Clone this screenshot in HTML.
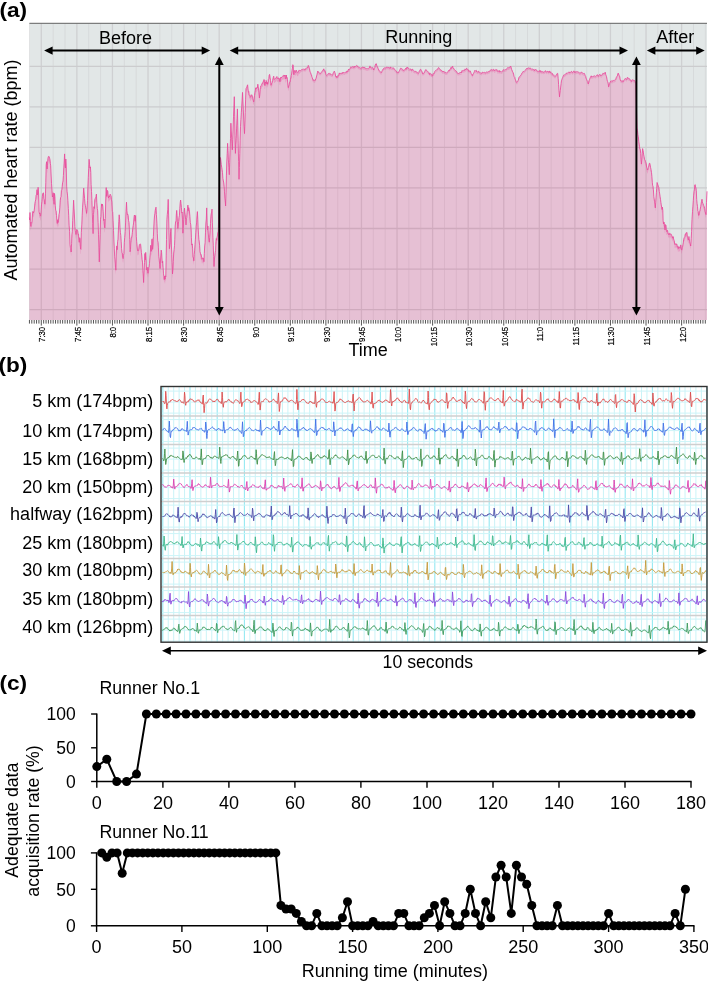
<!DOCTYPE html>
<html><head><meta charset="utf-8"><style>
html,body{margin:0;padding:0;background:#fff;width:708px;height:982px;overflow:hidden}
svg{display:block}
</style></head><body>
<svg width="708" height="982" viewBox="0 0 708 982">
<g transform="translate(-0.6,17.3) scale(1.08,1)"><text font-family='"Liberation Sans", sans-serif' font-weight="bold" font-size="21">(a)</text></g>
<rect x="29.4" y="23.5" width="677.6" height="296.5" fill="#e2e7e7"/>
<path d="M29.4,218.5L29.7,220.9L30,213.4L30.4,222.4L30.8,227.3L31.2,223.5L31.7,224.1L32.1,221.8L32.5,214.9L32.9,212.3L33.3,214L33.7,213.1L34.1,211.8L34.5,208.9L34.9,204.2L35.3,202.2L35.7,200.8L36.1,196.2L36.6,195.1L37,190.5L37.4,196L37.7,195.7L38.1,188.2L38.6,195L39.1,212.7L39.5,214.7L39.9,213.9L40.3,216.5L40.7,217.1L41.1,211.8L41.5,205.8L41.9,202.3L42.3,197.6L42.7,194.6L43.1,193.8L43.5,193.8L43.9,199.7L44.3,200.8L44.7,204.9L45.1,205.3L45.5,194.1L45.8,183.6L46.2,165.8L46.6,162.6L47.1,169.9L47.5,166.2L47.9,159.5L48.4,157.4L48.8,157.1L49.2,157.8L49.6,159.1L50,160.7L50.4,164.5L50.7,166.7L51.1,175.9L51.5,184.3L52,191.3L52.4,197.9L52.8,196.1L53.3,193.7L53.7,202.6L54.1,205.2L54.5,194.3L54.9,197.7L55.3,206.7L55.7,211.4L56.1,211.6L56.5,216.2L56.9,221.8L57.3,224.4L57.7,220.6L58.1,223.4L58.5,221.6L59,215.2L59.4,214L59.8,208.7L60.2,201.6L60.6,198.4L61,197.7L61.4,191.5L61.8,190.4L62.2,187.5L62.6,183.5L63,182L63.4,176.4L63.8,168.7L64.2,162.9L64.6,154.8L65,163.9L65.4,168.9L65.8,159.9L66.2,166L66.7,187.7L67.1,192.4L67.5,196L67.9,201.5L68.3,209.3L68.7,216.1L69.1,226.1L69.6,232.4L70,245.1L70.4,248.4L70.8,249.6L71.2,252.9L71.6,244.2L71.9,235.7L72.3,232.6L72.7,221.5L73.2,210.9L73.6,201.1L74,209L74.5,217.9L74.9,227.5L75.3,231.5L75.6,233.7L76,235.4L76.4,232.8L76.8,230.3L77.3,231.8L77.7,231.5L78.1,234.6L78.5,234.8L78.9,241.3L79.3,243.2L79.7,238.6L80.1,239.8L80.5,249.9L80.9,250.3L81.3,233.4L81.8,225.8L82.2,216.1L82.6,208.1L83,201.9L83.3,196L83.7,189L84.1,193.9L84.6,199.5L85,204.7L85.4,206.5L85.8,208.8L86.2,210.2L86.6,214.3L87,210.5L87.5,201.4L87.9,187.8L88.3,178.4L88.7,169.3L89.1,160.2L89.5,165.2L90,169L90.4,167.8L90.8,173.5L91.1,185.5L91.5,192.3L91.9,201.2L92.3,213.7L92.7,224.4L93.1,234.5L93.5,215.6L93.9,207.6L94.4,209.4L94.8,200.6L95.2,199.5L95.6,198.7L96,197.5L96.4,195L96.8,203.4L97.3,209.4L97.7,211.7L98.1,223.2L98.5,235.1L98.9,248L99.3,262.8L99.7,248.8L100.1,235.2L100.5,220.4L100.9,217.4L101.2,209.6L101.6,204.8L102,207.1L102.4,205L102.8,206.9L103.2,212.7L103.6,221.4L104.1,220.1L104.5,228.1L104.9,228.9L105.3,219.3L105.8,199L106.2,188.5L106.6,197.3L107,195L107.4,191.3L107.8,192.1L108.2,197.5L108.6,199L109,196.7L109.4,197.7L109.8,196.3L110.2,195.1L110.7,196.3L111.1,196.7L111.5,200.7L111.9,202.9L112.3,212.2L112.7,212.7L113.1,221.6L113.5,231.2L113.9,240.8L114.3,249.7L114.7,257.7L115.1,260.8L115.5,268.2L115.9,271.1L116.3,252.9L116.8,246.8L117.2,250.6L117.6,242.3L118,240.2L118.4,231L118.8,222.4L119.2,215.7L119.6,220.4L120,228.5L120.4,233.3L120.8,236.3L121.2,242.7L121.6,249.5L122,253.4L122.3,253.9L122.7,258.2L123.1,259.5L123.5,256.2L123.9,254.5L124.3,243.4L124.7,238.5L125.2,232.3L125.6,223L126,212.5L126.5,203.1L126.9,211.5L127.4,215.8L127.8,215.2L128.2,216.8L128.6,221.7L129,223.3L129.4,230.7L129.7,240.2L130.1,252.7L130.5,250.3L130.9,241.3L131.3,238.3L131.7,238.4L132.1,235.7L132.4,233.2L132.8,228.7L133.2,226.6L133.6,223.9L134,218.6L134.4,215.9L134.8,217.2L135.2,222.1L135.6,216.4L135.9,224.3L136.3,237.2L136.7,242.6L137.1,246.9L137.5,251.3L137.9,252L138.3,250.9L138.7,251.2L139,248L139.4,245.4L139.8,245L140.2,244.8L140.6,245.1L141,249.1L141.4,253.5L141.8,256.9L142.1,260.2L142.5,263L142.9,271.2L143.2,274.7L143.6,283.4L144,273.1L144.5,263.4L144.9,254.4L145.3,260.8L145.7,253.3L146.1,259L146.5,270.8L146.9,271.1L147.2,268.2L147.6,272.3L148,274.2L148.4,271L148.8,268L149.1,267.8L149.5,264.2L149.9,258L150.3,253.5L150.7,246.2L151.1,251.2L151.5,252.2L151.8,240.6L152.2,239.7L152.6,250.3L153,246.1L153.4,237.2L153.7,230.9L154.1,222L154.5,216.8L154.9,214.2L155.2,211.5L155.6,209.5L156,208.1L156.4,215.4L156.9,224.1L157.3,234.2L157.7,241.7L158.1,243.1L158.4,248.8L158.8,257.4L159.2,259.8L159.7,265.7L160.1,269.5L160.5,261.9L160.8,256.8L161.2,251L161.6,253.3L161.9,258.9L162.3,263.9L162.7,262.2L163.1,268.2L163.5,274.7L163.9,277.2L164.3,280.5L164.7,277L165.1,280.1L165.4,276.7L165.8,277.7L166.2,256.8L166.5,240.5L166.9,220.3L167.3,215.2L167.8,210.1L168.2,200.3L168.6,216L169,233.1L169.4,249.6L169.8,245.8L170.2,243.7L170.6,232.6L171,229.2L171.4,245.9L171.8,255.5L172.1,263.6L172.5,274.8L172.9,270.3L173.3,262.2L173.7,253.9L174.1,250.4L174.5,246.6L174.8,240.3L175.2,226.8L175.6,222.6L176,222.7L176.3,215.9L176.7,211.3L177.1,216.6L177.4,222.8L177.8,229.4L178.2,227.2L178.6,222.5L179,218.3L179.4,216.7L179.8,209.2L180.2,203.8L180.6,200.9L181,204.2L181.4,208.3L181.8,214L182.2,213.1L182.5,220.8L182.9,234.1L183.3,227.9L183.7,220.1L184.1,212.2L184.5,209L184.9,213.7L185.2,215.4L185.6,220.2L186,225.8L186.4,219.7L186.7,218.5L187.1,213.1L187.5,209.6L187.9,206L188.3,211.6L188.7,208.5L189.1,210.1L189.5,212.9L189.9,217.4L190.3,223.6L190.7,225.1L191.1,229.7L191.4,238.7L191.8,246L192.2,244.8L192.6,249.1L193,258.4L193.4,258.4L193.8,261.7L194.2,255.5L194.6,251.8L195,245.4L195.4,240.1L195.8,233.6L196.2,227.1L196.6,223.8L197,216.6L197.4,212.5L197.8,220.6L198.1,228.4L198.5,235L198.9,240.4L199.2,242L199.6,246.1L200,252.4L200.4,254.1L200.8,255.8L201.2,255.5L201.6,258.1L202,260.3L202.4,259.1L202.8,258.7L203.1,259.5L203.5,259.2L203.9,262.6L204.3,254.6L204.7,246.8L205.1,243.6L205.5,233.1L205.9,223.9L206.3,220L206.7,208.8L207.1,223.8L207.5,230.6L207.9,227L208.3,234.9L208.8,239.9L209.3,243.1L209.7,238.2L210.1,231.2L210.5,224.5L210.9,217.1L211.3,214.1L211.6,214L212,210L212.4,223.1L212.9,238.1L213.3,246.6L213.6,257.6L214,267.4L214.4,260.9L214.8,256.1L215.2,253.5L215.6,251.2L215.9,242.4L216.3,239.4L216.7,241.1L217,238L217.4,237L217.8,233.3L218.2,233.3L218.6,220.2L218.9,203.9L219.3,188L219.7,176.7L220.1,158.3L220.5,158.7L220.9,161.9L221.3,165.5L221.7,168.1L222.1,170.4L222.5,173.6L222.9,179.4L223.4,181.8L223.8,183.9L224.2,187.7L224.5,192.7L224.9,199.4L225.2,201L225.6,206.9L226,193.4L226.4,176.8L226.8,162.8L227.2,154.6L227.6,144.2L228,151.2L228.4,160.8L228.9,168.6L229.3,175.6L229.7,163.6L230.1,151.1L230.5,139.3L230.9,124.1L231.2,131L231.6,138L232,144.2L232.3,150.7L232.7,140.2L233.1,128.9L233.5,117.7L233.9,108.1L234.3,97.6L234.7,117.1L235,136.3L235.4,154.3L235.8,145.1L236.2,139.2L236.6,129L237,119.2L237.4,109.8L237.8,126.7L238.2,144.8L238.6,162.6L239,180.2L239.4,168.4L239.8,154.3L240.1,141.1L240.5,127.6L240.9,120.4L241.3,113.7L241.7,107.8L242.1,101L242.5,93.3L242.9,102L243.3,110.8L243.7,118.9L244.1,127.5L244.5,134.5L244.9,123.9L245.2,113.4L245.6,100.1L246,89.1L246.4,88.9L246.8,88.2L247.2,86.8L247.6,85.7L248,89.8L248.4,93.2L248.8,92.5L249.2,95.7L249.6,96.2L250,95.8L250.4,98.3L250.9,97.8L251.3,96.7L251.7,95.6L252.1,96.3L252.5,97.2L252.9,99.6L253.3,101.2L253.7,102.7L254.1,100.6L254.5,96.6L254.9,93.3L255.3,91.4L255.7,88.7L256.1,89.8L256.5,89.7L257,88.2L257.4,88.7L257.8,85.1L258.2,87.5L258.6,91.1L259,93.7L259.4,98.8L259.8,95.8L260.1,90.6L260.4,88.6L260.8,86.8L261.2,86.5L261.6,85.8L262,84.3L262.4,84.2L262.7,84.4L263.1,82.4L263.5,82.4L263.9,80.4L264.3,80.7L264.6,86.2L265,86.6L265.4,83.1L265.8,84.2L266.1,81.3L266.5,82.4L266.9,85L267.3,83.2L267.7,85.3L268.1,83.7L268.4,80.2L268.8,79.5L269.2,76L269.6,75.3L270.1,78.4L270.5,81.4L271,86.2L271.4,84.8L271.8,83.9L272.2,83.3L272.6,81.4L272.9,79.9L273.3,78.4L273.7,77.1L274.1,80.3L274.5,80.2L274.9,80.1L275.3,79.3L275.7,79.2L276.1,79.2L276.5,77.9L276.9,77.4L277.3,79.5L277.7,79.4L278.1,78.6L278.5,78.9L278.9,80L279.3,79.4L279.7,82.3L280.1,82.7L280.6,78.3L281,78.9L281.4,78.9L281.8,77.8L282.2,77.5L282.6,77.2L283,76.6L283.4,76.3L283.8,77.4L284.3,76.3L284.7,77L285.1,75.9L285.5,79.8L285.9,79.9L286.3,75.9L286.7,79L287.1,78.5L287.5,80.4L287.9,86.1L288.3,88.6L288.7,87L289.1,85.6L289.6,83.1L290,82.9L290.4,80.4L290.8,78.9L291.2,76.3L291.6,74.9L292,71.4L292.4,69.1L292.8,65.6L293.2,66.2L293.6,75.4L294,75.8L294.4,71.5L294.9,71.6L295.3,72.8L295.7,73.5L296.1,70.9L296.5,71.8L296.9,72.6L297.3,73.3L297.7,73.6L298.1,73.4L298.5,71.8L298.9,71.2L299.3,71.3L299.7,71.2L300.1,71.7L300.5,71.7L300.9,71.1L301.3,70.7L301.7,70.7L302.1,70.1L302.6,70.3L303,70.3L303.4,70.2L303.8,69.9L304.2,70.1L304.6,70L305,71.1L305.4,70.4L305.8,69.2L306.2,69.3L306.7,68.9L307.1,68.4L307.5,68.8L307.9,67.9L308.3,66.3L308.7,67.3L309.1,68.2L309.5,69.7L309.9,71.9L310.3,73.3L310.7,73.6L311.1,75.5L311.5,75.7L311.9,77.7L312.3,78.6L312.7,80.1L313.1,81.4L313.4,81.3L313.8,80.5L314.2,81.3L314.6,81.8L314.9,81.8L315.3,81L315.7,79.8L316.1,79.1L316.6,76.8L317,75.4L317.4,73.7L317.8,71.9L318.2,72.6L318.6,73.5L319.1,73.9L319.5,73.7L319.9,74.5L320.3,74.5L320.7,73.9L321.1,73.6L321.5,72.8L321.9,72.5L322.2,72.4L322.6,71.6L323,70.6L323.4,70.8L323.8,69.7L324.2,71.1L324.6,72.2L325,71.6L325.4,72.4L325.9,75.3L326.3,76.2L326.7,76.2L327.1,76.3L327.5,75.8L327.9,75.1L328.4,74.3L328.8,74.5L329.2,74.2L329.6,75.1L329.9,74.6L330.3,74.6L330.7,75.5L331.1,75.4L331.4,75.6L331.8,75.8L332.2,76.1L332.6,76.2L333.1,74.1L333.5,73.3L333.9,72.8L334.3,72L334.7,73.1L335.2,74.3L335.6,77L336,78L336.5,77.2L336.9,78.7L337.3,77.7L337.7,76.6L338.1,77.1L338.6,77L339,74.7L339.4,73.8L339.8,74.9L340.2,74.6L340.5,74.5L340.9,73.9L341.3,74L341.7,74L342.1,74.7L342.4,74.2L342.8,73L343.2,73.4L343.6,73.6L344,73.4L344.3,73.9L344.7,73.8L345.1,73.2L345.5,72.9L345.9,73.3L346.2,73.4L346.6,72.3L347,71.8L347.4,73L347.8,72.3L348.2,70.9L348.6,70.1L348.9,70.9L349.3,70.4L349.7,70.1L350.1,69.5L350.5,68.6L350.9,67.7L351.3,68.2L351.7,68.2L352.1,67.6L352.6,67.6L353,68.2L353.4,68.4L353.8,67.6L354.2,66.9L354.6,68.3L355.1,67.8L355.5,67.2L355.9,67.1L356.3,66.8L356.7,66.3L357.1,66.6L357.5,66.9L357.9,67.9L358.3,68.1L358.6,68.1L359,68.1L359.4,68.5L359.8,68.6L360.2,68.6L360.6,69.3L361,68.8L361.4,68.8L361.8,68.7L362.1,68.5L362.5,68L362.9,67.7L363.3,69L363.7,68.4L364,68.8L364.4,68.2L364.8,69.2L365.2,69.1L365.7,69.1L366.1,69.1L366.5,69.7L367,69.9L367.4,69.7L367.8,69.3L368.2,69.6L368.6,69L369.1,69.3L369.5,68.9L369.9,66.8L370.3,67.5L370.7,68.6L371,69L371.4,68.7L371.8,69.1L372.2,68.4L372.6,68.7L372.9,68.6L373.3,69.5L373.7,70.9L374.1,69.8L374.4,69.3L374.8,68.4L375.2,66.1L375.6,65L375.9,65.2L376.3,64.6L376.7,66.2L377.1,67.1L377.6,67.8L378,69.4L378.4,69.7L378.8,71.2L379.2,71.3L379.7,72L380.1,72.5L380.5,73.1L381,73.3L381.4,73.7L381.8,72.3L382.2,71.6L382.6,70.8L383.1,69.9L383.5,70L383.9,69L384.3,69L384.7,68.6L385,69L385.4,69L385.8,68.7L386.2,68.6L386.6,67.9L386.9,68L387.3,68.3L387.7,67.8L388.1,68.4L388.5,68L388.8,68.6L389.2,68.5L389.6,69.2L390,69.6L390.4,67.8L390.7,68.5L391.1,68.3L391.5,68.7L391.9,69.1L392.3,68.7L392.6,69.2L393,69.1L393.4,68.8L393.8,68.9L394.2,70.1L394.5,70.4L394.9,70.5L395.3,70.8L395.7,71.4L396.2,71.8L396.6,72.7L397,73.5L397.5,73L397.9,72.9L398.3,73.6L398.7,72.7L399.1,72.2L399.6,71.2L400,70.4L400.4,69.4L400.8,68.9L401.2,69.1L401.5,69.8L401.9,70.1L402.3,70.1L402.7,70.3L403.1,71.4L403.4,71.4L403.8,70.8L404.2,71.2L404.6,70.6L404.9,70.2L405.3,70L405.7,69.2L406.1,70.4L406.4,70.1L406.8,68.3L407.2,68.8L407.6,68L407.9,68.5L408.3,69.7L408.7,69.7L409.1,70.1L409.5,69.8L409.8,70.1L410.2,69.9L410.6,70L411,69.9L411.4,71.3L411.9,71.3L412.3,70L412.7,70.1L413.1,71.2L413.6,71.6L414,72L414.4,72.1L414.8,72.3L415.2,72L415.5,72.5L415.9,72.2L416.3,72.8L416.7,72.9L417.1,72.9L417.4,73.8L417.8,74.3L418.2,74.6L418.6,74L418.9,73.2L419.3,72L419.7,71.4L420.1,70.5L420.4,70.3L420.8,70.2L421.2,71.6L421.6,71.7L422.1,72.8L422.5,73.8L422.9,75L423.3,74.3L423.7,73.9L424.2,73.8L424.6,72.6L425,71.9L425.5,70.8L425.9,70.4L426.3,71.4L426.7,71.5L427.1,71.9L427.6,72.3L428,72.4L428.4,73L428.8,73.6L429.2,75L429.5,75.5L429.9,73.8L430.3,74.7L430.7,75.3L431.1,75.3L431.4,75.2L431.8,75.3L432.2,77.2L432.6,76.4L432.9,75.2L433.3,74.4L433.7,75L434.1,74.7L434.4,73.2L434.8,72.3L435.2,71.9L435.6,71.4L435.9,71.5L436.3,71.1L436.7,70.5L437.1,70.4L437.5,70.3L437.8,69.4L438.2,69.2L438.6,68.4L439,69.3L439.4,69.4L439.9,70.4L440.3,70.7L440.7,70.5L441.1,71.5L441.6,71.5L442,71.6L442.4,72.6L442.8,72.7L443.2,71.9L443.5,72.6L443.9,72.7L444.3,72.8L444.7,72.9L445.1,72.8L445.4,73.8L445.8,73.8L446.2,73.9L446.6,73.7L447,73.4L447.3,73.3L447.7,73.2L448.1,72.3L448.5,71.6L448.9,70.9L449.2,71.4L449.6,71.6L450,69.9L450.4,69.7L450.7,69L451.1,68.2L451.5,69.4L451.9,68.8L452.2,67.6L452.6,66.9L453,68.5L453.4,69.4L453.9,69.4L454.3,70.4L454.7,70.7L455.1,71.3L455.5,71.5L455.9,71.7L456.4,72.5L456.8,72.5L457.2,73.5L457.6,74.3L458.1,74.2L458.5,74.4L458.9,74.4L459.3,73.9L459.7,74.1L460,73.3L460.4,73.9L460.8,73.4L461.2,73.9L461.6,72.9L461.9,71.5L462.3,71.6L462.7,71.6L463.1,71.5L463.5,71.6L463.8,71.1L464.2,71.4L464.6,71.4L465,69.8L465.4,70.4L465.7,70.9L466.1,70.3L466.5,69.1L466.9,69.4L467.3,70.2L467.7,70.2L468.1,70.9L468.4,70.8L468.8,72.2L469.2,72.6L469.6,71.7L470,72.1L470.4,72L470.8,73.4L471.2,74.4L471.7,75L472.1,76.3L472.5,76.6L472.9,75L473.2,74.8L473.6,74.2L474,73.3L474.4,72.4L474.7,71.4L475.1,72.1L475.5,71.8L475.9,71.4L476.3,71.2L476.7,72.9L477.1,73.1L477.5,73L477.8,73L478.2,72.1L478.6,72.1L479,73.3L479.4,72.9L479.8,73.3L480.2,74L480.6,73.8L481,74L481.4,74.4L481.8,74.4L482.2,72.9L482.6,73.2L482.9,73.3L483.3,73.5L483.7,73.4L484.1,73.4L484.5,73.2L484.9,73.5L485.3,74.2L485.7,73.5L486.1,73.5L486.6,72.7L487,73.1L487.4,73.3L487.8,73L488.2,72.3L488.6,72.6L489.1,72.3L489.5,72.5L489.9,71.8L490.3,71L490.7,70.8L491.1,70.5L491.5,70.4L491.9,71.5L492.3,71.2L492.7,70.9L493,70.7L493.4,70.2L493.8,70.1L494.2,72L494.6,71.4L495,71.6L495.4,71.2L495.8,70.3L496.2,70.4L496.6,70.8L497,70.5L497.4,72.3L497.8,72.4L498.1,72.6L498.5,72.4L498.9,71.4L499.3,71.4L499.7,73.1L500.1,72.8L500.5,72.2L500.9,72.2L501.3,72.7L501.7,73L502.1,72.6L502.5,72.1L502.9,71.2L503.2,70.6L503.6,70.9L504,70.6L504.4,71L504.8,70.7L505.2,70.5L505.6,70.5L506,70.6L506.4,70.4L506.8,69.5L507.2,69.1L507.6,68.9L508,68.3L508.3,68.8L508.7,68.8L509.1,68.8L509.5,68.5L509.9,67.6L510.3,67.8L510.7,67L511.1,68.1L511.5,70.1L512,71L512.4,72.1L512.8,73.1L513.2,73.6L513.6,75L514,77.2L514.4,77.8L514.8,78.4L515.1,79.7L515.5,80.7L515.9,81.9L516.3,83.3L516.7,83L517.1,83.1L517.5,82.5L518,81.5L518.4,80.9L518.8,78.7L519.2,77.9L519.6,77.5L520,77.2L520.4,76.7L520.9,75.8L521.3,75.5L521.7,74.3L522.1,74L522.6,73.2L523,72.7L523.4,71.9L523.8,72.4L524.2,72.2L524.6,71.8L525,71.3L525.4,71L525.8,70.4L526.1,70.3L526.5,69.5L526.9,69.4L527.3,68.9L527.7,69.5L528.1,68.9L528.5,68.6L528.9,69.1L529.3,69L529.7,69.4L530.1,68.7L530.5,69.2L530.9,70L531.2,70.2L531.6,69.8L532,69.8L532.4,70L532.8,69.8L533.2,70.5L533.6,70.4L534,71.1L534.4,71.7L534.9,70.2L535.3,70.4L535.7,70.6L536.1,70.4L536.5,71.3L536.9,71.2L537.4,72.4L537.8,72.7L538.2,72.3L538.6,72.3L539,71.7L539.4,71.4L539.8,72.7L540.2,72.8L540.6,71.5L541,71.8L541.3,73.2L541.7,72.7L542.1,72.3L542.5,72.7L542.9,72.7L543.3,73.4L543.7,72.7L544.1,72.7L544.5,72.8L544.9,72.6L545.3,71.6L545.7,71.7L546.1,72.9L546.4,73.2L546.8,72.5L547.2,72.2L547.6,72.4L548,72.1L548.4,73.2L548.8,73.3L549.2,71.9L549.5,72L549.9,73.5L550.3,73.6L550.7,72.6L551,73.3L551.4,74.1L551.8,74.6L552.2,74.4L552.5,74.4L552.9,76.1L553.3,76.1L553.7,75.7L554.1,76.6L554.4,76.8L554.8,77.2L555.2,77.5L555.6,76.9L556,76.2L556.5,75.3L556.9,75.2L557.3,74.3L557.7,74.3L558.2,79.6L558.6,85.6L559,91.3L559.5,97.8L559.9,94L560.3,91.2L560.7,87.9L561.1,84.3L561.5,81.2L561.9,80.3L562.2,79.5L562.6,78.5L563,77.5L563.4,76.6L563.7,75.9L564.1,76.1L564.5,75.6L564.9,75.6L565.3,75.3L565.7,74.8L566.1,74.8L566.5,73.9L566.8,74L567.2,74.2L567.6,73.7L568,73.4L568.4,73.3L568.8,73L569.2,72.8L569.6,73.9L570,73.9L570.5,73.2L570.9,73L571.3,72.3L571.7,72.2L572.1,73.4L572.5,73.6L573,72.9L573.4,72.6L573.8,71.8L574.2,72L574.6,73.4L575,73.8L575.4,73L575.8,72.4L576.2,73.2L576.6,72.8L576.9,72.3L577.3,72.5L577.7,73L578.1,72.7L578.5,72.9L578.9,73.3L579.3,74.1L579.7,73.8L580.1,74.3L580.5,74L580.9,73.2L581.3,73.3L581.7,73.1L582,73.2L582.4,74.1L582.8,74L583.2,74.3L583.6,74.4L584,74.4L584.4,74.3L584.8,75.4L585.2,76.4L585.7,77.3L586.1,79L586.5,80.1L586.9,81.1L587.4,81.8L587.8,82.4L588.2,84.9L588.6,84.1L589.1,81.4L589.5,80.4L589.9,79.3L590.4,78.3L590.8,77.4L591.2,76.7L591.6,78L592,78L592.4,77.5L592.8,77.5L593.2,77.2L593.5,77.4L593.9,76.7L594.3,76.7L594.7,77L595.1,77.3L595.5,77.3L595.9,77L596.3,76.8L596.7,76.2L597.1,75.6L597.6,75.8L598,76.8L598.4,77.3L598.8,76.2L599.2,75.7L599.6,75.4L600.1,75.3L600.5,76.5L600.9,76.2L601.3,76.8L601.7,76.3L602.1,75.3L602.5,75.2L602.9,74.2L603.3,74.5L603.7,74.5L604.1,73.8L604.5,74.1L604.9,74.2L605.3,73.2L605.7,75.3L606.1,76.3L606.5,77.4L607,80.2L607.4,82.2L607.8,82.7L608.2,84.2L608.6,87.7L609,86.6L609.4,84.3L609.9,83.5L610.3,82.9L610.7,82L611.1,82.1L611.5,81.8L611.9,82.1L612.4,82.4L612.8,81.3L613.2,81.3L613.6,81.4L614.1,81.4L614.5,81.1L614.9,81.2L615.3,80.9L615.7,80.4L616.1,78.8L616.5,78L617,77.2L617.4,76.8L617.8,74.9L618.2,74L618.6,74.8L619,76.1L619.4,76.6L619.8,77.8L620.1,79.9L620.5,81.7L620.9,81.4L621.3,82L621.7,82.2L622.1,81.5L622.4,82.2L622.8,81.8L623.2,82.6L623.6,81.6L624,80.9L624.3,80.6L624.7,79.9L625.1,79.4L625.5,79.7L625.9,79.4L626.4,80.3L626.8,80.6L627.2,78.6L627.6,78.1L628,78.9L628.4,79.6L628.8,79.4L629.2,79.5L629.5,79.6L629.9,79.9L630.3,81.3L630.7,81.5L631.1,82.3L631.5,82.5L631.9,80.9L632.3,81L632.8,80.5L633.2,80.9L633.6,81.4L634,81.3L634.5,81.4L634.9,81.9L635.3,83.1L635.8,83.8L636.2,99.5L636.6,114.5L637,129L637.5,131.5L637.9,135.7L638.3,137.6L638.8,142.5L639.2,145L639.5,147.4L639.9,150.1L640.3,150.1L640.7,154.4L641,160.1L641.4,165L641.8,161L642.2,154.6L642.6,149.5L643,151.2L643.4,153.1L643.7,155.8L644.1,157.5L644.5,160.2L645,161L645.5,162.3L645.9,163.4L646.3,164.8L646.6,168.6L647,169.4L647.3,170.8L647.7,170.9L648.1,168.7L648.5,167.2L648.9,166.2L649.3,164.2L649.7,164L650.2,166L650.6,168.6L651,170.2L651.5,173.5L651.9,177.4L652.3,183.2L652.6,186.2L653,187.1L653.4,190.7L653.8,197.4L654.2,199.8L654.5,202.1L654.9,205L655.3,208.8L655.7,203.6L656,198.8L656.4,193.7L656.7,189.3L657.1,183.4L657.5,184.9L658,186L658.5,187.8L658.9,188.4L659.3,192.6L659.7,194.8L660.1,197.4L660.5,200.2L660.9,203.3L661.2,205.1L661.6,208L662,210.4L662.4,208L662.8,211.3L663.1,221.5L663.5,224.9L663.9,222.9L664.3,224L664.7,229.8L665.1,230.9L665.5,225.5L666,226.3L666.4,231.8L666.8,232.6L667.2,231.1L667.6,231.2L668.1,234.6L668.5,235.5L668.9,234.2L669.3,234.1L669.8,235.8L670.2,235.1L670.6,234.6L671,234.9L671.5,236L671.9,236.8L672.4,237.9L672.8,239.2L673.2,237.5L673.6,239.8L674,241.1L674.3,241.7L674.7,245.2L675.1,245.7L675.5,245.2L675.9,244.4L676.3,245.5L676.8,244.9L677.2,247.3L677.6,246.8L678,249.3L678.4,249.5L678.8,247.5L679.2,249.1L679.7,248.5L680.1,249.2L680.5,246L680.9,245.8L681.4,250.8L681.8,250.8L682.2,248.7L682.5,247.8L682.9,245.7L683.3,243.7L683.6,240.6L684,239.1L684.4,238.3L684.8,237.8L685.1,235.6L685.5,236.1L685.9,234L686.3,234.3L686.7,233.2L687,233.8L687.4,238.3L687.8,238.9L688.1,240.3L688.5,241L688.9,237.4L689.2,239.4L689.6,242.7L690,244.3L690.3,245L690.7,246.9L691.2,239.5L691.6,232.2L692,220.4L692.5,212.6L692.9,207.1L693.3,201.5L693.6,196.8L694,192.4L694.4,190.8L694.8,185.8L695.2,185.5L695.5,188.2L695.9,188.2L696.3,191.5L696.7,200.4L697.1,204.6L697.5,207.5L697.8,211.8L698.2,212.4L698.6,216.3L699,216.2L699.4,212.5L699.8,212.2L700.2,210.2L700.7,207.5L701.1,204.9L701.5,202.3L702,200.1L702.4,202.7L702.7,204L703.1,204.6L703.5,206.1L703.8,206.6L704.2,207.4L704.7,209.6L705.1,212.3L705.5,213.9L706,215.5L706.5,203.2L707,192.2L707,320L29.4,320Z" fill="#e6c0d4"/>
<g style="mix-blend-mode:multiply"><line x1="29.44" y1="23.5" x2="29.44" y2="320" stroke="#f3f1f2" stroke-width="1"/><line x1="41.30" y1="23.5" x2="41.30" y2="320" stroke="#eae6e8" stroke-width="1.3"/><line x1="53.16" y1="23.5" x2="53.16" y2="320" stroke="#f3f1f2" stroke-width="1"/><line x1="65.02" y1="23.5" x2="65.02" y2="320" stroke="#f3f1f2" stroke-width="1"/><line x1="76.87" y1="23.5" x2="76.87" y2="320" stroke="#eae6e8" stroke-width="1.3"/><line x1="88.73" y1="23.5" x2="88.73" y2="320" stroke="#f3f1f2" stroke-width="1"/><line x1="100.59" y1="23.5" x2="100.59" y2="320" stroke="#f3f1f2" stroke-width="1"/><line x1="112.45" y1="23.5" x2="112.45" y2="320" stroke="#eae6e8" stroke-width="1.3"/><line x1="124.30" y1="23.5" x2="124.30" y2="320" stroke="#f3f1f2" stroke-width="1"/><line x1="136.16" y1="23.5" x2="136.16" y2="320" stroke="#f3f1f2" stroke-width="1"/><line x1="148.02" y1="23.5" x2="148.02" y2="320" stroke="#eae6e8" stroke-width="1.3"/><line x1="159.88" y1="23.5" x2="159.88" y2="320" stroke="#f3f1f2" stroke-width="1"/><line x1="171.73" y1="23.5" x2="171.73" y2="320" stroke="#f3f1f2" stroke-width="1"/><line x1="183.59" y1="23.5" x2="183.59" y2="320" stroke="#eae6e8" stroke-width="1.3"/><line x1="195.45" y1="23.5" x2="195.45" y2="320" stroke="#f3f1f2" stroke-width="1"/><line x1="207.31" y1="23.5" x2="207.31" y2="320" stroke="#f3f1f2" stroke-width="1"/><line x1="219.16" y1="23.5" x2="219.16" y2="320" stroke="#eae6e8" stroke-width="1.3"/><line x1="231.02" y1="23.5" x2="231.02" y2="320" stroke="#f3f1f2" stroke-width="1"/><line x1="242.88" y1="23.5" x2="242.88" y2="320" stroke="#f3f1f2" stroke-width="1"/><line x1="254.74" y1="23.5" x2="254.74" y2="320" stroke="#eae6e8" stroke-width="1.3"/><line x1="266.59" y1="23.5" x2="266.59" y2="320" stroke="#f3f1f2" stroke-width="1"/><line x1="278.45" y1="23.5" x2="278.45" y2="320" stroke="#f3f1f2" stroke-width="1"/><line x1="290.31" y1="23.5" x2="290.31" y2="320" stroke="#eae6e8" stroke-width="1.3"/><line x1="302.17" y1="23.5" x2="302.17" y2="320" stroke="#f3f1f2" stroke-width="1"/><line x1="314.02" y1="23.5" x2="314.02" y2="320" stroke="#f3f1f2" stroke-width="1"/><line x1="325.88" y1="23.5" x2="325.88" y2="320" stroke="#eae6e8" stroke-width="1.3"/><line x1="337.74" y1="23.5" x2="337.74" y2="320" stroke="#f3f1f2" stroke-width="1"/><line x1="349.60" y1="23.5" x2="349.60" y2="320" stroke="#f3f1f2" stroke-width="1"/><line x1="361.45" y1="23.5" x2="361.45" y2="320" stroke="#eae6e8" stroke-width="1.3"/><line x1="373.31" y1="23.5" x2="373.31" y2="320" stroke="#f3f1f2" stroke-width="1"/><line x1="385.17" y1="23.5" x2="385.17" y2="320" stroke="#f3f1f2" stroke-width="1"/><line x1="397.03" y1="23.5" x2="397.03" y2="320" stroke="#eae6e8" stroke-width="1.3"/><line x1="408.88" y1="23.5" x2="408.88" y2="320" stroke="#f3f1f2" stroke-width="1"/><line x1="420.74" y1="23.5" x2="420.74" y2="320" stroke="#f3f1f2" stroke-width="1"/><line x1="432.60" y1="23.5" x2="432.60" y2="320" stroke="#eae6e8" stroke-width="1.3"/><line x1="444.46" y1="23.5" x2="444.46" y2="320" stroke="#f3f1f2" stroke-width="1"/><line x1="456.31" y1="23.5" x2="456.31" y2="320" stroke="#f3f1f2" stroke-width="1"/><line x1="468.17" y1="23.5" x2="468.17" y2="320" stroke="#eae6e8" stroke-width="1.3"/><line x1="480.03" y1="23.5" x2="480.03" y2="320" stroke="#f3f1f2" stroke-width="1"/><line x1="491.89" y1="23.5" x2="491.89" y2="320" stroke="#f3f1f2" stroke-width="1"/><line x1="503.74" y1="23.5" x2="503.74" y2="320" stroke="#eae6e8" stroke-width="1.3"/><line x1="515.60" y1="23.5" x2="515.60" y2="320" stroke="#f3f1f2" stroke-width="1"/><line x1="527.46" y1="23.5" x2="527.46" y2="320" stroke="#f3f1f2" stroke-width="1"/><line x1="539.32" y1="23.5" x2="539.32" y2="320" stroke="#eae6e8" stroke-width="1.3"/><line x1="551.17" y1="23.5" x2="551.17" y2="320" stroke="#f3f1f2" stroke-width="1"/><line x1="563.03" y1="23.5" x2="563.03" y2="320" stroke="#f3f1f2" stroke-width="1"/><line x1="574.89" y1="23.5" x2="574.89" y2="320" stroke="#eae6e8" stroke-width="1.3"/><line x1="586.75" y1="23.5" x2="586.75" y2="320" stroke="#f3f1f2" stroke-width="1"/><line x1="598.60" y1="23.5" x2="598.60" y2="320" stroke="#f3f1f2" stroke-width="1"/><line x1="610.46" y1="23.5" x2="610.46" y2="320" stroke="#eae6e8" stroke-width="1.3"/><line x1="622.32" y1="23.5" x2="622.32" y2="320" stroke="#f3f1f2" stroke-width="1"/><line x1="634.17" y1="23.5" x2="634.17" y2="320" stroke="#f3f1f2" stroke-width="1"/><line x1="646.03" y1="23.5" x2="646.03" y2="320" stroke="#eae6e8" stroke-width="1.3"/><line x1="657.89" y1="23.5" x2="657.89" y2="320" stroke="#f3f1f2" stroke-width="1"/><line x1="669.75" y1="23.5" x2="669.75" y2="320" stroke="#f3f1f2" stroke-width="1"/><line x1="681.61" y1="23.5" x2="681.61" y2="320" stroke="#eae6e8" stroke-width="1.3"/><line x1="693.46" y1="23.5" x2="693.46" y2="320" stroke="#f3f1f2" stroke-width="1"/><line x1="705.32" y1="23.5" x2="705.32" y2="320" stroke="#f3f1f2" stroke-width="1"/><line x1="29.4" y1="66.30" x2="707" y2="66.30" stroke="#e6e2e4" stroke-width="1.3"/><line x1="29.4" y1="106.85" x2="707" y2="106.85" stroke="#e6e2e4" stroke-width="1.3"/><line x1="29.4" y1="147.40" x2="707" y2="147.40" stroke="#e6e2e4" stroke-width="1.3"/><line x1="29.4" y1="187.95" x2="707" y2="187.95" stroke="#e6e2e4" stroke-width="1.3"/><line x1="29.4" y1="228.50" x2="707" y2="228.50" stroke="#e6e2e4" stroke-width="1.3"/><line x1="29.4" y1="269.05" x2="707" y2="269.05" stroke="#e6e2e4" stroke-width="1.3"/><line x1="29.4" y1="309.60" x2="707" y2="309.60" stroke="#e6e2e4" stroke-width="1.3"/></g>
<path d="M29.4,217.6L29.7,220L30,212.5L30.4,221.5L30.8,226.4L31.2,222.6L31.7,223.2L32.1,220.9L32.5,214L32.9,211.4L33.3,213.1L33.7,212.2L34.1,210.9L34.5,208L34.9,203.3L35.3,201.3L35.7,199.9L36.1,195.3L36.6,194.2L37,189.6L37.4,195.1L37.7,194.8L38.1,187.3L38.6,194.1L39.1,211.8L39.5,213.8L39.9,213L40.3,215.6L40.7,216.2L41.1,210.9L41.5,204.9L41.9,201.4L42.3,196.7L42.7,193.7L43.1,192.9L43.5,192.9L43.9,198.8L44.3,199.9L44.7,204L45.1,204.4L45.5,193.2L45.8,182.7L46.2,164.9L46.6,161.7L47.1,169L47.5,165.3L47.9,158.6L48.4,156.5L48.8,156.2L49.2,156.9L49.6,158.2L50,159.8L50.4,163.6L50.7,165.8L51.1,175L51.5,183.4L52,190.4L52.4,197L52.8,195.2L53.3,192.8L53.7,201.7L54.1,204.3L54.5,193.4L54.9,196.8L55.3,205.8L55.7,210.5L56.1,210.7L56.5,215.3L56.9,220.9L57.3,223.5L57.7,219.7L58.1,222.5L58.5,220.7L59,214.3L59.4,213.1L59.8,207.8L60.2,200.7L60.6,197.5L61,196.8L61.4,190.6L61.8,189.5L62.2,186.6L62.6,182.6L63,181.1L63.4,175.5L63.8,167.8L64.2,162L64.6,153.9L65,163L65.4,168L65.8,159L66.2,165.1L66.7,186.8L67.1,191.5L67.5,195.1L67.9,200.6L68.3,208.4L68.7,215.2L69.1,225.2L69.6,231.5L70,244.2L70.4,247.5L70.8,248.7L71.2,252L71.6,243.3L71.9,234.8L72.3,231.7L72.7,220.6L73.2,210L73.6,200.2L74,208.1L74.5,217L74.9,226.6L75.3,230.6L75.6,232.8L76,234.5L76.4,231.9L76.8,229.4L77.3,230.9L77.7,230.6L78.1,233.7L78.5,233.9L78.9,240.4L79.3,242.3L79.7,237.7L80.1,238.9L80.5,249L80.9,249.4L81.3,232.5L81.8,224.9L82.2,215.2L82.6,207.2L83,201L83.3,195.1L83.7,188.1L84.1,193L84.6,198.6L85,203.8L85.4,205.6L85.8,207.9L86.2,209.3L86.6,213.4L87,209.6L87.5,200.5L87.9,186.9L88.3,177.5L88.7,168.4L89.1,159.3L89.5,164.3L90,168.1L90.4,166.9L90.8,172.6L91.1,184.6L91.5,191.4L91.9,200.3L92.3,212.8L92.7,223.5L93.1,233.6L93.5,214.7L93.9,206.7L94.4,208.5L94.8,199.7L95.2,198.6L95.6,197.8L96,196.6L96.4,194.1L96.8,202.5L97.3,208.5L97.7,210.8L98.1,222.3L98.5,234.2L98.9,247.1L99.3,261.9L99.7,247.9L100.1,234.3L100.5,219.5L100.9,216.5L101.2,208.7L101.6,203.9L102,206.2L102.4,204.1L102.8,206L103.2,211.8L103.6,220.5L104.1,219.2L104.5,227.2L104.9,228L105.3,218.4L105.8,198.1L106.2,187.6L106.6,196.4L107,194.1L107.4,190.4L107.8,191.2L108.2,196.6L108.6,198.1L109,195.8L109.4,196.8L109.8,195.4L110.2,194.2L110.7,195.4L111.1,195.8L111.5,199.8L111.9,202L112.3,211.3L112.7,211.8L113.1,220.7L113.5,230.3L113.9,239.9L114.3,248.8L114.7,256.8L115.1,259.9L115.5,267.3L115.9,270.2L116.3,252L116.8,245.9L117.2,249.7L117.6,241.4L118,239.3L118.4,230.1L118.8,221.5L119.2,214.8L119.6,219.5L120,227.6L120.4,232.4L120.8,235.4L121.2,241.8L121.6,248.6L122,252.5L122.3,253L122.7,257.3L123.1,258.6L123.5,255.3L123.9,253.6L124.3,242.5L124.7,237.6L125.2,231.4L125.6,222.1L126,211.6L126.5,202.2L126.9,210.6L127.4,214.9L127.8,214.3L128.2,215.9L128.6,220.8L129,222.4L129.4,229.8L129.7,239.3L130.1,251.8L130.5,249.4L130.9,240.4L131.3,237.4L131.7,237.5L132.1,234.8L132.4,232.3L132.8,227.8L133.2,225.7L133.6,223L134,217.7L134.4,215L134.8,216.3L135.2,221.2L135.6,215.5L135.9,223.4L136.3,236.3L136.7,241.7L137.1,246L137.5,250.4L137.9,251.1L138.3,250L138.7,250.3L139,247.1L139.4,244.5L139.8,244.1L140.2,243.9L140.6,244.2L141,248.2L141.4,252.6L141.8,256L142.1,259.3L142.5,262.1L142.9,270.3L143.2,273.8L143.6,282.5L144,272.2L144.5,262.5L144.9,253.5L145.3,259.9L145.7,252.4L146.1,258.1L146.5,269.9L146.9,270.2L147.2,267.3L147.6,271.4L148,273.3L148.4,270.1L148.8,267.1L149.1,266.9L149.5,263.3L149.9,257.1L150.3,252.6L150.7,245.3L151.1,250.3L151.5,251.3L151.8,239.7L152.2,238.8L152.6,249.4L153,245.2L153.4,236.3L153.7,230L154.1,221.1L154.5,215.9L154.9,213.3L155.2,210.6L155.6,208.6L156,207.2L156.4,214.5L156.9,223.2L157.3,233.3L157.7,240.8L158.1,242.2L158.4,247.9L158.8,256.5L159.2,258.9L159.7,264.8L160.1,268.6L160.5,261L160.8,255.9L161.2,250.1L161.6,252.4L161.9,258L162.3,263L162.7,261.3L163.1,267.3L163.5,273.8L163.9,276.3L164.3,279.6L164.7,276.1L165.1,279.2L165.4,275.8L165.8,276.8L166.2,255.9L166.5,239.6L166.9,219.4L167.3,214.3L167.8,209.2L168.2,199.4L168.6,215.1L169,232.2L169.4,248.7L169.8,244.9L170.2,242.8L170.6,231.7L171,228.3L171.4,245L171.8,254.6L172.1,262.7L172.5,273.9L172.9,269.4L173.3,261.3L173.7,253L174.1,249.5L174.5,245.7L174.8,239.4L175.2,225.9L175.6,221.7L176,221.8L176.3,215L176.7,210.4L177.1,215.7L177.4,221.9L177.8,228.5L178.2,226.3L178.6,221.6L179,217.4L179.4,215.8L179.8,208.3L180.2,202.9L180.6,200L181,203.3L181.4,207.4L181.8,213.1L182.2,212.2L182.5,219.9L182.9,233.2L183.3,227L183.7,219.2L184.1,211.3L184.5,208.1L184.9,212.8L185.2,214.5L185.6,219.3L186,224.9L186.4,218.8L186.7,217.6L187.1,212.2L187.5,208.7L187.9,205.1L188.3,210.7L188.7,207.6L189.1,209.2L189.5,212L189.9,216.5L190.3,222.7L190.7,224.2L191.1,228.8L191.4,237.8L191.8,245.1L192.2,243.9L192.6,248.2L193,257.5L193.4,257.5L193.8,260.8L194.2,254.6L194.6,250.9L195,244.5L195.4,239.2L195.8,232.7L196.2,226.2L196.6,222.9L197,215.7L197.4,211.6L197.8,219.7L198.1,227.5L198.5,234.1L198.9,239.5L199.2,241.1L199.6,245.2L200,251.5L200.4,253.2L200.8,254.9L201.2,254.6L201.6,257.2L202,259.4L202.4,258.2L202.8,257.8L203.1,258.6L203.5,258.3L203.9,261.7L204.3,253.7L204.7,245.9L205.1,242.7L205.5,232.2L205.9,223L206.3,219.1L206.7,207.9L207.1,222.9L207.5,229.7L207.9,226.1L208.3,234L208.8,239L209.3,242.2L209.7,237.3L210.1,230.3L210.5,223.6L210.9,216.2L211.3,213.2L211.6,213.1L212,209.1L212.4,222.2L212.9,237.2L213.3,245.7L213.6,256.7L214,266.5L214.4,260L214.8,255.2L215.2,252.6L215.6,250.3L215.9,241.5L216.3,238.5L216.7,240.2L217,237.1L217.4,236.1L217.8,232.4L218.2,232.4L218.6,219.3L218.9,203L219.3,187.1L219.7,175.8L220.1,157.4L220.5,157.8L220.9,161L221.3,164.6L221.7,167.2L222.1,169.5L222.5,172.7L222.9,178.5L223.4,180.9L223.8,183L224.2,186.8L224.5,191.8L224.9,198.5L225.2,200.1L225.6,206L226,192.5L226.4,175.9L226.8,161.9L227.2,153.7L227.6,143.3L228,150.3L228.4,159.9L228.9,167.7L229.3,174.7L229.7,162.7L230.1,150.2L230.5,138.4L230.9,123.2L231.2,130.1L231.6,137.1L232,143.3L232.3,149.8L232.7,139.3L233.1,128L233.5,116.8L233.9,107.2L234.3,96.7L234.7,116.2L235,135.4L235.4,153.4L235.8,144.2L236.2,138.3L236.6,128.1L237,118.3L237.4,108.9L237.8,125.8L238.2,143.9L238.6,161.7L239,179.3L239.4,167.5L239.8,153.4L240.1,140.2L240.5,126.7L240.9,119.5L241.3,112.8L241.7,106.9L242.1,100.1L242.5,92.4L242.9,101.1L243.3,109.9L243.7,118L244.1,126.6L244.5,133.6L244.9,123L245.2,112.5L245.6,99.2L246,88.2L246.4,88L246.8,87.3L247.2,85.9L247.6,84.8L248,88.9L248.4,92.3L248.8,91.6L249.2,94.8L249.6,95.3L250,94.9L250.4,97.4L250.9,96.9L251.3,95.8L251.7,94.7L252.1,95.4L252.5,96.3L252.9,98.7L253.3,100.3L253.7,101.8L254.1,99.7L254.5,95.7L254.9,92.4L255.3,90.5L255.7,87.8L256.1,88.9L256.5,88.8L257,87.3L257.4,87.8L257.8,84.2L258.2,86.6L258.6,90.2L259,92.8L259.4,97.9L259.8,94.9L260.1,89.7L260.4,87.7L260.8,85.9L261.2,85.6L261.6,84.9L262,83.4L262.4,83.3L262.7,83.5L263.1,81.5L263.5,81.5L263.9,79.5L264.3,79.8L264.6,85.3L265,85.7L265.4,82.2L265.8,83.3L266.1,80.4L266.5,81.5L266.9,84.1L267.3,82.3L267.7,84.4L268.1,82.8L268.4,79.3L268.8,78.6L269.2,75.1L269.6,74.4L270.1,77.5L270.5,80.5L271,85.3L271.4,83.9L271.8,83L272.2,82.4L272.6,80.5L272.9,79L273.3,77.5L273.7,76.2L274.1,79.4L274.5,79.3L274.9,79.2L275.3,78.4L275.7,78.3L276.1,78.3L276.5,77L276.9,76.5L277.3,78.6L277.7,78.5L278.1,77.7L278.5,78L278.9,79.1L279.3,78.5L279.7,81.4L280.1,81.8L280.6,77.4L281,78L281.4,78L281.8,76.9L282.2,76.6L282.6,76.3L283,75.7L283.4,75.4L283.8,76.5L284.3,75.4L284.7,76.1L285.1,75L285.5,78.9L285.9,79L286.3,75L286.7,78.1L287.1,77.6L287.5,79.5L287.9,85.2L288.3,87.7L288.7,86.1L289.1,84.7L289.6,82.2L290,82L290.4,79.5L290.8,78L291.2,75.4L291.6,74L292,70.5L292.4,68.2L292.8,64.7L293.2,65.3L293.6,74.5L294,74.9L294.4,70.6L294.9,70.7L295.3,71.9L295.7,72.6L296.1,70L296.5,70.9L296.9,71.7L297.3,72.4L297.7,72.7L298.1,72.5L298.5,70.9L298.9,70.3L299.3,70.4L299.7,70.3L300.1,70.8L300.5,70.8L300.9,70.2L301.3,69.8L301.7,69.8L302.1,69.2L302.6,69.4L303,69.4L303.4,69.3L303.8,69L304.2,69.2L304.6,69.1L305,70.2L305.4,69.5L305.8,68.3L306.2,68.4L306.7,68L307.1,67.5L307.5,67.9L307.9,67L308.3,65.4L308.7,66.4L309.1,67.3L309.5,68.8L309.9,71L310.3,72.4L310.7,72.7L311.1,74.6L311.5,74.8L311.9,76.8L312.3,77.7L312.7,79.2L313.1,80.5L313.4,80.4L313.8,79.6L314.2,80.4L314.6,80.9L314.9,80.9L315.3,80.1L315.7,78.9L316.1,78.2L316.6,75.9L317,74.5L317.4,72.8L317.8,71L318.2,71.7L318.6,72.6L319.1,73L319.5,72.8L319.9,73.6L320.3,73.6L320.7,73L321.1,72.7L321.5,71.9L321.9,71.6L322.2,71.5L322.6,70.7L323,69.7L323.4,69.9L323.8,68.8L324.2,70.2L324.6,71.3L325,70.7L325.4,71.5L325.9,74.4L326.3,75.3L326.7,75.3L327.1,75.4L327.5,74.9L327.9,74.2L328.4,73.4L328.8,73.6L329.2,73.3L329.6,74.2L329.9,73.7L330.3,73.7L330.7,74.6L331.1,74.5L331.4,74.7L331.8,74.9L332.2,75.2L332.6,75.3L333.1,73.2L333.5,72.4L333.9,71.9L334.3,71.1L334.7,72.2L335.2,73.4L335.6,76.1L336,77.1L336.5,76.3L336.9,77.8L337.3,76.8L337.7,75.7L338.1,76.2L338.6,76.1L339,73.8L339.4,72.9L339.8,74L340.2,73.7L340.5,73.6L340.9,73L341.3,73.1L341.7,73.1L342.1,73.8L342.4,73.3L342.8,72.1L343.2,72.5L343.6,72.7L344,72.5L344.3,73L344.7,72.9L345.1,72.3L345.5,72L345.9,72.4L346.2,72.5L346.6,71.4L347,70.9L347.4,72.1L347.8,71.4L348.2,70L348.6,69.2L348.9,70L349.3,69.5L349.7,69.2L350.1,68.6L350.5,67.7L350.9,66.8L351.3,67.3L351.7,67.3L352.1,66.7L352.6,66.7L353,67.3L353.4,67.5L353.8,66.7L354.2,66L354.6,67.4L355.1,66.9L355.5,66.3L355.9,66.2L356.3,65.9L356.7,65.4L357.1,65.7L357.5,66L357.9,67L358.3,67.2L358.6,67.2L359,67.2L359.4,67.6L359.8,67.7L360.2,67.7L360.6,68.4L361,67.9L361.4,67.9L361.8,67.8L362.1,67.6L362.5,67.1L362.9,66.8L363.3,68.1L363.7,67.5L364,67.9L364.4,67.3L364.8,68.3L365.2,68.2L365.7,68.2L366.1,68.2L366.5,68.8L367,69L367.4,68.8L367.8,68.4L368.2,68.7L368.6,68.1L369.1,68.4L369.5,68L369.9,65.9L370.3,66.6L370.7,67.7L371,68.1L371.4,67.8L371.8,68.2L372.2,67.5L372.6,67.8L372.9,67.7L373.3,68.6L373.7,70L374.1,68.9L374.4,68.4L374.8,67.5L375.2,65.2L375.6,64.1L375.9,64.3L376.3,63.7L376.7,65.3L377.1,66.2L377.6,66.9L378,68.5L378.4,68.8L378.8,70.3L379.2,70.4L379.7,71.1L380.1,71.6L380.5,72.2L381,72.4L381.4,72.8L381.8,71.4L382.2,70.7L382.6,69.9L383.1,69L383.5,69.1L383.9,68.1L384.3,68.1L384.7,67.7L385,68.1L385.4,68.1L385.8,67.8L386.2,67.7L386.6,67L386.9,67.1L387.3,67.4L387.7,66.9L388.1,67.5L388.5,67.1L388.8,67.7L389.2,67.6L389.6,68.3L390,68.7L390.4,66.9L390.7,67.6L391.1,67.4L391.5,67.8L391.9,68.2L392.3,67.8L392.6,68.3L393,68.2L393.4,67.9L393.8,68L394.2,69.2L394.5,69.5L394.9,69.6L395.3,69.9L395.7,70.5L396.2,70.9L396.6,71.8L397,72.6L397.5,72.1L397.9,72L398.3,72.7L398.7,71.8L399.1,71.3L399.6,70.3L400,69.5L400.4,68.5L400.8,68L401.2,68.2L401.5,68.9L401.9,69.2L402.3,69.2L402.7,69.4L403.1,70.5L403.4,70.5L403.8,69.9L404.2,70.3L404.6,69.7L404.9,69.3L405.3,69.1L405.7,68.3L406.1,69.5L406.4,69.2L406.8,67.4L407.2,67.9L407.6,67.1L407.9,67.6L408.3,68.8L408.7,68.8L409.1,69.2L409.5,68.9L409.8,69.2L410.2,69L410.6,69.1L411,69L411.4,70.4L411.9,70.4L412.3,69.1L412.7,69.2L413.1,70.3L413.6,70.7L414,71.1L414.4,71.2L414.8,71.4L415.2,71.1L415.5,71.6L415.9,71.3L416.3,71.9L416.7,72L417.1,72L417.4,72.9L417.8,73.4L418.2,73.7L418.6,73.1L418.9,72.3L419.3,71.1L419.7,70.5L420.1,69.6L420.4,69.4L420.8,69.3L421.2,70.7L421.6,70.8L422.1,71.9L422.5,72.9L422.9,74.1L423.3,73.4L423.7,73L424.2,72.9L424.6,71.7L425,71L425.5,69.9L425.9,69.5L426.3,70.5L426.7,70.6L427.1,71L427.6,71.4L428,71.5L428.4,72.1L428.8,72.7L429.2,74.1L429.5,74.6L429.9,72.9L430.3,73.8L430.7,74.4L431.1,74.4L431.4,74.3L431.8,74.4L432.2,76.3L432.6,75.5L432.9,74.3L433.3,73.5L433.7,74.1L434.1,73.8L434.4,72.3L434.8,71.4L435.2,71L435.6,70.5L435.9,70.6L436.3,70.2L436.7,69.6L437.1,69.5L437.5,69.4L437.8,68.5L438.2,68.3L438.6,67.5L439,68.4L439.4,68.5L439.9,69.5L440.3,69.8L440.7,69.6L441.1,70.6L441.6,70.6L442,70.7L442.4,71.7L442.8,71.8L443.2,71L443.5,71.7L443.9,71.8L444.3,71.9L444.7,72L445.1,71.9L445.4,72.9L445.8,72.9L446.2,73L446.6,72.8L447,72.5L447.3,72.4L447.7,72.3L448.1,71.4L448.5,70.7L448.9,70L449.2,70.5L449.6,70.7L450,69L450.4,68.8L450.7,68.1L451.1,67.3L451.5,68.5L451.9,67.9L452.2,66.7L452.6,66L453,67.6L453.4,68.5L453.9,68.5L454.3,69.5L454.7,69.8L455.1,70.4L455.5,70.6L455.9,70.8L456.4,71.6L456.8,71.6L457.2,72.6L457.6,73.4L458.1,73.3L458.5,73.5L458.9,73.5L459.3,73L459.7,73.2L460,72.4L460.4,73L460.8,72.5L461.2,73L461.6,72L461.9,70.6L462.3,70.7L462.7,70.7L463.1,70.6L463.5,70.7L463.8,70.2L464.2,70.5L464.6,70.5L465,68.9L465.4,69.5L465.7,70L466.1,69.4L466.5,68.2L466.9,68.5L467.3,69.3L467.7,69.3L468.1,70L468.4,69.9L468.8,71.3L469.2,71.7L469.6,70.8L470,71.2L470.4,71.1L470.8,72.5L471.2,73.5L471.7,74.1L472.1,75.4L472.5,75.7L472.9,74.1L473.2,73.9L473.6,73.3L474,72.4L474.4,71.5L474.7,70.5L475.1,71.2L475.5,70.9L475.9,70.5L476.3,70.3L476.7,72L477.1,72.2L477.5,72.1L477.8,72.1L478.2,71.2L478.6,71.2L479,72.4L479.4,72L479.8,72.4L480.2,73.1L480.6,72.9L481,73.1L481.4,73.5L481.8,73.5L482.2,72L482.6,72.3L482.9,72.4L483.3,72.6L483.7,72.5L484.1,72.5L484.5,72.3L484.9,72.6L485.3,73.3L485.7,72.6L486.1,72.6L486.6,71.8L487,72.2L487.4,72.4L487.8,72.1L488.2,71.4L488.6,71.7L489.1,71.4L489.5,71.6L489.9,70.9L490.3,70.1L490.7,69.9L491.1,69.6L491.5,69.5L491.9,70.6L492.3,70.3L492.7,70L493,69.8L493.4,69.3L493.8,69.2L494.2,71.1L494.6,70.5L495,70.7L495.4,70.3L495.8,69.4L496.2,69.5L496.6,69.9L497,69.6L497.4,71.4L497.8,71.5L498.1,71.7L498.5,71.5L498.9,70.5L499.3,70.5L499.7,72.2L500.1,71.9L500.5,71.3L500.9,71.3L501.3,71.8L501.7,72.1L502.1,71.7L502.5,71.2L502.9,70.3L503.2,69.7L503.6,70L504,69.7L504.4,70.1L504.8,69.8L505.2,69.6L505.6,69.6L506,69.7L506.4,69.5L506.8,68.6L507.2,68.2L507.6,68L508,67.4L508.3,67.9L508.7,67.9L509.1,67.9L509.5,67.6L509.9,66.7L510.3,66.9L510.7,66.1L511.1,67.2L511.5,69.2L512,70.1L512.4,71.2L512.8,72.2L513.2,72.7L513.6,74.1L514,76.3L514.4,76.9L514.8,77.5L515.1,78.8L515.5,79.8L515.9,81L516.3,82.4L516.7,82.1L517.1,82.2L517.5,81.6L518,80.6L518.4,80L518.8,77.8L519.2,77L519.6,76.6L520,76.3L520.4,75.8L520.9,74.9L521.3,74.6L521.7,73.4L522.1,73.1L522.6,72.3L523,71.8L523.4,71L523.8,71.5L524.2,71.3L524.6,70.9L525,70.4L525.4,70.1L525.8,69.5L526.1,69.4L526.5,68.6L526.9,68.5L527.3,68L527.7,68.6L528.1,68L528.5,67.7L528.9,68.2L529.3,68.1L529.7,68.5L530.1,67.8L530.5,68.3L530.9,69.1L531.2,69.3L531.6,68.9L532,68.9L532.4,69.1L532.8,68.9L533.2,69.6L533.6,69.5L534,70.2L534.4,70.8L534.9,69.3L535.3,69.5L535.7,69.7L536.1,69.5L536.5,70.4L536.9,70.3L537.4,71.5L537.8,71.8L538.2,71.4L538.6,71.4L539,70.8L539.4,70.5L539.8,71.8L540.2,71.9L540.6,70.6L541,70.9L541.3,72.3L541.7,71.8L542.1,71.4L542.5,71.8L542.9,71.8L543.3,72.5L543.7,71.8L544.1,71.8L544.5,71.9L544.9,71.7L545.3,70.7L545.7,70.8L546.1,72L546.4,72.3L546.8,71.6L547.2,71.3L547.6,71.5L548,71.2L548.4,72.3L548.8,72.4L549.2,71L549.5,71.1L549.9,72.6L550.3,72.7L550.7,71.7L551,72.4L551.4,73.2L551.8,73.7L552.2,73.5L552.5,73.5L552.9,75.2L553.3,75.2L553.7,74.8L554.1,75.7L554.4,75.9L554.8,76.3L555.2,76.6L555.6,76L556,75.3L556.5,74.4L556.9,74.3L557.3,73.4L557.7,73.4L558.2,78.7L558.6,84.7L559,90.4L559.5,96.9L559.9,93.1L560.3,90.3L560.7,87L561.1,83.4L561.5,80.3L561.9,79.4L562.2,78.6L562.6,77.6L563,76.6L563.4,75.7L563.7,75L564.1,75.2L564.5,74.7L564.9,74.7L565.3,74.4L565.7,73.9L566.1,73.9L566.5,73L566.8,73.1L567.2,73.3L567.6,72.8L568,72.5L568.4,72.4L568.8,72.1L569.2,71.9L569.6,73L570,73L570.5,72.3L570.9,72.1L571.3,71.4L571.7,71.3L572.1,72.5L572.5,72.7L573,72L573.4,71.7L573.8,70.9L574.2,71.1L574.6,72.5L575,72.9L575.4,72.1L575.8,71.5L576.2,72.3L576.6,71.9L576.9,71.4L577.3,71.6L577.7,72.1L578.1,71.8L578.5,72L578.9,72.4L579.3,73.2L579.7,72.9L580.1,73.4L580.5,73.1L580.9,72.3L581.3,72.4L581.7,72.2L582,72.3L582.4,73.2L582.8,73.1L583.2,73.4L583.6,73.5L584,73.5L584.4,73.4L584.8,74.5L585.2,75.5L585.7,76.4L586.1,78.1L586.5,79.2L586.9,80.2L587.4,80.9L587.8,81.5L588.2,84L588.6,83.2L589.1,80.5L589.5,79.5L589.9,78.4L590.4,77.4L590.8,76.5L591.2,75.8L591.6,77.1L592,77.1L592.4,76.6L592.8,76.6L593.2,76.3L593.5,76.5L593.9,75.8L594.3,75.8L594.7,76.1L595.1,76.4L595.5,76.4L595.9,76.1L596.3,75.9L596.7,75.3L597.1,74.7L597.6,74.9L598,75.9L598.4,76.4L598.8,75.3L599.2,74.8L599.6,74.5L600.1,74.4L600.5,75.6L600.9,75.3L601.3,75.9L601.7,75.4L602.1,74.4L602.5,74.3L602.9,73.3L603.3,73.6L603.7,73.6L604.1,72.9L604.5,73.2L604.9,73.3L605.3,72.3L605.7,74.4L606.1,75.4L606.5,76.5L607,79.3L607.4,81.3L607.8,81.8L608.2,83.3L608.6,86.8L609,85.7L609.4,83.4L609.9,82.6L610.3,82L610.7,81.1L611.1,81.2L611.5,80.9L611.9,81.2L612.4,81.5L612.8,80.4L613.2,80.4L613.6,80.5L614.1,80.5L614.5,80.2L614.9,80.3L615.3,80L615.7,79.5L616.1,77.9L616.5,77.1L617,76.3L617.4,75.9L617.8,74L618.2,73.1L618.6,73.9L619,75.2L619.4,75.7L619.8,76.9L620.1,79L620.5,80.8L620.9,80.5L621.3,81.1L621.7,81.3L622.1,80.6L622.4,81.3L622.8,80.9L623.2,81.7L623.6,80.7L624,80L624.3,79.7L624.7,79L625.1,78.5L625.5,78.8L625.9,78.5L626.4,79.4L626.8,79.7L627.2,77.7L627.6,77.2L628,78L628.4,78.7L628.8,78.5L629.2,78.6L629.5,78.7L629.9,79L630.3,80.4L630.7,80.6L631.1,81.4L631.5,81.6L631.9,80L632.3,80.1L632.8,79.6L633.2,80L633.6,80.5L634,80.4L634.5,80.5L634.9,81L635.3,82.2L635.8,82.9L636.2,98.6L636.6,113.6L637,128.1L637.5,130.6L637.9,134.8L638.3,136.7L638.8,141.6L639.2,144.1L639.5,146.5L639.9,149.2L640.3,149.2L640.7,153.5L641,159.2L641.4,164.1L641.8,160.1L642.2,153.7L642.6,148.6L643,150.3L643.4,152.2L643.7,154.9L644.1,156.6L644.5,159.3L645,160.1L645.5,161.4L645.9,162.5L646.3,163.9L646.6,167.7L647,168.5L647.3,169.9L647.7,170L648.1,167.8L648.5,166.3L648.9,165.3L649.3,163.3L649.7,163.1L650.2,165.1L650.6,167.7L651,169.3L651.5,172.6L651.9,176.5L652.3,182.3L652.6,185.3L653,186.2L653.4,189.8L653.8,196.5L654.2,198.9L654.5,201.2L654.9,204.1L655.3,207.9L655.7,202.7L656,197.9L656.4,192.8L656.7,188.4L657.1,182.5L657.5,184L658,185.1L658.5,186.9L658.9,187.5L659.3,191.7L659.7,193.9L660.1,196.5L660.5,199.3L660.9,202.4L661.2,204.2L661.6,207.1L662,209.5L662.4,207.1L662.8,210.4L663.1,220.6L663.5,224L663.9,222L664.3,223.1L664.7,228.9L665.1,230L665.5,224.6L666,225.4L666.4,230.9L666.8,231.7L667.2,230.2L667.6,230.3L668.1,233.7L668.5,234.6L668.9,233.3L669.3,233.2L669.8,234.9L670.2,234.2L670.6,233.7L671,234L671.5,235.1L671.9,235.9L672.4,237L672.8,238.3L673.2,236.6L673.6,238.9L674,240.2L674.3,240.8L674.7,244.3L675.1,244.8L675.5,244.3L675.9,243.5L676.3,244.6L676.8,244L677.2,246.4L677.6,245.9L678,248.4L678.4,248.6L678.8,246.6L679.2,248.2L679.7,247.6L680.1,248.3L680.5,245.1L680.9,244.9L681.4,249.9L681.8,249.9L682.2,247.8L682.5,246.9L682.9,244.8L683.3,242.8L683.6,239.7L684,238.2L684.4,237.4L684.8,236.9L685.1,234.7L685.5,235.2L685.9,233.1L686.3,233.4L686.7,232.3L687,232.9L687.4,237.4L687.8,238L688.1,239.4L688.5,240.1L688.9,236.5L689.2,238.5L689.6,241.8L690,243.4L690.3,244.1L690.7,246L691.2,238.6L691.6,231.3L692,219.5L692.5,211.7L692.9,206.2L693.3,200.6L693.6,195.9L694,191.5L694.4,189.9L694.8,184.9L695.2,184.6L695.5,187.3L695.9,187.3L696.3,190.6L696.7,199.5L697.1,203.7L697.5,206.6L697.8,210.9L698.2,211.5L698.6,215.4L699,215.3L699.4,211.6L699.8,211.3L700.2,209.3L700.7,206.6L701.1,204L701.5,201.4L702,199.2L702.4,201.8L702.7,203.1L703.1,203.7L703.5,205.2L703.8,205.7L704.2,206.5L704.7,208.7L705.1,211.4L705.5,213L706,214.6L706.5,202.3L707,191.3L707,194.8L706.5,205.8L706,218.1L705.5,216.5L705.1,214.9L704.7,212.2L704.2,210L703.8,209.2L703.5,208.7L703.1,207.2L702.7,206.6L702.4,205.3L702,202.7L701.5,204.9L701.1,207.5L700.7,210.1L700.2,212.8L699.8,214.8L699.4,215.1L699,218.8L698.6,218.9L698.2,215L697.8,214.4L697.5,210.1L697.1,207.2L696.7,203L696.3,194.1L695.9,190.8L695.5,190.8L695.2,188.1L694.8,188.4L694.4,193.4L694,195L693.6,199.4L693.3,204.1L692.9,209.7L692.5,215.2L692,223L691.6,234.8L691.2,242.1L690.7,249.5L690.3,247.6L690,246.9L689.6,245.3L689.2,242L688.9,240L688.5,243.6L688.1,242.9L687.8,241.5L687.4,240.9L687,236.4L686.7,235.8L686.3,236.9L685.9,236.6L685.5,238.7L685.1,238.2L684.8,240.4L684.4,240.9L684,241.7L683.6,243.2L683.3,246.3L682.9,248.3L682.5,250.4L682.2,251.3L681.8,253.4L681.4,253.4L680.9,248.4L680.5,248.6L680.1,251.8L679.7,251.1L679.2,251.7L678.8,250.1L678.4,252.1L678,251.9L677.6,249.4L677.2,249.9L676.8,247.5L676.3,248.1L675.9,247L675.5,247.8L675.1,248.3L674.7,247.8L674.3,244.3L674,243.7L673.6,242.4L673.2,240.1L672.8,241.8L672.4,240.5L671.9,239.4L671.5,238.6L671,237.5L670.6,237.2L670.2,237.7L669.8,238.4L669.3,236.7L668.9,236.8L668.5,238.1L668.1,237.2L667.6,233.8L667.2,233.7L666.8,235.2L666.4,234.4L666,228.9L665.5,228.1L665.1,233.5L664.7,232.4L664.3,226.6L663.9,225.5L663.5,227.5L663.1,224.1L662.8,213.9L662.4,210.6L662,213L661.6,210.6L661.2,207.7L660.9,205.9L660.5,202.8L660.1,200L659.7,197.4L659.3,195.2L658.9,191L658.5,190.4L658,188.6L657.5,187.5L657.1,186L656.7,191.9L656.4,196.3L656,201.4L655.7,206.2L655.3,211.4L654.9,207.6L654.5,204.7L654.2,202.4L653.8,200L653.4,193.3L653,189.7L652.6,188.8L652.3,185.8L651.9,180L651.5,176.1L651,172.8L650.6,171.2L650.2,168.6L649.7,166.6L649.3,166.8L648.9,168.8L648.5,169.8L648.1,171.3L647.7,173.5L647.3,173.4L647,172L646.6,171.2L646.3,167.4L645.9,166L645.5,164.9L645,163.6L644.5,162.8L644.1,160.1L643.7,158.4L643.4,155.7L643,153.8L642.6,152.1L642.2,157.2L641.8,163.6L641.4,167.6L641,162.7L640.7,157L640.3,152.7L639.9,152.7L639.5,150L639.2,147.6L638.8,145.1L638.3,140.2L637.9,138.3L637.5,134.1L637,131.6L636.6,117.1L636.2,100.6L635.8,84.9L635.3,84.2L634.9,83L634.5,82.5L634,82.4L633.6,82.5L633.2,82L632.8,81.6L632.3,82.1L631.9,82L631.5,83.6L631.1,83.4L630.7,82.6L630.3,82.4L629.9,81L629.5,80.7L629.2,80.6L628.8,80.5L628.4,80.7L628,80L627.6,79.2L627.2,79.7L626.8,81.7L626.4,81.4L625.9,80.5L625.5,80.8L625.1,80.5L624.7,81L624.3,81.7L624,82L623.6,82.7L623.2,83.7L622.8,82.9L622.4,83.3L622.1,82.6L621.7,83.3L621.3,83.1L620.9,82.5L620.5,82.8L620.1,81L619.8,78.9L619.4,77.7L619,77.2L618.6,75.9L618.2,75.1L617.8,76L617.4,77.9L617,78.3L616.5,79.1L616.1,79.9L615.7,81.5L615.3,82L614.9,82.3L614.5,82.2L614.1,82.5L613.6,82.5L613.2,82.4L612.8,82.4L612.4,83.5L611.9,83.2L611.5,82.9L611.1,83.2L610.7,83.1L610.3,84L609.9,84.6L609.4,85.4L609,87.7L608.6,88.8L608.2,85.3L607.8,83.8L607.4,83.3L607,81.3L606.5,78.5L606.1,77.4L605.7,76.4L605.3,74.3L604.9,75.3L604.5,75.2L604.1,74.9L603.7,75.6L603.3,75.6L602.9,75.3L602.5,76.3L602.1,76.4L601.7,77.4L601.3,77.9L600.9,77.3L600.5,77.6L600.1,76.4L599.6,76.5L599.2,76.8L598.8,77.3L598.4,78.4L598,77.9L597.6,76.9L597.1,76.7L596.7,77.3L596.3,77.9L595.9,78.1L595.5,78.4L595.1,78.4L594.7,78.1L594.3,77.8L593.9,77.8L593.5,78.5L593.2,78.3L592.8,78.6L592.4,78.6L592,79.1L591.6,79.1L591.2,77.8L590.8,78.5L590.4,79.4L589.9,80.4L589.5,81.5L589.1,82.5L588.6,85.2L588.2,86L587.8,83.5L587.4,82.9L586.9,82.2L586.5,81.2L586.1,80.1L585.7,78.4L585.2,77.5L584.8,76.5L584.4,75.4L584,75.5L583.6,75.5L583.2,75.4L582.8,75.1L582.4,75.2L582,74.3L581.7,74.2L581.3,74.4L580.9,74.3L580.5,75.1L580.1,75.4L579.7,74.9L579.3,75.2L578.9,74.4L578.5,74L578.1,73.8L577.7,74.1L577.3,73.6L576.9,73.4L576.6,73.9L576.2,74.3L575.8,73.5L575.4,74.1L575,74.9L574.6,74.5L574.2,73.1L573.8,72.9L573.4,73.7L573,74L572.5,74.7L572.1,74.5L571.7,73.3L571.3,73.4L570.9,74.1L570.5,74.3L570,75L569.6,75L569.2,73.9L568.8,74.1L568.4,74.4L568,74.5L567.6,74.8L567.2,75.3L566.8,75.1L566.5,75L566.1,75.9L565.7,75.9L565.3,76.4L564.9,76.7L564.5,76.7L564.1,77.2L563.7,77L563.4,77.7L563,78.6L562.6,79.6L562.2,80.6L561.9,81.4L561.5,82.3L561.1,85.4L560.7,89L560.3,92.3L559.9,95.1L559.5,98.9L559,92.4L558.6,86.7L558.2,80.7L557.7,75.4L557.3,75.4L556.9,76.3L556.5,76.4L556,77.3L555.6,78L555.2,78.6L554.8,78.3L554.4,77.9L554.1,77.7L553.7,76.8L553.3,77.2L552.9,77.2L552.5,75.5L552.2,75.5L551.8,75.7L551.4,75.2L551,74.4L550.7,73.7L550.3,74.7L549.9,74.6L549.5,73.1L549.2,73L548.8,74.4L548.4,74.3L548,73.2L547.6,73.5L547.2,73.3L546.8,73.6L546.4,74.3L546.1,74L545.7,72.8L545.3,72.7L544.9,73.7L544.5,73.9L544.1,73.8L543.7,73.8L543.3,74.5L542.9,73.8L542.5,73.8L542.1,73.4L541.7,73.8L541.3,74.3L541,72.9L540.6,72.6L540.2,73.9L539.8,73.8L539.4,72.5L539,72.8L538.6,73.4L538.2,73.4L537.8,73.8L537.4,73.5L536.9,72.3L536.5,72.4L536.1,71.5L535.7,71.7L535.3,71.5L534.9,71.3L534.4,72.8L534,72.2L533.6,71.5L533.2,71.6L532.8,70.9L532.4,71.1L532,70.9L531.6,70.9L531.2,71.3L530.9,71.1L530.5,70.3L530.1,69.8L529.7,70.5L529.3,70.1L528.9,70.2L528.5,69.7L528.1,70L527.7,70.6L527.3,70L526.9,70.5L526.5,70.6L526.1,71.4L525.8,71.5L525.4,72.1L525,72.4L524.6,72.9L524.2,73.3L523.8,73.5L523.4,73L523,73.8L522.6,74.3L522.1,75.1L521.7,75.4L521.3,76.6L520.9,76.9L520.4,77.8L520,78.3L519.6,78.6L519.2,79L518.8,79.8L518.4,82L518,82.6L517.5,83.6L517.1,84.2L516.7,84.1L516.3,84.4L515.9,83L515.5,81.8L515.1,80.8L514.8,79.5L514.4,78.9L514,78.3L513.6,76.1L513.2,74.7L512.8,74.2L512.4,73.2L512,72.1L511.5,71.2L511.1,69.2L510.7,68.1L510.3,68.9L509.9,68.7L509.5,69.6L509.1,69.9L508.7,69.9L508.3,69.9L508,69.4L507.6,70L507.2,70.2L506.8,70.6L506.4,71.5L506,71.7L505.6,71.6L505.2,71.6L504.8,71.8L504.4,72.1L504,71.7L503.6,72L503.2,71.7L502.9,72.3L502.5,73.2L502.1,73.7L501.7,74.1L501.3,73.8L500.9,73.3L500.5,73.3L500.1,73.9L499.7,74.2L499.3,72.5L498.9,72.5L498.5,73.5L498.1,73.7L497.8,73.5L497.4,73.4L497,71.6L496.6,71.9L496.2,71.5L495.8,71.4L495.4,72.3L495,72.7L494.6,72.5L494.2,73.1L493.8,71.2L493.4,71.3L493,71.8L492.7,72L492.3,72.3L491.9,72.6L491.5,71.5L491.1,71.6L490.7,71.9L490.3,72.1L489.9,72.9L489.5,73.6L489.1,73.4L488.6,73.7L488.2,73.4L487.8,74.1L487.4,74.4L487,74.2L486.6,73.8L486.1,74.6L485.7,74.6L485.3,75.3L484.9,74.6L484.5,74.3L484.1,74.5L483.7,74.5L483.3,74.6L482.9,74.4L482.6,74.3L482.2,74L481.8,75.5L481.4,75.5L481,75.1L480.6,74.9L480.2,75.1L479.8,74.4L479.4,74L479,74.4L478.6,73.2L478.2,73.2L477.8,74.1L477.5,74.1L477.1,74.2L476.7,74L476.3,72.3L475.9,72.5L475.5,72.9L475.1,73.2L474.7,72.5L474.4,73.5L474,74.4L473.6,75.3L473.2,75.9L472.9,76.1L472.5,77.7L472.1,77.4L471.7,76.1L471.2,75.5L470.8,74.5L470.4,73.1L470,73.2L469.6,72.8L469.2,73.7L468.8,73.3L468.4,71.9L468.1,72L467.7,71.3L467.3,71.3L466.9,70.5L466.5,70.2L466.1,71.4L465.7,72L465.4,71.5L465,70.9L464.6,72.5L464.2,72.5L463.8,72.2L463.5,72.7L463.1,72.6L462.7,72.7L462.3,72.7L461.9,72.6L461.6,74L461.2,75L460.8,74.5L460.4,75L460,74.4L459.7,75.2L459.3,75L458.9,75.5L458.5,75.5L458.1,75.3L457.6,75.4L457.2,74.6L456.8,73.6L456.4,73.6L455.9,72.8L455.5,72.6L455.1,72.4L454.7,71.8L454.3,71.5L453.9,70.5L453.4,70.5L453,69.6L452.6,68L452.2,68.7L451.9,69.9L451.5,70.5L451.1,69.3L450.7,70.1L450.4,70.8L450,71L449.6,72.7L449.2,72.5L448.9,72L448.5,72.7L448.1,73.4L447.7,74.3L447.3,74.4L447,74.5L446.6,74.8L446.2,75L445.8,74.9L445.4,74.9L445.1,73.9L444.7,74L444.3,73.9L443.9,73.8L443.5,73.7L443.2,73L442.8,73.8L442.4,73.7L442,72.7L441.6,72.6L441.1,72.6L440.7,71.6L440.3,71.8L439.9,71.5L439.4,70.5L439,70.4L438.6,69.5L438.2,70.3L437.8,70.5L437.5,71.4L437.1,71.5L436.7,71.6L436.3,72.2L435.9,72.6L435.6,72.5L435.2,73L434.8,73.4L434.4,74.3L434.1,75.8L433.7,76.1L433.3,75.5L432.9,76.3L432.6,77.5L432.2,78.3L431.8,76.4L431.4,76.3L431.1,76.4L430.7,76.4L430.3,75.8L429.9,74.9L429.5,76.6L429.2,76.1L428.8,74.7L428.4,74.1L428,73.5L427.6,73.4L427.1,73L426.7,72.6L426.3,72.5L425.9,71.5L425.5,71.9L425,73L424.6,73.7L424.2,74.9L423.7,75L423.3,75.4L422.9,76.1L422.5,74.9L422.1,73.9L421.6,72.8L421.2,72.7L420.8,71.3L420.4,71.4L420.1,71.6L419.7,72.5L419.3,73.1L418.9,74.3L418.6,75.1L418.2,75.7L417.8,75.4L417.4,74.9L417.1,74L416.7,74L416.3,73.9L415.9,73.3L415.5,73.6L415.2,73.1L414.8,73.4L414.4,73.2L414,73.1L413.6,72.7L413.1,72.3L412.7,71.2L412.3,71.1L411.9,72.4L411.4,72.4L411,71L410.6,71.1L410.2,71L409.8,71.2L409.5,70.9L409.1,71.2L408.7,70.8L408.3,70.8L407.9,69.6L407.6,69.1L407.2,69.9L406.8,69.4L406.4,71.2L406.1,71.5L405.7,70.3L405.3,71.1L404.9,71.3L404.6,71.7L404.2,72.3L403.8,71.9L403.4,72.5L403.1,72.5L402.7,71.4L402.3,71.2L401.9,71.2L401.5,70.9L401.2,70.2L400.8,70L400.4,70.5L400,71.5L399.6,72.3L399.1,73.3L398.7,73.8L398.3,74.7L397.9,74L397.5,74.1L397,74.6L396.6,73.8L396.2,72.9L395.7,72.5L395.3,71.9L394.9,71.6L394.5,71.5L394.2,71.2L393.8,70L393.4,69.9L393,70.2L392.6,70.3L392.3,69.8L391.9,70.2L391.5,69.8L391.1,69.4L390.7,69.6L390.4,68.9L390,70.7L389.6,70.3L389.2,69.6L388.8,69.7L388.5,69.1L388.1,69.5L387.7,68.9L387.3,69.4L386.9,69.1L386.6,69L386.2,69.7L385.8,69.8L385.4,70.1L385,70.1L384.7,69.7L384.3,70.1L383.9,70.1L383.5,71.1L383.1,71L382.6,71.9L382.2,72.7L381.8,73.4L381.4,74.8L381,74.4L380.5,74.2L380.1,73.6L379.7,73.1L379.2,72.4L378.8,72.3L378.4,70.8L378,70.5L377.6,68.9L377.1,68.2L376.7,67.3L376.3,65.7L375.9,66.3L375.6,66.1L375.2,67.2L374.8,69.5L374.4,70.4L374.1,70.9L373.7,72L373.3,70.6L372.9,69.7L372.6,69.8L372.2,69.5L371.8,70.2L371.4,69.8L371,70.1L370.7,69.7L370.3,68.6L369.9,67.9L369.5,70L369.1,70.4L368.6,70.1L368.2,70.7L367.8,70.4L367.4,70.8L367,71L366.5,70.8L366.1,70.2L365.7,70.2L365.2,70.2L364.8,70.3L364.4,69.3L364,69.9L363.7,69.5L363.3,70.1L362.9,68.8L362.5,69.1L362.1,69.6L361.8,69.8L361.4,69.9L361,69.9L360.6,70.4L360.2,69.7L359.8,69.7L359.4,69.6L359,69.2L358.6,69.2L358.3,69.2L357.9,69L357.5,68L357.1,67.7L356.7,67.4L356.3,67.9L355.9,68.2L355.5,68.3L355.1,68.9L354.6,69.4L354.2,68L353.8,68.7L353.4,69.5L353,69.3L352.6,68.7L352.1,68.7L351.7,69.3L351.3,69.3L350.9,68.8L350.5,69.7L350.1,70.6L349.7,71.2L349.3,71.5L348.9,72L348.6,71.2L348.2,72L347.8,73.4L347.4,74.1L347,72.9L346.6,73.4L346.2,74.5L345.9,74.4L345.5,74L345.1,74.3L344.7,74.9L344.3,75L344,74.5L343.6,74.7L343.2,74.5L342.8,74.1L342.4,75.3L342.1,75.8L341.7,75.1L341.3,75.1L340.9,75L340.5,75.6L340.2,75.7L339.8,76L339.4,74.9L339,75.8L338.6,78.1L338.1,78.2L337.7,77.7L337.3,78.8L336.9,79.8L336.5,78.3L336,79.1L335.6,78.1L335.2,75.4L334.7,74.2L334.3,73.1L333.9,73.9L333.5,74.4L333.1,75.2L332.6,77.3L332.2,77.2L331.8,76.9L331.4,76.7L331.1,76.5L330.7,76.6L330.3,75.7L329.9,75.7L329.6,76.2L329.2,75.3L328.8,75.6L328.4,75.4L327.9,76.2L327.5,76.9L327.1,77.4L326.7,77.3L326.3,77.3L325.9,76.4L325.4,73.5L325,72.7L324.6,73.3L324.2,72.2L323.8,70.8L323.4,71.9L323,71.7L322.6,72.7L322.2,73.5L321.9,73.6L321.5,73.9L321.1,74.7L320.7,75L320.3,75.6L319.9,75.6L319.5,74.8L319.1,75L318.6,74.6L318.2,73.7L317.8,73L317.4,74.8L317,76.5L316.6,77.9L316.1,80.2L315.7,80.9L315.3,82.1L314.9,82.9L314.6,82.9L314.2,82.4L313.8,81.6L313.4,82.4L313.1,82.5L312.7,81.2L312.3,79.7L311.9,78.8L311.5,76.8L311.1,76.6L310.7,74.7L310.3,74.4L309.9,73L309.5,70.8L309.1,69.3L308.7,68.4L308.3,67.4L307.9,69L307.5,69.9L307.1,69.5L306.7,70L306.2,70.4L305.8,70.3L305.4,71.5L305,72.2L304.6,71.1L304.2,71.2L303.8,71L303.4,71.3L303,71.4L302.6,71.4L302.1,71.2L301.7,71.8L301.3,71.8L300.9,72.2L300.5,72.8L300.1,72.8L299.7,73.8L299.3,73.9L298.9,73.8L298.5,74.4L298.1,76L297.7,76.2L297.3,75.9L296.9,75.2L296.5,74.4L296.1,73.5L295.7,76.1L295.3,75.4L294.9,74.2L294.4,74.1L294,78.4L293.6,78L293.2,68.8L292.8,68.2L292.4,71.7L292,74L291.6,77.5L291.2,78.9L290.8,81.5L290.4,83L290,85.5L289.6,85.7L289.1,88.2L288.7,89.6L288.3,91.2L287.9,88.7L287.5,83L287.1,81.1L286.7,81.6L286.3,78.5L285.9,82.5L285.5,82.4L285.1,78.5L284.7,79.6L284.3,78.9L283.8,80L283.4,78.9L283,79.2L282.6,79.8L282.2,80.1L281.8,80.4L281.4,81.5L281,81.5L280.6,80.9L280.1,85.3L279.7,84.9L279.3,82L278.9,82.6L278.5,81.5L278.1,81.2L277.7,82L277.3,82.1L276.9,80L276.5,80.5L276.1,81.8L275.7,81.8L275.3,81.9L274.9,82.7L274.5,82.8L274.1,82.9L273.7,79.7L273.3,81L272.9,82.5L272.6,84L272.2,85.9L271.8,86.5L271.4,87.4L271,88.8L270.5,84L270.1,81L269.6,77.9L269.2,78.6L268.8,82.1L268.4,82.8L268.1,86.3L267.7,87.9L267.3,85.8L266.9,87.6L266.5,85L266.1,83.9L265.8,86.8L265.4,85.7L265,89.2L264.6,88.8L264.3,83.3L263.9,83L263.5,85L263.1,85L262.7,87L262.4,86.8L262,86.9L261.6,88.4L261.2,89.1L260.8,89.4L260.4,91.2L260.1,93.2L259.8,98.4L259.4,101.4L259,96.3L258.6,93.7L258.2,90.1L257.8,87.7L257.4,91.3L257,90.8L256.5,92.3L256.1,92.4L255.7,91.3L255.3,94L254.9,95.9L254.5,99.2L254.1,103.2L253.7,105.3L253.3,103.8L252.9,102.2L252.5,99.8L252.1,98.9L251.7,98.2L251.3,99.3L250.9,100.4L250.4,100.9L250,98.4L249.6,98.8L249.2,98.3L248.8,95.1L248.4,95.8L248,92.4L247.6,88.3L247.2,89.4L246.8,90.8L246.4,91.5L246,91.7L245.6,102.7L245.2,116L244.9,126.5L244.5,137.1L244.1,130.1L243.7,121.5L243.3,113.4L242.9,104.6L242.5,95.9L242.1,103.6L241.7,110.4L241.3,116.3L240.9,123L240.5,130.2L240.1,143.7L239.8,156.9L239.4,171L239,182.8L238.6,165.2L238.2,147.4L237.8,129.3L237.4,112.4L237,121.8L236.6,131.6L236.2,141.8L235.8,147.7L235.4,156.9L235,138.9L234.7,119.7L234.3,100.2L233.9,110.7L233.5,120.3L233.1,131.5L232.7,142.8L232.3,153.3L232,146.8L231.6,140.6L231.2,133.6L230.9,126.7L230.5,141.9L230.1,153.7L229.7,166.2L229.3,178.2L228.9,171.2L228.4,163.4L228,153.8L227.6,146.8L227.2,157.2L226.8,165.4L226.4,179.4L226,196L225.6,209.5L225.2,203.6L224.9,202L224.5,195.3L224.2,190.3L223.8,186.5L223.4,184.4L222.9,182L222.5,176.2L222.1,173L221.7,170.7L221.3,168.1L220.9,164.5L220.5,161.3L220.1,160.9L219.7,179.3L219.3,191.6L218.9,207.5L218.6,223.8L218.2,236.9L217.8,236.9L217.4,240.6L217,241.6L216.7,244.7L216.3,243L215.9,246L215.6,254.8L215.2,257.1L214.8,259.7L214.4,264.5L214,271L213.6,261.2L213.3,250.2L212.9,241.7L212.4,226.7L212,213.6L211.6,217.6L211.3,217.7L210.9,220.7L210.5,228.1L210.1,234.8L209.7,241.8L209.3,246.7L208.8,243.5L208.3,238.5L207.9,230.6L207.5,234.2L207.1,227.4L206.7,212.4L206.3,223.6L205.9,227.5L205.5,236.7L205.1,247.2L204.7,250.4L204.3,258.2L203.9,266.2L203.5,262.8L203.1,263.1L202.8,262.3L202.4,262.7L202,263.9L201.6,261.7L201.2,259.1L200.8,259.4L200.4,257.7L200,256L199.6,249.7L199.2,245.6L198.9,244L198.5,238.6L198.1,232L197.8,224.2L197.4,216.1L197,220.2L196.6,227.4L196.2,230.7L195.8,237.2L195.4,243.7L195,249L194.6,255.4L194.2,259.1L193.8,265.3L193.4,262L193,262L192.6,252.7L192.2,248.4L191.8,249.6L191.4,242.3L191.1,233.3L190.7,228.7L190.3,227.2L189.9,221L189.5,216.5L189.1,213.7L188.7,212.1L188.3,215.2L187.9,209.6L187.5,213.2L187.1,216.7L186.7,222.1L186.4,223.3L186,229.4L185.6,223.8L185.2,219L184.9,217.3L184.5,212.6L184.1,215.8L183.7,223.7L183.3,231.5L182.9,237.7L182.5,224.4L182.2,216.7L181.8,217.6L181.4,211.9L181,207.8L180.6,204.5L180.2,207.4L179.8,212.8L179.4,220.3L179,221.9L178.6,226.1L178.2,230.8L177.8,233L177.4,226.4L177.1,220.2L176.7,214.9L176.3,219.5L176,226.3L175.6,226.2L175.2,230.4L174.8,243.9L174.5,250.2L174.1,254L173.7,257.5L173.3,265.8L172.9,273.9L172.5,278.4L172.1,267.2L171.8,259.1L171.4,249.5L171,232.8L170.6,236.2L170.2,247.3L169.8,249.4L169.4,253.2L169,236.7L168.6,219.6L168.2,203.9L167.8,213.7L167.3,218.8L166.9,223.9L166.5,244.1L166.2,260.4L165.8,281.3L165.4,280.3L165.1,283.7L164.7,280.6L164.3,284.1L163.9,280.8L163.5,278.3L163.1,271.8L162.7,265.8L162.3,267.5L161.9,262.5L161.6,256.9L161.2,254.6L160.8,260.4L160.5,265.5L160.1,273.1L159.7,269.3L159.2,263.4L158.8,261L158.4,252.4L158.1,246.7L157.7,245.3L157.3,237.8L156.9,227.7L156.4,219L156,211.7L155.6,213.1L155.2,215.1L154.9,217.8L154.5,220.4L154.1,225.6L153.7,234.5L153.4,240.8L153,249.7L152.6,253.9L152.2,243.3L151.8,244.2L151.5,255.8L151.1,254.8L150.7,249.8L150.3,257.1L149.9,261.6L149.5,267.8L149.1,271.4L148.8,271.6L148.4,274.6L148,277.8L147.6,275.9L147.2,271.8L146.9,274.7L146.5,274.4L146.1,262.6L145.7,256.9L145.3,264.4L144.9,258L144.5,267L144,276.7L143.6,287L143.2,278.3L142.9,274.8L142.5,266.6L142.1,263.8L141.8,260.5L141.4,257.1L141,252.7L140.6,248.7L140.2,248.4L139.8,248.6L139.4,249L139,251.6L138.7,254.8L138.3,254.5L137.9,255.6L137.5,254.9L137.1,250.5L136.7,246.2L136.3,240.8L135.9,227.9L135.6,220L135.2,225.7L134.8,220.8L134.4,219.5L134,222.2L133.6,227.5L133.2,230.2L132.8,232.3L132.4,236.8L132.1,239.3L131.7,242L131.3,241.9L130.9,244.9L130.5,253.9L130.1,256.3L129.7,243.8L129.4,234.3L129,226.9L128.6,225.3L128.2,220.4L127.8,218.8L127.4,219.4L126.9,215.1L126.5,206.7L126,216.1L125.6,226.6L125.2,235.9L124.7,242.1L124.3,247L123.9,258.1L123.5,259.8L123.1,263.1L122.7,261.8L122.3,257.5L122,257L121.6,253.1L121.2,246.3L120.8,239.9L120.4,236.9L120,232.1L119.6,224L119.2,219.3L118.8,226L118.4,234.6L118,243.8L117.6,245.9L117.2,254.2L116.8,250.4L116.3,256.5L115.9,274.7L115.5,271.8L115.1,264.4L114.7,261.3L114.3,253.3L113.9,244.4L113.5,234.8L113.1,225.2L112.7,216.3L112.3,215.8L111.9,206.5L111.5,204.3L111.1,200.3L110.7,199.9L110.2,198.7L109.8,199.9L109.4,201.3L109,200.3L108.6,202.6L108.2,201.1L107.8,195.7L107.4,194.9L107,198.6L106.6,200.9L106.2,192.1L105.8,202.6L105.3,222.9L104.9,232.5L104.5,231.7L104.1,223.7L103.6,225L103.2,216.3L102.8,210.5L102.4,208.6L102,210.7L101.6,208.4L101.2,213.2L100.9,221L100.5,224L100.1,238.8L99.7,252.4L99.3,266.4L98.9,251.6L98.5,238.7L98.1,226.8L97.7,215.3L97.3,213L96.8,207L96.4,198.6L96,201.1L95.6,202.3L95.2,203.1L94.8,204.2L94.4,213L93.9,211.2L93.5,219.2L93.1,238.1L92.7,228L92.3,217.3L91.9,204.8L91.5,195.9L91.1,189.1L90.8,177.1L90.4,171.4L90,172.6L89.5,168.8L89.1,163.8L88.7,172.9L88.3,182L87.9,191.4L87.5,205L87,214.1L86.6,217.9L86.2,213.8L85.8,212.4L85.4,210.1L85,208.3L84.6,203.1L84.1,197.5L83.7,192.6L83.3,199.6L83,205.5L82.6,211.7L82.2,219.7L81.8,229.4L81.3,237L80.9,253.9L80.5,253.5L80.1,243.4L79.7,242.2L79.3,246.8L78.9,244.9L78.5,238.4L78.1,238.2L77.7,235.1L77.3,235.4L76.8,233.9L76.4,236.4L76,239L75.6,237.3L75.3,235.1L74.9,231.1L74.5,221.5L74,212.6L73.6,204.7L73.2,214.5L72.7,225.1L72.3,236.2L71.9,239.3L71.6,247.8L71.2,256.5L70.8,253.2L70.4,252L70,248.7L69.6,236L69.1,229.7L68.7,219.7L68.3,212.9L67.9,205.1L67.5,199.6L67.1,196L66.7,191.3L66.2,169.6L65.8,163.5L65.4,172.5L65,167.5L64.6,158.4L64.2,166.5L63.8,172.3L63.4,180L63,185.6L62.6,187.1L62.2,191.1L61.8,194L61.4,195.1L61,201.3L60.6,202L60.2,205.2L59.8,212.3L59.4,217.6L59,218.8L58.5,225.2L58.1,227L57.7,224.2L57.3,228L56.9,225.4L56.5,219.8L56.1,215.2L55.7,215L55.3,210.3L54.9,201.3L54.5,197.9L54.1,208.8L53.7,206.2L53.3,197.3L52.8,199.7L52.4,201.5L52,194.9L51.5,187.9L51.1,179.5L50.7,170.3L50.4,168.1L50,164.3L49.6,162.7L49.2,161.4L48.8,160.7L48.4,161L47.9,163.1L47.5,169.8L47.1,173.5L46.6,166.2L46.2,169.4L45.8,187.2L45.5,197.7L45.1,208.9L44.7,208.5L44.3,204.4L43.9,203.3L43.5,197.4L43.1,197.4L42.7,198.2L42.3,201.2L41.9,205.9L41.5,209.4L41.1,215.4L40.7,220.7L40.3,220.1L39.9,217.5L39.5,218.3L39.1,216.3L38.6,198.6L38.1,191.8L37.7,199.3L37.4,199.6L37,194.1L36.6,198.7L36.1,199.8L35.7,204.4L35.3,205.8L34.9,207.8L34.5,212.5L34.1,215.4L33.7,216.7L33.3,217.6L32.9,215.9L32.5,218.5L32.1,225.4L31.7,227.7L31.2,227.1L30.8,230.9L30.4,226L30,217L29.7,224.5L29.4,222.1Z" fill="#ec5ca6" fill-opacity="0.35"/>
<path d="M29.4,217.6L29.7,220L30,212.5L30.4,221.5L30.8,226.4L31.2,222.6L31.7,223.2L32.1,220.9L32.5,214L32.9,211.4L33.3,213.1L33.7,212.2L34.1,210.9L34.5,208L34.9,203.3L35.3,201.3L35.7,199.9L36.1,195.3L36.6,194.2L37,189.6L37.4,195.1L37.7,194.8L38.1,187.3L38.6,194.1L39.1,211.8L39.5,213.8L39.9,213L40.3,215.6L40.7,216.2L41.1,210.9L41.5,204.9L41.9,201.4L42.3,196.7L42.7,193.7L43.1,192.9L43.5,192.9L43.9,198.8L44.3,199.9L44.7,204L45.1,204.4L45.5,193.2L45.8,182.7L46.2,164.9L46.6,161.7L47.1,169L47.5,165.3L47.9,158.6L48.4,156.5L48.8,156.2L49.2,156.9L49.6,158.2L50,159.8L50.4,163.6L50.7,165.8L51.1,175L51.5,183.4L52,190.4L52.4,197L52.8,195.2L53.3,192.8L53.7,201.7L54.1,204.3L54.5,193.4L54.9,196.8L55.3,205.8L55.7,210.5L56.1,210.7L56.5,215.3L56.9,220.9L57.3,223.5L57.7,219.7L58.1,222.5L58.5,220.7L59,214.3L59.4,213.1L59.8,207.8L60.2,200.7L60.6,197.5L61,196.8L61.4,190.6L61.8,189.5L62.2,186.6L62.6,182.6L63,181.1L63.4,175.5L63.8,167.8L64.2,162L64.6,153.9L65,163L65.4,168L65.8,159L66.2,165.1L66.7,186.8L67.1,191.5L67.5,195.1L67.9,200.6L68.3,208.4L68.7,215.2L69.1,225.2L69.6,231.5L70,244.2L70.4,247.5L70.8,248.7L71.2,252L71.6,243.3L71.9,234.8L72.3,231.7L72.7,220.6L73.2,210L73.6,200.2L74,208.1L74.5,217L74.9,226.6L75.3,230.6L75.6,232.8L76,234.5L76.4,231.9L76.8,229.4L77.3,230.9L77.7,230.6L78.1,233.7L78.5,233.9L78.9,240.4L79.3,242.3L79.7,237.7L80.1,238.9L80.5,249L80.9,249.4L81.3,232.5L81.8,224.9L82.2,215.2L82.6,207.2L83,201L83.3,195.1L83.7,188.1L84.1,193L84.6,198.6L85,203.8L85.4,205.6L85.8,207.9L86.2,209.3L86.6,213.4L87,209.6L87.5,200.5L87.9,186.9L88.3,177.5L88.7,168.4L89.1,159.3L89.5,164.3L90,168.1L90.4,166.9L90.8,172.6L91.1,184.6L91.5,191.4L91.9,200.3L92.3,212.8L92.7,223.5L93.1,233.6L93.5,214.7L93.9,206.7L94.4,208.5L94.8,199.7L95.2,198.6L95.6,197.8L96,196.6L96.4,194.1L96.8,202.5L97.3,208.5L97.7,210.8L98.1,222.3L98.5,234.2L98.9,247.1L99.3,261.9L99.7,247.9L100.1,234.3L100.5,219.5L100.9,216.5L101.2,208.7L101.6,203.9L102,206.2L102.4,204.1L102.8,206L103.2,211.8L103.6,220.5L104.1,219.2L104.5,227.2L104.9,228L105.3,218.4L105.8,198.1L106.2,187.6L106.6,196.4L107,194.1L107.4,190.4L107.8,191.2L108.2,196.6L108.6,198.1L109,195.8L109.4,196.8L109.8,195.4L110.2,194.2L110.7,195.4L111.1,195.8L111.5,199.8L111.9,202L112.3,211.3L112.7,211.8L113.1,220.7L113.5,230.3L113.9,239.9L114.3,248.8L114.7,256.8L115.1,259.9L115.5,267.3L115.9,270.2L116.3,252L116.8,245.9L117.2,249.7L117.6,241.4L118,239.3L118.4,230.1L118.8,221.5L119.2,214.8L119.6,219.5L120,227.6L120.4,232.4L120.8,235.4L121.2,241.8L121.6,248.6L122,252.5L122.3,253L122.7,257.3L123.1,258.6L123.5,255.3L123.9,253.6L124.3,242.5L124.7,237.6L125.2,231.4L125.6,222.1L126,211.6L126.5,202.2L126.9,210.6L127.4,214.9L127.8,214.3L128.2,215.9L128.6,220.8L129,222.4L129.4,229.8L129.7,239.3L130.1,251.8L130.5,249.4L130.9,240.4L131.3,237.4L131.7,237.5L132.1,234.8L132.4,232.3L132.8,227.8L133.2,225.7L133.6,223L134,217.7L134.4,215L134.8,216.3L135.2,221.2L135.6,215.5L135.9,223.4L136.3,236.3L136.7,241.7L137.1,246L137.5,250.4L137.9,251.1L138.3,250L138.7,250.3L139,247.1L139.4,244.5L139.8,244.1L140.2,243.9L140.6,244.2L141,248.2L141.4,252.6L141.8,256L142.1,259.3L142.5,262.1L142.9,270.3L143.2,273.8L143.6,282.5L144,272.2L144.5,262.5L144.9,253.5L145.3,259.9L145.7,252.4L146.1,258.1L146.5,269.9L146.9,270.2L147.2,267.3L147.6,271.4L148,273.3L148.4,270.1L148.8,267.1L149.1,266.9L149.5,263.3L149.9,257.1L150.3,252.6L150.7,245.3L151.1,250.3L151.5,251.3L151.8,239.7L152.2,238.8L152.6,249.4L153,245.2L153.4,236.3L153.7,230L154.1,221.1L154.5,215.9L154.9,213.3L155.2,210.6L155.6,208.6L156,207.2L156.4,214.5L156.9,223.2L157.3,233.3L157.7,240.8L158.1,242.2L158.4,247.9L158.8,256.5L159.2,258.9L159.7,264.8L160.1,268.6L160.5,261L160.8,255.9L161.2,250.1L161.6,252.4L161.9,258L162.3,263L162.7,261.3L163.1,267.3L163.5,273.8L163.9,276.3L164.3,279.6L164.7,276.1L165.1,279.2L165.4,275.8L165.8,276.8L166.2,255.9L166.5,239.6L166.9,219.4L167.3,214.3L167.8,209.2L168.2,199.4L168.6,215.1L169,232.2L169.4,248.7L169.8,244.9L170.2,242.8L170.6,231.7L171,228.3L171.4,245L171.8,254.6L172.1,262.7L172.5,273.9L172.9,269.4L173.3,261.3L173.7,253L174.1,249.5L174.5,245.7L174.8,239.4L175.2,225.9L175.6,221.7L176,221.8L176.3,215L176.7,210.4L177.1,215.7L177.4,221.9L177.8,228.5L178.2,226.3L178.6,221.6L179,217.4L179.4,215.8L179.8,208.3L180.2,202.9L180.6,200L181,203.3L181.4,207.4L181.8,213.1L182.2,212.2L182.5,219.9L182.9,233.2L183.3,227L183.7,219.2L184.1,211.3L184.5,208.1L184.9,212.8L185.2,214.5L185.6,219.3L186,224.9L186.4,218.8L186.7,217.6L187.1,212.2L187.5,208.7L187.9,205.1L188.3,210.7L188.7,207.6L189.1,209.2L189.5,212L189.9,216.5L190.3,222.7L190.7,224.2L191.1,228.8L191.4,237.8L191.8,245.1L192.2,243.9L192.6,248.2L193,257.5L193.4,257.5L193.8,260.8L194.2,254.6L194.6,250.9L195,244.5L195.4,239.2L195.8,232.7L196.2,226.2L196.6,222.9L197,215.7L197.4,211.6L197.8,219.7L198.1,227.5L198.5,234.1L198.9,239.5L199.2,241.1L199.6,245.2L200,251.5L200.4,253.2L200.8,254.9L201.2,254.6L201.6,257.2L202,259.4L202.4,258.2L202.8,257.8L203.1,258.6L203.5,258.3L203.9,261.7L204.3,253.7L204.7,245.9L205.1,242.7L205.5,232.2L205.9,223L206.3,219.1L206.7,207.9L207.1,222.9L207.5,229.7L207.9,226.1L208.3,234L208.8,239L209.3,242.2L209.7,237.3L210.1,230.3L210.5,223.6L210.9,216.2L211.3,213.2L211.6,213.1L212,209.1L212.4,222.2L212.9,237.2L213.3,245.7L213.6,256.7L214,266.5L214.4,260L214.8,255.2L215.2,252.6L215.6,250.3L215.9,241.5L216.3,238.5L216.7,240.2L217,237.1L217.4,236.1L217.8,232.4L218.2,232.4L218.6,219.3L218.9,203L219.3,187.1L219.7,175.8L220.1,157.4L220.5,157.8L220.9,161L221.3,164.6L221.7,167.2L222.1,169.5L222.5,172.7L222.9,178.5L223.4,180.9L223.8,183L224.2,186.8L224.5,191.8L224.9,198.5L225.2,200.1L225.6,206L226,192.5L226.4,175.9L226.8,161.9L227.2,153.7L227.6,143.3L228,150.3L228.4,159.9L228.9,167.7L229.3,174.7L229.7,162.7L230.1,150.2L230.5,138.4L230.9,123.2L231.2,130.1L231.6,137.1L232,143.3L232.3,149.8L232.7,139.3L233.1,128L233.5,116.8L233.9,107.2L234.3,96.7L234.7,116.2L235,135.4L235.4,153.4L235.8,144.2L236.2,138.3L236.6,128.1L237,118.3L237.4,108.9L237.8,125.8L238.2,143.9L238.6,161.7L239,179.3L239.4,167.5L239.8,153.4L240.1,140.2L240.5,126.7L240.9,119.5L241.3,112.8L241.7,106.9L242.1,100.1L242.5,92.4L242.9,101.1L243.3,109.9L243.7,118L244.1,126.6L244.5,133.6L244.9,123L245.2,112.5L245.6,99.2L246,88.2L246.4,88L246.8,87.3L247.2,85.9L247.6,84.8L248,88.9L248.4,92.3L248.8,91.6L249.2,94.8L249.6,95.3L250,94.9L250.4,97.4L250.9,96.9L251.3,95.8L251.7,94.7L252.1,95.4L252.5,96.3L252.9,98.7L253.3,100.3L253.7,101.8L254.1,99.7L254.5,95.7L254.9,92.4L255.3,90.5L255.7,87.8L256.1,88.9L256.5,88.8L257,87.3L257.4,87.8L257.8,84.2L258.2,86.6L258.6,90.2L259,92.8L259.4,97.9L259.8,94.9L260.1,89.7L260.4,87.7L260.8,85.9L261.2,85.6L261.6,84.9L262,83.4L262.4,83.3L262.7,83.5L263.1,81.5L263.5,81.5L263.9,79.5L264.3,79.8L264.6,85.3L265,85.7L265.4,82.2L265.8,83.3L266.1,80.4L266.5,81.5L266.9,84.1L267.3,82.3L267.7,84.4L268.1,82.8L268.4,79.3L268.8,78.6L269.2,75.1L269.6,74.4L270.1,77.5L270.5,80.5L271,85.3L271.4,83.9L271.8,83L272.2,82.4L272.6,80.5L272.9,79L273.3,77.5L273.7,76.2L274.1,79.4L274.5,79.3L274.9,79.2L275.3,78.4L275.7,78.3L276.1,78.3L276.5,77L276.9,76.5L277.3,78.6L277.7,78.5L278.1,77.7L278.5,78L278.9,79.1L279.3,78.5L279.7,81.4L280.1,81.8L280.6,77.4L281,78L281.4,78L281.8,76.9L282.2,76.6L282.6,76.3L283,75.7L283.4,75.4L283.8,76.5L284.3,75.4L284.7,76.1L285.1,75L285.5,78.9L285.9,79L286.3,75L286.7,78.1L287.1,77.6L287.5,79.5L287.9,85.2L288.3,87.7L288.7,86.1L289.1,84.7L289.6,82.2L290,82L290.4,79.5L290.8,78L291.2,75.4L291.6,74L292,70.5L292.4,68.2L292.8,64.7L293.2,65.3L293.6,74.5L294,74.9L294.4,70.6L294.9,70.7L295.3,71.9L295.7,72.6L296.1,70L296.5,70.9L296.9,71.7L297.3,72.4L297.7,72.7L298.1,72.5L298.5,70.9L298.9,70.3L299.3,70.4L299.7,70.3L300.1,70.8L300.5,70.8L300.9,70.2L301.3,69.8L301.7,69.8L302.1,69.2L302.6,69.4L303,69.4L303.4,69.3L303.8,69L304.2,69.2L304.6,69.1L305,70.2L305.4,69.5L305.8,68.3L306.2,68.4L306.7,68L307.1,67.5L307.5,67.9L307.9,67L308.3,65.4L308.7,66.4L309.1,67.3L309.5,68.8L309.9,71L310.3,72.4L310.7,72.7L311.1,74.6L311.5,74.8L311.9,76.8L312.3,77.7L312.7,79.2L313.1,80.5L313.4,80.4L313.8,79.6L314.2,80.4L314.6,80.9L314.9,80.9L315.3,80.1L315.7,78.9L316.1,78.2L316.6,75.9L317,74.5L317.4,72.8L317.8,71L318.2,71.7L318.6,72.6L319.1,73L319.5,72.8L319.9,73.6L320.3,73.6L320.7,73L321.1,72.7L321.5,71.9L321.9,71.6L322.2,71.5L322.6,70.7L323,69.7L323.4,69.9L323.8,68.8L324.2,70.2L324.6,71.3L325,70.7L325.4,71.5L325.9,74.4L326.3,75.3L326.7,75.3L327.1,75.4L327.5,74.9L327.9,74.2L328.4,73.4L328.8,73.6L329.2,73.3L329.6,74.2L329.9,73.7L330.3,73.7L330.7,74.6L331.1,74.5L331.4,74.7L331.8,74.9L332.2,75.2L332.6,75.3L333.1,73.2L333.5,72.4L333.9,71.9L334.3,71.1L334.7,72.2L335.2,73.4L335.6,76.1L336,77.1L336.5,76.3L336.9,77.8L337.3,76.8L337.7,75.7L338.1,76.2L338.6,76.1L339,73.8L339.4,72.9L339.8,74L340.2,73.7L340.5,73.6L340.9,73L341.3,73.1L341.7,73.1L342.1,73.8L342.4,73.3L342.8,72.1L343.2,72.5L343.6,72.7L344,72.5L344.3,73L344.7,72.9L345.1,72.3L345.5,72L345.9,72.4L346.2,72.5L346.6,71.4L347,70.9L347.4,72.1L347.8,71.4L348.2,70L348.6,69.2L348.9,70L349.3,69.5L349.7,69.2L350.1,68.6L350.5,67.7L350.9,66.8L351.3,67.3L351.7,67.3L352.1,66.7L352.6,66.7L353,67.3L353.4,67.5L353.8,66.7L354.2,66L354.6,67.4L355.1,66.9L355.5,66.3L355.9,66.2L356.3,65.9L356.7,65.4L357.1,65.7L357.5,66L357.9,67L358.3,67.2L358.6,67.2L359,67.2L359.4,67.6L359.8,67.7L360.2,67.7L360.6,68.4L361,67.9L361.4,67.9L361.8,67.8L362.1,67.6L362.5,67.1L362.9,66.8L363.3,68.1L363.7,67.5L364,67.9L364.4,67.3L364.8,68.3L365.2,68.2L365.7,68.2L366.1,68.2L366.5,68.8L367,69L367.4,68.8L367.8,68.4L368.2,68.7L368.6,68.1L369.1,68.4L369.5,68L369.9,65.9L370.3,66.6L370.7,67.7L371,68.1L371.4,67.8L371.8,68.2L372.2,67.5L372.6,67.8L372.9,67.7L373.3,68.6L373.7,70L374.1,68.9L374.4,68.4L374.8,67.5L375.2,65.2L375.6,64.1L375.9,64.3L376.3,63.7L376.7,65.3L377.1,66.2L377.6,66.9L378,68.5L378.4,68.8L378.8,70.3L379.2,70.4L379.7,71.1L380.1,71.6L380.5,72.2L381,72.4L381.4,72.8L381.8,71.4L382.2,70.7L382.6,69.9L383.1,69L383.5,69.1L383.9,68.1L384.3,68.1L384.7,67.7L385,68.1L385.4,68.1L385.8,67.8L386.2,67.7L386.6,67L386.9,67.1L387.3,67.4L387.7,66.9L388.1,67.5L388.5,67.1L388.8,67.7L389.2,67.6L389.6,68.3L390,68.7L390.4,66.9L390.7,67.6L391.1,67.4L391.5,67.8L391.9,68.2L392.3,67.8L392.6,68.3L393,68.2L393.4,67.9L393.8,68L394.2,69.2L394.5,69.5L394.9,69.6L395.3,69.9L395.7,70.5L396.2,70.9L396.6,71.8L397,72.6L397.5,72.1L397.9,72L398.3,72.7L398.7,71.8L399.1,71.3L399.6,70.3L400,69.5L400.4,68.5L400.8,68L401.2,68.2L401.5,68.9L401.9,69.2L402.3,69.2L402.7,69.4L403.1,70.5L403.4,70.5L403.8,69.9L404.2,70.3L404.6,69.7L404.9,69.3L405.3,69.1L405.7,68.3L406.1,69.5L406.4,69.2L406.8,67.4L407.2,67.9L407.6,67.1L407.9,67.6L408.3,68.8L408.7,68.8L409.1,69.2L409.5,68.9L409.8,69.2L410.2,69L410.6,69.1L411,69L411.4,70.4L411.9,70.4L412.3,69.1L412.7,69.2L413.1,70.3L413.6,70.7L414,71.1L414.4,71.2L414.8,71.4L415.2,71.1L415.5,71.6L415.9,71.3L416.3,71.9L416.7,72L417.1,72L417.4,72.9L417.8,73.4L418.2,73.7L418.6,73.1L418.9,72.3L419.3,71.1L419.7,70.5L420.1,69.6L420.4,69.4L420.8,69.3L421.2,70.7L421.6,70.8L422.1,71.9L422.5,72.9L422.9,74.1L423.3,73.4L423.7,73L424.2,72.9L424.6,71.7L425,71L425.5,69.9L425.9,69.5L426.3,70.5L426.7,70.6L427.1,71L427.6,71.4L428,71.5L428.4,72.1L428.8,72.7L429.2,74.1L429.5,74.6L429.9,72.9L430.3,73.8L430.7,74.4L431.1,74.4L431.4,74.3L431.8,74.4L432.2,76.3L432.6,75.5L432.9,74.3L433.3,73.5L433.7,74.1L434.1,73.8L434.4,72.3L434.8,71.4L435.2,71L435.6,70.5L435.9,70.6L436.3,70.2L436.7,69.6L437.1,69.5L437.5,69.4L437.8,68.5L438.2,68.3L438.6,67.5L439,68.4L439.4,68.5L439.9,69.5L440.3,69.8L440.7,69.6L441.1,70.6L441.6,70.6L442,70.7L442.4,71.7L442.8,71.8L443.2,71L443.5,71.7L443.9,71.8L444.3,71.9L444.7,72L445.1,71.9L445.4,72.9L445.8,72.9L446.2,73L446.6,72.8L447,72.5L447.3,72.4L447.7,72.3L448.1,71.4L448.5,70.7L448.9,70L449.2,70.5L449.6,70.7L450,69L450.4,68.8L450.7,68.1L451.1,67.3L451.5,68.5L451.9,67.9L452.2,66.7L452.6,66L453,67.6L453.4,68.5L453.9,68.5L454.3,69.5L454.7,69.8L455.1,70.4L455.5,70.6L455.9,70.8L456.4,71.6L456.8,71.6L457.2,72.6L457.6,73.4L458.1,73.3L458.5,73.5L458.9,73.5L459.3,73L459.7,73.2L460,72.4L460.4,73L460.8,72.5L461.2,73L461.6,72L461.9,70.6L462.3,70.7L462.7,70.7L463.1,70.6L463.5,70.7L463.8,70.2L464.2,70.5L464.6,70.5L465,68.9L465.4,69.5L465.7,70L466.1,69.4L466.5,68.2L466.9,68.5L467.3,69.3L467.7,69.3L468.1,70L468.4,69.9L468.8,71.3L469.2,71.7L469.6,70.8L470,71.2L470.4,71.1L470.8,72.5L471.2,73.5L471.7,74.1L472.1,75.4L472.5,75.7L472.9,74.1L473.2,73.9L473.6,73.3L474,72.4L474.4,71.5L474.7,70.5L475.1,71.2L475.5,70.9L475.9,70.5L476.3,70.3L476.7,72L477.1,72.2L477.5,72.1L477.8,72.1L478.2,71.2L478.6,71.2L479,72.4L479.4,72L479.8,72.4L480.2,73.1L480.6,72.9L481,73.1L481.4,73.5L481.8,73.5L482.2,72L482.6,72.3L482.9,72.4L483.3,72.6L483.7,72.5L484.1,72.5L484.5,72.3L484.9,72.6L485.3,73.3L485.7,72.6L486.1,72.6L486.6,71.8L487,72.2L487.4,72.4L487.8,72.1L488.2,71.4L488.6,71.7L489.1,71.4L489.5,71.6L489.9,70.9L490.3,70.1L490.7,69.9L491.1,69.6L491.5,69.5L491.9,70.6L492.3,70.3L492.7,70L493,69.8L493.4,69.3L493.8,69.2L494.2,71.1L494.6,70.5L495,70.7L495.4,70.3L495.8,69.4L496.2,69.5L496.6,69.9L497,69.6L497.4,71.4L497.8,71.5L498.1,71.7L498.5,71.5L498.9,70.5L499.3,70.5L499.7,72.2L500.1,71.9L500.5,71.3L500.9,71.3L501.3,71.8L501.7,72.1L502.1,71.7L502.5,71.2L502.9,70.3L503.2,69.7L503.6,70L504,69.7L504.4,70.1L504.8,69.8L505.2,69.6L505.6,69.6L506,69.7L506.4,69.5L506.8,68.6L507.2,68.2L507.6,68L508,67.4L508.3,67.9L508.7,67.9L509.1,67.9L509.5,67.6L509.9,66.7L510.3,66.9L510.7,66.1L511.1,67.2L511.5,69.2L512,70.1L512.4,71.2L512.8,72.2L513.2,72.7L513.6,74.1L514,76.3L514.4,76.9L514.8,77.5L515.1,78.8L515.5,79.8L515.9,81L516.3,82.4L516.7,82.1L517.1,82.2L517.5,81.6L518,80.6L518.4,80L518.8,77.8L519.2,77L519.6,76.6L520,76.3L520.4,75.8L520.9,74.9L521.3,74.6L521.7,73.4L522.1,73.1L522.6,72.3L523,71.8L523.4,71L523.8,71.5L524.2,71.3L524.6,70.9L525,70.4L525.4,70.1L525.8,69.5L526.1,69.4L526.5,68.6L526.9,68.5L527.3,68L527.7,68.6L528.1,68L528.5,67.7L528.9,68.2L529.3,68.1L529.7,68.5L530.1,67.8L530.5,68.3L530.9,69.1L531.2,69.3L531.6,68.9L532,68.9L532.4,69.1L532.8,68.9L533.2,69.6L533.6,69.5L534,70.2L534.4,70.8L534.9,69.3L535.3,69.5L535.7,69.7L536.1,69.5L536.5,70.4L536.9,70.3L537.4,71.5L537.8,71.8L538.2,71.4L538.6,71.4L539,70.8L539.4,70.5L539.8,71.8L540.2,71.9L540.6,70.6L541,70.9L541.3,72.3L541.7,71.8L542.1,71.4L542.5,71.8L542.9,71.8L543.3,72.5L543.7,71.8L544.1,71.8L544.5,71.9L544.9,71.7L545.3,70.7L545.7,70.8L546.1,72L546.4,72.3L546.8,71.6L547.2,71.3L547.6,71.5L548,71.2L548.4,72.3L548.8,72.4L549.2,71L549.5,71.1L549.9,72.6L550.3,72.7L550.7,71.7L551,72.4L551.4,73.2L551.8,73.7L552.2,73.5L552.5,73.5L552.9,75.2L553.3,75.2L553.7,74.8L554.1,75.7L554.4,75.9L554.8,76.3L555.2,76.6L555.6,76L556,75.3L556.5,74.4L556.9,74.3L557.3,73.4L557.7,73.4L558.2,78.7L558.6,84.7L559,90.4L559.5,96.9L559.9,93.1L560.3,90.3L560.7,87L561.1,83.4L561.5,80.3L561.9,79.4L562.2,78.6L562.6,77.6L563,76.6L563.4,75.7L563.7,75L564.1,75.2L564.5,74.7L564.9,74.7L565.3,74.4L565.7,73.9L566.1,73.9L566.5,73L566.8,73.1L567.2,73.3L567.6,72.8L568,72.5L568.4,72.4L568.8,72.1L569.2,71.9L569.6,73L570,73L570.5,72.3L570.9,72.1L571.3,71.4L571.7,71.3L572.1,72.5L572.5,72.7L573,72L573.4,71.7L573.8,70.9L574.2,71.1L574.6,72.5L575,72.9L575.4,72.1L575.8,71.5L576.2,72.3L576.6,71.9L576.9,71.4L577.3,71.6L577.7,72.1L578.1,71.8L578.5,72L578.9,72.4L579.3,73.2L579.7,72.9L580.1,73.4L580.5,73.1L580.9,72.3L581.3,72.4L581.7,72.2L582,72.3L582.4,73.2L582.8,73.1L583.2,73.4L583.6,73.5L584,73.5L584.4,73.4L584.8,74.5L585.2,75.5L585.7,76.4L586.1,78.1L586.5,79.2L586.9,80.2L587.4,80.9L587.8,81.5L588.2,84L588.6,83.2L589.1,80.5L589.5,79.5L589.9,78.4L590.4,77.4L590.8,76.5L591.2,75.8L591.6,77.1L592,77.1L592.4,76.6L592.8,76.6L593.2,76.3L593.5,76.5L593.9,75.8L594.3,75.8L594.7,76.1L595.1,76.4L595.5,76.4L595.9,76.1L596.3,75.9L596.7,75.3L597.1,74.7L597.6,74.9L598,75.9L598.4,76.4L598.8,75.3L599.2,74.8L599.6,74.5L600.1,74.4L600.5,75.6L600.9,75.3L601.3,75.9L601.7,75.4L602.1,74.4L602.5,74.3L602.9,73.3L603.3,73.6L603.7,73.6L604.1,72.9L604.5,73.2L604.9,73.3L605.3,72.3L605.7,74.4L606.1,75.4L606.5,76.5L607,79.3L607.4,81.3L607.8,81.8L608.2,83.3L608.6,86.8L609,85.7L609.4,83.4L609.9,82.6L610.3,82L610.7,81.1L611.1,81.2L611.5,80.9L611.9,81.2L612.4,81.5L612.8,80.4L613.2,80.4L613.6,80.5L614.1,80.5L614.5,80.2L614.9,80.3L615.3,80L615.7,79.5L616.1,77.9L616.5,77.1L617,76.3L617.4,75.9L617.8,74L618.2,73.1L618.6,73.9L619,75.2L619.4,75.7L619.8,76.9L620.1,79L620.5,80.8L620.9,80.5L621.3,81.1L621.7,81.3L622.1,80.6L622.4,81.3L622.8,80.9L623.2,81.7L623.6,80.7L624,80L624.3,79.7L624.7,79L625.1,78.5L625.5,78.8L625.9,78.5L626.4,79.4L626.8,79.7L627.2,77.7L627.6,77.2L628,78L628.4,78.7L628.8,78.5L629.2,78.6L629.5,78.7L629.9,79L630.3,80.4L630.7,80.6L631.1,81.4L631.5,81.6L631.9,80L632.3,80.1L632.8,79.6L633.2,80L633.6,80.5L634,80.4L634.5,80.5L634.9,81L635.3,82.2L635.8,82.9L636.2,98.6L636.6,113.6L637,128.1L637.5,130.6L637.9,134.8L638.3,136.7L638.8,141.6L639.2,144.1L639.5,146.5L639.9,149.2L640.3,149.2L640.7,153.5L641,159.2L641.4,164.1L641.8,160.1L642.2,153.7L642.6,148.6L643,150.3L643.4,152.2L643.7,154.9L644.1,156.6L644.5,159.3L645,160.1L645.5,161.4L645.9,162.5L646.3,163.9L646.6,167.7L647,168.5L647.3,169.9L647.7,170L648.1,167.8L648.5,166.3L648.9,165.3L649.3,163.3L649.7,163.1L650.2,165.1L650.6,167.7L651,169.3L651.5,172.6L651.9,176.5L652.3,182.3L652.6,185.3L653,186.2L653.4,189.8L653.8,196.5L654.2,198.9L654.5,201.2L654.9,204.1L655.3,207.9L655.7,202.7L656,197.9L656.4,192.8L656.7,188.4L657.1,182.5L657.5,184L658,185.1L658.5,186.9L658.9,187.5L659.3,191.7L659.7,193.9L660.1,196.5L660.5,199.3L660.9,202.4L661.2,204.2L661.6,207.1L662,209.5L662.4,207.1L662.8,210.4L663.1,220.6L663.5,224L663.9,222L664.3,223.1L664.7,228.9L665.1,230L665.5,224.6L666,225.4L666.4,230.9L666.8,231.7L667.2,230.2L667.6,230.3L668.1,233.7L668.5,234.6L668.9,233.3L669.3,233.2L669.8,234.9L670.2,234.2L670.6,233.7L671,234L671.5,235.1L671.9,235.9L672.4,237L672.8,238.3L673.2,236.6L673.6,238.9L674,240.2L674.3,240.8L674.7,244.3L675.1,244.8L675.5,244.3L675.9,243.5L676.3,244.6L676.8,244L677.2,246.4L677.6,245.9L678,248.4L678.4,248.6L678.8,246.6L679.2,248.2L679.7,247.6L680.1,248.3L680.5,245.1L680.9,244.9L681.4,249.9L681.8,249.9L682.2,247.8L682.5,246.9L682.9,244.8L683.3,242.8L683.6,239.7L684,238.2L684.4,237.4L684.8,236.9L685.1,234.7L685.5,235.2L685.9,233.1L686.3,233.4L686.7,232.3L687,232.9L687.4,237.4L687.8,238L688.1,239.4L688.5,240.1L688.9,236.5L689.2,238.5L689.6,241.8L690,243.4L690.3,244.1L690.7,246L691.2,238.6L691.6,231.3L692,219.5L692.5,211.7L692.9,206.2L693.3,200.6L693.6,195.9L694,191.5L694.4,189.9L694.8,184.9L695.2,184.6L695.5,187.3L695.9,187.3L696.3,190.6L696.7,199.5L697.1,203.7L697.5,206.6L697.8,210.9L698.2,211.5L698.6,215.4L699,215.3L699.4,211.6L699.8,211.3L700.2,209.3L700.7,206.6L701.1,204L701.5,201.4L702,199.2L702.4,201.8L702.7,203.1L703.1,203.7L703.5,205.2L703.8,205.7L704.2,206.5L704.7,208.7L705.1,211.4L705.5,213L706,214.6L706.5,202.3L707,191.3" fill="none" stroke="#e94b9b" stroke-width="0.85" stroke-linejoin="round"/>
<line x1="29.4" y1="23.3" x2="707" y2="23.3" stroke="#606060" stroke-width="1"/>
<path d="M29.44,320v3.6M31.81,320v3.6M34.19,320v3.6M36.56,320v3.6M38.93,320v3.6M41.30,320v5.6M43.67,320v3.6M46.04,320v3.6M48.41,320v3.6M50.79,320v3.6M53.16,320v3.6M55.53,320v3.6M57.90,320v3.6M60.27,320v3.6M62.64,320v3.6M65.02,320v3.6M67.39,320v3.6M69.76,320v3.6M72.13,320v3.6M74.50,320v3.6M76.87,320v5.6M79.24,320v3.6M81.62,320v3.6M83.99,320v3.6M86.36,320v3.6M88.73,320v3.6M91.10,320v3.6M93.47,320v3.6M95.84,320v3.6M98.22,320v3.6M100.59,320v3.6M102.96,320v3.6M105.33,320v3.6M107.70,320v3.6M110.07,320v3.6M112.45,320v5.6M114.82,320v3.6M117.19,320v3.6M119.56,320v3.6M121.93,320v3.6M124.30,320v3.6M126.67,320v3.6M129.05,320v3.6M131.42,320v3.6M133.79,320v3.6M136.16,320v3.6M138.53,320v3.6M140.90,320v3.6M143.27,320v3.6M145.65,320v3.6M148.02,320v5.6M150.39,320v3.6M152.76,320v3.6M155.13,320v3.6M157.50,320v3.6M159.88,320v3.6M162.25,320v3.6M164.62,320v3.6M166.99,320v3.6M169.36,320v3.6M171.73,320v3.6M174.10,320v3.6M176.48,320v3.6M178.85,320v3.6M181.22,320v3.6M183.59,320v5.6M185.96,320v3.6M188.33,320v3.6M190.70,320v3.6M193.08,320v3.6M195.45,320v3.6M197.82,320v3.6M200.19,320v3.6M202.56,320v3.6M204.93,320v3.6M207.31,320v3.6M209.68,320v3.6M212.05,320v3.6M214.42,320v3.6M216.79,320v3.6M219.16,320v5.6M221.53,320v3.6M223.91,320v3.6M226.28,320v3.6M228.65,320v3.6M231.02,320v3.6M233.39,320v3.6M235.76,320v3.6M238.13,320v3.6M240.51,320v3.6M242.88,320v3.6M245.25,320v3.6M247.62,320v3.6M249.99,320v3.6M252.36,320v3.6M254.74,320v5.6M257.11,320v3.6M259.48,320v3.6M261.85,320v3.6M264.22,320v3.6M266.59,320v3.6M268.96,320v3.6M271.34,320v3.6M273.71,320v3.6M276.08,320v3.6M278.45,320v3.6M280.82,320v3.6M283.19,320v3.6M285.56,320v3.6M287.94,320v3.6M290.31,320v5.6M292.68,320v3.6M295.05,320v3.6M297.42,320v3.6M299.79,320v3.6M302.17,320v3.6M304.54,320v3.6M306.91,320v3.6M309.28,320v3.6M311.65,320v3.6M314.02,320v3.6M316.39,320v3.6M318.77,320v3.6M321.14,320v3.6M323.51,320v3.6M325.88,320v5.6M328.25,320v3.6M330.62,320v3.6M332.99,320v3.6M335.37,320v3.6M337.74,320v3.6M340.11,320v3.6M342.48,320v3.6M344.85,320v3.6M347.22,320v3.6M349.60,320v3.6M351.97,320v3.6M354.34,320v3.6M356.71,320v3.6M359.08,320v3.6M361.45,320v5.6M363.82,320v3.6M366.20,320v3.6M368.57,320v3.6M370.94,320v3.6M373.31,320v3.6M375.68,320v3.6M378.05,320v3.6M380.42,320v3.6M382.80,320v3.6M385.17,320v3.6M387.54,320v3.6M389.91,320v3.6M392.28,320v3.6M394.65,320v3.6M397.03,320v5.6M399.40,320v3.6M401.77,320v3.6M404.14,320v3.6M406.51,320v3.6M408.88,320v3.6M411.25,320v3.6M413.63,320v3.6M416.00,320v3.6M418.37,320v3.6M420.74,320v3.6M423.11,320v3.6M425.48,320v3.6M427.85,320v3.6M430.23,320v3.6M432.60,320v5.6M434.97,320v3.6M437.34,320v3.6M439.71,320v3.6M442.08,320v3.6M444.46,320v3.6M446.83,320v3.6M449.20,320v3.6M451.57,320v3.6M453.94,320v3.6M456.31,320v3.6M458.68,320v3.6M461.06,320v3.6M463.43,320v3.6M465.80,320v3.6M468.17,320v5.6M470.54,320v3.6M472.91,320v3.6M475.28,320v3.6M477.66,320v3.6M480.03,320v3.6M482.40,320v3.6M484.77,320v3.6M487.14,320v3.6M489.51,320v3.6M491.89,320v3.6M494.26,320v3.6M496.63,320v3.6M499.00,320v3.6M501.37,320v3.6M503.74,320v5.6M506.11,320v3.6M508.49,320v3.6M510.86,320v3.6M513.23,320v3.6M515.60,320v3.6M517.97,320v3.6M520.34,320v3.6M522.71,320v3.6M525.09,320v3.6M527.46,320v3.6M529.83,320v3.6M532.20,320v3.6M534.57,320v3.6M536.94,320v3.6M539.32,320v5.6M541.69,320v3.6M544.06,320v3.6M546.43,320v3.6M548.80,320v3.6M551.17,320v3.6M553.54,320v3.6M555.92,320v3.6M558.29,320v3.6M560.66,320v3.6M563.03,320v3.6M565.40,320v3.6M567.77,320v3.6M570.14,320v3.6M572.52,320v3.6M574.89,320v5.6M577.26,320v3.6M579.63,320v3.6M582.00,320v3.6M584.37,320v3.6M586.75,320v3.6M589.12,320v3.6M591.49,320v3.6M593.86,320v3.6M596.23,320v3.6M598.60,320v3.6M600.97,320v3.6M603.35,320v3.6M605.72,320v3.6M608.09,320v3.6M610.46,320v5.6M612.83,320v3.6M615.20,320v3.6M617.57,320v3.6M619.95,320v3.6M622.32,320v3.6M624.69,320v3.6M627.06,320v3.6M629.43,320v3.6M631.80,320v3.6M634.17,320v3.6M636.55,320v3.6M638.92,320v3.6M641.29,320v3.6M643.66,320v3.6M646.03,320v5.6M648.40,320v3.6M650.78,320v3.6M653.15,320v3.6M655.52,320v3.6M657.89,320v3.6M660.26,320v3.6M662.63,320v3.6M665.00,320v3.6M667.38,320v3.6M669.75,320v3.6M672.12,320v3.6M674.49,320v3.6M676.86,320v3.6M679.23,320v3.6M681.61,320v5.6M683.98,320v3.6M686.35,320v3.6M688.72,320v3.6M691.09,320v3.6M693.46,320v3.6M695.83,320v3.6M698.21,320v3.6M700.58,320v3.6M702.95,320v3.6M705.32,320v3.6" stroke="#2a2a2a" stroke-width="0.8" fill="none"/>
<g font-family='"Liberation Sans", sans-serif' font-size="8.3" fill="#000" stroke="#000" stroke-width="0.2"><text transform="translate(41.90,326.9) rotate(-90) scale(0.93,1)" y="3.3" text-anchor="end">7:30</text><text transform="translate(77.47,326.9) rotate(-90) scale(0.93,1)" y="3.3" text-anchor="end">7:45</text><text transform="translate(113.05,326.9) rotate(-90) scale(0.93,1)" y="3.3" text-anchor="end">8:0</text><text transform="translate(148.62,326.9) rotate(-90) scale(0.93,1)" y="3.3" text-anchor="end">8:15</text><text transform="translate(184.19,326.9) rotate(-90) scale(0.93,1)" y="3.3" text-anchor="end">8:30</text><text transform="translate(219.76,326.9) rotate(-90) scale(0.93,1)" y="3.3" text-anchor="end">8:45</text><text transform="translate(255.34,326.9) rotate(-90) scale(0.93,1)" y="3.3" text-anchor="end">9:0</text><text transform="translate(290.91,326.9) rotate(-90) scale(0.93,1)" y="3.3" text-anchor="end">9:15</text><text transform="translate(326.48,326.9) rotate(-90) scale(0.93,1)" y="3.3" text-anchor="end">9:30</text><text transform="translate(362.05,326.9) rotate(-90) scale(0.93,1)" y="3.3" text-anchor="end">9:45</text><text transform="translate(397.63,326.9) rotate(-90) scale(0.93,1)" y="3.3" text-anchor="end">10:0</text><text transform="translate(433.20,326.9) rotate(-90) scale(0.93,1)" y="3.3" text-anchor="end">10:15</text><text transform="translate(468.77,326.9) rotate(-90) scale(0.93,1)" y="3.3" text-anchor="end">10:30</text><text transform="translate(504.34,326.9) rotate(-90) scale(0.93,1)" y="3.3" text-anchor="end">10:45</text><text transform="translate(539.92,326.9) rotate(-90) scale(0.93,1)" y="3.3" text-anchor="end">11:0</text><text transform="translate(575.49,326.9) rotate(-90) scale(0.93,1)" y="3.3" text-anchor="end">11:15</text><text transform="translate(611.06,326.9) rotate(-90) scale(0.93,1)" y="3.3" text-anchor="end">11:30</text><text transform="translate(646.63,326.9) rotate(-90) scale(0.93,1)" y="3.3" text-anchor="end">11:45</text><text transform="translate(682.21,326.9) rotate(-90) scale(0.93,1)" y="3.3" text-anchor="end">12:0</text></g>
<text x="348.5" y="355.8" font-family='"Liberation Sans", sans-serif' font-size="18">Time</text>
<text transform="translate(16.6,170) rotate(-90)" text-anchor="middle" font-family='"Liberation Sans", sans-serif' font-size="18">Automated heart rate (bpm)</text>
<line x1="51.6" y1="50.6" x2="202.7" y2="50.6" stroke="#000" stroke-width="2"/><path d="M44.1,50.6L52.6,46.4L52.6,54.8Z"/><path d="M210.2,50.6L201.7,46.4L201.7,54.8Z"/>
<line x1="237.2" y1="50.6" x2="620.5" y2="50.6" stroke="#000" stroke-width="2"/><path d="M229.7,50.6L238.2,46.4L238.2,54.8Z"/><path d="M628,50.6L619.5,46.4L619.5,54.8Z"/>
<line x1="654.4" y1="50.6" x2="697.2" y2="50.6" stroke="#000" stroke-width="2"/><path d="M646.9,50.6L655.4,46.4L655.4,54.8Z"/><path d="M704.7,50.6L696.2,46.4L696.2,54.8Z"/>
<line x1="219.3" y1="64" x2="219.3" y2="307.9" stroke="#000" stroke-width="2"/><path d="M219.3,56.4L214.9,65L223.7,65Z"/><path d="M219.3,315.5L214.9,306.9L223.7,306.9Z"/>
<line x1="636.4" y1="64.1" x2="636.4" y2="307.9" stroke="#000" stroke-width="2"/><path d="M636.4,56.5L632,65.1L640.8,65.1Z"/><path d="M636.4,315.5L632,306.9L640.8,306.9Z"/>
<g font-family='"Liberation Sans", sans-serif' font-size="18"><text x="99" y="43.6">Before</text><text x="385.2" y="43.2">Running</text><text x="656.2" y="43.2">After</text></g>
<g transform="translate(-1.6,371.6) scale(1.075,1)"><text font-family='"Liberation Sans", sans-serif' font-weight="bold" font-size="21">(b)</text></g>
<rect x="161" y="386.5" width="546" height="255.7" fill="#fff"/>
<line x1="162.80" y1="386.5" x2="162.80" y2="642.2" stroke="#94e9f2" stroke-width="1.1"/><line x1="168.24" y1="386.5" x2="168.24" y2="642.2" stroke="#c4f2f6" stroke-width="0.9"/><line x1="173.68" y1="386.5" x2="173.68" y2="642.2" stroke="#c4f2f6" stroke-width="0.9"/><line x1="179.12" y1="386.5" x2="179.12" y2="642.2" stroke="#c4f2f6" stroke-width="0.9"/><line x1="184.56" y1="386.5" x2="184.56" y2="642.2" stroke="#c4f2f6" stroke-width="0.9"/><line x1="190.00" y1="386.5" x2="190.00" y2="642.2" stroke="#94e9f2" stroke-width="1.1"/><line x1="195.44" y1="386.5" x2="195.44" y2="642.2" stroke="#c4f2f6" stroke-width="0.9"/><line x1="200.88" y1="386.5" x2="200.88" y2="642.2" stroke="#c4f2f6" stroke-width="0.9"/><line x1="206.32" y1="386.5" x2="206.32" y2="642.2" stroke="#c4f2f6" stroke-width="0.9"/><line x1="211.76" y1="386.5" x2="211.76" y2="642.2" stroke="#c4f2f6" stroke-width="0.9"/><line x1="217.20" y1="386.5" x2="217.20" y2="642.2" stroke="#94e9f2" stroke-width="1.1"/><line x1="222.64" y1="386.5" x2="222.64" y2="642.2" stroke="#c4f2f6" stroke-width="0.9"/><line x1="228.08" y1="386.5" x2="228.08" y2="642.2" stroke="#c4f2f6" stroke-width="0.9"/><line x1="233.52" y1="386.5" x2="233.52" y2="642.2" stroke="#c4f2f6" stroke-width="0.9"/><line x1="238.96" y1="386.5" x2="238.96" y2="642.2" stroke="#c4f2f6" stroke-width="0.9"/><line x1="244.40" y1="386.5" x2="244.40" y2="642.2" stroke="#94e9f2" stroke-width="1.1"/><line x1="249.84" y1="386.5" x2="249.84" y2="642.2" stroke="#c4f2f6" stroke-width="0.9"/><line x1="255.28" y1="386.5" x2="255.28" y2="642.2" stroke="#c4f2f6" stroke-width="0.9"/><line x1="260.72" y1="386.5" x2="260.72" y2="642.2" stroke="#c4f2f6" stroke-width="0.9"/><line x1="266.16" y1="386.5" x2="266.16" y2="642.2" stroke="#c4f2f6" stroke-width="0.9"/><line x1="271.60" y1="386.5" x2="271.60" y2="642.2" stroke="#94e9f2" stroke-width="1.1"/><line x1="277.04" y1="386.5" x2="277.04" y2="642.2" stroke="#c4f2f6" stroke-width="0.9"/><line x1="282.48" y1="386.5" x2="282.48" y2="642.2" stroke="#c4f2f6" stroke-width="0.9"/><line x1="287.92" y1="386.5" x2="287.92" y2="642.2" stroke="#c4f2f6" stroke-width="0.9"/><line x1="293.36" y1="386.5" x2="293.36" y2="642.2" stroke="#c4f2f6" stroke-width="0.9"/><line x1="298.80" y1="386.5" x2="298.80" y2="642.2" stroke="#94e9f2" stroke-width="1.1"/><line x1="304.24" y1="386.5" x2="304.24" y2="642.2" stroke="#c4f2f6" stroke-width="0.9"/><line x1="309.68" y1="386.5" x2="309.68" y2="642.2" stroke="#c4f2f6" stroke-width="0.9"/><line x1="315.12" y1="386.5" x2="315.12" y2="642.2" stroke="#c4f2f6" stroke-width="0.9"/><line x1="320.56" y1="386.5" x2="320.56" y2="642.2" stroke="#c4f2f6" stroke-width="0.9"/><line x1="326.00" y1="386.5" x2="326.00" y2="642.2" stroke="#94e9f2" stroke-width="1.1"/><line x1="331.44" y1="386.5" x2="331.44" y2="642.2" stroke="#c4f2f6" stroke-width="0.9"/><line x1="336.88" y1="386.5" x2="336.88" y2="642.2" stroke="#c4f2f6" stroke-width="0.9"/><line x1="342.32" y1="386.5" x2="342.32" y2="642.2" stroke="#c4f2f6" stroke-width="0.9"/><line x1="347.76" y1="386.5" x2="347.76" y2="642.2" stroke="#c4f2f6" stroke-width="0.9"/><line x1="353.20" y1="386.5" x2="353.20" y2="642.2" stroke="#94e9f2" stroke-width="1.1"/><line x1="358.64" y1="386.5" x2="358.64" y2="642.2" stroke="#c4f2f6" stroke-width="0.9"/><line x1="364.08" y1="386.5" x2="364.08" y2="642.2" stroke="#c4f2f6" stroke-width="0.9"/><line x1="369.52" y1="386.5" x2="369.52" y2="642.2" stroke="#c4f2f6" stroke-width="0.9"/><line x1="374.96" y1="386.5" x2="374.96" y2="642.2" stroke="#c4f2f6" stroke-width="0.9"/><line x1="380.40" y1="386.5" x2="380.40" y2="642.2" stroke="#94e9f2" stroke-width="1.1"/><line x1="385.84" y1="386.5" x2="385.84" y2="642.2" stroke="#c4f2f6" stroke-width="0.9"/><line x1="391.28" y1="386.5" x2="391.28" y2="642.2" stroke="#c4f2f6" stroke-width="0.9"/><line x1="396.72" y1="386.5" x2="396.72" y2="642.2" stroke="#c4f2f6" stroke-width="0.9"/><line x1="402.16" y1="386.5" x2="402.16" y2="642.2" stroke="#c4f2f6" stroke-width="0.9"/><line x1="407.60" y1="386.5" x2="407.60" y2="642.2" stroke="#94e9f2" stroke-width="1.1"/><line x1="413.04" y1="386.5" x2="413.04" y2="642.2" stroke="#c4f2f6" stroke-width="0.9"/><line x1="418.48" y1="386.5" x2="418.48" y2="642.2" stroke="#c4f2f6" stroke-width="0.9"/><line x1="423.92" y1="386.5" x2="423.92" y2="642.2" stroke="#c4f2f6" stroke-width="0.9"/><line x1="429.36" y1="386.5" x2="429.36" y2="642.2" stroke="#c4f2f6" stroke-width="0.9"/><line x1="434.80" y1="386.5" x2="434.80" y2="642.2" stroke="#94e9f2" stroke-width="1.1"/><line x1="440.24" y1="386.5" x2="440.24" y2="642.2" stroke="#c4f2f6" stroke-width="0.9"/><line x1="445.68" y1="386.5" x2="445.68" y2="642.2" stroke="#c4f2f6" stroke-width="0.9"/><line x1="451.12" y1="386.5" x2="451.12" y2="642.2" stroke="#c4f2f6" stroke-width="0.9"/><line x1="456.56" y1="386.5" x2="456.56" y2="642.2" stroke="#c4f2f6" stroke-width="0.9"/><line x1="462.00" y1="386.5" x2="462.00" y2="642.2" stroke="#94e9f2" stroke-width="1.1"/><line x1="467.44" y1="386.5" x2="467.44" y2="642.2" stroke="#c4f2f6" stroke-width="0.9"/><line x1="472.88" y1="386.5" x2="472.88" y2="642.2" stroke="#c4f2f6" stroke-width="0.9"/><line x1="478.32" y1="386.5" x2="478.32" y2="642.2" stroke="#c4f2f6" stroke-width="0.9"/><line x1="483.76" y1="386.5" x2="483.76" y2="642.2" stroke="#c4f2f6" stroke-width="0.9"/><line x1="489.20" y1="386.5" x2="489.20" y2="642.2" stroke="#94e9f2" stroke-width="1.1"/><line x1="494.64" y1="386.5" x2="494.64" y2="642.2" stroke="#c4f2f6" stroke-width="0.9"/><line x1="500.08" y1="386.5" x2="500.08" y2="642.2" stroke="#c4f2f6" stroke-width="0.9"/><line x1="505.52" y1="386.5" x2="505.52" y2="642.2" stroke="#c4f2f6" stroke-width="0.9"/><line x1="510.96" y1="386.5" x2="510.96" y2="642.2" stroke="#c4f2f6" stroke-width="0.9"/><line x1="516.40" y1="386.5" x2="516.40" y2="642.2" stroke="#94e9f2" stroke-width="1.1"/><line x1="521.84" y1="386.5" x2="521.84" y2="642.2" stroke="#c4f2f6" stroke-width="0.9"/><line x1="527.28" y1="386.5" x2="527.28" y2="642.2" stroke="#c4f2f6" stroke-width="0.9"/><line x1="532.72" y1="386.5" x2="532.72" y2="642.2" stroke="#c4f2f6" stroke-width="0.9"/><line x1="538.16" y1="386.5" x2="538.16" y2="642.2" stroke="#c4f2f6" stroke-width="0.9"/><line x1="543.60" y1="386.5" x2="543.60" y2="642.2" stroke="#94e9f2" stroke-width="1.1"/><line x1="549.04" y1="386.5" x2="549.04" y2="642.2" stroke="#c4f2f6" stroke-width="0.9"/><line x1="554.48" y1="386.5" x2="554.48" y2="642.2" stroke="#c4f2f6" stroke-width="0.9"/><line x1="559.92" y1="386.5" x2="559.92" y2="642.2" stroke="#c4f2f6" stroke-width="0.9"/><line x1="565.36" y1="386.5" x2="565.36" y2="642.2" stroke="#c4f2f6" stroke-width="0.9"/><line x1="570.80" y1="386.5" x2="570.80" y2="642.2" stroke="#94e9f2" stroke-width="1.1"/><line x1="576.24" y1="386.5" x2="576.24" y2="642.2" stroke="#c4f2f6" stroke-width="0.9"/><line x1="581.68" y1="386.5" x2="581.68" y2="642.2" stroke="#c4f2f6" stroke-width="0.9"/><line x1="587.12" y1="386.5" x2="587.12" y2="642.2" stroke="#c4f2f6" stroke-width="0.9"/><line x1="592.56" y1="386.5" x2="592.56" y2="642.2" stroke="#c4f2f6" stroke-width="0.9"/><line x1="598.00" y1="386.5" x2="598.00" y2="642.2" stroke="#94e9f2" stroke-width="1.1"/><line x1="603.44" y1="386.5" x2="603.44" y2="642.2" stroke="#c4f2f6" stroke-width="0.9"/><line x1="608.88" y1="386.5" x2="608.88" y2="642.2" stroke="#c4f2f6" stroke-width="0.9"/><line x1="614.32" y1="386.5" x2="614.32" y2="642.2" stroke="#c4f2f6" stroke-width="0.9"/><line x1="619.76" y1="386.5" x2="619.76" y2="642.2" stroke="#c4f2f6" stroke-width="0.9"/><line x1="625.20" y1="386.5" x2="625.20" y2="642.2" stroke="#94e9f2" stroke-width="1.1"/><line x1="630.64" y1="386.5" x2="630.64" y2="642.2" stroke="#c4f2f6" stroke-width="0.9"/><line x1="636.08" y1="386.5" x2="636.08" y2="642.2" stroke="#c4f2f6" stroke-width="0.9"/><line x1="641.52" y1="386.5" x2="641.52" y2="642.2" stroke="#c4f2f6" stroke-width="0.9"/><line x1="646.96" y1="386.5" x2="646.96" y2="642.2" stroke="#c4f2f6" stroke-width="0.9"/><line x1="652.40" y1="386.5" x2="652.40" y2="642.2" stroke="#94e9f2" stroke-width="1.1"/><line x1="657.84" y1="386.5" x2="657.84" y2="642.2" stroke="#c4f2f6" stroke-width="0.9"/><line x1="663.28" y1="386.5" x2="663.28" y2="642.2" stroke="#c4f2f6" stroke-width="0.9"/><line x1="668.72" y1="386.5" x2="668.72" y2="642.2" stroke="#c4f2f6" stroke-width="0.9"/><line x1="674.16" y1="386.5" x2="674.16" y2="642.2" stroke="#c4f2f6" stroke-width="0.9"/><line x1="679.60" y1="386.5" x2="679.60" y2="642.2" stroke="#94e9f2" stroke-width="1.1"/><line x1="685.04" y1="386.5" x2="685.04" y2="642.2" stroke="#c4f2f6" stroke-width="0.9"/><line x1="690.48" y1="386.5" x2="690.48" y2="642.2" stroke="#c4f2f6" stroke-width="0.9"/><line x1="695.92" y1="386.5" x2="695.92" y2="642.2" stroke="#c4f2f6" stroke-width="0.9"/><line x1="701.36" y1="386.5" x2="701.36" y2="642.2" stroke="#c4f2f6" stroke-width="0.9"/><line x1="706.80" y1="386.5" x2="706.80" y2="642.2" stroke="#94e9f2" stroke-width="1.1"/><line x1="161" y1="391.10" x2="707" y2="391.10" stroke="#cdf4f8" stroke-width="1"/><line x1="161" y1="402.10" x2="707" y2="402.10" stroke="#cdf4f8" stroke-width="1"/><line x1="161" y1="413.10" x2="707" y2="413.10" stroke="#cdf4f8" stroke-width="1"/><line x1="161" y1="419.60" x2="707" y2="419.60" stroke="#cdf4f8" stroke-width="1"/><line x1="161" y1="430.60" x2="707" y2="430.60" stroke="#cdf4f8" stroke-width="1"/><line x1="161" y1="441.60" x2="707" y2="441.60" stroke="#cdf4f8" stroke-width="1"/><line x1="161" y1="448.10" x2="707" y2="448.10" stroke="#cdf4f8" stroke-width="1"/><line x1="161" y1="459.10" x2="707" y2="459.10" stroke="#cdf4f8" stroke-width="1"/><line x1="161" y1="470.10" x2="707" y2="470.10" stroke="#cdf4f8" stroke-width="1"/><line x1="161" y1="476.60" x2="707" y2="476.60" stroke="#cdf4f8" stroke-width="1"/><line x1="161" y1="487.60" x2="707" y2="487.60" stroke="#cdf4f8" stroke-width="1"/><line x1="161" y1="498.60" x2="707" y2="498.60" stroke="#cdf4f8" stroke-width="1"/><line x1="161" y1="505.10" x2="707" y2="505.10" stroke="#cdf4f8" stroke-width="1"/><line x1="161" y1="516.10" x2="707" y2="516.10" stroke="#cdf4f8" stroke-width="1"/><line x1="161" y1="527.10" x2="707" y2="527.10" stroke="#cdf4f8" stroke-width="1"/><line x1="161" y1="533.60" x2="707" y2="533.60" stroke="#cdf4f8" stroke-width="1"/><line x1="161" y1="544.60" x2="707" y2="544.60" stroke="#cdf4f8" stroke-width="1"/><line x1="161" y1="555.60" x2="707" y2="555.60" stroke="#cdf4f8" stroke-width="1"/><line x1="161" y1="562.10" x2="707" y2="562.10" stroke="#cdf4f8" stroke-width="1"/><line x1="161" y1="573.10" x2="707" y2="573.10" stroke="#cdf4f8" stroke-width="1"/><line x1="161" y1="584.10" x2="707" y2="584.10" stroke="#cdf4f8" stroke-width="1"/><line x1="161" y1="590.60" x2="707" y2="590.60" stroke="#cdf4f8" stroke-width="1"/><line x1="161" y1="601.60" x2="707" y2="601.60" stroke="#cdf4f8" stroke-width="1"/><line x1="161" y1="612.60" x2="707" y2="612.60" stroke="#cdf4f8" stroke-width="1"/><line x1="161" y1="619.10" x2="707" y2="619.10" stroke="#cdf4f8" stroke-width="1"/><line x1="161" y1="630.10" x2="707" y2="630.10" stroke="#cdf4f8" stroke-width="1"/><line x1="161" y1="641.10" x2="707" y2="641.10" stroke="#cdf4f8" stroke-width="1"/>
<line x1="161" y1="415.90" x2="707" y2="415.90" stroke="#cfcfcf" stroke-width="1.5"/>
<line x1="161" y1="444.40" x2="707" y2="444.40" stroke="#cfcfcf" stroke-width="1.5"/>
<line x1="161" y1="472.90" x2="707" y2="472.90" stroke="#cfcfcf" stroke-width="1.5"/>
<line x1="161" y1="501.40" x2="707" y2="501.40" stroke="#cfcfcf" stroke-width="1.5"/>
<line x1="161" y1="529.90" x2="707" y2="529.90" stroke="#cfcfcf" stroke-width="1.5"/>
<line x1="161" y1="558.40" x2="707" y2="558.40" stroke="#cfcfcf" stroke-width="1.5"/>
<line x1="161" y1="586.90" x2="707" y2="586.90" stroke="#cfcfcf" stroke-width="1.5"/>
<line x1="161" y1="615.40" x2="707" y2="615.40" stroke="#cfcfcf" stroke-width="1.5"/>
<path d="M162.5,401.3L162.9,401.7L163.3,402.1L163.7,401.3L164.1,402.5L164.5,403.6L164.9,403.7L165.3,401.8L165.7,391.3L166.1,395.5L166.5,405.9L166.9,408.9L167.3,405.2L167.7,403.2L168.1,402.5L168.5,402.2L168.9,402L169.3,401.7L169.7,402.2L170.1,401.9L170.5,400.4L170.9,400.6L171.3,400.6L171.7,399.8L172.1,399.3L172.5,399.5L172.9,399.5L173.3,400L173.7,400.3L174.1,400.3L174.5,400.8L174.9,401.1L175.3,400.6L175.7,401.3L176.1,401.3L176.5,401.8L176.9,401.2L177.3,401.2L177.7,401.5L178.1,400.7L178.5,400.8L178.9,399.8L179.3,399.9L179.7,399.6L180.1,400.1L180.5,400.5L180.9,401.6L181.3,402.3L181.7,402.5L182.1,401.7L182.5,402.2L182.9,403L183.3,402.9L183.7,403.3L184.1,401L184.5,392.2L184.9,395.3L185.3,403.9L185.7,405.3L186.1,403.4L186.5,402L186.9,402.3L187.3,402.2L187.7,401.6L188.1,402.1L188.5,400.7L188.9,401.1L189.3,399.7L189.7,399.3L190.1,399.3L190.5,398.7L190.9,399.6L191.3,399.4L191.7,399.5L192.1,399.2L192.5,399.9L192.9,400.5L193.3,400.6L193.7,400.6L194.1,401.6L194.5,402L194.9,401.8L195.3,402.1L195.7,401.7L196.1,400.7L196.5,401.1L196.9,400.9L197.3,400.1L197.7,400L198.1,400L198.5,400.3L198.9,399.7L199.3,401.2L199.7,401L200.1,401.7L200.5,402.5L200.9,402.6L201.3,402.6L201.7,403.5L202.1,404.2L202.5,403.8L202.9,397L203.3,395L203.7,405.6L204.1,412.7L204.5,408.8L204.9,403.5L205.3,403.2L205.7,402.7L206.1,402.8L206.5,403.2L206.9,403.3L207.3,402.1L207.7,402L208.1,401L208.5,400.1L208.9,399.6L209.3,399.1L209.7,398.8L210.1,399.3L210.5,399.2L210.9,399.4L211.3,400L211.7,400.2L212.1,400.8L212.5,400.9L212.9,401.8L213.3,401.5L213.7,401.9L214.1,400.9L214.5,402L214.9,401.3L215.3,401.2L215.7,400.8L216.1,400.2L216.5,399.4L216.9,399.7L217.3,399.2L217.7,399.4L218.1,399.6L218.5,400.9L218.9,401.1L219.3,402L219.7,401.8L220.1,401.6L220.5,402.5L220.9,403.1L221.3,403.7L221.7,400.9L222.1,392L222.5,397.4L222.9,404.9L223.3,407.3L223.7,403.8L224.1,402.2L224.5,401.9L224.9,402.3L225.3,401.4L225.7,401.6L226.1,401.9L226.5,402L226.9,401.1L227.3,400.9L227.7,400.6L228.1,399.7L228.5,399.4L228.9,400.2L229.3,399.7L229.7,400.8L230.1,400.9L230.5,401.1L230.9,401.7L231.3,401.5L231.7,402L232.1,403L232.5,402.7L232.9,403.1L233.3,403.4L233.7,402.7L234.1,401.8L234.5,401.3L234.9,400.5L235.3,399.9L235.7,399.7L236.1,399.6L236.5,399.8L236.9,400.4L237.3,400.8L237.7,400.4L238.1,401.6L238.5,401.6L238.9,401.9L239.3,402.6L239.7,403.6L240.1,403.1L240.5,397.1L240.9,392.1L241.3,401L241.7,406.7L242.1,405.4L242.5,402.5L242.9,402.2L243.3,402.4L243.7,401.9L244.1,401.3L244.5,400.9L244.9,401.4L245.3,400.5L245.7,399.5L246.1,400L246.5,399.6L246.9,399L247.3,399.1L247.7,399.3L248.1,399.6L248.5,399.8L248.9,400.1L249.3,401.1L249.7,400.5L250.1,401.3L250.5,401.5L250.9,402.7L251.3,402.2L251.7,402.2L252.1,402.2L252.5,401.9L252.9,401.7L253.3,401.4L253.7,400.7L254.1,400.2L254.5,400.7L254.9,400.8L255.3,400.9L255.7,401.5L256.1,401.6L256.5,402.2L256.9,402.4L257.3,402.9L257.7,402.9L258.1,404.5L258.5,404L258.9,397.7L259.3,392.2L259.7,402.9L260.1,410.1L260.5,407.1L260.9,402.7L261.3,402L261.7,401.4L262.1,401.6L262.5,401.4L262.9,401.8L263.3,401.6L263.7,400.5L264.1,399.6L264.5,399.4L264.9,399L265.3,398.7L265.7,398.9L266.1,399.1L266.5,399.2L266.9,399.6L267.3,399.8L267.7,400.2L268.1,400.6L268.5,400.9L268.9,402.1L269.3,402L269.7,401.9L270.1,402.1L270.5,401.7L270.9,401.1L271.3,401.7L271.7,401.2L272.1,400.5L272.5,399.8L272.9,399.4L273.3,399L273.7,399.7L274.1,399.6L274.5,400L274.9,400.9L275.3,401.6L275.7,401.8L276.1,401.8L276.5,401.4L276.9,402.6L277.3,403.6L277.7,402.7L278.1,396.9L278.5,392.9L278.9,402.7L279.3,411.5L279.7,408.5L280.1,403.3L280.5,401.8L280.9,402L281.3,401.3L281.7,400.8L282.1,401.3L282.5,400.8L282.9,399.4L283.3,399.2L283.7,398.8L284.1,397.6L284.5,398.2L284.9,398.1L285.3,397.7L285.7,398.6L286.1,399L286.5,398.8L286.9,400.2L287.3,400.2L287.7,400.1L288.1,401.4L288.5,401.8L288.9,402.1L289.3,401.2L289.7,401.3L290.1,400.5L290.5,400.6L290.9,400.7L291.3,400.1L291.7,400.2L292.1,400.5L292.5,400.6L292.9,400.8L293.3,401.2L293.7,402.2L294.1,402.4L294.5,402.7L294.9,403L295.3,402.9L295.7,403.7L296.1,403.4L296.5,399.7L296.9,389.4L297.3,399.3L297.7,409.4L298.1,409.9L298.5,403.5L298.9,401.6L299.3,402L299.7,401.6L300.1,401.6L300.5,401.5L300.9,401.3L301.3,400.8L301.7,399.9L302.1,400.1L302.5,399.6L302.9,399.9L303.3,399.1L303.7,399.8L304.1,399.6L304.5,400.2L304.9,400.6L305.3,401.2L305.7,401.7L306.1,401.9L306.5,402.9L306.9,402.8L307.3,402.8L307.7,403.4L308.1,403.2L308.5,403.5L308.9,403L309.3,401.9L309.7,402L310.1,401.2L310.5,401.9L310.9,401.4L311.3,402.3L311.7,403L312.1,402.5L312.5,402.8L312.9,403.5L313.3,402.7L313.7,403.4L314.1,403.4L314.5,403.8L314.9,401.1L315.3,391.4L315.7,395.9L316.1,405.2L316.5,407.3L316.9,403.7L317.3,402.4L317.7,402.6L318.1,401.8L318.5,402L318.9,401.2L319.3,401.6L319.7,400.8L320.1,401.1L320.5,400.4L320.9,399.5L321.3,398.9L321.7,399.1L322.1,398.8L322.5,399.1L322.9,399.2L323.3,399.3L323.7,399.8L324.1,400.7L324.5,400.6L324.9,401.4L325.3,402.3L325.7,402L326.1,402.7L326.5,402.4L326.9,402.5L327.3,402.5L327.7,402.5L328.1,402L328.5,401.6L328.9,401.5L329.3,400.9L329.7,401.2L330.1,401.8L330.5,402.2L330.9,402.2L331.3,402.5L331.7,401.9L332.1,402.4L332.5,402.1L332.9,403.4L333.3,402.8L333.7,398L334.1,391.6L334.5,402.1L334.9,411.1L335.3,409.9L335.7,403.9L336.1,402.8L336.5,402.6L336.9,402.9L337.3,402L337.7,402.3L338.1,401.7L338.5,401.7L338.9,401L339.3,399.9L339.7,399.7L340.1,398.8L340.5,399.6L340.9,399.4L341.3,399.6L341.7,399.8L342.1,400.1L342.5,401.2L342.9,401.3L343.3,401.4L343.7,402.1L344.1,402.4L344.5,402.4L344.9,402.2L345.3,402.6L345.7,402.6L346.1,402.2L346.5,401.7L346.9,401.8L347.3,401.1L347.7,401.4L348.1,401.3L348.5,400.6L348.9,401.1L349.3,401.9L349.7,401.8L350.1,401.8L350.5,401.8L350.9,401.7L351.3,401.8L351.7,402.5L352.1,402.9L352.5,401.7L352.9,394.9L353.3,394L353.7,404L354.1,411L354.5,405.7L354.9,401.8L355.3,401.5L355.7,400.8L356.1,400.6L356.5,400.5L356.9,399.7L357.3,399.9L357.7,398.9L358.1,398.4L358.5,398.1L358.9,397.8L359.3,397.5L359.7,397.8L360.1,398.3L360.5,398.5L360.9,399.9L361.3,400.2L361.7,399.9L362.1,401L362.5,401.2L362.9,401.2L363.3,402.1L363.7,401.8L364.1,402.3L364.5,401.7L364.9,401.5L365.3,401.8L365.7,401.5L366.1,401.4L366.5,400.8L366.9,400.8L367.3,400.3L367.7,400.4L368.1,400.7L368.5,401.4L368.9,401.5L369.3,402.3L369.7,402.3L370.1,402.4L370.5,402.4L370.9,404.1L371.3,403.5L371.7,399L372.1,392L372.5,400.6L372.9,407.8L373.3,408.2L373.7,403.7L374.1,403.1L374.5,403.8L374.9,403.3L375.3,403.1L375.7,403.2L376.1,402.6L376.5,402.6L376.9,401.7L377.3,401.4L377.7,401.2L378.1,400.5L378.5,400.6L378.9,400L379.3,400L379.7,400.3L380.1,401.6L380.5,401.5L380.9,401.7L381.3,401.7L381.7,401.9L382.1,402.5L382.5,402.6L382.9,402.2L383.3,401.5L383.7,402L384.1,401.3L384.5,401L384.9,400.3L385.3,399.9L385.7,400.1L386.1,399.8L386.5,400.6L386.9,400.2L387.3,400.9L387.7,401.5L388.1,401.8L388.5,401.8L388.9,401.9L389.3,402.6L389.7,403L390.1,400.3L390.5,389.5L390.9,392.7L391.3,403.3L391.7,405.9L392.1,403.4L392.5,401.6L392.9,401.2L393.3,401.3L393.7,401.9L394.1,401.1L394.5,400.6L394.9,400.9L395.3,400.1L395.7,400.1L396.1,399L396.5,398.7L396.9,398.1L397.3,398.3L397.7,397.8L398.1,398.7L398.5,399.1L398.9,400.3L399.3,400L399.7,401L400.1,401.2L400.5,401.5L400.9,401.2L401.3,402.3L401.7,402.5L402.1,402.6L402.5,402L402.9,402.1L403.3,401.3L403.7,400.8L404.1,400L404.5,400.2L404.9,400.7L405.3,401L405.7,402.4L406.1,401.9L406.5,402.3L406.9,402.9L407.3,402.5L407.7,403.2L408.1,403.5L408.5,403.4L408.9,399.6L409.3,389L409.7,398.1L410.1,408.1L410.5,409.8L410.9,404.7L411.3,403L411.7,402.7L412.1,402.8L412.5,401.7L412.9,401.6L413.3,401.2L413.7,400.7L414.1,400.7L414.5,400.1L414.9,399.5L415.3,398.6L415.7,398.3L416.1,398.8L416.5,398.8L416.9,399.6L417.3,399.7L417.7,401.4L418.1,401.7L418.5,402.4L418.9,402L419.3,401.8L419.7,402L420.1,402.3L420.5,402.8L420.9,403.2L421.3,402.8L421.7,402.6L422.1,401.7L422.5,401L422.9,401L423.3,400L423.7,400.9L424.1,401.1L424.5,401.4L424.9,402.6L425.3,403.2L425.7,403L426.1,403.1L426.5,403.4L426.9,403.6L427.3,404.2L427.7,401.3L428.1,391L428.5,397.5L428.9,407.5L429.3,409.8L429.7,404.8L430.1,402.9L430.5,403.2L430.9,402.8L431.3,402.5L431.7,401.9L432.1,401.1L432.5,400.9L432.9,401L433.3,400.6L433.7,399.7L434.1,398.9L434.5,399.5L434.9,399.3L435.3,399.4L435.7,399L436.1,400L436.5,400.6L436.9,401.2L437.3,401.9L437.7,401.3L438.1,402.5L438.5,402.1L438.9,402.1L439.3,401.6L439.7,401.6L440.1,401L440.5,400.8L440.9,400.2L441.3,399.9L441.7,400L442.1,400.1L442.5,399.8L442.9,400.4L443.3,400.7L443.7,401.3L444.1,401.5L444.5,401.7L444.9,402.6L445.3,402.2L445.7,403L446.1,401.7L446.5,392.8L446.9,393.9L447.3,404.3L447.7,408.4L448.1,404.7L448.5,402L448.9,401.6L449.3,401L449.7,400.8L450.1,400.7L450.5,400.4L450.9,400L451.3,400.2L451.7,399.5L452.1,398.2L452.5,397.7L452.9,398.3L453.3,397.1L453.7,397.9L454.1,398.3L454.5,399L454.9,399.5L455.3,400.1L455.7,400.1L456.1,401.2L456.5,401.8L456.9,401.3L457.3,401.5L457.7,400.9L458.1,400.9L458.5,400.6L458.9,399.9L459.3,400.4L459.7,400.4L460.1,399.4L460.5,399.6L460.9,400.2L461.3,400.4L461.7,400.5L462.1,401.8L462.5,401.5L462.9,402.7L463.3,402.1L463.7,402.9L464.1,403.2L464.5,403.9L464.9,401.1L465.3,391.1L465.7,394.5L466.1,405.2L466.5,408.6L466.9,404.4L467.3,402.2L467.7,402L468.1,402L468.5,401.6L468.9,400.9L469.3,401.5L469.7,401.2L470.1,400.5L470.5,400L470.9,399.1L471.3,398.7L471.7,398.4L472.1,398.6L472.5,399.2L472.9,398.9L473.3,400L473.7,400.3L474.1,401L474.5,401.2L474.9,402L475.3,401.8L475.7,402L476.1,402.2L476.5,402.1L476.9,401.6L477.3,401.3L477.7,400.7L478.1,400.1L478.5,399.5L478.9,399.9L479.3,399.4L479.7,399.5L480.1,399.9L480.5,400.2L480.9,400.7L481.3,400.5L481.7,401.5L482.1,401.9L482.5,402L482.9,402.2L483.3,403.3L483.7,400.7L484.1,391.6L484.5,392.7L484.9,405.1L485.3,410.3L485.7,404.7L486.1,401.5L486.5,401.4L486.9,401L487.3,401L487.7,401.8L488.1,400.6L488.5,400L488.9,399.5L489.3,398.5L489.7,398.2L490.1,398.4L490.5,397.8L490.9,398L491.3,397.8L491.7,398.3L492.1,398.6L492.5,399.1L492.9,399.3L493.3,399.8L493.7,399.9L494.1,400.2L494.5,400.9L494.9,400.2L495.3,400.7L495.7,400.8L496.1,399.8L496.5,399.3L496.9,399.6L497.3,398.9L497.7,398.3L498.1,398.8L498.5,398.5L498.9,399.5L499.3,400.3L499.7,400.7L500.1,400.3L500.5,401.9L500.9,401.6L501.3,402L501.7,401.9L502.1,403L502.5,402.9L502.9,397.6L503.3,390.4L503.7,400.3L504.1,406.2L504.5,405.5L504.9,403.1L505.3,401.9L505.7,401L506.1,401.6L506.5,400.7L506.9,400.8L507.3,400L507.7,399.9L508.1,398.9L508.5,398.1L508.9,397.2L509.3,396.9L509.7,396.8L510.1,396.7L510.5,397.9L510.9,398.2L511.3,399.2L511.7,399.5L512.1,399.6L512.5,400.5L512.9,400.5L513.3,401L513.7,401.4L514.1,401.7L514.5,401.7L514.9,401.3L515.3,401.6L515.7,400.9L516.1,399.5L516.5,399.4L516.9,399.9L517.3,399.8L517.7,400.2L518.1,401L518.5,401L518.9,400.7L519.3,400.9L519.7,401.7L520.1,401.3L520.5,402L520.9,402.5L521.3,402L521.7,393.1L522.1,389.2L522.5,401.7L522.9,409.1L523.3,406.2L523.7,402.4L524.1,401.5L524.5,401.5L524.9,401.1L525.3,401L525.7,400.5L526.1,400.5L526.5,399.4L526.9,399.1L527.3,398.6L527.7,398.6L528.1,397.7L528.5,398.3L528.9,398.5L529.3,399L529.7,398.6L530.1,400L530.5,400.3L530.9,401.1L531.3,401.5L531.7,401.1L532.1,401.7L532.5,401.9L532.9,402.1L533.3,402.5L533.7,402.2L534.1,401.7L534.5,401L534.9,400.6L535.3,400.1L535.7,399.7L536.1,400L536.5,399.8L536.9,400.5L537.3,400.8L537.7,400.8L538.1,401L538.5,400.7L538.9,400.7L539.3,402.1L539.7,402.9L540.1,400.9L540.5,392.1L540.9,393.7L541.3,403.9L541.7,408.2L542.1,404.3L542.5,401.6L542.9,401.7L543.3,402L543.7,401.8L544.1,402.2L544.5,401.8L544.9,401.8L545.3,401.4L545.7,400.4L546.1,400.2L546.5,400.1L546.9,399.1L547.3,399.3L547.7,399.4L548.1,398.7L548.5,399.5L548.9,400.3L549.3,401L549.7,401.2L550.1,401.3L550.5,401.6L550.9,402L551.3,401.7L551.7,401.7L552.1,401.5L552.5,400.8L552.9,400.8L553.3,399.9L553.7,399.5L554.1,398.8L554.5,399.6L554.9,399.1L555.3,400.2L555.7,400.6L556.1,401.2L556.5,401.4L556.9,400.7L557.3,401.8L557.7,401.7L558.1,403.1L558.5,402.3L558.9,398.5L559.3,391.5L559.7,399.5L560.1,407.9L560.5,408L560.9,401.9L561.3,400.9L561.7,401.4L562.1,400.9L562.5,401.3L562.9,400.4L563.3,400.3L563.7,399.5L564.1,399.6L564.5,399.3L564.9,398.9L565.3,399L565.7,398.2L566.1,398.2L566.5,398.2L566.9,398.6L567.3,399.6L567.7,399.9L568.1,399.6L568.5,399.9L568.9,400.1L569.3,400.3L569.7,401.1L570.1,400.3L570.5,400.8L570.9,401.1L571.3,400.6L571.7,400.6L572.1,400.4L572.5,399.8L572.9,400L573.3,399.8L573.7,399.7L574.1,399.6L574.5,401.2L574.9,401.6L575.3,401.4L575.7,400.8L576.1,401.7L576.5,402.3L576.9,403L577.3,403.1L577.7,400L578.1,392.5L578.5,397L578.9,406.9L579.3,409.6L579.7,403.8L580.1,401.3L580.5,400.3L580.9,400.8L581.3,400.5L581.7,399.9L582.1,399.8L582.5,399L582.9,398.6L583.3,398.3L583.7,397.6L584.1,397.6L584.5,398L584.9,397.4L585.3,398.6L585.7,398.1L586.1,399.1L586.5,399.8L586.9,400.5L587.3,401.4L587.7,401.4L588.1,402.1L588.5,401.3L588.9,401.6L589.3,402.3L589.7,402.2L590.1,401.8L590.5,400.8L590.9,401.3L591.3,400.7L591.7,400.2L592.1,400.9L592.5,401.5L592.9,401.3L593.3,402.2L593.7,402.6L594.1,402.3L594.5,402.2L594.9,402.2L595.3,403.2L595.7,403.3L596.1,403.1L596.5,398.7L596.9,393.4L597.3,400.5L597.7,405.9L598.1,405.2L598.5,402.6L598.9,402L599.3,403L599.7,402.8L600.1,403.2L600.5,402L600.9,402.1L601.3,401.6L601.7,400.8L602.1,400.4L602.5,399.6L602.9,399L603.3,398.9L603.7,399.7L604.1,399.3L604.5,399.9L604.9,400.8L605.3,401.6L605.7,401.7L606.1,401.4L606.5,402L606.9,401.6L607.3,402.2L607.7,402.6L608.1,402L608.5,401.4L608.9,401.5L609.3,400.9L609.7,399.9L610.1,399.6L610.5,399.5L610.9,399.4L611.3,400L611.7,400.6L612.1,401.3L612.5,401.5L612.9,401.4L613.3,401.4L613.7,402L614.1,402.9L614.5,403.5L614.9,402.9L615.3,395.4L615.7,394.5L616.1,403.9L616.5,407.7L616.9,404.6L617.3,402.3L617.7,401.9L618.1,402.3L618.5,402.2L618.9,401.4L619.3,401.4L619.7,401.3L620.1,401.4L620.5,400.7L620.9,399.7L621.3,399.6L621.7,399.7L622.1,399.4L622.5,399.8L622.9,400.1L623.3,400.1L623.7,400.6L624.1,401.5L624.5,401.3L624.9,401.1L625.3,401.6L625.7,401.7L626.1,401.9L626.5,401.9L626.9,402.6L627.3,402.1L627.7,402L628.1,400.9L628.5,400.2L628.9,399.9L629.3,400.7L629.7,400.1L630.1,400.9L630.5,401.3L630.9,401.5L631.3,402.3L631.7,402.3L632.1,402.4L632.5,403.4L632.9,403.9L633.3,404.5L633.7,402.9L634.1,393.7L634.5,395.8L634.9,407.1L635.3,412L635.7,406.7L636.1,403.7L636.5,403.3L636.9,403.8L637.3,403.8L637.7,403.1L638.1,402.9L638.5,401.8L638.9,400.9L639.3,400.9L639.7,400.1L640.1,399.8L640.5,399.7L640.9,399.8L641.3,400.2L641.7,400L642.1,401L642.5,400.9L642.9,401.3L643.3,402L643.7,402L644.1,402.9L644.5,402.6L644.9,402.8L645.3,402.8L645.7,402.1L646.1,401.6L646.5,401.9L646.9,401.1L647.3,400.6L647.7,400.4L648.1,400.4L648.5,400.3L648.9,400.9L649.3,400.6L649.7,401.9L650.1,402L650.5,402.6L650.9,403L651.3,402.9L651.7,403.9L652.1,404.5L652.5,401.6L652.9,393L653.3,397.9L653.7,405.1L654.1,406.2L654.5,403.4L654.9,402.8L655.3,402.6L655.7,401.8L656.1,402.1L656.5,401L656.9,400.5L657.3,400.7L657.7,400L658.1,399.1L658.5,399.3L658.9,398.5L659.3,398.1L659.7,398.5L660.1,398.8L660.5,398.4L660.9,399.5L661.3,400.1L661.7,400.1L662.1,400.5L662.5,401.2L662.9,401.1L663.3,400.4L663.7,400.7L664.1,401.1L664.5,401.2L664.9,400.3L665.3,399.9L665.7,399.3L666.1,398.7L666.5,399.2L666.9,399.4L667.3,400.3L667.7,400.8L668.1,400.6L668.5,401L668.9,400.5L669.3,400.9L669.7,401.3L670.1,402.5L670.5,402.1L670.9,400.9L671.3,392.5L671.7,395.7L672.1,404.9L672.5,408.3L672.9,404.3L673.3,401.3L673.7,401.1L674.1,401.7L674.5,401.7L674.9,401.2L675.3,400.5L675.7,400.4L676.1,399.5L676.5,399.4L676.9,399.2L677.3,398.6L677.7,398.1L678.1,398.1L678.5,398.4L678.9,398.5L679.3,399.2L679.7,399.1L680.1,399.4L680.5,400.2L680.9,400.2L681.3,400.3L681.7,400.7L682.1,401.2L682.5,400.6L682.9,400.8L683.3,400.4L683.7,400.4L684.1,399.9L684.5,399.9L684.9,398.7L685.3,399.4L685.7,398.8L686.1,399.5L686.5,400.2L686.9,400.7L687.3,400.8L687.7,400.5L688.1,401.6L688.5,401.3L688.9,401.6L689.3,402.5L689.7,402.5L690.1,399L690.5,392.1L690.9,397.9L691.3,406L691.7,406.7L692.1,402.9L692.5,401.3L692.9,401.1L693.3,401.2L693.7,400.9L694.1,400.7L694.5,400.4L694.9,400.3L695.3,399.7L695.7,399.1L696.1,398.2L696.5,398.9L696.9,398.5L697.3,398.4L697.7,399L698.1,398.7L698.5,399L698.9,400.5L699.3,399.9L699.7,401.2L700.1,401.1L700.5,401.2L700.9,402.2L701.3,401.8L701.7,402.1L702.1,401L702.5,401.1L702.9,400.6L703.3,399.9L703.7,399.4L704.1,399.4L704.5,399.5L704.9,399.9L705.3,399.7L705.7,400.5" fill="none" stroke="#dc4b4b" stroke-width="0.9" stroke-linejoin="round"/>
<path d="M162.5,430.3L162.9,430.3L163.3,428.9L163.7,428.8L164.1,428.7L164.5,428.4L164.9,428.7L165.3,428.8L165.7,429.7L166.1,430L166.5,430.8L166.9,431.3L167.3,431.4L167.7,431.7L168.1,432.2L168.5,432.5L168.9,428.9L169.3,421.1L169.7,427.5L170.1,436.3L170.5,437.6L170.9,433.3L171.3,431.1L171.7,431.3L172.1,431.3L172.5,430.3L172.9,430.4L173.3,429.3L173.7,429.7L174.1,429.4L174.5,428.9L174.9,427.6L175.3,427.7L175.7,427.7L176.1,427.3L176.5,427.9L176.9,428.3L177.3,428.4L177.7,429.2L178.1,429.3L178.5,430.5L178.9,431.1L179.3,430.6L179.7,430.3L180.1,431.1L180.5,430.6L180.9,429.6L181.3,429.9L181.7,428.7L182.1,428.6L182.5,428.7L182.9,429.4L183.3,430.2L183.7,429.9L184.1,430L184.5,430.1L184.9,430.8L185.3,430.6L185.7,431L186.1,431.6L186.5,431.4L186.9,426.5L187.3,421.3L187.7,429.4L188.1,435.1L188.5,433.8L188.9,431.4L189.3,430.7L189.7,429.9L190.1,429.8L190.5,429.8L190.9,430L191.3,429.7L191.7,429.8L192.1,429.1L192.5,428.8L192.9,427.5L193.3,427.1L193.7,427.7L194.1,427.6L194.5,427.5L194.9,428L195.3,428.2L195.7,429.1L196.1,428.8L196.5,429L196.9,429.7L197.3,429.6L197.7,429.7L198.1,429.8L198.5,430.2L198.9,429.7L199.3,429L199.7,428.7L200.1,428.9L200.5,429L200.9,428.5L201.3,428.3L201.7,428.6L202.1,430L202.5,430.5L202.9,430.4L203.3,431L203.7,430.9L204.1,430.5L204.5,432.3L204.9,431.8L205.3,429.6L205.7,422L206.1,425L206.5,435.2L206.9,438.6L207.3,433.6L207.7,430.3L208.1,430.2L208.5,429.5L208.9,429.4L209.3,429.6L209.7,429.1L210.1,428.9L210.5,428.4L210.9,428.4L211.3,427.9L211.7,427.5L212.1,427.2L212.5,426.8L212.9,427.7L213.3,428.4L213.7,428.6L214.1,428.2L214.5,428.9L214.9,429.5L215.3,430.2L215.7,429.8L216.1,430.1L216.5,430.5L216.9,429.4L217.3,429.3L217.7,429.7L218.1,429.1L218.5,428.1L218.9,428.6L219.3,428.8L219.7,429.3L220.1,429.2L220.5,430.2L220.9,430.5L221.3,430.3L221.7,429.9L222.1,430.1L222.5,431L222.9,431L223.3,428.7L223.7,421.6L224.1,426.4L224.5,431.8L224.9,433.1L225.3,430.5L225.7,430.2L226.1,429.8L226.5,429.7L226.9,430.1L227.3,429.7L227.7,429.8L228.1,429.2L228.5,429.1L228.9,428.8L229.3,427.7L229.7,427.7L230.1,427.1L230.5,427.2L230.9,428.1L231.3,428L231.7,428.6L232.1,429.1L232.5,429.4L232.9,430L233.3,429.8L233.7,430.3L234.1,430.5L234.5,430.4L234.9,429.7L235.3,430.3L235.7,429.7L236.1,429.9L236.5,429.4L236.9,429.2L237.3,428.5L237.7,428.6L238.1,429.4L238.5,429.6L238.9,430.2L239.3,431L239.7,431.3L240.1,430.9L240.5,431.8L240.9,432.2L241.3,433.3L241.7,433.4L242.1,429.2L242.5,421.8L242.9,429.4L243.3,436.7L243.7,435.8L244.1,432.3L244.5,431.3L244.9,431.4L245.3,430.6L245.7,430.4L246.1,430.9L246.5,430.8L246.9,429.7L247.3,428.8L247.7,429.2L248.1,428.8L248.5,428.5L248.9,427.9L249.3,427.4L249.7,427.8L250.1,428.3L250.5,428.6L250.9,428.9L251.3,429.6L251.7,430.4L252.1,430.6L252.5,430.2L252.9,430.4L253.3,430.5L253.7,430.9L254.1,430.5L254.5,430.1L254.9,429.6L255.3,429.4L255.7,429.3L256.1,429.3L256.5,430.1L256.9,430.8L257.3,430.2L257.7,430.4L258.1,430.1L258.5,431.2L258.9,430.3L259.3,431.4L259.7,431.4L260.1,428.7L260.5,420L260.9,426.2L261.3,434.5L261.7,435.3L262.1,431.9L262.5,430.9L262.9,430.6L263.3,430.5L263.7,430.3L264.1,430L264.5,429.8L264.9,429.5L265.3,428.9L265.7,428L266.1,428L266.5,427.5L266.9,427.3L267.3,427.6L267.7,427L268.1,427.9L268.5,428.3L268.9,428.5L269.3,429.1L269.7,428.6L270.1,429.5L270.5,429.7L270.9,428.8L271.3,428.9L271.7,428.8L272.1,428.4L272.5,428.3L272.9,427.5L273.3,426.8L273.7,426.3L274.1,427.5L274.5,428L274.9,427.9L275.3,428.8L275.7,429.8L276.1,429.9L276.5,429.2L276.9,430.2L277.3,430.6L277.7,431.4L278.1,431.1L278.5,425L278.9,421.1L279.3,430L279.7,435L280.1,433.9L280.5,430.2L280.9,429.9L281.3,430.6L281.7,429.9L282.1,429.8L282.5,429.7L282.9,429.8L283.3,428.6L283.7,428.8L284.1,427.7L284.5,426.7L284.9,426.9L285.3,426.1L285.7,426.8L286.1,427.8L286.5,428.3L286.9,428.2L287.3,428.4L287.7,429.1L288.1,430.1L288.5,429.6L288.9,430.8L289.3,430.4L289.7,430.6L290.1,430.6L290.5,430.1L290.9,429.6L291.3,428.9L291.7,428.6L292.1,428.5L292.5,429L292.9,429.2L293.3,430.2L293.7,430.3L294.1,429.6L294.5,430.4L294.9,430.3L295.3,430.7L295.7,430.7L296.1,431.1L296.5,428.4L296.9,419.2L297.3,422.6L297.7,433.7L298.1,437.3L298.5,432.1L298.9,429.7L299.3,429.5L299.7,430.1L300.1,430.3L300.5,429.7L300.9,429.8L301.3,429.1L301.7,428.8L302.1,428.1L302.5,428.5L302.9,428.1L303.3,427.1L303.7,427.8L304.1,427.9L304.5,428.9L304.9,428.6L305.3,429.5L305.7,429L306.1,430.4L306.5,430.5L306.9,430.5L307.3,430.6L307.7,430.3L308.1,430.2L308.5,429.5L308.9,429.7L309.3,428.8L309.7,429L310.1,428.6L310.5,428.7L310.9,429L311.3,429L311.7,429.6L312.1,429.7L312.5,429.9L312.9,430.8L313.3,431.5L313.7,431.6L314.1,431.3L314.5,432.7L314.9,432.1L315.3,426.8L315.7,419.1L316.1,428.2L316.5,435.5L316.9,435.3L317.3,432.2L317.7,430.8L318.1,431.2L318.5,431L318.9,429.8L319.3,429.3L319.7,428.8L320.1,428.8L320.5,428L320.9,427.7L321.3,427.4L321.7,427.5L322.1,427.1L322.5,427.8L322.9,427.3L323.3,428.5L323.7,428.1L324.1,428.3L324.5,428.8L324.9,429.9L325.3,429.1L325.7,429.9L326.1,429.9L326.5,430.2L326.9,429.9L327.3,429.3L327.7,429.6L328.1,428.8L328.5,428.7L328.9,428.3L329.3,428.4L329.7,428.9L330.1,429.6L330.5,430.2L330.9,430.9L331.3,430.8L331.7,430.7L332.1,430.9L332.5,431.6L332.9,431.9L333.3,429.6L333.7,421.8L334.1,425.7L334.5,433.5L334.9,435.9L335.3,432.8L335.7,430.5L336.1,430L336.5,429.9L336.9,430.4L337.3,430.1L337.7,430L338.1,429.7L338.5,429.1L338.9,429.1L339.3,428.4L339.7,428.5L340.1,427.8L340.5,428.4L340.9,427.7L341.3,428.4L341.7,428.4L342.1,428.7L342.5,429.4L342.9,429.4L343.3,430.4L343.7,430.7L344.1,430.6L344.5,430.8L344.9,431L345.3,430.6L345.7,430.3L346.1,429.1L346.5,429.5L346.9,428.9L347.3,429.2L347.7,428.6L348.1,429L348.5,429.5L348.9,429.9L349.3,430.8L349.7,430.2L350.1,430.2L350.5,430.3L350.9,430.7L351.3,432.2L351.7,429.7L352.1,424.1L352.5,423.9L352.9,432.8L353.3,436.6L353.7,433.3L354.1,430.9L354.5,430.9L354.9,430.9L355.3,430.9L355.7,430.1L356.1,429.4L356.5,430.2L356.9,429.3L357.3,428.8L357.7,427.8L358.1,427.3L358.5,426.7L358.9,427L359.3,427.6L359.7,427.1L360.1,427.9L360.5,428.7L360.9,428.5L361.3,429.9L361.7,429.9L362.1,430.3L362.5,430L362.9,430.6L363.3,430.5L363.7,430.6L364.1,429.9L364.5,429.3L364.9,429.4L365.3,429.7L365.7,428.8L366.1,429.4L366.5,428.9L366.9,429.7L367.3,429.6L367.7,430.4L368.1,430L368.5,430.5L368.9,431.1L369.3,431.3L369.7,431.7L370.1,428.5L370.5,420.8L370.9,427L371.3,432.4L371.7,433.2L372.1,431.1L372.5,430.7L372.9,430.5L373.3,430.7L373.7,430.1L374.1,429.6L374.5,429.5L374.9,429.7L375.3,428.9L375.7,428.1L376.1,427.8L376.5,427.4L376.9,426.6L377.3,427.1L377.7,426.9L378.1,427.9L378.5,428L378.9,429.1L379.3,428.6L379.7,429.8L380.1,429.7L380.5,429.9L380.9,430.2L381.3,430.1L381.7,429.9L382.1,429.8L382.5,428.7L382.9,428L383.3,428.2L383.7,428.2L384.1,428.5L384.5,428.9L384.9,429.1L385.3,429.4L385.7,430.4L386.1,430.2L386.5,429.9L386.9,430.7L387.3,430.9L387.7,431.5L388.1,432L388.5,429L388.9,423.1L389.3,428.5L389.7,435.5L390.1,437.2L390.5,431.9L390.9,430.8L391.3,430.7L391.7,430L392.1,429.8L392.5,429.8L392.9,429.6L393.3,429.2L393.7,429.2L394.1,429.1L394.5,428.6L394.9,427.6L395.3,427.2L395.7,427.5L396.1,427.3L396.5,427.7L396.9,428.3L397.3,429.3L397.7,429.5L398.1,429.6L398.5,429.6L398.9,430.3L399.3,430.5L399.7,430.5L400.1,430.8L400.5,430.2L400.9,429.5L401.3,429.3L401.7,429L402.1,428.7L402.5,429.2L402.9,429.3L403.3,430.4L403.7,430.6L404.1,430.9L404.5,431.3L404.9,431L405.3,431.4L405.7,431.5L406.1,431.5L406.5,428.5L406.9,422L407.3,428.9L407.7,434.5L408.1,434.5L408.5,431.3L408.9,430.8L409.3,431.1L409.7,430.9L410.1,430.6L410.5,430.2L410.9,430.4L411.3,429.4L411.7,429.9L412.1,429.1L412.5,428.2L412.9,428.2L413.3,427.5L413.7,427.7L414.1,427.5L414.5,428.2L414.9,428.7L415.3,429.4L415.7,429.4L416.1,430.3L416.5,430.3L416.9,430.4L417.3,430.8L417.7,431.3L418.1,431.2L418.5,430.6L418.9,429.7L419.3,429.1L419.7,429L420.1,429.5L420.5,430.1L420.9,429.4L421.3,429.8L421.7,430.8L422.1,431.2L422.5,431.3L422.9,430.9L423.3,431.5L423.7,432.2L424.1,433.5L424.5,432.3L424.9,426.3L425.3,423.6L425.7,432.2L426.1,439.2L426.5,436.2L426.9,431.4L427.3,431L427.7,431.2L428.1,431.7L428.5,430.6L428.9,430.4L429.3,430.6L429.7,429.7L430.1,429.9L430.5,429L430.9,428.9L431.3,428.6L431.7,428.9L432.1,428L432.5,428.4L432.9,429.5L433.3,429L433.7,429.2L434.1,429.8L434.5,430.9L434.9,430.4L435.3,430.5L435.7,431.4L436.1,430.8L436.5,430.2L436.9,430.6L437.3,430.1L437.7,429.8L438.1,428.6L438.5,428.6L438.9,428.3L439.3,428.6L439.7,429L440.1,429.1L440.5,430.5L440.9,430.1L441.3,430.4L441.7,430.3L442.1,431.5L442.5,431.5L442.9,432.3L443.3,430.2L443.7,423.2L444.1,424L444.5,433.1L444.9,437.4L445.3,433.4L445.7,430.6L446.1,431L446.5,430.4L446.9,430.1L447.3,430.4L447.7,430.1L448.1,429.7L448.5,429.6L448.9,429.1L449.3,428.3L449.7,428.2L450.1,427.6L450.5,427.8L450.9,427.4L451.3,428.1L451.7,428.2L452.1,429.6L452.5,430.1L452.9,430.3L453.3,429.8L453.7,429.9L454.1,430L454.5,430.4L454.9,430.6L455.3,430.3L455.7,429.6L456.1,429.6L456.5,428.6L456.9,428.5L457.3,428.3L457.7,429.2L458.1,429.3L458.5,429.2L458.9,429.6L459.3,430.4L459.7,430.4L460.1,430.2L460.5,431.4L460.9,432.7L461.3,432.5L461.7,427.5L462.1,421.5L462.5,430L462.9,438.6L463.3,436L463.7,430.8L464.1,430.1L464.5,430.8L464.9,430.6L465.3,429.6L465.7,429.2L466.1,429.2L466.5,428.2L466.9,428.6L467.3,427.6L467.7,426.8L468.1,425.9L468.5,425.7L468.9,425.9L469.3,426.1L469.7,426.2L470.1,427.2L470.5,427.8L470.9,427.9L471.3,428.4L471.7,429L472.1,428.9L472.5,428.6L472.9,429.2L473.3,428.6L473.7,428.8L474.1,428.4L474.5,428.5L474.9,427.4L475.3,427.5L475.7,427.8L476.1,428.1L476.5,428.8L476.9,428.7L477.3,429.8L477.7,429.5L478.1,429.9L478.5,430L478.9,430.9L479.3,432.2L479.7,429.9L480.1,420L480.5,422.9L480.9,433.4L481.3,438L481.7,433.3L482.1,430.2L482.5,429.8L482.9,430.4L483.3,430.1L483.7,429.4L484.1,429.4L484.5,429.5L484.9,428.6L485.3,428.3L485.7,427.6L486.1,427.1L486.5,426.8L486.9,427.4L487.3,426.6L487.7,427.4L488.1,428L488.5,428.1L488.9,429.5L489.3,429.9L489.7,429.3L490.1,430L490.5,429.7L490.9,429.9L491.3,429.8L491.7,429.8L492.1,428.8L492.5,428.3L492.9,427.8L493.3,427.3L493.7,426.6L494.1,427.7L494.5,427.2L494.9,428.1L495.3,428.3L495.7,429L496.1,429.4L496.5,429.2L496.9,428.5L497.3,429.6L497.7,430.3L498.1,429.6L498.5,425.3L498.9,422.1L499.3,429.6L499.7,432.8L500.1,431.8L500.5,429L500.9,429.3L501.3,428.7L501.7,428.8L502.1,429.1L502.5,428.7L502.9,428.3L503.3,428.1L503.7,427.8L504.1,427.3L504.5,426.9L504.9,426.2L505.3,427L505.7,426.8L506.1,427.1L506.5,426.9L506.9,428.1L507.3,428.1L507.7,429.1L508.1,429.4L508.5,429.5L508.9,430.3L509.3,429.7L509.7,429.6L510.1,429.2L510.5,429.3L510.9,428.7L511.3,428.3L511.7,428.3L512.1,428.3L512.5,428.2L512.9,428.8L513.3,430L513.7,429.9L514.1,429.7L514.5,430.3L514.9,430L515.3,430.2L515.7,431.4L516.1,430L516.5,422.8L516.9,422.8L517.3,432.4L517.7,438.7L518.1,434.2L518.5,430.5L518.9,430.5L519.3,430.4L519.7,429.5L520.1,429.5L520.5,430L520.9,429.2L521.3,428.3L521.7,428.1L522.1,427.4L522.5,427L522.9,427L523.3,426.8L523.7,427.2L524.1,426.8L524.5,427.6L524.9,428.2L525.3,427.9L525.7,427.9L526.1,428.7L526.5,429.8L526.9,429L527.3,429.4L527.7,429.9L528.1,429.6L528.5,429.7L528.9,429.8L529.3,429L529.7,428.2L530.1,428.6L530.5,428.4L530.9,428.3L531.3,429.3L531.7,429.1L532.1,429.6L532.5,430.1L532.9,429.9L533.3,430.2L533.7,430.6L534.1,431.6L534.5,432.4L534.9,430.8L535.3,422.8L535.7,421.1L536.1,430.9L536.5,435.1L536.9,433.3L537.3,431.4L537.7,430.7L538.1,431.2L538.5,431.1L538.9,430.5L539.3,429.7L539.7,429.9L540.1,428.3L540.5,428.8L540.9,428.3L541.3,427.5L541.7,427.7L542.1,427.4L542.5,427.7L542.9,428.3L543.3,428.9L543.7,429.3L544.1,428.8L544.5,429.9L544.9,430.1L545.3,430.5L545.7,430.4L546.1,430.5L546.5,430.1L546.9,430L547.3,429.4L547.7,429.2L548.1,428.6L548.5,427.9L548.9,427.8L549.3,428.2L549.7,428.6L550.1,429.7L550.5,429.1L550.9,429.9L551.3,430.4L551.7,430.1L552.1,430.6L552.5,431.6L552.9,431.5L553.3,427.7L553.7,418.8L554.1,426.3L554.5,436.6L554.9,437.7L555.3,431.4L555.7,429.8L556.1,430.3L556.5,429.8L556.9,430L557.3,429.4L557.7,429.7L558.1,429.5L558.5,428.4L558.9,428.7L559.3,427.7L559.7,427.4L560.1,428.1L560.5,427.9L560.9,427.7L561.3,428.1L561.7,428.5L562.1,429.2L562.5,429.7L562.9,430.3L563.3,430.8L563.7,430.6L564.1,430.6L564.5,430.5L564.9,430.6L565.3,430.2L565.7,430L566.1,429.8L566.5,429.1L566.9,428.6L567.3,428.5L567.7,428.7L568.1,429.7L568.5,430.3L568.9,429.9L569.3,429.9L569.7,430.4L570.1,430.5L570.5,430.6L570.9,431.8L571.3,431.7L571.7,427.3L572.1,421.1L572.5,427.9L572.9,433.5L573.3,433.1L573.7,430.6L574.1,429.5L574.5,430.3L574.9,430.2L575.3,429.8L575.7,430L576.1,429.1L576.5,429.1L576.9,428.3L577.3,427.5L577.7,426.5L578.1,427.3L578.5,427L578.9,426.4L579.3,427.5L579.7,427.6L580.1,427.7L580.5,428.5L580.9,429.3L581.3,429L581.7,429.2L582.1,429.9L582.5,429.3L582.9,430.2L583.3,429.8L583.7,430.2L584.1,429.6L584.5,428.8L584.9,428.2L585.3,427.8L585.7,428L586.1,428L586.5,429.2L586.9,430L587.3,430.2L587.7,429.7L588.1,429.8L588.5,430.2L588.9,430.3L589.3,431.5L589.7,430L590.1,423.7L590.5,419.3L590.9,430.3L591.3,437.7L591.7,435.1L592.1,431L592.5,429.9L592.9,430.4L593.3,429.7L593.7,429.7L594.1,429.2L594.5,428.6L594.9,428.7L595.3,428.5L595.7,427.9L596.1,427.5L596.5,427L596.9,426.8L597.3,427.3L597.7,427.1L598.1,427.4L598.5,427.9L598.9,428.3L599.3,428.7L599.7,428.9L600.1,430L600.5,430.3L600.9,430.2L601.3,430.2L601.7,430.2L602.1,429.9L602.5,430.4L602.9,429.9L603.3,429.3L603.7,429.4L604.1,428.6L604.5,429.2L604.9,430.2L605.3,430.5L605.7,430.4L606.1,431L606.5,430.9L606.9,431.5L607.3,432.6L607.7,431.9L608.1,427.6L608.5,419.1L608.9,427.8L609.3,434.6L609.7,435.5L610.1,431.7L610.5,431.3L610.9,431.5L611.3,432.3L611.7,431.9L612.1,431.5L612.5,430.9L612.9,429.9L613.3,428.8L613.7,428.6L614.1,428.5L614.5,428.1L614.9,428.2L615.3,427.7L615.7,427.9L616.1,428.4L616.5,428.8L616.9,428.7L617.3,429.6L617.7,430.4L618.1,430.9L618.5,430.7L618.9,430.9L619.3,430.3L619.7,430.3L620.1,430.3L620.5,430.7L620.9,430.5L621.3,429.5L621.7,429L622.1,429.6L622.5,429.5L622.9,429.7L623.3,431.1L623.7,431.2L624.1,431.6L624.5,431.9L624.9,431.4L625.3,432.3L625.7,432.8L626.1,433.7L626.5,432L626.9,423.4L627.3,422.6L627.7,432.7L628.1,437.7L628.5,435.7L628.9,432.7L629.3,432.7L629.7,432.3L630.1,432.3L630.5,431.9L630.9,432L631.3,431.6L631.7,431L632.1,429.8L632.5,429.5L632.9,429.6L633.3,428.5L633.7,428.7L634.1,428.6L634.5,428.4L634.9,429.4L635.3,429.3L635.7,429.9L636.1,430.4L636.5,430.2L636.9,430.7L637.3,431.3L637.7,431L638.1,429.9L638.5,430L638.9,429.5L639.3,428.6L639.7,428.6L640.1,428.5L640.5,428.6L640.9,429.1L641.3,429.9L641.7,429.7L642.1,430.3L642.5,431.2L642.9,430.7L643.3,430.3L643.7,432.3L644.1,431.6L644.5,427L644.9,419.8L645.3,428.5L645.7,436.7L646.1,436.3L646.5,432.3L646.9,430.1L647.3,430.6L647.7,430.4L648.1,430.5L648.5,429.4L648.9,428.8L649.3,428.6L649.7,428.3L650.1,427.4L650.5,426.7L650.9,426.4L651.3,426.9L651.7,426.5L652.1,427.1L652.5,427.4L652.9,428.3L653.3,428.3L653.7,429.3L654.1,430.2L654.5,430.4L654.9,430.2L655.3,430.3L655.7,430.9L656.1,430.3L656.5,430.3L656.9,429.9L657.3,430L657.7,429L658.1,429.3L658.5,428.7L658.9,428.9L659.3,429L659.7,430L660.1,429.8L660.5,430.9L660.9,431.3L661.3,431.2L661.7,431.2L662.1,432.1L662.5,432.2L662.9,430.4L663.3,423.1L663.7,426.8L664.1,434.3L664.5,435.4L664.9,432.8L665.3,430.8L665.7,430.3L666.1,431L666.5,430.7L666.9,430.1L667.3,429.1L667.7,429.4L668.1,428.8L668.5,428.3L668.9,427.6L669.3,427.2L669.7,427L670.1,426.8L670.5,427.1L670.9,428L671.3,427.7L671.7,428.6L672.1,428.7L672.5,428.9L672.9,428.4L673.3,429.1L673.7,429.3L674.1,429.8L674.5,429.5L674.9,429.7L675.3,428.7L675.7,428.3L676.1,428L676.5,428.2L676.9,427.5L677.3,427.8L677.7,428L678.1,428.1L678.5,428.9L678.9,429.7L679.3,429.2L679.7,429.6L680.1,429.8L680.5,430.5L680.9,431.6L681.3,431.4L681.7,426.1L682.1,423.2L682.5,432.5L682.9,439.5L683.3,436.4L683.7,431.3L684.1,431.1L684.5,430.4L684.9,429.6L685.3,429.6L685.7,429.3L686.1,429.1L686.5,428.4L686.9,428.1L687.3,427.7L687.7,427.7L688.1,427.6L688.5,426.8L688.9,427.2L689.3,426.9L689.7,428L690.1,427.9L690.5,428.8L690.9,429.9L691.3,430.2L691.7,430.5L692.1,431.1L692.5,431.1L692.9,430.6L693.3,430.2L693.7,430L694.1,428.9L694.5,428.2L694.9,428.4L695.3,428.9L695.7,429.6L696.1,429.7L696.5,430.6L696.9,430.6L697.3,430.7L697.7,430.8L698.1,431.9L698.5,432.1L698.9,433L699.3,431L699.7,424.9L700.1,423.2L700.5,431.7L700.9,434.7L701.3,432.9L701.7,430.9L702.1,430.9L702.5,431L702.9,431L703.3,430.7L703.7,430.3L704.1,430.2L704.5,429.9L704.9,429.1L705.3,428.9L705.7,427.9" fill="none" stroke="#3f6fe6" stroke-width="0.9" stroke-linejoin="round"/>
<path d="M162.5,458.5L162.9,458.6L163.3,459.6L163.7,460.8L164.1,459.9L164.5,453.7L164.9,449L165.3,458.5L165.7,464.5L166.1,462.7L166.5,458.9L166.9,458.6L167.3,458.5L167.7,457.8L168.1,458.1L168.5,457.2L168.9,457.6L169.3,457.1L169.7,455.9L170.1,456.4L170.5,455.4L170.9,455.6L171.3,455.4L171.7,455.7L172.1,455.7L172.5,456.3L172.9,455.9L173.3,456.9L173.7,456.8L174.1,457.2L174.5,457.2L174.9,457.3L175.3,457.3L175.7,457.4L176.1,457.5L176.5,457.7L176.9,457.7L177.3,456.6L177.7,456.5L178.1,457.2L178.5,457.4L178.9,457.6L179.3,458.1L179.7,458.3L180.1,458.9L180.5,459.3L180.9,459.1L181.3,459.6L181.7,459.5L182.1,459.8L182.5,457.8L182.9,450.9L183.3,452.9L183.7,460.6L184.1,462.5L184.5,460.4L184.9,458.6L185.3,458.3L185.7,458L186.1,457.9L186.5,458.5L186.9,457.2L187.3,457.2L187.7,455.9L188.1,456.5L188.5,456.1L188.9,455L189.3,454.8L189.7,454.1L190.1,454.5L190.5,455.4L190.9,455.9L191.3,455.9L191.7,457L192.1,457.7L192.5,458.1L192.9,458.8L193.3,458.4L193.7,458.6L194.1,459.1L194.5,458.6L194.9,458.1L195.3,458.2L195.7,457.4L196.1,456.8L196.5,457.4L196.9,457.4L197.3,457.8L197.7,458.2L198.1,458.6L198.5,459.2L198.9,459L199.3,458.4L199.7,458.6L200.1,459.8L200.5,459.8L200.9,455.2L201.3,448.9L201.7,457.4L202.1,464.8L202.5,464.4L202.9,459.8L203.3,459L203.7,459.2L204.1,458.4L204.5,458.9L204.9,458.4L205.3,458.2L205.7,458.4L206.1,456.9L206.5,456.5L206.9,455.6L207.3,456.1L207.7,455.7L208.1,455L208.5,455.9L208.9,455.8L209.3,456.1L209.7,456.5L210.1,457.6L210.5,457.8L210.9,457.1L211.3,458.2L211.7,457.9L212.1,457.8L212.5,458.4L212.9,457.5L213.3,457.6L213.7,456.8L214.1,456.1L214.5,456.1L214.9,456.3L215.3,456.2L215.7,456.6L216.1,456.6L216.5,457.6L216.9,457.6L217.3,457.7L217.7,457.4L218.1,457.7L218.5,458.3L218.9,458.5L219.3,455.5L219.7,447.1L220.1,453.7L220.5,461.5L220.9,463.5L221.3,458.4L221.7,456.7L222.1,456.6L222.5,456.6L222.9,456.6L223.3,456.4L223.7,455.7L224.1,455.8L224.5,455.3L224.9,455.7L225.3,454.8L225.7,454.7L226.1,455.1L226.5,454.7L226.9,455.4L227.3,455.2L227.7,456.3L228.1,456.5L228.5,457.1L228.9,457.8L229.3,457.4L229.7,457.4L230.1,458.6L230.5,458.4L230.9,458L231.3,457.4L231.7,457L232.1,456.4L232.5,456.7L232.9,456.2L233.3,456.8L233.7,456.7L234.1,458L234.5,458L234.9,458.7L235.3,458.8L235.7,458.6L236.1,459.4L236.5,460.6L236.9,459.9L237.3,455.5L237.7,451L238.1,458.2L238.5,466.3L238.9,465.5L239.3,460.3L239.7,458.9L240.1,460L240.5,459.2L240.9,458.8L241.3,458.9L241.7,457.9L242.1,457.8L242.5,457.3L242.9,456.1L243.3,456.1L243.7,455.7L244.1,455.4L244.5,455.6L244.9,455.2L245.3,456.3L245.7,456.2L246.1,456.7L246.5,457.4L246.9,457.8L247.3,458.1L247.7,458.5L248.1,458.5L248.5,457.9L248.9,458.3L249.3,458.4L249.7,457.6L250.1,457.1L250.5,456.8L250.9,456.3L251.3,456.5L251.7,456.2L252.1,457.3L252.5,457.4L252.9,457.7L253.3,457.8L253.7,458L254.1,458.7L254.5,458.1L254.9,459.5L255.3,459.7L255.7,457.7L256.1,449.7L256.5,453.6L256.9,462.3L257.3,464.3L257.7,460L258.1,458.5L258.5,458.1L258.9,458.4L259.3,457.3L259.7,457.4L260.1,456.5L260.5,456L260.9,456.2L261.3,455.1L261.7,454.6L262.1,454.8L262.5,454.8L262.9,454.8L263.3,455.2L263.7,455.6L264.1,455.8L264.5,456L264.9,456L265.3,456.3L265.7,456.4L266.1,457.7L266.5,457.7L266.9,457.8L267.3,457.1L267.7,457.3L268.1,457.9L268.5,457.2L268.9,456.6L269.3,456.8L269.7,456.8L270.1,457.9L270.5,458.1L270.9,458.5L271.3,458.7L271.7,458.8L272.1,459.1L272.5,458.9L272.9,459.2L273.3,460L273.7,459.2L274.1,454.4L274.5,451.6L274.9,460.4L275.3,465.7L275.7,463.7L276.1,459.9L276.5,459L276.9,459.3L277.3,460L277.7,459.6L278.1,458.7L278.5,459L278.9,458.4L279.3,457.6L279.7,457.8L280.1,457.5L280.5,457.2L280.9,457.7L281.3,456.8L281.7,456.9L282.1,457.5L282.5,457.3L282.9,457.6L283.3,457.7L283.7,458L284.1,458.3L284.5,458.7L284.9,458.7L285.3,458.5L285.7,459L286.1,458.1L286.5,458.2L286.9,457.5L287.3,458L287.7,457.3L288.1,457.5L288.5,458.5L288.9,458.2L289.3,458.9L289.7,459.2L290.1,459.2L290.5,459L290.9,459L291.3,461L291.7,460L292.1,454.7L292.5,449.6L292.9,458.9L293.3,466.6L293.7,465.7L294.1,460.3L294.5,459.5L294.9,459L295.3,459L295.7,459L296.1,458.9L296.5,458.1L296.9,458L297.3,457.9L297.7,456.8L298.1,456.1L298.5,456.2L298.9,456.1L299.3,456.2L299.7,456.7L300.1,456.7L300.5,456.9L300.9,457.9L301.3,458.3L301.7,458.2L302.1,458.9L302.5,459.2L302.9,459.1L303.3,459.1L303.7,459.7L304.1,458.9L304.5,458.4L304.9,458.4L305.3,457.9L305.7,457.8L306.1,457.1L306.5,457.9L306.9,457.5L307.3,458.7L307.7,458.5L308.1,459.6L308.5,459.6L308.9,459.7L309.3,459.7L309.7,460.4L310.1,460.8L310.5,459.4L310.9,451.9L311.3,453.7L311.7,461.2L312.1,463.5L312.5,460.6L312.9,458.5L313.3,458.6L313.7,458.3L314.1,459L314.5,457.7L314.9,457.5L315.3,457.4L315.7,456.5L316.1,456.6L316.5,455.6L316.9,455.5L317.3,455.1L317.7,454.4L318.1,455.5L318.5,455.4L318.9,456.4L319.3,456.9L319.7,457L320.1,457L320.5,458L320.9,458.4L321.3,457.6L321.7,457.4L322.1,457.9L322.5,457.7L322.9,457.4L323.3,455.9L323.7,456.6L324.1,455.8L324.5,455.6L324.9,456.5L325.3,456.8L325.7,456.5L326.1,456.7L326.5,457.2L326.9,457.3L327.3,458.1L327.7,459L328.1,459.1L328.5,458.4L328.9,450.6L329.3,449.5L329.7,459.3L330.1,464.8L330.5,460.8L330.9,458.4L331.3,457.8L331.7,457.8L332.1,458.2L332.5,458.3L332.9,458L333.3,457.7L333.7,457.7L334.1,456.2L334.5,455.7L334.9,455.4L335.3,455.9L335.7,454.7L336.1,455.4L336.5,455.7L336.9,455.7L337.3,456.5L337.7,457.5L338.1,458.1L338.5,457.8L338.9,457.8L339.3,458.2L339.7,458L340.1,457.9L340.5,458L340.9,457.7L341.3,457.2L341.7,456.9L342.1,457L342.5,457L342.9,456.7L343.3,457.2L343.7,457.8L344.1,458.5L344.5,458.2L344.9,459L345.3,459.3L345.7,459.6L346.1,459.4L346.5,460.6L346.9,460.6L347.3,455.6L347.7,449.9L348.1,458.1L348.5,464.8L348.9,463.1L349.3,460.1L349.7,459L350.1,458.1L350.5,458.8L350.9,458.3L351.3,457.5L351.7,457.3L352.1,457.2L352.5,456.8L352.9,455.5L353.3,455.3L353.7,455.9L354.1,455.5L354.5,454.8L354.9,455.3L355.3,456.1L355.7,456.5L356.1,456.6L356.5,457L356.9,457.6L357.3,457.5L357.7,457.6L358.1,457.8L358.5,458L358.9,458L359.3,457.9L359.7,456.8L360.1,456.9L360.5,456.3L360.9,456.3L361.3,455.8L361.7,456.7L362.1,456.7L362.5,457.5L362.9,458.1L363.3,458.4L363.7,459.1L364.1,458.9L364.5,459L364.9,460.1L365.3,459.6L365.7,454.6L366.1,451.2L366.5,458.9L366.9,463.5L367.3,462.8L367.7,459.1L368.1,459L368.5,459.2L368.9,458.1L369.3,457.6L369.7,457.2L370.1,457.6L370.5,457.1L370.9,456.4L371.3,455.7L371.7,456.1L372.1,455.6L372.5,455.1L372.9,455.3L373.3,455.4L373.7,455.1L374.1,455.5L374.5,456.3L374.9,457.3L375.3,457.5L375.7,457.1L376.1,458L376.5,457.7L376.9,457.2L377.3,457.6L377.7,456.9L378.1,456.6L378.5,456.3L378.9,455.7L379.3,456.2L379.7,456.5L380.1,457.6L380.5,457.5L380.9,458.2L381.3,458.7L381.7,459.1L382.1,459.3L382.5,459.7L382.9,460L383.3,460.1L383.7,455.8L384.1,448.1L384.5,455.8L384.9,463.6L385.3,463.9L385.7,459.7L386.1,458.3L386.5,458.1L386.9,459L387.3,458.9L387.7,458.7L388.1,457.5L388.5,456.6L388.9,455.9L389.3,455.6L389.7,455.2L390.1,455.5L390.5,455.1L390.9,455.5L391.3,455.6L391.7,456.6L392.1,456.6L392.5,457L392.9,457.3L393.3,457.5L393.7,458.2L394.1,458L394.5,458.6L394.9,458.3L395.3,458.6L395.7,458.8L396.1,457.6L396.5,457L396.9,456.6L397.3,457.2L397.7,457.2L398.1,456.7L398.5,457.8L398.9,457.8L399.3,458.8L399.7,458.6L400.1,458.8L400.5,459.6L400.9,459.9L401.3,461L401.7,460.5L402.1,453.7L402.5,450.8L402.9,460.8L403.3,467.6L403.7,464.1L404.1,459.8L404.5,459.5L404.9,459.8L405.3,459.2L405.7,459.5L406.1,459.4L406.5,459L406.9,458.5L407.3,458L407.7,457.3L408.1,456.6L408.5,456L408.9,456.1L409.3,455.9L409.7,456.6L410.1,456.8L410.5,458.2L410.9,457.8L411.3,458.3L411.7,459.1L412.1,459.1L412.5,458.9L412.9,459.3L413.3,458.4L413.7,458.9L414.1,458.8L414.5,458.2L414.9,457.9L415.3,457.5L415.7,457.1L416.1,457.6L416.5,457.1L416.9,458.2L417.3,458.7L417.7,459.6L418.1,459.5L418.5,459.6L418.9,460L419.3,460.5L419.7,461.1L420.1,460.5L420.5,455.1L420.9,448.9L421.3,458.2L421.7,466.5L422.1,465.3L422.5,460.6L422.9,459.4L423.3,458.9L423.7,458.5L424.1,458.8L424.5,457.8L424.9,457.7L425.3,457.5L425.7,457.2L426.1,455.8L426.5,455.4L426.9,455.3L427.3,455.2L427.7,455.2L428.1,455.7L428.5,455.8L428.9,457.2L429.3,457.7L429.7,458L430.1,457.7L430.5,458.6L430.9,458.2L431.3,458.2L431.7,457.6L432.1,458.2L432.5,457.4L432.9,456.4L433.3,456.6L433.7,455.7L434.1,456.2L434.5,456L434.9,457L435.3,457.2L435.7,457.9L436.1,458.8L436.5,459.2L436.9,459L437.3,459L437.7,459.4L438.1,460.1L438.5,454.7L438.9,447.9L439.3,456.8L439.7,464.1L440.1,464.2L440.5,459.1L440.9,457.9L441.3,458.9L441.7,457.8L442.1,458.4L442.5,458.1L442.9,457.9L443.3,457.1L443.7,456.1L444.1,455.6L444.5,455.9L444.9,455.1L445.3,454.9L445.7,454.8L446.1,454.6L446.5,455.3L446.9,456.6L447.3,457.3L447.7,457.7L448.1,457.6L448.5,458.3L448.9,458.2L449.3,458.1L449.7,458.6L450.1,458.2L450.5,458L450.9,457.7L451.3,456.7L451.7,457L452.1,456.3L452.5,456.3L452.9,456.8L453.3,458L453.7,458.5L454.1,459L454.5,458.3L454.9,458.7L455.3,458.9L455.7,460.1L456.1,460.5L456.5,461.1L456.9,454.8L457.3,448.9L457.7,458.3L458.1,466.6L458.5,464.9L458.9,459.8L459.3,458.8L459.7,458.9L460.1,458.2L460.5,459L460.9,457.9L461.3,458.3L461.7,457.6L462.1,457.6L462.5,456.4L462.9,456.2L463.3,455.3L463.7,456.1L464.1,455.7L464.5,455.8L464.9,456.8L465.3,457L465.7,457.2L466.1,458.6L466.5,459.1L466.9,458.9L467.3,458.9L467.7,459.1L468.1,458.7L468.5,458.5L468.9,458.4L469.3,457.7L469.7,457.3L470.1,456.9L470.5,456.9L470.9,457.2L471.3,457.6L471.7,458.6L472.1,459.2L472.5,459.6L472.9,459.8L473.3,459.2L473.7,458.8L474.1,459.8L474.5,460.5L474.9,457.5L475.3,449.2L475.7,453.6L476.1,463.7L476.5,466L476.9,460.6L477.3,458.2L477.7,457.8L478.1,458L478.5,458.1L478.9,458.2L479.3,457.1L479.7,457.6L480.1,456.9L480.5,456.8L480.9,456.5L481.3,455.5L481.7,455.1L482.1,455.3L482.5,455.1L482.9,455.8L483.3,456.7L483.7,457.3L484.1,457.9L484.5,458.4L484.9,459L485.3,458.4L485.7,458.7L486.1,459L486.5,458.8L486.9,458.3L487.3,458.7L487.7,458.3L488.1,457.8L488.5,456.9L488.9,456.3L489.3,456.9L489.7,456.8L490.1,457.6L490.5,457.9L490.9,458L491.3,458.7L491.7,458.6L492.1,459.5L492.5,459.8L492.9,460.5L493.3,459.5L493.7,453.7L494.1,450.4L494.5,460.5L494.9,467.1L495.3,463.7L495.7,459.9L496.1,460L496.5,459.2L496.9,459L497.3,459.4L497.7,459.1L498.1,459L498.5,459.1L498.9,458.5L499.3,458.2L499.7,457L500.1,456.4L500.5,457.2L500.9,457.2L501.3,457.2L501.7,457.1L502.1,457.3L502.5,457.9L502.9,458.4L503.3,458L503.7,458.4L504.1,458.4L504.5,459.2L504.9,459.2L505.3,458.9L505.7,459.2L506.1,458.7L506.5,458L506.9,457.8L507.3,457.8L507.7,457.8L508.1,457.4L508.5,458.3L508.9,458.3L509.3,458.7L509.7,458.9L510.1,458.9L510.5,459.4L510.9,460.3L511.3,460L511.7,458.7L512.1,451.7L512.5,451.1L512.9,460.9L513.3,465.3L513.7,461.9L514.1,459L514.5,459.2L514.9,459L515.3,458.5L515.7,458.2L516.1,458.8L516.5,458.3L516.9,457.9L517.3,457.5L517.7,457.2L518.1,456.2L518.5,456.4L518.9,456.6L519.3,456.4L519.7,456.9L520.1,457.4L520.5,458.3L520.9,458.9L521.3,459.6L521.7,459.9L522.1,460.3L522.5,460.3L522.9,459.4L523.3,459.9L523.7,459.4L524.1,458.3L524.5,458.4L524.9,458.1L525.3,457.1L525.7,457.2L526.1,458L526.5,457.9L526.9,458.6L527.3,458.9L527.7,458.7L528.1,458.2L528.5,458.3L528.9,458.8L529.3,459.5L529.7,459.9L530.1,457.1L530.5,448.2L530.9,454.1L531.3,462.3L531.7,463.6L532.1,459.7L532.5,459.1L532.9,459L533.3,459.2L533.7,459.1L534.1,458.6L534.5,458.8L534.9,458.4L535.3,458L535.7,457.8L536.1,457.3L536.5,457.3L536.9,456.9L537.3,456.4L537.7,457L538.1,457L538.5,458L538.9,458.3L539.3,458.1L539.7,459L540.1,459.2L540.5,460L540.9,460.3L541.3,459.5L541.7,459.9L542.1,459.1L542.5,458.3L542.9,458.7L543.3,457.9L543.7,457.7L544.1,457.6L544.5,458.2L544.9,459.3L545.3,459.5L545.7,460L546.1,459.2L546.5,459.4L546.9,461.2L547.3,461.9L547.7,460.4L548.1,452.9L548.5,451.7L548.9,463.2L549.3,469.5L549.7,464.5L550.1,460.8L550.5,460.1L550.9,459.8L551.3,459.5L551.7,458.9L552.1,458.4L552.5,458L552.9,457.8L553.3,456.7L553.7,456.8L554.1,456.6L554.5,456.4L554.9,455.5L555.3,455.9L555.7,456L556.1,456.5L556.5,457.6L556.9,457.6L557.3,459L557.7,458.7L558.1,458.9L558.5,459L558.9,459.7L559.3,459.9L559.7,459.5L560.1,459.2L560.5,459.2L560.9,458.5L561.3,458.4L561.7,457.7L562.1,457L562.5,458L562.9,457.9L563.3,458.1L563.7,458.8L564.1,459.2L564.5,459.2L564.9,458.9L565.3,459L565.7,460.4L566.1,459.5L566.5,454.7L566.9,451.4L567.3,459.6L567.7,466.8L568.1,464L568.5,459L568.9,458.1L569.3,457.7L569.7,458.3L570.1,458.2L570.5,458L570.9,457.7L571.3,457.4L571.7,456.2L572.1,456.1L572.5,455.6L572.9,455.7L573.3,455.7L573.7,456L574.1,456.1L574.5,456.1L574.9,456.5L575.3,457.2L575.7,457.1L576.1,458L576.5,458L576.9,457.9L577.3,458.5L577.7,457.8L578.1,458.3L578.5,458.2L578.9,457.6L579.3,457L579.7,456.7L580.1,456.5L580.5,456.7L580.9,457.1L581.3,456.7L581.7,457.7L582.1,457.7L582.5,458L582.9,458.9L583.3,458.2L583.7,458.7L584.1,460.2L584.5,460.6L584.9,457.9L585.3,450.2L585.7,453.9L586.1,461.7L586.5,464.4L586.9,460.7L587.3,458.2L587.7,458.3L588.1,457.8L588.5,458.3L588.9,457.6L589.3,457.3L589.7,457.3L590.1,456.3L590.5,455.8L590.9,455.3L591.3,454.9L591.7,454.9L592.1,455.2L592.5,455L592.9,455.1L593.3,456L593.7,456.5L594.1,457.2L594.5,456.8L594.9,457.3L595.3,457.2L595.7,457.3L596.1,457.1L596.5,457.3L596.9,457.5L597.3,457.4L597.7,456.5L598.1,456.2L598.5,456.5L598.9,456.2L599.3,457L599.7,457.2L600.1,458.4L600.5,458L600.9,458.4L601.3,459L601.7,458.7L602.1,459.3L602.5,459.8L602.9,459.2L603.3,452.1L603.7,452.2L604.1,460.5L604.5,465.3L604.9,461.9L605.3,459L605.7,458.6L606.1,458.5L606.5,458.4L606.9,458.2L607.3,458.4L607.7,457.1L608.1,456.9L608.5,457.2L608.9,456L609.3,456.3L609.7,455.7L610.1,455.9L610.5,455.7L610.9,456L611.3,456.4L611.7,456.7L612.1,457.2L612.5,458.1L612.9,458.3L613.3,458.1L613.7,458.8L614.1,458.6L614.5,458.4L614.9,458.1L615.3,458.1L615.7,457.1L616.1,456.9L616.5,457.1L616.9,456.8L617.3,456.8L617.7,457.7L618.1,457.9L618.5,458.5L618.9,458.9L619.3,459.2L619.7,459.1L620.1,460.2L620.5,461.3L620.9,459.3L621.3,452.2L621.7,452.5L622.1,461.1L622.5,464.6L622.9,461.3L623.3,459.4L623.7,458.4L624.1,458L624.5,458.8L624.9,459.1L625.3,457.9L625.7,457.8L626.1,458.2L626.5,456.6L626.9,456.3L627.3,455.9L627.7,456.1L628.1,456.3L628.5,455.6L628.9,456.8L629.3,456.5L629.7,457.8L630.1,457.9L630.5,458.3L630.9,458.7L631.3,458.8L631.7,459.6L632.1,459L632.5,459L632.9,459L633.3,458.4L633.7,458.1L634.1,457.8L634.5,457.6L634.9,457.5L635.3,457.8L635.7,457.7L636.1,457.7L636.5,458.2L636.9,458.3L637.3,458.1L637.7,458L638.1,458.1L638.5,458.4L638.9,458.2L639.3,454.9L639.7,448.7L640.1,454.7L640.5,460.9L640.9,461.4L641.3,458.7L641.7,458L642.1,458L642.5,457.1L642.9,457.2L643.3,457.5L643.7,456.9L644.1,456.9L644.5,456.3L644.9,456.1L645.3,455.6L645.7,454.6L646.1,454.5L646.5,454.9L646.9,455.3L647.3,456L647.7,456.7L648.1,456.5L648.5,457.4L648.9,457.9L649.3,457.8L649.7,458.4L650.1,457.9L650.5,457.9L650.9,458.5L651.3,458.3L651.7,458L652.1,457.7L652.5,456.9L652.9,456.6L653.3,456.5L653.7,457.3L654.1,457.5L654.5,458.2L654.9,458.3L655.3,458.1L655.7,458.7L656.1,458L656.5,458.9L656.9,459.7L657.3,459.4L657.7,455.3L658.1,451L658.5,458.5L658.9,464.8L659.3,463.4L659.7,459.4L660.1,458.9L660.5,458.7L660.9,457.6L661.3,457.6L661.7,457.8L662.1,458.1L662.5,457.5L662.9,456.7L663.3,456.9L663.7,456L664.1,456L664.5,455.8L664.9,455.9L665.3,455.9L665.7,455.7L666.1,456.6L666.5,456.7L666.9,457L667.3,457.8L667.7,457.1L668.1,457.4L668.5,457.1L668.9,458.1L669.3,457.3L669.7,457.2L670.1,456.4L670.5,456.3L670.9,456L671.3,455.2L671.7,455.5L672.1,456.3L672.5,456.2L672.9,456.2L673.3,457.2L673.7,457.7L674.1,457.8L674.5,457.7L674.9,458.2L675.3,459L675.7,458.6L676.1,452.5L676.5,447.1L676.9,456.4L677.3,463.9L677.7,462.3L678.1,457.5L678.5,457.6L678.9,457.7L679.3,456.9L679.7,456.9L680.1,456.3L680.5,456L680.9,456L681.3,455.3L681.7,455.4L682.1,454.7L682.5,454.3L682.9,454L683.3,453.8L683.7,454.5L684.1,454.8L684.5,455.7L684.9,456.1L685.3,456.9L685.7,456.9L686.1,457.8L686.5,457.7L686.9,458.1L687.3,458.5L687.7,458.2L688.1,457.4L688.5,457.5L688.9,456.1L689.3,456.3L689.7,455.6L690.1,455.8L690.5,456.8L690.9,457.3L691.3,457.7L691.7,458.2L692.1,458L692.5,458.2L692.9,458.9L693.3,459L693.7,460.3L694.1,458.2L694.5,452.2L694.9,453.7L695.3,461.3L695.7,464.5L696.1,461.6L696.5,458.9L696.9,458.2L697.3,458.4L697.7,458.5L698.1,458.1L698.5,458.3L698.9,457.4L699.3,456.6L699.7,456L700.1,456L700.5,455.6L700.9,456.1L701.3,455.8L701.7,455.5L702.1,456.7L702.5,456.3L702.9,457.2L703.3,457.7L703.7,457.8L704.1,458.6L704.5,457.9L704.9,458.2L705.3,458.3L705.7,458.1" fill="none" stroke="#3f8f47" stroke-width="0.9" stroke-linejoin="round"/>
<path d="M162.5,484.1L162.9,484.8L163.3,485.5L163.7,485.5L164.1,486.6L164.5,486.9L164.9,487L165.3,486.6L165.7,487.4L166.1,487.3L166.5,487.2L166.9,486.7L167.3,486.3L167.7,485.7L168.1,485L168.5,485.3L168.9,485.3L169.3,485.5L169.7,485.5L170.1,486.2L170.5,486.1L170.9,486.7L171.3,487.6L171.7,486.9L172.1,486.7L172.5,487.5L172.9,488.3L173.3,485.1L173.7,479L174.1,483.9L174.5,488.5L174.9,489.1L175.3,486.7L175.7,486.8L176.1,486.4L176.5,486.5L176.9,486L177.3,486L177.7,485.9L178.1,484.9L178.5,484L178.9,484L179.3,483.8L179.7,483.3L180.1,483.5L180.5,483.6L180.9,483.8L181.3,484L181.7,485.1L182.1,485.6L182.5,485.9L182.9,486.6L183.3,486.7L183.7,486.9L184.1,487.8L184.5,487.4L184.9,486.7L185.3,486.2L185.7,485.6L186.1,485.1L186.5,485.2L186.9,484.4L187.3,485.2L187.7,485.5L188.1,486L188.5,486.9L188.9,486.5L189.3,487L189.7,487.1L190.1,486.6L190.5,487.9L190.9,488.5L191.3,488.1L191.7,483.8L192.1,479.7L192.5,486.8L192.9,490.6L193.3,489.3L193.7,486.9L194.1,486.5L194.5,486.3L194.9,486.5L195.3,486.4L195.7,485.8L196.1,485.7L196.5,486.1L196.9,485.6L197.3,485.5L197.7,485L198.1,483.9L198.5,483.6L198.9,484.5L199.3,484L199.7,484.7L200.1,485.5L200.5,485.7L200.9,486.4L201.3,486.9L201.7,486.6L202.1,487.3L202.5,487.1L202.9,487L203.3,486.9L203.7,486.8L204.1,485.9L204.5,485.8L204.9,484.9L205.3,485.4L205.7,484.6L206.1,485.1L206.5,485.5L206.9,486.2L207.3,486.6L207.7,486.2L208.1,486.6L208.5,486L208.9,486.3L209.3,488L209.7,487.5L210.1,484.9L210.5,477.1L210.9,482.1L211.3,487.4L211.7,488L212.1,486.1L212.5,485.8L212.9,485.9L213.3,485.4L213.7,485.7L214.1,485.5L214.5,485.4L214.9,485.1L215.3,485.6L215.7,484.5L216.1,484L216.5,483.8L216.9,483.6L217.3,483.2L217.7,483.9L218.1,484.5L218.5,485.6L218.9,485.9L219.3,485.8L219.7,486.7L220.1,486.6L220.5,486.5L220.9,486.7L221.3,486.5L221.7,486.4L222.1,486.8L222.5,486.4L222.9,486L223.3,485.8L223.7,485.3L224.1,485.3L224.5,485.8L224.9,486.4L225.3,486.4L225.7,486.6L226.1,487.1L226.5,486.9L226.9,487.2L227.3,487.9L227.7,487.5L228.1,483.7L228.5,479.3L228.9,486.6L229.3,492.1L229.7,491L230.1,488L230.5,486.6L230.9,486.4L231.3,486.5L231.7,486.5L232.1,486.6L232.5,486.4L232.9,486.3L233.3,486.1L233.7,485.3L234.1,484.7L234.5,484.1L234.9,484.4L235.3,484.7L235.7,484.6L236.1,485.3L236.5,485.5L236.9,485.9L237.3,486.1L237.7,487.1L238.1,486.2L238.5,486.8L238.9,487.4L239.3,487.4L239.7,486.9L240.1,486.5L240.5,486.2L240.9,485.8L241.3,485.3L241.7,486L242.1,485.5L242.5,486.4L242.9,487.2L243.3,487.5L243.7,488.2L244.1,488.3L244.5,487.7L244.9,487.7L245.3,489.2L245.7,489.9L246.1,488.3L246.5,483.2L246.9,481.5L247.3,488.3L247.7,491L248.1,489.6L248.5,488.2L248.9,488.2L249.3,487.5L249.7,487.4L250.1,487L250.5,486.7L250.9,487.4L251.3,486.9L251.7,485.9L252.1,485.5L252.5,484.7L252.9,484.5L253.3,484.9L253.7,485L254.1,485.6L254.5,485.4L254.9,486.4L255.3,487L255.7,487L256.1,487.2L256.5,487L256.9,487.1L257.3,487.2L257.7,487.2L258.1,487.1L258.5,487.6L258.9,486.4L259.3,486.3L259.7,486.5L260.1,485.7L260.5,485.6L260.9,486.4L261.3,486.7L261.7,487.5L262.1,487.6L262.5,488.5L262.9,487.8L263.3,487.9L263.7,488.2L264.1,489.2L264.5,488L264.9,483.4L265.3,479.8L265.7,486.7L266.1,490.2L266.5,490.1L266.9,488.7L267.3,488.7L267.7,488.6L268.1,488.4L268.5,488.2L268.9,488.4L269.3,487.9L269.7,487.8L270.1,486.9L270.5,485.8L270.9,486L271.3,485.2L271.7,485.5L272.1,485.3L272.5,486.1L272.9,486L273.3,486.8L273.7,486.6L274.1,487.1L274.5,487.9L274.9,487.9L275.3,487.8L275.7,487.5L276.1,487.8L276.5,488.3L276.9,487.4L277.3,487.5L277.7,486.6L278.1,485.6L278.5,485.5L278.9,486.5L279.3,485.8L279.7,486.6L280.1,486.2L280.5,486.8L280.9,487.1L281.3,486.5L281.7,486.3L282.1,487.4L282.5,488.1L282.9,489.1L283.3,484.7L283.7,478L284.1,485L284.5,490.6L284.9,491.3L285.3,487.3L285.7,486.8L286.1,486.3L286.5,486.9L286.9,486.6L287.3,485.9L287.7,485.8L288.1,486.1L288.5,485.6L288.9,485.3L289.3,484.8L289.7,484.4L290.1,484.5L290.5,483.7L290.9,483.6L291.3,483.8L291.7,484.3L292.1,485.3L292.5,485.7L292.9,486.9L293.3,486.3L293.7,486.7L294.1,486.1L294.5,487L294.9,487.4L295.3,486.8L295.7,486.2L296.1,485.6L296.5,485.6L296.9,484.6L297.3,484.4L297.7,484.4L298.1,485.3L298.5,485.7L298.9,486.5L299.3,486.8L299.7,487L300.1,487.2L300.5,487.1L300.9,488.7L301.3,487.8L301.7,484L302.1,477.8L302.5,485L302.9,491.1L303.3,491.1L303.7,487.7L304.1,487.1L304.5,487.3L304.9,487.4L305.3,486.6L305.7,486.3L306.1,486L306.5,486.1L306.9,485.1L307.3,485.1L307.7,484.8L308.1,484.4L308.5,484L308.9,484L309.3,483.9L309.7,484.7L310.1,485.6L310.5,485.7L310.9,486.3L311.3,487.5L311.7,487.2L312.1,487.2L312.5,487.6L312.9,487L313.3,487.2L313.7,486.6L314.1,487L314.5,486.1L314.9,485.5L315.3,485.2L315.7,485.6L316.1,485.6L316.5,486L316.9,485.9L317.3,486.8L317.7,486.7L318.1,487L318.5,487.1L318.9,487.8L319.3,488.5L319.7,489.2L320.1,487.6L320.5,480.8L320.9,482.5L321.3,489L321.7,490.9L322.1,489.4L322.5,487.8L322.9,487.2L323.3,488.2L323.7,487.9L324.1,487.6L324.5,487.7L324.9,487.2L325.3,486.5L325.7,486.2L326.1,485.3L326.5,485L326.9,485.1L327.3,484.2L327.7,484.7L328.1,484.6L328.5,486.1L328.9,486.4L329.3,487L329.7,486.7L330.1,488.1L330.5,487.9L330.9,488.6L331.3,488.7L331.7,488.7L332.1,487.8L332.5,487.6L332.9,487.8L333.3,486.7L333.7,486.5L334.1,486.1L334.5,486.4L334.9,487.4L335.3,487.5L335.7,488.2L336.1,488.6L336.5,488.8L336.9,488.9L337.3,488.5L337.7,488.9L338.1,488.9L338.5,484.1L338.9,477.4L339.3,484.6L339.7,491.5L340.1,491.3L340.5,488L340.9,486.7L341.3,486.3L341.7,486.9L342.1,486.2L342.5,486L342.9,485.9L343.3,484.4L343.7,484.4L344.1,483.9L344.5,484L344.9,483.7L345.3,482.7L345.7,482.7L346.1,483.1L346.5,483.2L346.9,483.8L347.3,484.5L347.7,485.5L348.1,485.4L348.5,486.3L348.9,486.4L349.3,486.4L349.7,486.1L350.1,486.4L350.5,485.7L350.9,485.8L351.3,485.4L351.7,485.2L352.1,485L352.5,485.2L352.9,486L353.3,485.5L353.7,486.7L354.1,486.8L354.5,486.8L354.9,487.6L355.3,487.6L355.7,487.8L356.1,489.2L356.5,488L356.9,483L357.3,480.9L357.7,487.1L358.1,490.9L358.5,489.7L358.9,488.3L359.3,487.7L359.7,488.3L360.1,487.5L360.5,487.3L360.9,486.9L361.3,486.9L361.7,486.3L362.1,486L362.5,485.4L362.9,485.2L363.3,485L363.7,484.8L364.1,484.3L364.5,484.5L364.9,485.5L365.3,485.6L365.7,485.7L366.1,486L366.5,486.2L366.9,487L367.3,487.2L367.7,488L368.1,487.3L368.5,487.2L368.9,487.2L369.3,486.4L369.7,486.3L370.1,485.2L370.5,484.7L370.9,485.3L371.3,485.2L371.7,486.3L372.1,487.2L372.5,487.7L372.9,486.8L373.3,486.7L373.7,487.5L374.1,487.6L374.5,488.3L374.9,486.2L375.3,477.9L375.7,482.7L376.1,491.1L376.5,493.2L376.9,489.1L377.3,487.2L377.7,486.8L378.1,487.1L378.5,486.7L378.9,486.5L379.3,486L379.7,486.3L380.1,485.7L380.5,485.2L380.9,484.4L381.3,484.3L381.7,484.3L382.1,484.4L382.5,484.6L382.9,484.8L383.3,486L383.7,486.4L384.1,486.7L384.5,487.3L384.9,487.5L385.3,488.2L385.7,487.7L386.1,488.2L386.5,487.7L386.9,487.4L387.3,488.2L387.7,487.4L388.1,487.4L388.5,486.8L388.9,486.9L389.3,486.8L389.7,487.6L390.1,488.1L390.5,488.7L390.9,488.8L391.3,488.7L391.7,489L392.1,489L392.5,489.9L392.9,490.5L393.3,490.1L393.7,487.1L394.1,480.4L394.5,485.5L394.9,491.6L395.3,492.8L395.7,489.8L396.1,487.9L396.5,488.2L396.9,488.1L397.3,487.8L397.7,487.3L398.1,486.2L398.5,486.6L398.9,486L399.3,485.4L399.7,484.9L400.1,484.5L400.5,485L400.9,484.7L401.3,485.4L401.7,486.1L402.1,486.8L402.5,487.3L402.9,487.5L403.3,487.6L403.7,488.8L404.1,488.4L404.5,489L404.9,488.7L405.3,488L405.7,487.5L406.1,487.2L406.5,486.4L406.9,486.3L407.3,485.9L407.7,486.5L408.1,486.6L408.5,487.4L408.9,487.3L409.3,488L409.7,488.3L410.1,488L410.5,488.8L410.9,489.4L411.3,489.4L411.7,487.4L412.1,480.1L412.5,484.3L412.9,489.3L413.3,489.9L413.7,488.6L414.1,488L414.5,487.3L414.9,487.7L415.3,488.1L415.7,487.9L416.1,486.8L416.5,486.6L416.9,486.1L417.3,485.5L417.7,484.5L418.1,484L418.5,483.5L418.9,483.5L419.3,483.8L419.7,484.5L420.1,485.3L420.5,485.7L420.9,486.5L421.3,485.8L421.7,486.5L422.1,486.3L422.5,486.7L422.9,486.8L423.3,486.4L423.7,486.6L424.1,485.4L424.5,485L424.9,485.4L425.3,484.8L425.7,485L426.1,485L426.5,485.2L426.9,485.2L427.3,485.8L427.7,486L428.1,486.3L428.5,487.4L428.9,487.6L429.3,488.6L429.7,488.4L430.1,486.1L430.5,479.2L430.9,483L431.3,488.1L431.7,489.4L432.1,486.9L432.5,486.2L432.9,487.3L433.3,487.4L433.7,486.6L434.1,486L434.5,486.5L434.9,486.2L435.3,486.3L435.7,485.9L436.1,485.3L436.5,484.5L436.9,484.7L437.3,484L437.7,484.7L438.1,485.2L438.5,485.7L438.9,485.6L439.3,486.6L439.7,487.1L440.1,487.2L440.5,487.8L440.9,488.2L441.3,488.7L441.7,488L442.1,488.2L442.5,488L442.9,487.7L443.3,487.2L443.7,486.7L444.1,486.6L444.5,486.2L444.9,487.2L445.3,487.9L445.7,487.7L446.1,488L446.5,488.4L446.9,488.8L447.3,489.1L447.7,489L448.1,490.3L448.5,489.7L448.9,485.3L449.3,480.9L449.7,487.8L450.1,492.1L450.5,491.3L450.9,488.2L451.3,487.5L451.7,487.1L452.1,487.7L452.5,487.1L452.9,487.3L453.3,486.9L453.7,485.8L454.1,485.5L454.5,485.4L454.9,484.4L455.3,484.9L455.7,484.2L456.1,484.5L456.5,485L456.9,485.6L457.3,486.5L457.7,486.5L458.1,487.1L458.5,487.5L458.9,487.7L459.3,487.8L459.7,487.1L460.1,487.6L460.5,487.6L460.9,486.8L461.3,486.9L461.7,485.8L462.1,486L462.5,486.3L462.9,486.1L463.3,486.6L463.7,486.4L464.1,487.6L464.5,487.8L464.9,488L465.3,488L465.7,487.6L466.1,488.4L466.5,489.1L466.9,487.8L467.3,482.5L467.7,482.7L468.1,489.6L468.5,492L468.9,490.1L469.3,488.2L469.7,487.5L470.1,488.1L470.5,486.8L470.9,486.7L471.3,486.8L471.7,486.1L472.1,486.3L472.5,485.1L472.9,484.9L473.3,484.6L473.7,484.2L474.1,483.8L474.5,483.8L474.9,484.7L475.3,484.9L475.7,484.6L476.1,485L476.5,486.1L476.9,485.7L477.3,486.8L477.7,486.8L478.1,486.6L478.5,486L478.9,486.4L479.3,486.4L479.7,485.2L480.1,484.6L480.5,484.7L480.9,484.8L481.3,485L481.7,485.5L482.1,485.8L482.5,486.2L482.9,486.4L483.3,486.8L483.7,486.9L484.1,487.2L484.5,488.1L484.9,489L485.3,488.2L485.7,482.3L486.1,477.9L486.5,486.1L486.9,491.6L487.3,490.8L487.7,487.7L488.1,487.4L488.5,487.1L488.9,487L489.3,486.9L489.7,486.4L490.1,486.3L490.5,486L490.9,485.2L491.3,484.3L491.7,483.8L492.1,483.5L492.5,483.4L492.9,483.1L493.3,483.9L493.7,484.4L494.1,485.2L494.5,485.5L494.9,486L495.3,485.8L495.7,486.3L496.1,486.4L496.5,486.6L496.9,486.1L497.3,486.2L497.7,484.9L498.1,485.4L498.5,485L498.9,483.9L499.3,484.4L499.7,484.4L500.1,484.1L500.5,485.2L500.9,485.3L501.3,484.6L501.7,485.8L502.1,485.5L502.5,485.9L502.9,486.7L503.3,486.6L503.7,485L504.1,477.1L504.5,480.3L504.9,486.9L505.3,488.9L505.7,487.2L506.1,485.8L506.5,485.3L506.9,485.1L507.3,485.3L507.7,484.8L508.1,483.9L508.5,483.7L508.9,483.2L509.3,483.6L509.7,482.6L510.1,482.9L510.5,482.4L510.9,481.9L511.3,482.9L511.7,483.6L512.1,484.5L512.5,484.7L512.9,485L513.3,485.2L513.7,485.4L514.1,486.1L514.5,486.2L514.9,486.4L515.3,486.8L515.7,487.1L516.1,486.2L516.5,485.8L516.9,485.3L517.3,484.9L517.7,485.7L518.1,485.7L518.5,486.8L518.9,487.2L519.3,487.2L519.7,487.9L520.1,487.2L520.5,487.5L520.9,487.4L521.3,489L521.7,488.3L522.1,484.8L522.5,478.7L522.9,486.1L523.3,491.5L523.7,490.9L524.1,487.5L524.5,488L524.9,487.8L525.3,487.9L525.7,488.1L526.1,487.5L526.5,487.4L526.9,486.9L527.3,486.3L527.7,485.3L528.1,484.9L528.5,484.9L528.9,483.9L529.3,484.7L529.7,485L530.1,485.2L530.5,486L530.9,486L531.3,486.6L531.7,486.2L532.1,486.6L532.5,486.7L532.9,486.8L533.3,486.3L533.7,487.1L534.1,486.3L534.5,485.8L534.9,486L535.3,484.9L535.7,484.3L536.1,485.1L536.5,484.6L536.9,485.3L537.3,485.9L537.7,486.2L538.1,487.5L538.5,487.2L538.9,487.5L539.3,487.1L539.7,487.8L540.1,488.8L540.5,485.3L540.9,479.6L541.3,483.3L541.7,490.1L542.1,491.3L542.5,488.2L542.9,486.8L543.3,486.1L543.7,486.4L544.1,485.6L544.5,485.8L544.9,485.3L545.3,484.8L545.7,485.3L546.1,484.7L546.5,483.8L546.9,484.1L547.3,484L547.7,483.4L548.1,484.5L548.5,484L548.9,485.3L549.3,485.4L549.7,486.5L550.1,486.3L550.5,486.8L550.9,486.8L551.3,487.4L551.7,487L552.1,486.6L552.5,486.3L552.9,485.7L553.3,485.1L553.7,484.7L554.1,484.9L554.5,484.8L554.9,485.7L555.3,485.5L555.7,486.9L556.1,486.3L556.5,487.1L556.9,487.2L557.3,488.1L557.7,488.8L558.1,489.1L558.5,485.2L558.9,479.5L559.3,485.6L559.7,490.4L560.1,490.9L560.5,488.4L560.9,489.1L561.3,488L561.7,488.3L562.1,487.6L562.5,487.2L562.9,486.9L563.3,485.9L563.7,485.9L564.1,485.2L564.5,484.1L564.9,483.6L565.3,483.8L565.7,484.6L566.1,484.1L566.5,484.8L566.9,485.6L567.3,485.7L567.7,487.1L568.1,486.9L568.5,487.7L568.9,488.3L569.3,487.6L569.7,487.8L570.1,487.9L570.5,487.4L570.9,487.8L571.3,487.2L571.7,487L572.1,486.6L572.5,485.4L572.9,485.5L573.3,485.7L573.7,486.1L574.1,487.5L574.5,487.4L574.9,487.9L575.3,488.3L575.7,488.4L576.1,489.2L576.5,489.9L576.9,489.6L577.3,483.4L577.7,478.8L578.1,487.7L578.5,492.3L578.9,491.8L579.3,489.4L579.7,488.7L580.1,488.9L580.5,488.7L580.9,488.7L581.3,487.8L581.7,487.8L582.1,487L582.5,486.8L582.9,486.5L583.3,486.3L583.7,485.3L584.1,485.3L584.5,485.6L584.9,485.9L585.3,486.3L585.7,487.1L586.1,487.2L586.5,488.1L586.9,488.3L587.3,488.8L587.7,489.5L588.1,489L588.5,488.9L588.9,488.8L589.3,488.8L589.7,488.5L590.1,487.6L590.5,486.8L590.9,487L591.3,486.7L591.7,487.2L592.1,487.1L592.5,487.1L592.9,488.1L593.3,488.1L593.7,488.7L594.1,488.2L594.5,489.1L594.9,489.6L595.3,488L595.7,481.7L596.1,480.7L596.5,488.4L596.9,490.1L597.3,488.7L597.7,487.1L598.1,486.8L598.5,486.6L598.9,486.2L599.3,485.9L599.7,485.8L600.1,484.7L600.5,484.2L600.9,483.6L601.3,483.2L601.7,483.4L602.1,483.8L602.5,483.2L602.9,484.4L603.3,484.8L603.7,485.5L604.1,484.9L604.5,486.1L604.9,486.3L605.3,487L605.7,486.4L606.1,486.8L606.5,487L606.9,487L607.3,486.5L607.7,486.8L608.1,486.3L608.5,486.2L608.9,485.7L609.3,485.5L609.7,486.2L610.1,486.6L610.5,487.4L610.9,487.9L611.3,488L611.7,488.4L612.1,489L612.5,488.5L612.9,489.2L613.3,490.1L613.7,487.8L614.1,480L614.5,484.3L614.9,491.7L615.3,492.3L615.7,489.4L616.1,488.2L616.5,488.8L616.9,488.5L617.3,487.9L617.7,487.6L618.1,487.7L618.5,486.5L618.9,486L619.3,485.9L619.7,485L620.1,483.8L620.5,484.3L620.9,484.4L621.3,484.3L621.7,484L622.1,485.2L622.5,485.3L622.9,485.7L623.3,486.3L623.7,486.8L624.1,486.5L624.5,486.8L624.9,487.8L625.3,487.8L625.7,487.3L626.1,486.6L626.5,485.9L626.9,485.3L627.3,485.2L627.7,486L628.1,486L628.5,486.7L628.9,486.7L629.3,487.5L629.7,487.6L630.1,487.9L630.5,487.6L630.9,488.6L631.3,489.4L631.7,488.7L632.1,485.4L632.5,478.8L632.9,485.2L633.3,491L633.7,490.5L634.1,488.3L634.5,487.6L634.9,487.9L635.3,487.8L635.7,487.7L636.1,486.9L636.5,486.1L636.9,486.3L637.3,485.7L637.7,485.1L638.1,484.2L638.5,483.1L638.9,483.6L639.3,482.9L639.7,483.1L640.1,484L640.5,483.9L640.9,484.4L641.3,484.4L641.7,485.1L642.1,485.9L642.5,486.3L642.9,485.7L643.3,485.6L643.7,486.2L644.1,486.3L644.5,485.7L644.9,485.7L645.3,485.3L645.7,484.9L646.1,484.4L646.5,484.3L646.9,484.7L647.3,485.1L647.7,485.6L648.1,485.6L648.5,485.9L648.9,486.2L649.3,485.9L649.7,487.4L650.1,487.8L650.5,484.9L650.9,477.5L651.3,481.7L651.7,487.7L652.1,489.6L652.5,486.9L652.9,485.7L653.3,485.2L653.7,485.7L654.1,485.9L654.5,486L654.9,485.9L655.3,485.3L655.7,485.6L656.1,484.9L656.5,484.1L656.9,483.7L657.3,482.9L657.7,483.3L658.1,482.9L658.5,484.1L658.9,484.2L659.3,484.7L659.7,485.1L660.1,485.4L660.5,486.3L660.9,485.9L661.3,486.6L661.7,485.8L662.1,486.4L662.5,486L662.9,486.5L663.3,486.7L663.7,486.3L664.1,486.2L664.5,486.2L664.9,485.7L665.3,486.9L665.7,487L666.1,487.1L666.5,488.1L666.9,488.1L667.3,488.2L667.7,488.5L668.1,489.8L668.5,489.9L668.9,487.7L669.3,480.5L669.7,483.9L670.1,491.6L670.5,494.2L670.9,490.6L671.3,489.5L671.7,489.1L672.1,488.8L672.5,488.7L672.9,488.4L673.3,488.7L673.7,487.7L674.1,487.6L674.5,486.2L674.9,486.3L675.3,485.1L675.7,485L676.1,484.7L676.5,485.3L676.9,485.3L677.3,486.3L677.7,486.1L678.1,486.5L678.5,487L678.9,487.1L679.3,487.7L679.7,488.3L680.1,488.3L680.5,488.6L680.9,488.5L681.3,488.2L681.7,487.9L682.1,486.6L682.5,486.6L682.9,486.4L683.3,486.2L683.7,486.6L684.1,487.4L684.5,487L684.9,487.3L685.3,487.6L685.7,488.1L686.1,488.2L686.5,488.6L686.9,488.9L687.3,487.7L687.7,483L688.1,480.4L688.5,487.6L688.9,492.3L689.3,490.3L689.7,487.7L690.1,487.4L690.5,487.6L690.9,487.7L691.3,486.8L691.7,486.2L692.1,486.3L692.5,485.8L692.9,485.8L693.3,484.3L693.7,483.6L694.1,484.2L694.5,483.9L694.9,484.4L695.3,484.1L695.7,484.2L696.1,485.7L696.5,485.2L696.9,486L697.3,486.5L697.7,486.1L698.1,486.9L698.5,486.8L698.9,486.2L699.3,486L699.7,485.3L700.1,485.5L700.5,485.4L700.9,484.8L701.3,484.6L701.7,486L702.1,486.5L702.5,486.4L702.9,486.6L703.3,487.5L703.7,487.1L704.1,487.5L704.5,488.8L704.9,489.2L705.3,487.9L705.7,480.7" fill="none" stroke="#dd3fb0" stroke-width="0.9" stroke-linejoin="round"/>
<path d="M162.5,516.6L162.9,516.6L163.3,516L163.7,516.6L164.1,516.2L164.5,515.9L164.9,515.9L165.3,515.5L165.7,514.3L166.1,514.1L166.5,513.7L166.9,514.1L167.3,513.9L167.7,514.7L168.1,515.1L168.5,515L168.9,515.4L169.3,516L169.7,516.8L170.1,516.2L170.5,517.2L170.9,516.7L171.3,516.7L171.7,516.9L172.1,516.4L172.5,515.3L172.9,514.8L173.3,515.3L173.7,515.5L174.1,515.9L174.5,515.8L174.9,516.1L175.3,516.9L175.7,517.1L176.1,517.1L176.5,516.9L176.9,517.7L177.3,517.9L177.7,513.9L178.1,507.2L178.5,513.8L178.9,520.8L179.3,522.1L179.7,518.6L180.1,517.3L180.5,516.8L180.9,517.7L181.3,516.4L181.7,517.1L182.1,516.2L182.5,516.1L182.9,515.2L183.3,514.2L183.7,513.7L184.1,514L184.5,513.3L184.9,513.8L185.3,513.7L185.7,514.4L186.1,514.8L186.5,515.7L186.9,515.4L187.3,515.6L187.7,515.8L188.1,515.9L188.5,516.1L188.9,517L189.3,517.3L189.7,516.3L190.1,516.2L190.5,515.5L190.9,515.7L191.3,515.1L191.7,514.5L192.1,514.9L192.5,515.3L192.9,515.1L193.3,515.2L193.7,516L194.1,517L194.5,516.3L194.9,517.4L195.3,517.4L195.7,518.1L196.1,518.6L196.5,517.9L196.9,512.3L197.3,513.3L197.7,519.4L198.1,521.7L198.5,519.4L198.9,518.4L199.3,517.4L199.7,517.4L200.1,517.8L200.5,517.4L200.9,516.4L201.3,516.7L201.7,515.7L202.1,514.8L202.5,514.9L202.9,513.8L203.3,514.4L203.7,513.9L204.1,515L204.5,514.7L204.9,515.1L205.3,515.8L205.7,516.2L206.1,516.2L206.5,517.3L206.9,517.4L207.3,517.3L207.7,517.7L208.1,517.4L208.5,516.8L208.9,517.1L209.3,516.5L209.7,516L210.1,516L210.5,515.7L210.9,515.9L211.3,516.1L211.7,516.1L212.1,516.2L212.5,517.5L212.9,518.1L213.3,517.4L213.7,517.1L214.1,517.9L214.5,519.1L214.9,518.6L215.3,514.5L215.7,509.5L216.1,516L216.5,522.8L216.9,522L217.3,517.7L217.7,517.3L218.1,517L218.5,516.7L218.9,517L219.3,516.4L219.7,516.6L220.1,515.3L220.5,514.2L220.9,513.7L221.3,513.1L221.7,512.9L222.1,513L222.5,512.5L222.9,513.1L223.3,513.5L223.7,513.9L224.1,514.3L224.5,515L224.9,515.1L225.3,515.2L225.7,515.4L226.1,515.2L226.5,515.3L226.9,514.8L227.3,514.7L227.7,514.7L228.1,514.7L228.5,514.6L228.9,514L229.3,513.9L229.7,514.6L230.1,515.2L230.5,515.4L230.9,516L231.3,516.2L231.7,516.3L232.1,516.6L232.5,517.4L232.9,517.8L233.3,515.8L233.7,509.1L234.1,508L234.5,517.8L234.9,522.7L235.3,519.1L235.7,516.4L236.1,515.7L236.5,515.6L236.9,515.8L237.3,515.6L237.7,515.1L238.1,515.4L238.5,514.4L238.9,514L239.3,513.9L239.7,513L240.1,513L240.5,512.6L240.9,513L241.3,513.3L241.7,513.7L242.1,514.2L242.5,514.1L242.9,515L243.3,515.3L243.7,515.3L244.1,515.2L244.5,515.4L244.9,515.3L245.3,515.2L245.7,515.1L246.1,515L246.5,514.5L246.9,514L247.3,513.5L247.7,513.5L248.1,513.9L248.5,514.6L248.9,514.9L249.3,515L249.7,515L250.1,515.3L250.5,514.9L250.9,515.5L251.3,516.7L251.7,517.6L252.1,514.7L252.5,508.1L252.9,510.4L253.3,517.9L253.7,520.8L254.1,517.2L254.5,516.2L254.9,515.9L255.3,515.1L255.7,515.7L256.1,515.5L256.5,515.4L256.9,515L257.3,514.2L257.7,514.4L258.1,513.8L258.5,513.9L258.9,513.2L259.3,513.5L259.7,513.7L260.1,514.6L260.5,514.4L260.9,514.9L261.3,515.3L261.7,516.2L262.1,516.7L262.5,516.9L262.9,516.7L263.3,516.6L263.7,517.4L264.1,517.2L264.5,517.2L264.9,516.1L265.3,515.5L265.7,515.2L266.1,514.8L266.5,514.7L266.9,515.3L267.3,515.2L267.7,515.1L268.1,515.4L268.5,515.3L268.9,516L269.3,515.5L269.7,516.4L270.1,516.9L270.5,516.5L270.9,511.4L271.3,506L271.7,514.4L272.1,519.7L272.5,518.8L272.9,515.9L273.3,516L273.7,515.6L274.1,515.2L274.5,515.6L274.9,514.3L275.3,514.7L275.7,513.7L276.1,514.1L276.5,513.3L276.9,512.5L277.3,512L277.7,511.5L278.1,511.5L278.5,512.2L278.9,512.2L279.3,512.4L279.7,512.9L280.1,513.1L280.5,513.7L280.9,514.6L281.3,514.7L281.7,515.2L282.1,514.7L282.5,514.7L282.9,514L283.3,513.6L283.7,512.9L284.1,513.3L284.5,512.5L284.9,512.8L285.3,512.8L285.7,513.9L286.1,514.2L286.5,514.6L286.9,514L287.3,514.1L287.7,514.7L288.1,515.2L288.5,516.4L288.9,515.8L289.3,513.3L289.7,505.7L290.1,512.4L290.5,518.5L290.9,519L291.3,515.8L291.7,515.2L292.1,515.7L292.5,515.6L292.9,515.4L293.3,514.5L293.7,514.2L294.1,513.9L294.5,514.4L294.9,514.3L295.3,513.8L295.7,513.2L296.1,513.9L296.5,513.7L296.9,513.6L297.3,513.9L297.7,514.7L298.1,515L298.5,515.8L298.9,515.6L299.3,516.3L299.7,516.3L300.1,515.9L300.5,516L300.9,515.9L301.3,516.4L301.7,515.2L302.1,515.3L302.5,515.3L302.9,514.5L303.3,515.2L303.7,514.9L304.1,515.7L304.5,516.3L304.9,516.6L305.3,516.6L305.7,517.4L306.1,516.7L306.5,517.3L306.9,518.5L307.3,518.6L307.7,515.1L308.1,507.9L308.5,513.3L308.9,519.9L309.3,520.1L309.7,517.4L310.1,517.7L310.5,517.7L310.9,517.7L311.3,517.1L311.7,516.8L312.1,516.3L312.5,515.7L312.9,515.9L313.3,514.9L313.7,514.6L314.1,514.2L314.5,513.6L314.9,514.1L315.3,514.4L315.7,514.4L316.1,515.2L316.5,516.2L316.9,516.2L317.3,516.3L317.7,517.1L318.1,516.6L318.5,517.6L318.9,516.7L319.3,516.8L319.7,516.5L320.1,516.6L320.5,516L320.9,515.5L321.3,515.3L321.7,515.1L322.1,514.9L322.5,514.7L322.9,515.8L323.3,515.6L323.7,515.9L324.1,516.8L324.5,516.9L324.9,516.8L325.3,517.1L325.7,517.5L326.1,517.9L326.5,514.8L326.9,506.2L327.3,513.1L327.7,521.7L328.1,523.5L328.5,518.4L328.9,517.2L329.3,517.2L329.7,516.8L330.1,516.9L330.5,516.6L330.9,516.1L331.3,516.7L331.7,516.1L332.1,515.8L332.5,514.7L332.9,514.6L333.3,514.2L333.7,514.8L334.1,514.6L334.5,514.8L334.9,514.9L335.3,515.5L335.7,515.9L336.1,516.8L336.5,516.2L336.9,516.8L337.3,516.4L337.7,516.3L338.1,516.6L338.5,516.1L338.9,516L339.3,515.3L339.7,515.3L340.1,515L340.5,515L340.9,515.2L341.3,515.4L341.7,515.5L342.1,516.6L342.5,516.6L342.9,516.5L343.3,516.4L343.7,517.8L344.1,518.6L344.5,517.7L344.9,514.8L345.3,508.1L345.7,514.8L346.1,522.8L346.5,523.9L346.9,519.2L347.3,517.4L347.7,516.6L348.1,516.3L348.5,516.4L348.9,516.4L349.3,515.5L349.7,515.5L350.1,514.9L350.5,514.4L350.9,513.9L351.3,513.2L351.7,513.7L352.1,513.8L352.5,513.6L352.9,513.8L353.3,513.9L353.7,513.7L354.1,514.7L354.5,515.3L354.9,515.8L355.3,515.9L355.7,516L356.1,516.8L356.5,516.5L356.9,515.9L357.3,515.8L357.7,515.2L358.1,514.6L358.5,514.1L358.9,513.7L359.3,514.4L359.7,514.8L360.1,514.7L360.5,515.9L360.9,516L361.3,515.5L361.7,516.1L362.1,516L362.5,516.7L362.9,517.8L363.3,516.5L363.7,508.7L364.1,505.6L364.5,515.3L364.9,518.3L365.3,517.4L365.7,515.6L366.1,515.4L366.5,515.2L366.9,514.9L367.3,514.9L367.7,514.6L368.1,514.4L368.5,513.9L368.9,513.8L369.3,513.6L369.7,513.2L370.1,512.6L370.5,512.9L370.9,512.8L371.3,513.7L371.7,513.8L372.1,514.4L372.5,514.5L372.9,514.4L373.3,515.1L373.7,515.5L374.1,515.1L374.5,515.5L374.9,515.5L375.3,516L375.7,516L376.1,515.5L376.5,515.1L376.9,514.7L377.3,513.8L377.7,514.6L378.1,514.1L378.5,514.9L378.9,514.8L379.3,515.2L379.7,515.4L380.1,516L380.5,515.6L380.9,516.3L381.3,516.8L381.7,517.8L382.1,516.7L382.5,512.6L382.9,509.5L383.3,516.3L383.7,521.5L384.1,521.1L384.5,516.9L384.9,515.8L385.3,515.6L385.7,516.1L386.1,516.6L386.5,516.6L386.9,515.6L387.3,515.2L387.7,514.1L388.1,514.2L388.5,513L388.9,512.6L389.3,512.4L389.7,513.4L390.1,512.6L390.5,514.1L390.9,513.9L391.3,515.1L391.7,514.9L392.1,516L392.5,515.6L392.9,516.1L393.3,516.5L393.7,516.1L394.1,516.8L394.5,515.9L394.9,515.2L395.3,514.6L395.7,514.5L396.1,514.1L396.5,513.7L396.9,514.1L397.3,514.3L397.7,514.7L398.1,514.9L398.5,516.1L398.9,515.9L399.3,516.4L399.7,516.5L400.1,516.8L400.5,517.2L400.9,514.1L401.3,507.1L401.7,511.8L402.1,519.9L402.5,521.9L402.9,518.3L403.3,516.5L403.7,516L404.1,516.2L404.5,516.6L404.9,516.5L405.3,516.3L405.7,515.2L406.1,515L406.5,514.5L406.9,513.8L407.3,513.7L407.7,513.4L408.1,513.7L408.5,514L408.9,514.6L409.3,515.4L409.7,515.5L410.1,515.6L410.5,515.8L410.9,516.3L411.3,516.5L411.7,516.7L412.1,516.2L412.5,516.5L412.9,516.2L413.3,516.4L413.7,516.6L414.1,515.9L414.5,514.8L414.9,514.4L415.3,515.2L415.7,515.3L416.1,516L416.5,516.2L416.9,516.3L417.3,516.4L417.7,517L418.1,516.4L418.5,517L418.9,517.7L419.3,517.7L419.7,511.4L420.1,505.2L420.5,515L420.9,519.9L421.3,518.8L421.7,516.4L422.1,515.6L422.5,516.3L422.9,515.9L423.3,516L423.7,515.7L424.1,515.6L424.5,515.2L424.9,515.2L425.3,514.5L425.7,513.8L426.1,512.9L426.5,513.3L426.9,513.6L427.3,513.4L427.7,513.8L428.1,514.6L428.5,514.7L428.9,515.2L429.3,516.1L429.7,516.4L430.1,516L430.5,516.3L430.9,516L431.3,515.8L431.7,515.4L432.1,514.9L432.5,514.9L432.9,514.5L433.3,514.8L433.7,515L434.1,514.7L434.5,515.8L434.9,515.8L435.3,516.1L435.7,516.3L436.1,516.7L436.5,517.2L436.9,517.1L437.3,518.5L437.7,517.7L438.1,512.6L438.5,509.7L438.9,516.4L439.3,520.4L439.7,519.4L440.1,516.9L440.5,516L440.9,515.6L441.3,515.7L441.7,514.8L442.1,515.1L442.5,514.5L442.9,514.2L443.3,513.4L443.7,512.9L444.1,512L444.5,512L444.9,512.3L445.3,511.7L445.7,512.1L446.1,512.5L446.5,513.1L446.9,514.4L447.3,514.5L447.7,515.1L448.1,514.6L448.5,515L448.9,515.8L449.3,516.4L449.7,515.9L450.1,515.6L450.5,514.2L450.9,513.8L451.3,513L451.7,513.3L452.1,513L452.5,513.1L452.9,513.5L453.3,514.7L453.7,515L454.1,514.5L454.5,515.4L454.9,516L455.3,516.9L455.7,517.9L456.1,516.1L456.5,509.1L456.9,508.7L457.3,516.9L457.7,521.1L458.1,517.2L458.5,515.7L458.9,515.3L459.3,514.3L459.7,514.4L460.1,514.5L460.5,514.7L460.9,514.6L461.3,513.6L461.7,513.7L462.1,512.3L462.5,512.5L462.9,512.5L463.3,512.8L463.7,512.2L464.1,512.3L464.5,513.4L464.9,513.9L465.3,514.3L465.7,515.3L466.1,515L466.5,515.1L466.9,514.9L467.3,516L467.7,515.7L468.1,515.7L468.5,515.3L468.9,515.2L469.3,514.8L469.7,513.5L470.1,513.6L470.5,514.1L470.9,513.8L471.3,514.8L471.7,515.5L472.1,515.6L472.5,515.9L472.9,515.8L473.3,515.9L473.7,516.1L474.1,518L474.5,517.2L474.9,513.3L475.3,508.5L475.7,515.3L476.1,518.9L476.5,518.9L476.9,517.1L477.3,516.3L477.7,516.4L478.1,515.9L478.5,516.1L478.9,516.1L479.3,515.6L479.7,515L480.1,515.5L480.5,514.4L480.9,514.4L481.3,514.1L481.7,513.8L482.1,513.9L482.5,514L482.9,514.7L483.3,514.7L483.7,515.8L484.1,515.4L484.5,516.2L484.9,515.9L485.3,515.4L485.7,516L486.1,516.2L486.5,515.3L486.9,515.1L487.3,515.5L487.7,514.2L488.1,514.8L488.5,513.9L488.9,514.2L489.3,514.1L489.7,514L490.1,513.4L490.5,514L490.9,514.5L491.3,515.1L491.7,514.6L492.1,515L492.5,515.3L492.9,515.3L493.3,515.9L493.7,514.2L494.1,508.1L494.5,509.3L494.9,516.1L495.3,517.7L495.7,516.4L496.1,515.2L496.5,514.3L496.9,514.2L497.3,514.6L497.7,514.7L498.1,514.2L498.5,513.8L498.9,513.6L499.3,512.7L499.7,512.3L500.1,511.3L500.5,511.3L500.9,511.5L501.3,512.2L501.7,512.3L502.1,512.5L502.5,514L502.9,513.7L503.3,514.9L503.7,514.6L504.1,515.3L504.5,515.6L504.9,515.9L505.3,515.7L505.7,514.9L506.1,514.8L506.5,514.2L506.9,514.2L507.3,513.1L507.7,513.2L508.1,513L508.5,513.9L508.9,514.1L509.3,515.3L509.7,515.1L510.1,515.3L510.5,515.3L510.9,514.6L511.3,515.3L511.7,516.3L512.1,515.3L512.5,506.9L512.9,506.7L513.3,516.5L513.7,520.6L514.1,517.8L514.5,515.1L514.9,515.3L515.3,514.3L515.7,514.8L516.1,513.7L516.5,513.9L516.9,514.2L517.3,513.3L517.7,513.2L518.1,512.4L518.5,512.4L518.9,512.4L519.3,512L519.7,512.6L520.1,512.8L520.5,512.7L520.9,513.8L521.3,513.5L521.7,514.1L522.1,514.3L522.5,515.2L522.9,515.5L523.3,515.2L523.7,515.4L524.1,515.2L524.5,515.1L524.9,514.7L525.3,514.9L525.7,514.1L526.1,513.3L526.5,514L526.9,514.3L527.3,515.3L527.7,515.7L528.1,515.7L528.5,516.4L528.9,516.7L529.3,516.2L529.7,516.3L530.1,517.7L530.5,517.4L530.9,512.3L531.3,506.9L531.7,515.6L532.1,521.8L532.5,520.1L532.9,516L533.3,515.1L533.7,514.9L534.1,515L534.5,515L534.9,515.2L535.3,515L535.7,514.7L536.1,513.8L536.5,514.4L536.9,513.3L537.3,513.1L537.7,513.9L538.1,513.5L538.5,513.6L538.9,514.2L539.3,515.8L539.7,515.9L540.1,516.7L540.5,516.8L540.9,517.1L541.3,517.1L541.7,517.3L542.1,517.1L542.5,516.4L542.9,515.9L543.3,515.6L543.7,515.5L544.1,515.4L544.5,514.3L544.9,514.9L545.3,514.7L545.7,515.3L546.1,515.4L546.5,515.7L546.9,515.8L547.3,516.6L547.7,516.3L548.1,517.3L548.5,517.8L548.9,518.2L549.3,513.2L549.7,505.8L550.1,515L550.5,521.5L550.9,521L551.3,517.4L551.7,516.3L552.1,516.1L552.5,515.3L552.9,515.8L553.3,515.3L553.7,514.5L554.1,513.8L554.5,513.4L554.9,513.9L555.3,513.2L555.7,512.9L556.1,512.5L556.5,512.8L556.9,513L557.3,513.4L557.7,514.1L558.1,514.7L558.5,515.1L558.9,515.6L559.3,515.6L559.7,515.8L560.1,515.5L560.5,516L560.9,515.8L561.3,515.8L561.7,515.9L562.1,516.1L562.5,515.5L562.9,514.8L563.3,515.2L563.7,514.8L564.1,514.9L564.5,514.9L564.9,516.4L565.3,515.9L565.7,516L566.1,516.1L566.5,515.8L566.9,516.8L567.3,517.5L567.7,516.8L568.1,514.8L568.5,504.9L568.9,511L569.3,519.6L569.7,522.4L570.1,518.3L570.5,515.8L570.9,516.5L571.3,516.7L571.7,516.1L572.1,516L572.5,515.3L572.9,514.9L573.3,513.9L573.7,514.3L574.1,513.8L574.5,512.8L574.9,512.5L575.3,513L575.7,512.8L576.1,512.6L576.5,512.8L576.9,513.4L577.3,514.3L577.7,513.6L578.1,514.8L578.5,515.1L578.9,514.9L579.3,515.5L579.7,515L580.1,515.2L580.5,514.5L580.9,513.9L581.3,513.5L581.7,512.8L582.1,512.8L582.5,512.6L582.9,513.2L583.3,514.3L583.7,514.5L584.1,514.4L584.5,515.1L584.9,514.8L585.3,515.3L585.7,515.8L586.1,516.2L586.5,512.8L586.9,505.5L587.3,510.8L587.7,519L588.1,520.3L588.5,516.4L588.9,515L589.3,514.8L589.7,515.1L590.1,514.2L590.5,513.9L590.9,513.6L591.3,512.9L591.7,512.9L592.1,512.8L592.5,512.3L592.9,511.2L593.3,511.5L593.7,511.7L594.1,512.3L594.5,513.1L594.9,512.8L595.3,513.2L595.7,514.3L596.1,514.2L596.5,515.2L596.9,514.7L597.3,515L597.7,515.3L598.1,515.6L598.5,515.5L598.9,514.9L599.3,514.3L599.7,514L600.1,513.6L600.5,514.2L600.9,513.9L601.3,514.5L601.7,514.6L602.1,515.5L602.5,515.7L602.9,515.5L603.3,516L603.7,515.7L604.1,516.1L604.5,517.5L604.9,515.8L605.3,511L605.7,509.3L606.1,517.2L606.5,522.8L606.9,520.6L607.3,516.5L607.7,515.8L608.1,515L608.5,515.5L608.9,515.7L609.3,515.7L609.7,515.2L610.1,514.6L610.5,514.2L610.9,514.2L611.3,513.1L611.7,513.4L612.1,513.5L612.5,513.8L612.9,513.4L613.3,514.7L613.7,514.8L614.1,514.3L614.5,515.2L614.9,515.7L615.3,515.1L615.7,515.9L616.1,515.7L616.5,515.3L616.9,516L617.3,515.6L617.7,515.3L618.1,514.7L618.5,514.4L618.9,514.3L619.3,513.9L619.7,514.6L620.1,514.8L620.5,515.1L620.9,516.3L621.3,516L621.7,516.2L622.1,516.4L622.5,516.6L622.9,518L623.3,516.2L623.7,509.5L624.1,508.7L624.5,517.4L624.9,521.5L625.3,519L625.7,516.3L626.1,515.8L626.5,515.3L626.9,515.3L627.3,515.5L627.7,515.7L628.1,515L628.5,514.5L628.9,514.1L629.3,513.4L629.7,513.7L630.1,513.2L630.5,513.6L630.9,513.8L631.3,513.9L631.7,514.6L632.1,515L632.5,515.8L632.9,516.1L633.3,515.8L633.7,516.5L634.1,515.9L634.5,516.7L634.9,516.3L635.3,516.1L635.7,515.9L636.1,515.7L636.5,515.2L636.9,514.7L637.3,515L637.7,514.9L638.1,515.7L638.5,515.6L638.9,516L639.3,516.4L639.7,516.5L640.1,516.8L640.5,516.6L640.9,517.6L641.3,518.1L641.7,517.5L642.1,512.4L642.5,507.8L642.9,516.6L643.3,522L643.7,520.6L644.1,517.6L644.5,516.4L644.9,517.1L645.3,516.4L645.7,516.5L646.1,516.7L646.5,515.7L646.9,515.4L647.3,514.5L647.7,514.5L648.1,513.4L648.5,512.7L648.9,512.7L649.3,513.9L649.7,513.6L650.1,514.3L650.5,515.2L650.9,515L651.3,516.1L651.7,516.3L652.1,516.8L652.5,517.2L652.9,517.1L653.3,517.2L653.7,517.2L654.1,516.8L654.5,516.7L654.9,516.7L655.3,516.1L655.7,515.6L656.1,516L656.5,515.4L656.9,515.3L657.3,516.3L657.7,516.4L658.1,516.8L658.5,516.9L658.9,516.8L659.3,516.7L659.7,516.9L660.1,517.7L660.5,518.3L660.9,516L661.3,507.5L661.7,510.4L662.1,518.2L662.5,520.5L662.9,517.6L663.3,516.7L663.7,516.4L664.1,516.1L664.5,516.5L664.9,516L665.3,516.4L665.7,515.2L666.1,515.2L666.5,515.1L666.9,513.9L667.3,513.8L667.7,513.7L668.1,514L668.5,514.4L668.9,514.7L669.3,515.7L669.7,516.1L670.1,516.2L670.5,516.9L670.9,518L671.3,517.8L671.7,517.6L672.1,517.6L672.5,517.2L672.9,517.5L673.3,516.8L673.7,516.5L674.1,516L674.5,516L674.9,516.9L675.3,517.2L675.7,516.6L676.1,517.5L676.5,517.6L676.9,517.7L677.3,518.3L677.7,517.5L678.1,517.6L678.5,518.7L678.9,519L679.3,517L679.7,507.9L680.1,510.1L680.5,518.7L680.9,522.8L681.3,519.7L681.7,516.7L682.1,516.8L682.5,515.8L682.9,516L683.3,516.1L683.7,516L684.1,515.4L684.5,514.6L684.9,514.1L685.3,513.1L685.7,513.4L686.1,513.2L686.5,512.6L686.9,513.1L687.3,513.4L687.7,513.6L688.1,513.9L688.5,514.4L688.9,514.6L689.3,515.5L689.7,515.3L690.1,515.7L690.5,515.9L690.9,515.3L691.3,515.8L691.7,515.6L692.1,515L692.5,514.4L692.9,514L693.3,513.2L693.7,512.7L694.1,513.6L694.5,513.3L694.9,513.8L695.3,514.6L695.7,515.1L696.1,515.7L696.5,515.3L696.9,515.8L697.3,516.8L697.7,516.5L698.1,514.3L698.5,508.4L698.9,511.8L699.3,519.1L699.7,521.2L700.1,517L700.5,515.9L700.9,515.4L701.3,515L701.7,514.9L702.1,515.1L702.5,514.4L702.9,513.9L703.3,513.4L703.7,513L704.1,512.4L704.5,512.6L704.9,512.3L705.3,512.2L705.7,511.9" fill="none" stroke="#4a49a8" stroke-width="0.9" stroke-linejoin="round"/>
<path d="M162.5,544.7L162.9,545.5L163.3,546.3L163.7,543.1L164.1,536L164.5,541.1L164.9,548.6L165.3,550.3L165.7,546.2L166.1,544.6L166.5,544.4L166.9,545L167.3,545.2L167.7,544.2L168.1,544.4L168.5,543.3L168.9,542.6L169.3,542.6L169.7,541.8L170.1,541.4L170.5,541.7L170.9,541.2L171.3,541.6L171.7,542.1L172.1,542.7L172.5,542.5L172.9,543.4L173.3,543.2L173.7,543.6L174.1,544.1L174.5,543.4L174.9,543.8L175.3,543.3L175.7,542.7L176.1,543L176.5,541.9L176.9,542.1L177.3,541.7L177.7,542.1L178.1,542.1L178.5,543.2L178.9,543.8L179.3,543.7L179.7,544L180.1,544.2L180.5,544.2L180.9,545.8L181.3,545.2L181.7,541L182.1,536.5L182.5,543.5L182.9,548L183.3,547.6L183.7,544.8L184.1,544.4L184.5,544.3L184.9,544.3L185.3,544.1L185.7,544.7L186.1,544.8L186.5,543.7L186.9,543.5L187.3,543L187.7,541.8L188.1,541.9L188.5,541.7L188.9,542.7L189.3,542.3L189.7,543.9L190.1,544.3L190.5,544.1L190.9,544.9L191.3,545.3L191.7,545.8L192.1,545.7L192.5,545.7L192.9,545.4L193.3,545.8L193.7,545.1L194.1,544.8L194.5,544.5L194.9,544.1L195.3,543.4L195.7,543.8L196.1,543.6L196.5,544.3L196.9,543.7L197.3,544.8L197.7,545.4L198.1,544.8L198.5,544.5L198.9,544.9L199.3,546.2L199.7,546.8L200.1,543.7L200.5,538L200.9,542.2L201.3,549.1L201.7,551.1L202.1,546.9L202.5,544.9L202.9,544.7L203.3,544.5L203.7,544.5L204.1,544.2L204.5,544.3L204.9,544L205.3,544L205.7,542.4L206.1,542L206.5,541.8L206.9,541.9L207.3,542.7L207.7,542.2L208.1,542.3L208.5,543.2L208.9,543.5L209.3,543.3L209.7,544.1L210.1,543.7L210.5,543.9L210.9,543.7L211.3,543.6L211.7,544.2L212.1,543.3L212.5,543.2L212.9,542.2L213.3,541.7L213.7,541.8L214.1,541.5L214.5,542.1L214.9,542.4L215.3,543.4L215.7,544.2L216.1,544.1L216.5,543.9L216.9,544.6L217.3,545.9L217.7,545.6L218.1,542.7L218.5,536.7L218.9,541L219.3,547.2L219.7,548.7L220.1,544.6L220.5,543.9L220.9,543.6L221.3,543.4L221.7,543.1L222.1,543L222.5,543L222.9,541.7L223.3,542.2L223.7,541.2L224.1,540.6L224.5,540.6L224.9,540.4L225.3,540.5L225.7,540.8L226.1,541.1L226.5,541.9L226.9,542.7L227.3,542.7L227.7,543.3L228.1,543.7L228.5,543.3L228.9,544L229.3,543.7L229.7,543.4L230.1,543L230.5,543.3L230.9,542.3L231.3,543L231.7,542.2L232.1,542.6L232.5,542.9L232.9,543.8L233.3,543.9L233.7,543.4L234.1,544.1L234.5,544.6L234.9,544.6L235.3,544.8L235.7,545.7L236.1,545L236.5,539.8L236.9,534.5L237.3,543.2L237.7,550.1L238.1,548.7L238.5,545.1L238.9,543.8L239.3,543.9L239.7,544L240.1,544.3L240.5,543.9L240.9,543.1L241.3,543L241.7,542.5L242.1,542.2L242.5,541.8L242.9,541.6L243.3,542L243.7,541.2L244.1,542L244.5,542.2L244.9,542.7L245.3,543.3L245.7,543.9L246.1,544.6L246.5,544.2L246.9,544.5L247.3,544.9L247.7,544.9L248.1,545L248.5,545L248.9,543.9L249.3,543.4L249.7,543.2L250.1,542.8L250.5,542.8L250.9,542L251.3,542.7L251.7,543.2L252.1,543.6L252.5,544.3L252.9,544.4L253.3,544.4L253.7,544.3L254.1,545.4L254.5,545.6L254.9,543.9L255.3,536.8L255.7,540.9L256.1,549.4L256.5,552.7L256.9,547.6L257.3,544.8L257.7,545L258.1,545L258.5,545.2L258.9,544.7L259.3,544.2L259.7,544.6L260.1,543.6L260.5,543.4L260.9,542.7L261.3,542.4L261.7,542.2L262.1,542.1L262.5,542.2L262.9,543.3L263.3,543.6L263.7,544.2L264.1,544.5L264.5,544.6L264.9,544.3L265.3,545L265.7,544.8L266.1,544.6L266.5,545L266.9,545.1L267.3,544.6L267.7,544L268.1,543.6L268.5,542.5L268.9,542.7L269.3,543.1L269.7,543.3L270.1,544.3L270.5,544.5L270.9,543.7L271.3,544.3L271.7,544.9L272.1,544.9L272.5,546.2L272.9,543.4L273.3,534.7L273.7,536.8L274.1,547.4L274.5,551.3L274.9,547.1L275.3,545.3L275.7,544.8L276.1,544.9L276.5,544.2L276.9,544.8L277.3,543.6L277.7,543.1L278.1,542.6L278.5,543L278.9,542L279.3,542.5L279.7,542L280.1,542L280.5,542.1L280.9,542.7L281.3,542.4L281.7,543.1L282.1,543.7L282.5,544L282.9,544.2L283.3,545.2L283.7,544.8L284.1,545.3L284.5,544.4L284.9,544.4L285.3,543.9L285.7,544.2L286.1,543.9L286.5,543.6L286.9,542.9L287.3,543.6L287.7,543.7L288.1,544.5L288.5,544.3L288.9,545.2L289.3,544.8L289.7,545.4L290.1,545.8L290.5,547.1L290.9,546.9L291.3,543.1L291.7,537.2L292.1,544.7L292.5,552.1L292.9,551.4L293.3,546L293.7,545.4L294.1,544.6L294.5,544.9L294.9,544.5L295.3,543.4L295.7,543.9L296.1,543.1L296.5,542.3L296.9,542.9L297.3,542.2L297.7,541.9L298.1,541.5L298.5,542L298.9,542.4L299.3,543.1L299.7,543.7L300.1,543.6L300.5,544.7L300.9,544.3L301.3,544.9L301.7,545.6L302.1,545.8L302.5,546.4L302.9,546.4L303.3,545.7L303.7,545.8L304.1,544.7L304.5,544.5L304.9,544.4L305.3,544.5L305.7,544.8L306.1,544.7L306.5,544.7L306.9,545L307.3,545.5L307.7,545.8L308.1,545.6L308.5,545.6L308.9,546.7L309.3,546.9L309.7,544.5L310.1,536.5L310.5,541.5L310.9,548L311.3,549.2L311.7,546.9L312.1,546.8L312.5,545.6L312.9,545.8L313.3,545.8L313.7,545.5L314.1,545.7L314.5,544.8L314.9,544.3L315.3,543.7L315.7,543.6L316.1,543.5L316.5,542.8L316.9,542.4L317.3,542.9L317.7,543.1L318.1,543.1L318.5,542.7L318.9,544.1L319.3,544.8L319.7,544.7L320.1,544.9L320.5,544.9L320.9,544.8L321.3,545.1L321.7,544.3L322.1,543.6L322.5,543.2L322.9,542.6L323.3,542.9L323.7,542.8L324.1,542.4L324.5,542.8L324.9,544.2L325.3,544.2L325.7,544.3L326.1,544.2L326.5,544L326.9,544.3L327.3,545.9L327.7,544.5L328.1,537.9L328.5,535.4L328.9,545.5L329.3,551.2L329.7,548.1L330.1,545.4L330.5,544.9L330.9,544.4L331.3,544.5L331.7,544L332.1,543.8L332.5,542.7L332.9,542.5L333.3,543.1L333.7,542.6L334.1,542.6L334.5,542L334.9,541.7L335.3,541.4L335.7,541.8L336.1,541.9L336.5,542.1L336.9,542.9L337.3,544.3L337.7,544.6L338.1,544.3L338.5,544L338.9,544.6L339.3,544.4L339.7,544.6L340.1,543.9L340.5,543.2L340.9,543.2L341.3,543.3L341.7,542.7L342.1,543.3L342.5,543.7L342.9,543.7L343.3,543.9L343.7,544.2L344.1,545.2L344.5,545.1L344.9,544.9L345.3,545.7L345.7,546.8L346.1,544.7L346.5,535.9L346.9,537.1L347.3,548L347.7,551.7L348.1,548.5L348.5,545.4L348.9,545.7L349.3,545L349.7,544.3L350.1,544.5L350.5,544.5L350.9,543.6L351.3,543.2L351.7,543L352.1,542.2L352.5,542.1L352.9,541.5L353.3,541.3L353.7,541.9L354.1,542.2L354.5,542.5L354.9,542.8L355.3,544L355.7,543.7L356.1,544L356.5,544.4L356.9,544.6L357.3,544.5L357.7,545.1L358.1,544.5L358.5,543.7L358.9,543.1L359.3,543.3L359.7,542.6L360.1,543L360.5,543.6L360.9,545.1L361.3,544.6L361.7,545.3L362.1,546L362.5,546.5L362.9,546.4L363.3,547.2L363.7,547.4L364.1,544.7L364.5,536.8L364.9,541.8L365.3,549L365.7,550.9L366.1,547.7L366.5,546.4L366.9,546L367.3,546.4L367.7,546L368.1,545.3L368.5,544.8L368.9,545L369.3,543.9L369.7,543.3L370.1,542.7L370.5,542.7L370.9,542.9L371.3,542.3L371.7,542.7L372.1,543.3L372.5,544L372.9,544.2L373.3,544.5L373.7,545.7L374.1,545.2L374.5,545.7L374.9,546.2L375.3,545.9L375.7,545.4L376.1,545.1L376.5,545L376.9,545.5L377.3,544.8L377.7,545.1L378.1,544.9L378.5,544.5L378.9,545.1L379.3,545.5L379.7,546.5L380.1,546L380.5,546.7L380.9,547L381.3,547.1L381.7,548L382.1,548.4L382.5,546L382.9,537.9L383.3,540.6L383.7,549.3L384.1,553.1L384.5,549.5L384.9,546.8L385.3,546.6L385.7,546.9L386.1,545.7L386.5,545.5L386.9,545.2L387.3,545.2L387.7,544.5L388.1,543.9L388.5,544L388.9,543.6L389.3,543.5L389.7,542.4L390.1,543.3L390.5,543.8L390.9,543.7L391.3,544.7L391.7,544.4L392.1,545L392.5,545.4L392.9,545.5L393.3,545.6L393.7,545.7L394.1,544.9L394.5,545.5L394.9,544.9L395.3,544.5L395.7,544.1L396.1,543.5L396.5,544L396.9,544.2L397.3,544.2L397.7,543.9L398.1,543.8L398.5,544.6L398.9,545L399.3,544.8L399.7,545.5L400.1,546.5L400.5,545.6L400.9,538.6L401.3,536.7L401.7,546.3L402.1,552.9L402.5,549L402.9,545.7L403.3,545.3L403.7,545.4L404.1,545L404.5,545.2L404.9,544.2L405.3,543.9L405.7,543.6L406.1,543.8L406.5,543.2L406.9,542.9L407.3,542.5L407.7,542.3L408.1,542.3L408.5,542.7L408.9,542.4L409.3,543.7L409.7,544L410.1,543.7L410.5,545L410.9,545L411.3,545.4L411.7,544.8L412.1,545L412.5,545.1L412.9,545.2L413.3,544.4L413.7,544.8L414.1,543.9L414.5,543.8L414.9,543.4L415.3,544.4L415.7,544.9L416.1,545L416.5,545.1L416.9,545.5L417.3,546.1L417.7,545.6L418.1,545.9L418.5,546.6L418.9,546.1L419.3,539.2L419.7,535.7L420.1,546.5L420.5,551.5L420.9,549.4L421.3,546.3L421.7,544.9L422.1,545.1L422.5,545.5L422.9,545.3L423.3,544.6L423.7,544.3L424.1,543.6L424.5,543.3L424.9,543.2L425.3,542.5L425.7,542.2L426.1,542.4L426.5,542.1L426.9,542.2L427.3,542.2L427.7,542.5L428.1,543.7L428.5,543.8L428.9,544.6L429.3,544.3L429.7,545.5L430.1,544.6L430.5,544.6L430.9,544.9L431.3,544L431.7,543.5L432.1,544.1L432.5,543.5L432.9,543.9L433.3,543.9L433.7,544.9L434.1,544.4L434.5,544.8L434.9,545.5L435.3,545.2L435.7,546.2L436.1,546.7L436.5,546.9L436.9,544.7L437.3,537.2L437.7,539.5L438.1,547.4L438.5,548.9L438.9,546.6L439.3,545.1L439.7,545.4L440.1,544.7L440.5,544.8L440.9,544.5L441.3,545.4L441.7,544.9L442.1,543.8L442.5,543.3L442.9,543.3L443.3,542.7L443.7,542.7L444.1,542.5L444.5,543.1L444.9,543.1L445.3,543L445.7,544L446.1,544.7L446.5,544.8L446.9,544.8L447.3,544.2L447.7,544.4L448.1,544.4L448.5,543.9L448.9,544.3L449.3,543.5L449.7,543.6L450.1,542.7L450.5,542.9L450.9,542.6L451.3,543.3L451.7,542.8L452.1,543.6L452.5,543.6L452.9,544.3L453.3,544.7L453.7,544.1L454.1,544.5L454.5,545.5L454.9,545.7L455.3,543.1L455.7,537L456.1,541.6L456.5,546.2L456.9,547.7L457.3,545.1L457.7,544.3L458.1,543.9L458.5,544L458.9,543.1L459.3,542.8L459.7,542.5L460.1,541.9L460.5,542.3L460.9,541.8L461.3,541.1L461.7,541L462.1,541.4L462.5,540.7L462.9,541L463.3,541.7L463.7,542L464.1,543L464.5,544.3L464.9,543.7L465.3,543.7L465.7,544L466.1,543.9L466.5,544.4L466.9,544.4L467.3,544.1L467.7,543.6L468.1,543.6L468.5,542.7L468.9,543L469.3,543.2L469.7,543.6L470.1,544.1L470.5,544.9L470.9,544.7L471.3,545.3L471.7,545.2L472.1,544.8L472.5,545.4L472.9,546.1L473.3,546.6L473.7,542.8L474.1,534.6L474.5,541.8L474.9,549.8L475.3,550.5L475.7,545.9L476.1,544.2L476.5,544.3L476.9,544.7L477.3,544.4L477.7,543.4L478.1,543L478.5,543.2L478.9,542.5L479.3,541.6L479.7,541.4L480.1,540.8L480.5,541.4L480.9,540.9L481.3,541.8L481.7,541.8L482.1,542L482.5,542.7L482.9,543.3L483.3,543.4L483.7,544.2L484.1,544.8L484.5,544L484.9,544.7L485.3,544.8L485.7,544.2L486.1,544L486.5,542.9L486.9,542.8L487.3,541.9L487.7,541.7L488.1,542.9L488.5,542.6L488.9,542.8L489.3,543.3L489.7,543.9L490.1,543.9L490.5,542.8L490.9,543.8L491.3,544.1L491.7,545.3L492.1,542.9L492.5,535.7L492.9,536L493.3,543.8L493.7,546L494.1,544.5L494.5,544.2L494.9,543.5L495.3,544.2L495.7,543.9L496.1,543.5L496.5,542.6L496.9,543L497.3,542.4L497.7,541.6L498.1,541.5L498.5,541.3L498.9,540.4L499.3,540.6L499.7,540.7L500.1,541.5L500.5,541.2L500.9,541.8L501.3,542.3L501.7,543.4L502.1,543L502.5,543.6L502.9,542.8L503.3,543.3L503.7,543.5L504.1,542.5L504.5,543.1L504.9,542.6L505.3,541.6L505.7,542L506.1,542.2L506.5,542.3L506.9,542.6L507.3,542.9L507.7,543.1L508.1,543.2L508.5,543.1L508.9,543.2L509.3,544.6L509.7,544.2L510.1,540.5L510.5,535.5L510.9,541.8L511.3,549.4L511.7,548.4L512.1,544.3L512.5,543.3L512.9,542.8L513.3,542.8L513.7,542.7L514.1,542.9L514.5,542.8L514.9,542.1L515.3,542L515.7,542L516.1,542.1L516.5,541.3L516.9,540.5L517.3,540.6L517.7,541.2L518.1,542.2L518.5,541.6L518.9,542.8L519.3,542.6L519.7,542.9L520.1,543.1L520.5,543.8L520.9,544.2L521.3,544.2L521.7,543.7L522.1,544.3L522.5,542.9L522.9,542.5L523.3,541.8L523.7,541.9L524.1,541.4L524.5,542.3L524.9,542.3L525.3,542.8L525.7,543.6L526.1,544.1L526.5,545L526.9,544.4L527.3,544.5L527.7,546.3L528.1,544.6L528.5,538.2L528.9,534.7L529.3,544.2L529.7,548.6L530.1,547L530.5,544.7L530.9,543.8L531.3,543.8L531.7,544L532.1,544.5L532.5,544.4L532.9,544.2L533.3,543.4L533.7,543.8L534.1,542.7L534.5,542.5L534.9,542.4L535.3,542.7L535.7,542.7L536.1,542.8L536.5,542.3L536.9,543.5L537.3,543.9L537.7,544.5L538.1,545L538.5,544.9L538.9,545.3L539.3,544.9L539.7,545.3L540.1,545.1L540.5,545L540.9,544.2L541.3,543.8L541.7,543.5L542.1,542.9L542.5,543.9L542.9,543.9L543.3,544.2L543.7,543.9L544.1,544.9L544.5,544.3L544.9,545.4L545.3,545.2L545.7,544.8L546.1,546L546.5,545.7L546.9,539.3L547.3,534.8L547.7,545.5L548.1,551.3L548.5,549.4L548.9,544.9L549.3,544.7L549.7,545.1L550.1,544.6L550.5,545.2L550.9,544.6L551.3,545.1L551.7,543.9L552.1,543.3L552.5,542.4L552.9,542L553.3,541.6L553.7,542.2L554.1,542.3L554.5,542.7L554.9,543L555.3,543.4L555.7,543.9L556.1,544.7L556.5,545L556.9,544.7L557.3,544.1L557.7,544.5L558.1,544.4L558.5,544.6L558.9,544.7L559.3,543.7L559.7,544L560.1,543.4L560.5,544.3L560.9,544.4L561.3,544.7L561.7,545.9L562.1,545.5L562.5,546.5L562.9,545.4L563.3,545.9L563.7,546.7L564.1,546.5L564.5,545.7L564.9,538.6L565.3,537.3L565.7,545.6L566.1,550.5L566.5,548.4L566.9,546.2L567.3,546.1L567.7,545.2L568.1,545.6L568.5,544.8L568.9,544.9L569.3,544.5L569.7,544.1L570.1,543.4L570.5,542.4L570.9,542.7L571.3,542.2L571.7,541.8L572.1,542.1L572.5,541.6L572.9,541.9L573.3,543.1L573.7,543.2L574.1,543.7L574.5,544.4L574.9,544.3L575.3,544.5L575.7,544.6L576.1,544.4L576.5,544L576.9,544.4L577.3,544.3L577.7,543.7L578.1,542.4L578.5,542.1L578.9,542.1L579.3,543.1L579.7,542.7L580.1,543.3L580.5,544.3L580.9,544.3L581.3,543.9L581.7,544.9L582.1,544.8L582.5,546.2L582.9,546.6L583.3,545.7L583.7,539.3L584.1,537.6L584.5,546.4L584.9,549.3L585.3,546.7L585.7,545.5L586.1,545L586.5,545.1L586.9,545.4L587.3,544.7L587.7,545.4L588.1,544.2L588.5,544.8L588.9,544.5L589.3,544L589.7,543.2L590.1,542.3L590.5,543.3L590.9,542.7L591.3,543.2L591.7,543.4L592.1,544.6L592.5,544.2L592.9,544.9L593.3,545.7L593.7,545.6L594.1,545.3L594.5,545.9L594.9,544.9L595.3,545.4L595.7,544.9L596.1,544.6L596.5,544.4L596.9,544.4L597.3,543.6L597.7,544.3L598.1,544.4L598.5,545.2L598.9,545.4L599.3,545.6L599.7,545.2L600.1,545.1L600.5,545.1L600.9,546.1L601.3,546.4L601.7,543.8L602.1,536.1L602.5,541.4L602.9,546.7L603.3,548.1L603.7,546L604.1,544.8L604.5,544.6L604.9,544.4L605.3,543.9L605.7,544.1L606.1,544.1L606.5,543.8L606.9,543.7L607.3,542.8L607.7,542.6L608.1,542.1L608.5,541.6L608.9,541.3L609.3,541.9L609.7,543.2L610.1,543L610.5,543.7L610.9,544.3L611.3,545.5L611.7,545.4L612.1,545.3L612.5,545.3L612.9,545.2L613.3,544.9L613.7,544.5L614.1,544.1L614.5,543.8L614.9,542.5L615.3,543.2L615.7,543L616.1,543.6L616.5,543.8L616.9,543.9L617.3,543.8L617.7,544.5L618.1,543.9L618.5,544.4L618.9,545.6L619.3,546.1L619.7,544L620.1,537.2L620.5,535L620.9,545.3L621.3,550.3L621.7,547.1L622.1,545L622.5,544.7L622.9,544.5L623.3,545L623.7,544.3L624.1,544.7L624.5,543.7L624.9,544.2L625.3,542.7L625.7,543.1L626.1,543.1L626.5,542.3L626.9,542.3L627.3,542L627.7,542.4L628.1,543.7L628.5,544.3L628.9,543.8L629.3,545.2L629.7,544.9L630.1,545.2L630.5,545.4L630.9,545.4L631.3,545L631.7,545L632.1,544.4L632.5,543.9L632.9,544.1L633.3,543.4L633.7,544.4L634.1,544.7L634.5,544.6L634.9,545.1L635.3,545.6L635.7,545.2L636.1,545.7L636.5,545.7L636.9,545.9L637.3,546.6L637.7,544L638.1,534.9L638.5,539.2L638.9,547.8L639.3,549.4L639.7,546.5L640.1,545.5L640.5,545.1L640.9,545.5L641.3,545.1L641.7,544.8L642.1,545L642.5,544L642.9,544.1L643.3,543.2L643.7,542.9L644.1,542.5L644.5,542.2L644.9,542.2L645.3,542.8L645.7,543L646.1,543.3L646.5,543.3L646.9,544.4L647.3,544.3L647.7,544.4L648.1,544.9L648.5,545.1L648.9,545.1L649.3,545.5L649.7,544.5L650.1,544.1L650.5,543.8L650.9,543.8L651.3,543.5L651.7,543.3L652.1,543.8L652.5,544.3L652.9,544.5L653.3,545.2L653.7,544.9L654.1,545.1L654.5,545.4L654.9,546.1L655.3,547.5L655.7,547L656.1,543.6L656.5,538.3L656.9,544.5L657.3,551.8L657.7,551.1L658.1,546.7L658.5,544.8L658.9,545.4L659.3,545.2L659.7,544.5L660.1,544.9L660.5,543.6L660.9,543.3L661.3,543.2L661.7,542.3L662.1,541.8L662.5,541L662.9,541.3L663.3,541.2L663.7,542.2L664.1,542.3L664.5,542.5L664.9,543.3L665.3,544L665.7,544.2L666.1,544.7L666.5,545.5L666.9,545.3L667.3,545.5L667.7,545.2L668.1,545L668.5,544.1L668.9,544.6L669.3,544.1L669.7,544.2L670.1,544.4L670.5,544.5L670.9,544.9L671.3,546.1L671.7,545.5L672.1,545.6L672.5,545.8L672.9,546.1L673.3,547.5L673.7,548.4L674.1,546.7L674.5,541.1L674.9,539.8L675.3,546.5L675.7,549.9L676.1,548.7L676.5,545.9L676.9,545.5L677.3,545.7L677.7,545.9L678.1,546L678.5,545.7L678.9,545.2L679.3,545L679.7,544.9L680.1,544.7L680.5,543.3L680.9,543.2L681.3,543.4L681.7,543.4L682.1,543.5L682.5,544L682.9,544.3L683.3,544.5L683.7,545.2L684.1,545.8L684.5,546.3L684.9,546L685.3,546.2L685.7,546.4L686.1,546.2L686.5,546L686.9,544.8L687.3,544.2L687.7,543.1L688.1,543.1L688.5,543.8L688.9,544.3L689.3,544.4L689.7,544.7L690.1,544.7L690.5,545.2L690.9,545.2L691.3,545.2L691.7,545.9L692.1,546.8L692.5,546.4L692.9,540.7L693.3,533.8L693.7,543L694.1,547.8L694.5,547.4L694.9,545.4L695.3,544.9L695.7,545.3L696.1,544.5L696.5,544.5L696.9,544.4L697.3,543.9L697.7,544.1L698.1,543.2L698.5,543.1L698.9,542.7L699.3,542.1L699.7,542.6L700.1,542.7L700.5,542.5L700.9,542.6L701.3,543.7L701.7,543.8L702.1,543.6L702.5,543.5L702.9,544.4L703.3,544.2L703.7,544.5L704.1,544.4L704.5,544.1L704.9,544.4L705.3,543L705.7,543.6" fill="none" stroke="#3cb88c" stroke-width="0.9" stroke-linejoin="round"/>
<path d="M162.5,572.5L162.9,572.4L163.3,572.6L163.7,572.9L164.1,572.3L164.5,572.4L164.9,572.6L165.3,572.1L165.7,571.7L166.1,571.8L166.5,571.4L166.9,571L167.3,570.6L167.7,570.9L168.1,571.3L168.5,571.6L168.9,572.1L169.3,572.8L169.7,573L170.1,572.7L170.5,572.2L170.9,573.6L171.3,572.8L171.7,568.1L172.1,561.5L172.5,570L172.9,574.7L173.3,574.6L173.7,573L174.1,572.8L174.5,573L174.9,572.8L175.3,573L175.7,572.2L176.1,571.8L176.5,571.8L176.9,570.7L177.3,570.7L177.7,569L178.1,569.5L178.5,569.2L178.9,569.3L179.3,569.3L179.7,570.2L180.1,570.4L180.5,570.7L180.9,572.1L181.3,572L181.7,571.8L182.1,572.9L182.5,572.6L182.9,572.3L183.3,573L183.7,572.8L184.1,572.1L184.5,572.2L184.9,571.1L185.3,571.3L185.7,571.2L186.1,571.7L186.5,572.1L186.9,572.7L187.3,573.1L187.7,572.9L188.1,572.5L188.5,573.3L188.9,574.2L189.3,574.4L189.7,571.7L190.1,563.3L190.5,567.3L190.9,575.2L191.3,576.9L191.7,574.1L192.1,573.4L192.5,573L192.9,572.7L193.3,572.2L193.7,573.1L194.1,572.2L194.5,572L194.9,571.3L195.3,571.7L195.7,571.2L196.1,570.5L196.5,570.1L196.9,570.4L197.3,570.7L197.7,571.6L198.1,572.1L198.5,572.4L198.9,573.5L199.3,573.3L199.7,574.2L200.1,574.3L200.5,574L200.9,574.4L201.3,574.1L201.7,573.4L202.1,573.4L202.5,572.7L202.9,571.8L203.3,571L203.7,571.1L204.1,571.2L204.5,571.4L204.9,572L205.3,572.9L205.7,572.7L206.1,573.3L206.5,573.6L206.9,573.4L207.3,574.3L207.7,575.3L208.1,571.8L208.5,564.3L208.9,570.1L209.3,577.6L209.7,578L210.1,573.9L210.5,573.3L210.9,573.5L211.3,573.2L211.7,572.8L212.1,572.6L212.5,572.4L212.9,571.9L213.3,572.2L213.7,571.4L214.1,571L214.5,571L214.9,570.1L215.3,570.5L215.7,571.5L216.1,571.8L216.5,572.1L216.9,572.1L217.3,572.8L217.7,573.7L218.1,574.2L218.5,573.9L218.9,574.7L219.3,574.5L219.7,574.2L220.1,574.1L220.5,573.3L220.9,572.9L221.3,572.7L221.7,572.3L222.1,572.5L222.5,573.4L222.9,573.3L223.3,573.9L223.7,573.6L224.1,574.2L224.5,574.6L224.9,575.3L225.3,575.3L225.7,575.8L226.1,573L226.5,565.1L226.9,570.7L227.3,578.8L227.7,580.4L228.1,575.9L228.5,574.4L228.9,575L229.3,574.6L229.7,574.2L230.1,573.9L230.5,573.7L230.9,573.7L231.3,572.4L231.7,572.4L232.1,571.2L232.5,571L232.9,570.2L233.3,570.4L233.7,570.7L234.1,570.1L234.5,571.4L234.9,571.7L235.3,571.6L235.7,571.9L236.1,571.6L236.5,572.2L236.9,571.3L237.3,572.2L237.7,571.6L238.1,570.7L238.5,570.8L238.9,569.9L239.3,569.7L239.7,569.6L240.1,570.5L240.5,570.8L240.9,571.4L241.3,572L241.7,573L242.1,572.3L242.5,572.1L242.9,572.5L243.3,573.2L243.7,574.3L244.1,570.9L244.5,563L244.9,567.4L245.3,574.3L245.7,575.5L246.1,573.2L246.5,572.7L246.9,572.7L247.3,572.1L247.7,572L248.1,572.1L248.5,571.3L248.9,570.8L249.3,570.8L249.7,569.7L250.1,569.5L250.5,569.2L250.9,568.8L251.3,568.9L251.7,569.4L252.1,569.8L252.5,570.2L252.9,571.2L253.3,571.3L253.7,571.4L254.1,572.1L254.5,572.6L254.9,573.2L255.3,573.5L255.7,572.4L256.1,572.5L256.5,572.3L256.9,571.5L257.3,571.2L257.7,571.3L258.1,571.4L258.5,571.6L258.9,571.4L259.3,572.1L259.7,572.4L260.1,572.5L260.5,573.1L260.9,572.8L261.3,573L261.7,574.1L262.1,574.3L262.5,568.9L262.9,564.5L263.3,572.5L263.7,576.2L264.1,576.3L264.5,573.8L264.9,573.5L265.3,574.3L265.7,573.4L266.1,573.9L266.5,573.5L266.9,572.4L267.3,572.4L267.7,571.5L268.1,571.6L268.5,571.7L268.9,571.2L269.3,571L269.7,571.1L270.1,570.2L270.5,571.3L270.9,571.3L271.3,571.9L271.7,572.1L272.1,572.5L272.5,573.1L272.9,573.4L273.3,573.3L273.7,573.2L274.1,573.2L274.5,572.7L274.9,572.4L275.3,571.5L275.7,570.7L276.1,571L276.5,572.1L276.9,572.2L277.3,572.6L277.7,573L278.1,573.1L278.5,573L278.9,573.3L279.3,573.4L279.7,574L280.1,574.1L280.5,573.1L280.9,565.1L281.3,564.9L281.7,574.6L282.1,576.2L282.5,575L282.9,573.4L283.3,573.6L283.7,573.6L284.1,573.2L284.5,572.9L284.9,572.3L285.3,571.9L285.7,571.9L286.1,570.5L286.5,569.9L286.9,569.7L287.3,569.7L287.7,570.1L288.1,570.6L288.5,571L288.9,570.7L289.3,571.3L289.7,572.3L290.1,572.4L290.5,572.4L290.9,573.6L291.3,573.4L291.7,573.3L292.1,573.4L292.5,573.5L292.9,572.9L293.3,572.5L293.7,571.2L294.1,571.9L294.5,571.1L294.9,572.2L295.3,572.5L295.7,573.2L296.1,573.6L296.5,573.7L296.9,573.9L297.3,573.3L297.7,573.5L298.1,574.6L298.5,574.7L298.9,572.5L299.3,565.6L299.7,570.4L300.1,577.8L300.5,579.5L300.9,574.6L301.3,572.7L301.7,572.5L302.1,573L302.5,572.7L302.9,573L303.3,572.9L303.7,572.1L304.1,571.4L304.5,571.3L304.9,571.4L305.3,570.8L305.7,570.7L306.1,570.4L306.5,570.3L306.9,571.4L307.3,571.9L307.7,572L308.1,572.5L308.5,572.8L308.9,572.9L309.3,572.9L309.7,573.8L310.1,572.9L310.5,572.9L310.9,573L311.3,572L311.7,572L312.1,571.6L312.5,571.6L312.9,572.2L313.3,572.8L313.7,572.4L314.1,573.2L314.5,573.2L314.9,573L315.3,573.9L315.7,573.5L316.1,574.7L316.5,574.4L316.9,572L317.3,565.6L317.7,569.5L318.1,577L318.5,579.8L318.9,575.9L319.3,574L319.7,573.4L320.1,573.3L320.5,573.7L320.9,572.7L321.3,573.1L321.7,571.7L322.1,571.4L322.5,570.9L322.9,569.9L323.3,569.5L323.7,569.2L324.1,569.6L324.5,569.9L324.9,569.9L325.3,571.2L325.7,571L326.1,571.3L326.5,572L326.9,572.5L327.3,572.1L327.7,572L328.1,572.6L328.5,572.8L328.9,572.4L329.3,571.9L329.7,572L330.1,571.6L330.5,571.5L330.9,571.4L331.3,570.9L331.7,571.5L332.1,572.6L332.5,572.6L332.9,572.6L333.3,572.3L333.7,572.2L334.1,572L334.5,573.4L334.9,573.4L335.3,571.5L335.7,564L336.1,566.5L336.5,574.8L336.9,577.8L337.3,574.1L337.7,572.4L338.1,572.5L338.5,572L338.9,572.1L339.3,571.9L339.7,572.7L340.1,571.9L340.5,571.7L340.9,571L341.3,570.8L341.7,570.8L342.1,569.4L342.5,570.4L342.9,570.7L343.3,570.5L343.7,570.6L344.1,571.5L344.5,572L344.9,571.7L345.3,572L345.7,571.5L346.1,572.2L346.5,571.1L346.9,571.3L347.3,571.2L347.7,571.4L348.1,570.6L348.5,570.3L348.9,569.6L349.3,569.9L349.7,570.6L350.1,570.2L350.5,571L350.9,571.4L351.3,572L351.7,572.4L352.1,572.7L352.5,572.8L352.9,574.2L353.3,574L353.7,569.8L354.1,563.6L354.5,570.2L354.9,575.5L355.3,575.5L355.7,572.9L356.1,572.8L356.5,572L356.9,572.4L357.3,572.2L357.7,571.9L358.1,572.3L358.5,572L358.9,571.4L359.3,570.8L359.7,570.2L360.1,569.8L360.5,570L360.9,569.4L361.3,570.3L361.7,570.6L362.1,570.8L362.5,571.1L362.9,571.8L363.3,572.1L363.7,572.3L364.1,572L364.5,572.6L364.9,572.2L365.3,571.4L365.7,571.4L366.1,571L366.5,570.8L366.9,570.1L367.3,570.4L367.7,570.2L368.1,570.5L368.5,571.2L368.9,571.7L369.3,571.5L369.7,570.9L370.1,571.6L370.5,571.1L370.9,572.7L371.3,572.3L371.7,569.8L372.1,564L372.5,570L372.9,575.1L373.3,575L373.7,573.4L374.1,571.7L374.5,571.8L374.9,572.4L375.3,572.6L375.7,572.3L376.1,571.4L376.5,570.8L376.9,571.3L377.3,570.3L377.7,570.2L378.1,570L378.5,570.3L378.9,569.8L379.3,570.2L379.7,571L380.1,570.2L380.5,571.5L380.9,572.4L381.3,573L381.7,572.5L382.1,572.8L382.5,572.9L382.9,572.5L383.3,572.3L383.7,572L384.1,572.4L384.5,571.4L384.9,570.8L385.3,570.7L385.7,571.3L386.1,570.8L386.5,572.4L386.9,572.6L387.3,572.8L387.7,573.7L388.1,573.7L388.5,573.4L388.9,574.1L389.3,575.3L389.7,574.2L390.1,569.5L390.5,562.5L390.9,571.4L391.3,577.4L391.7,576.1L392.1,574.8L392.5,573.9L392.9,573.6L393.3,573.7L393.7,573.5L394.1,572.9L394.5,572.8L394.9,572.5L395.3,572.2L395.7,572.1L396.1,571.3L396.5,570.9L396.9,570.4L397.3,569.6L397.7,570.1L398.1,570.8L398.5,571.8L398.9,572.1L399.3,572.7L399.7,572.8L400.1,573.2L400.5,572.5L400.9,573L401.3,572.9L401.7,573.1L402.1,572.4L402.5,572.8L402.9,572.4L403.3,572.1L403.7,572L404.1,572.2L404.5,572.7L404.9,572.9L405.3,572.4L405.7,573.5L406.1,573.9L406.5,573.2L406.9,573.5L407.3,575.1L407.7,575L408.1,572.4L408.5,565.5L408.9,569.3L409.3,575.4L409.7,576.1L410.1,573.8L410.5,573.3L410.9,573.2L411.3,573.3L411.7,572.5L412.1,573.3L412.5,573.4L412.9,572L413.3,572.2L413.7,571L414.1,570.7L414.5,571.2L414.9,570.1L415.3,571L415.7,570.5L416.1,571.5L416.5,572.5L416.9,571.9L417.3,572.4L417.7,572.9L418.1,573L418.5,573.1L418.9,573.7L419.3,572.9L419.7,572.7L420.1,572.7L420.5,572.9L420.9,572.5L421.3,571.8L421.7,571.9L422.1,571.2L422.5,571.5L422.9,572L423.3,572L423.7,572.2L424.1,573.1L424.5,572.9L424.9,573.7L425.3,573.1L425.7,574.1L426.1,574.3L426.5,574L426.9,567.6L427.3,562.2L427.7,573.1L428.1,579.8L428.5,578.3L428.9,574.5L429.3,573.5L429.7,573.6L430.1,573.9L430.5,573.5L430.9,573.5L431.3,573.5L431.7,572.8L432.1,573.3L432.5,572.7L432.9,571.9L433.3,572L433.7,571.5L434.1,571.1L434.5,571.7L434.9,572.4L435.3,572.2L435.7,573.2L436.1,573L436.5,573.6L436.9,573.8L437.3,574.1L437.7,574.6L438.1,574.5L438.5,573.8L438.9,573.8L439.3,573.6L439.7,573.1L440.1,572.3L440.5,572.3L440.9,572.3L441.3,572.6L441.7,573.3L442.1,574.2L442.5,574L442.9,574.5L443.3,574.9L443.7,574.4L444.1,575L444.5,575.9L444.9,575L445.3,567.7L445.7,567.3L446.1,576L446.5,579.5L446.9,577.5L447.3,575.2L447.7,574.4L448.1,575.2L448.5,574.4L448.9,574.6L449.3,575.2L449.7,574.5L450.1,573.6L450.5,573.6L450.9,573.3L451.3,572.2L451.7,572.1L452.1,572.6L452.5,572L452.9,572.7L453.3,573.3L453.7,573.1L454.1,574.1L454.5,574.3L454.9,574.5L455.3,574L455.7,574.6L456.1,574.9L456.5,574.1L456.9,573.6L457.3,573.6L457.7,572.5L458.1,572.4L458.5,572.3L458.9,571.9L459.3,572.2L459.7,573.1L460.1,573.3L460.5,573.8L460.9,573.8L461.3,573.8L461.7,573.1L462.1,574.1L462.5,574.6L462.9,572.9L463.3,564.4L463.7,568.4L464.1,576.4L464.5,577.7L464.9,575.4L465.3,573.4L465.7,573.5L466.1,573.2L466.5,572.7L466.9,572.7L467.3,572.9L467.7,572.6L468.1,572.3L468.5,571.6L468.9,571.1L469.3,571.5L469.7,570.8L470.1,571.2L470.5,571.6L470.9,571.5L471.3,572.2L471.7,572.2L472.1,572.7L472.5,573.3L472.9,574L473.3,574.2L473.7,574.1L474.1,574L474.5,573.9L474.9,573.3L475.3,573.6L475.7,573.1L476.1,573L476.5,572.4L476.9,572.5L477.3,573.2L477.7,573.3L478.1,573.9L478.5,573.6L478.9,573.8L479.3,573.9L479.7,574.5L480.1,574.6L480.5,575.7L480.9,575.3L481.3,571.5L481.7,564.8L482.1,571.1L482.5,578.1L482.9,578.6L483.3,575L483.7,573.7L484.1,573.8L484.5,573.7L484.9,573.2L485.3,572.6L485.7,573L486.1,572.2L486.5,572.4L486.9,571.4L487.3,570.9L487.7,570.8L488.1,570.5L488.5,570.9L488.9,571.1L489.3,571.1L489.7,571.7L490.1,572.2L490.5,572L490.9,572.4L491.3,572.4L491.7,573.4L492.1,573.9L492.5,573.6L492.9,572.9L493.3,573.2L493.7,573L494.1,571.5L494.5,572L494.9,571.4L495.3,572L495.7,571.9L496.1,572.2L496.5,572.8L496.9,573.3L497.3,573.2L497.7,573.8L498.1,574L498.5,573.2L498.9,574.8L499.3,574.5L499.7,571.9L500.1,563.6L500.5,569L500.9,576L501.3,576.6L501.7,574.9L502.1,573.4L502.5,573L502.9,573.3L503.3,573.2L503.7,573.2L504.1,572.6L504.5,572.4L504.9,571.7L505.3,571.1L505.7,570.7L506.1,570.7L506.5,570.6L506.9,569.9L507.3,570.1L507.7,570.2L508.1,571L508.5,571.6L508.9,572.5L509.3,572.6L509.7,572.2L510.1,572.4L510.5,573L510.9,573.2L511.3,572.8L511.7,572.7L512.1,572.3L512.5,572.5L512.9,571.6L513.3,571.3L513.7,571.4L514.1,571.5L514.5,572.1L514.9,572.7L515.3,573.4L515.7,573.6L516.1,573.2L516.5,574.3L516.9,574.7L517.3,574.5L517.7,572.7L518.1,564.2L518.5,567.8L518.9,576.6L519.3,578.8L519.7,575.6L520.1,573.2L520.5,573.2L520.9,573.1L521.3,573L521.7,573L522.1,571.8L522.5,571.7L522.9,571.7L523.3,571.3L523.7,571L524.1,570.6L524.5,570.8L524.9,570.4L525.3,571.5L525.7,571.1L526.1,572.2L526.5,572.1L526.9,573.1L527.3,572.9L527.7,573.2L528.1,573.1L528.5,573.3L528.9,573.8L529.3,573.4L529.7,572.9L530.1,572.2L530.5,571.9L530.9,571.6L531.3,572.1L531.7,572.2L532.1,572.6L532.5,572.5L532.9,573.3L533.3,573.4L533.7,573.9L534.1,573.6L534.5,573.8L534.9,574.6L535.3,575.5L535.7,571.6L536.1,566.1L536.5,570.7L536.9,577.4L537.3,578.3L537.7,574.5L538.1,573.2L538.5,573L538.9,572.6L539.3,572.5L539.7,572.2L540.1,572L540.5,571.5L540.9,571.6L541.3,570.6L541.7,570.4L542.1,569.4L542.5,570L542.9,569.5L543.3,569.8L543.7,569.8L544.1,570.4L544.5,571.7L544.9,571.3L545.3,571.5L545.7,572.1L546.1,572.3L546.5,572.9L546.9,572.1L547.3,572.7L547.7,572.9L548.1,572L548.5,572L548.9,571L549.3,570.3L549.7,571L550.1,570.5L550.5,570.8L550.9,572.1L551.3,571.4L551.7,572.6L552.1,572.7L552.5,572.3L552.9,572.8L553.3,573.1L553.7,573.4L554.1,572.9L554.5,566.2L554.9,564.4L555.3,573.1L555.7,578.8L556.1,575.9L556.5,573.5L556.9,572.3L557.3,572.2L557.7,572.6L558.1,573.1L558.5,572.1L558.9,571.9L559.3,571.6L559.7,571.5L560.1,570.9L560.5,570.7L560.9,569.7L561.3,569.6L561.7,570.2L562.1,570L562.5,570.4L562.9,571.1L563.3,571L563.7,571.5L564.1,572.1L564.5,572L564.9,572.2L565.3,571.8L565.7,572.4L566.1,572.4L566.5,572.2L566.9,572L567.3,571.5L567.7,570.5L568.1,571.6L568.5,571.5L568.9,571.7L569.3,572.3L569.7,572.6L570.1,573.7L570.5,573.8L570.9,574.2L571.3,574.6L571.7,575.7L572.1,574.7L572.5,570.8L572.9,563.6L573.3,571L573.7,577.1L574.1,576.3L574.5,574.1L574.9,573.6L575.3,573L575.7,573.5L576.1,572.9L576.5,572.7L576.9,572.2L577.3,572.3L577.7,571L578.1,571L578.5,570.6L578.9,570L579.3,570.3L579.7,570.3L580.1,570.2L580.5,571L580.9,570.8L581.3,571.9L581.7,573L582.1,572.9L582.5,572.7L582.9,572.9L583.3,573.2L583.7,573.4L584.1,572.8L584.5,573.5L584.9,572.9L585.3,572.2L585.7,571.2L586.1,571.8L586.5,572.1L586.9,572.1L587.3,573.1L587.7,572.5L588.1,573.4L588.5,574.2L588.9,573.8L589.3,574.1L589.7,573.9L590.1,574.8L590.5,574.9L590.9,570.5L591.3,562.5L591.7,570.2L592.1,575.3L592.5,575.2L592.9,572.5L593.3,572.8L593.7,572.9L594.1,572.7L594.5,572.4L594.9,572L595.3,571.5L595.7,571.7L596.1,570.7L596.5,571.1L596.9,570.5L597.3,569.8L597.7,569.9L598.1,570.1L598.5,570.5L598.9,570.4L599.3,570.8L599.7,571.3L600.1,572.5L600.5,573.1L600.9,573.3L601.3,573.1L601.7,572.2L602.1,573L602.5,572.5L602.9,571.7L603.3,571.4L603.7,571.5L604.1,571L604.5,571.2L604.9,572.3L605.3,571.8L605.7,573.1L606.1,573.4L606.5,573.2L606.9,573.2L607.3,574L607.7,574.4L608.1,575L608.5,574L608.9,567.8L609.3,566.2L609.7,574.7L610.1,580.7L610.5,576.9L610.9,574L611.3,573.6L611.7,573L612.1,572.2L612.5,572.9L612.9,573.1L613.3,572.7L613.7,572.9L614.1,572.2L614.5,572.2L614.9,571.6L615.3,571.3L615.7,571.3L616.1,571.1L616.5,571.8L616.9,572.2L617.3,572.4L617.7,572.4L618.1,573.8L618.5,573.3L618.9,573.6L619.3,573.8L619.7,573.6L620.1,573.7L620.5,573.6L620.9,573.5L621.3,572.9L621.7,572.8L622.1,571.9L622.5,571.7L622.9,571.3L623.3,572.1L623.7,571.9L624.1,572.1L624.5,572.3L624.9,571.9L625.3,572.4L625.7,572.9L626.1,573.7L626.5,574.5L626.9,573.4L627.3,569.2L627.7,565.8L628.1,572.8L628.5,578.6L628.9,576.4L629.3,572.9L629.7,572.3L630.1,571.6L630.5,571.9L630.9,572.2L631.3,571.9L631.7,570.5L632.1,570.4L632.5,569.8L632.9,569.4L633.3,568.5L633.7,568.3L634.1,567.8L634.5,568.7L634.9,568.8L635.3,568.5L635.7,569.3L636.1,570.1L636.5,570.7L636.9,571.1L637.3,571.6L637.7,571.5L638.1,571.6L638.5,570.9L638.9,571.3L639.3,570.7L639.7,570.6L640.1,570.1L640.5,569.5L640.9,570.4L641.3,570.2L641.7,570.4L642.1,570.9L642.5,571L642.9,571.3L643.3,571.5L643.7,571.4L644.1,572.4L644.5,573.1L644.9,572.2L645.3,567.6L645.7,560.4L646.1,569.7L646.5,574.9L646.9,573.7L647.3,572.2L647.7,571.7L648.1,571.3L648.5,570.8L648.9,571.8L649.3,571.8L649.7,570.4L650.1,570L650.5,570.5L650.9,569.5L651.3,568.8L651.7,569.7L652.1,569.6L652.5,569.6L652.9,569.7L653.3,570L653.7,570.7L654.1,570.9L654.5,571.5L654.9,572L655.3,572.2L655.7,572.7L656.1,572.3L656.5,572.2L656.9,571.9L657.3,571.5L657.7,571.3L658.1,571.3L658.5,570.8L658.9,570.3L659.3,571.1L659.7,571.8L660.1,571.8L660.5,572L660.9,571.5L661.3,572.1L661.7,572.6L662.1,572.1L662.5,573.2L662.9,573.2L663.3,570.2L663.7,562.6L664.1,568.6L664.5,574.8L664.9,576.5L665.3,572.9L665.7,572.3L666.1,572.6L666.5,571.9L666.9,571.5L667.3,572.1L667.7,571.2L668.1,571.6L668.5,571L668.9,570.6L669.3,569.5L669.7,569.5L670.1,568.8L670.5,569L670.9,569.4L671.3,570.2L671.7,570.8L672.1,571.4L672.5,572.2L672.9,572.3L673.3,572.8L673.7,572.6L674.1,572.6L674.5,573.1L674.9,573L675.3,573L675.7,572.6L676.1,572.2L676.5,571.9L676.9,571.6L677.3,571.2L677.7,571.4L678.1,570.9L678.5,571.4L678.9,571.6L679.3,571.8L679.7,572.4L680.1,572.5L680.5,572.4L680.9,573.5L681.3,574L681.7,571.4L682.1,563.9L682.5,567.7L682.9,574.3L683.3,576L683.7,573.6L684.1,573.4L684.5,572.8L684.9,572.2L685.3,572.7L685.7,572.3L686.1,572.4L686.5,572L686.9,571.5L687.3,570.4L687.7,570.8L688.1,570.7L688.5,570.6L688.9,571.1L689.3,570.8L689.7,571.1L690.1,571.4L690.5,572.8L690.9,573.3L691.3,573.3L691.7,573.9L692.1,573.1L692.5,573.6L692.9,573.3L693.3,573L693.7,572.8L694.1,572.2L694.5,572.3L694.9,571.1L695.3,570.8L695.7,570.5L696.1,571L696.5,572.1L696.9,571.5L697.3,572.2L697.7,572.5L698.1,572.7L698.5,572.8L698.9,574.5L699.3,574.6L699.7,573.7L700.1,567.8L700.5,567.5L700.9,575.8L701.3,580.4L701.7,577.2L702.1,573.5L702.5,572.6L702.9,572.7L703.3,573.5L703.7,573L704.1,572.9L704.5,571.9L704.9,572.1L705.3,571.8L705.7,570.4" fill="none" stroke="#c49a3a" stroke-width="0.9" stroke-linejoin="round"/>
<path d="M162.5,601.1L162.9,602.1L163.3,600.7L163.7,600.7L164.1,600.5L164.5,600.5L164.9,599.2L165.3,599.8L165.7,600.1L166.1,600.4L166.5,600.7L166.9,599.9L167.3,600.2L167.7,600.9L168.1,600.1L168.5,601L168.9,602.7L169.3,602L169.7,596L170.1,593.2L170.5,600.9L170.9,604.2L171.3,602.9L171.7,600.8L172.1,600.5L172.5,600.5L172.9,601.1L173.3,601.1L173.7,600.2L174.1,600.6L174.5,600.1L174.9,599.3L175.3,598.8L175.7,598.5L176.1,598.7L176.5,598.2L176.9,599.1L177.3,599.6L177.7,599.7L178.1,600.6L178.5,601.3L178.9,601.4L179.3,602.1L179.7,601.8L180.1,602.2L180.5,602.6L180.9,602.8L181.3,603L181.7,601.5L182.1,602.1L182.5,601.9L182.9,601.4L183.3,601.2L183.7,601.2L184.1,601.3L184.5,601.7L184.9,602L185.3,602.3L185.7,601.8L186.1,601.7L186.5,601.9L186.9,602.4L187.3,603.6L187.7,603.8L188.1,599.8L188.5,591.6L188.9,598.9L189.3,605.5L189.7,607L190.1,602.9L190.5,602.1L190.9,602.1L191.3,601.6L191.7,601.6L192.1,601.8L192.5,601.6L192.9,600.7L193.3,600.5L193.7,600.4L194.1,599.5L194.5,599.4L194.9,598.6L195.3,598.8L195.7,599.7L196.1,600.2L196.5,600.1L196.9,600.5L197.3,601L197.7,601.1L198.1,601.7L198.5,601.5L198.9,601.2L199.3,601.1L199.7,600.9L200.1,600.6L200.5,600.9L200.9,600.3L201.3,599.6L201.7,599.9L202.1,599.9L202.5,599.7L202.9,600.3L203.3,600.1L203.7,600.6L204.1,602.1L204.5,601.8L204.9,602.2L205.3,602.3L205.7,603.1L206.1,602.8L206.5,603.5L206.9,601.5L207.3,594L207.7,596.6L208.1,604.1L208.5,606.1L208.9,603.9L209.3,602.4L209.7,601.5L210.1,601.6L210.5,600.8L210.9,600.9L211.3,600.3L211.7,600.5L212.1,600L212.5,599.5L212.9,598.6L213.3,598.5L213.7,598.3L214.1,599L214.5,599.1L214.9,599.3L215.3,600L215.7,601L216.1,601.2L216.5,601.5L216.9,602.1L217.3,602.1L217.7,602L218.1,602.4L218.5,602.6L218.9,602.6L219.3,602.1L219.7,601.3L220.1,601.7L220.5,601.3L220.9,600.5L221.3,600.6L221.7,600L222.1,600.8L222.5,601L222.9,601.4L223.3,601.9L223.7,602.1L224.1,601.4L224.5,602.7L224.9,601.9L225.3,603.5L225.7,604L226.1,602.3L226.5,596.4L226.9,597.8L227.3,604.7L227.7,606.2L228.1,604.5L228.5,602.8L228.9,602.6L229.3,602.5L229.7,602.3L230.1,602.5L230.5,602.3L230.9,602.1L231.3,601.3L231.7,601L232.1,600.8L232.5,599.6L232.9,599.8L233.3,599.3L233.7,599.8L234.1,599.2L234.5,599.7L234.9,600.6L235.3,600.7L235.7,600.9L236.1,601.1L236.5,602L236.9,601.8L237.3,601.3L237.7,601.3L238.1,601L238.5,601.5L238.9,601.3L239.3,600.3L239.7,600.5L240.1,600.3L240.5,600.1L240.9,600.7L241.3,600.5L241.7,601.1L242.1,601.7L242.5,602L242.9,602.4L243.3,602.8L243.7,602.9L244.1,603.4L244.5,601.1L244.9,595L245.3,595.9L245.7,604.3L246.1,608.7L246.5,605L246.9,602.7L247.3,602.8L247.7,601.7L248.1,602.4L248.5,601.5L248.9,602.5L249.3,602.1L249.7,601.1L250.1,600.1L250.5,599.6L250.9,599.6L251.3,600L251.7,599.2L252.1,599.1L252.5,600L252.9,600.9L253.3,601.1L253.7,601.6L254.1,602L254.5,602.1L254.9,601.9L255.3,602.7L255.7,602.2L256.1,602.3L256.5,602.5L256.9,602.1L257.3,601.9L257.7,601.2L258.1,600.7L258.5,600.5L258.9,600L259.3,599.3L259.7,599.7L260.1,599.7L260.5,600.4L260.9,600.5L261.3,600.7L261.7,601.2L262.1,601.5L262.5,601.2L262.9,603L263.3,603L263.7,601.2L264.1,596L264.5,597L264.9,603.2L265.3,605.3L265.7,602.7L266.1,601.8L266.5,601.5L266.9,601.5L267.3,601.5L267.7,601.6L268.1,601.6L268.5,600.4L268.9,601.1L269.3,600.5L269.7,599.7L270.1,599.4L270.5,598.6L270.9,598.1L271.3,599L271.7,598.8L272.1,599.1L272.5,599.9L272.9,599.7L273.3,601L273.7,600.7L274.1,600.5L274.5,601.2L274.9,601.3L275.3,600.7L275.7,601.2L276.1,600.6L276.5,600.2L276.9,599.6L277.3,599.6L277.7,599.1L278.1,600.2L278.5,600.2L278.9,600.7L279.3,601.3L279.7,601.8L280.1,601.2L280.5,601.6L280.9,601.6L281.3,602.6L281.7,602.2L282.1,601L282.5,595.4L282.9,596L283.3,602.5L283.7,604.6L284.1,602.9L284.5,600.6L284.9,600.4L285.3,600.8L285.7,600.4L286.1,600.9L286.5,600.3L286.9,599.2L287.3,599.2L287.7,598.4L288.1,598.4L288.5,598.3L288.9,597.8L289.3,597.5L289.7,597L290.1,598.1L290.5,598.2L290.9,598.7L291.3,598.8L291.7,599.4L292.1,599.6L292.5,599.9L292.9,600L293.3,599.9L293.7,600.2L294.1,599.7L294.5,600L294.9,599.5L295.3,599.8L295.7,599.8L296.1,598.9L296.5,599.4L296.9,599.6L297.3,599.9L297.7,599.9L298.1,600.7L298.5,600.8L298.9,600.7L299.3,601L299.7,600.6L300.1,601.6L300.5,602.9L300.9,601.9L301.3,596.3L301.7,594.8L302.1,600.8L302.5,603.9L302.9,603.2L303.3,601.4L303.7,600.4L304.1,601.1L304.5,601.4L304.9,600.6L305.3,600.8L305.7,601.2L306.1,600.9L306.5,599.9L306.9,600.1L307.3,599.8L307.7,599.4L308.1,599.1L308.5,598.6L308.9,600L309.3,600.2L309.7,599.7L310.1,600.4L310.5,601.3L310.9,600.9L311.3,600.9L311.7,602L312.1,601.5L312.5,601.9L312.9,602.2L313.3,601.3L313.7,601.2L314.1,601L314.5,600.6L314.9,599.8L315.3,599.7L315.7,599.3L316.1,599.2L316.5,599.9L316.9,599.4L317.3,600.4L317.7,600.7L318.1,600.7L318.5,600.1L318.9,600.3L319.3,601.8L319.7,601.2L320.1,598.6L320.5,591L320.9,596.5L321.3,602.2L321.7,604.5L322.1,601.9L322.5,601.1L322.9,600.5L323.3,601L323.7,599.9L324.1,600.2L324.5,599.6L324.9,599.5L325.3,598L325.7,598.2L326.1,597.9L326.5,597.7L326.9,597.8L327.3,597.7L327.7,597.7L328.1,598.1L328.5,598.5L328.9,598.8L329.3,599.1L329.7,599L330.1,599.7L330.5,599.7L330.9,600.2L331.3,599.8L331.7,600.1L332.1,599.9L332.5,600.2L332.9,600.9L333.3,599.9L333.7,599.1L334.1,599L334.5,598.3L334.9,598.9L335.3,598.6L335.7,598.6L336.1,598.8L336.5,599.4L336.9,600.1L337.3,600.2L337.7,600.3L338.1,601.8L338.5,602.1L338.9,601.2L339.3,594.8L339.7,594.8L340.1,601.6L340.5,604.6L340.9,602.8L341.3,601.3L341.7,601.1L342.1,601.2L342.5,600.5L342.9,601.3L343.3,600.8L343.7,600.5L344.1,600.8L344.5,600.4L344.9,599.7L345.3,599.1L345.7,598.5L346.1,599.1L346.5,599.1L346.9,598.9L347.3,600L347.7,599.7L348.1,600.8L348.5,600.7L348.9,601L349.3,600.7L349.7,601.6L350.1,601.8L350.5,601.7L350.9,601.5L351.3,601.4L351.7,600.3L352.1,600.2L352.5,599.4L352.9,599.3L353.3,599.7L353.7,600.3L354.1,600.4L354.5,600.3L354.9,601.8L355.3,602.4L355.7,602.2L356.1,602.5L356.5,602.4L356.9,603.4L357.3,604L357.7,600.7L358.1,593.2L358.5,598.5L358.9,606.6L359.3,608.2L359.7,604.7L360.1,602.7L360.5,603.1L360.9,602.7L361.3,602.4L361.7,602L362.1,602L362.5,602.3L362.9,601.3L363.3,600.9L363.7,599.4L364.1,599.7L364.5,598.6L364.9,598.4L365.3,599L365.7,598.9L366.1,599.1L366.5,600.1L366.9,600.5L367.3,600L367.7,600.8L368.1,601.5L368.5,601.2L368.9,601.5L369.3,601.8L369.7,602.2L370.1,601.1L370.5,600.4L370.9,600.9L371.3,600.3L371.7,599.4L372.1,599.2L372.5,599.3L372.9,599.5L373.3,599.8L373.7,599.7L374.1,600.3L374.5,600.9L374.9,600.9L375.3,600.4L375.7,600.7L376.1,602.2L376.5,602.8L376.9,597.5L377.3,592L377.7,600L378.1,606.5L378.5,606.1L378.9,602.5L379.3,602.1L379.7,601.4L380.1,601.9L380.5,601.8L380.9,600.6L381.3,601.1L381.7,599.7L382.1,599.6L382.5,599L382.9,599L383.3,598.4L383.7,598.4L384.1,597.8L384.5,598.4L384.9,598.1L385.3,598.6L385.7,599.2L386.1,600L386.5,600L386.9,600.4L387.3,599.9L387.7,600.8L388.1,600.6L388.5,600.3L388.9,600.6L389.3,600.3L389.7,599.8L390.1,599.2L390.5,599.1L390.9,599.4L391.3,599.8L391.7,599.9L392.1,599.8L392.5,600.8L392.9,601.4L393.3,601.6L393.7,601.5L394.1,601.4L394.5,602L394.9,602.8L395.3,601.5L395.7,595.6L396.1,596.5L396.5,603.9L396.9,606.1L397.3,603.9L397.7,601.8L398.1,601.8L398.5,601L398.9,601.1L399.3,601.2L399.7,600.6L400.1,599.8L400.5,599.9L400.9,599.1L401.3,599L401.7,599L402.1,598.7L402.5,598L402.9,598.1L403.3,598.4L403.7,598.9L404.1,599.9L404.5,600.8L404.9,600.9L405.3,601.3L405.7,601.9L406.1,601.8L406.5,601.9L406.9,601.8L407.3,601.7L407.7,601.1L408.1,600.6L408.5,600.3L408.9,599.7L409.3,599.8L409.7,599.6L410.1,599.7L410.5,600.3L410.9,599.5L411.3,600.6L411.7,600.5L412.1,601.3L412.5,601.5L412.9,601.9L413.3,602.9L413.7,603.2L414.1,603.7L414.5,599.1L414.9,592.8L415.3,600.1L415.7,607.1L416.1,607.5L416.5,603.2L416.9,602L417.3,602.1L417.7,601.3L418.1,601.5L418.5,601.2L418.9,600.7L419.3,599.6L419.7,600L420.1,599.2L420.5,598.4L420.9,598.2L421.3,597.4L421.7,598.1L422.1,598.6L422.5,598.5L422.9,599.2L423.3,599.3L423.7,599.8L424.1,600.3L424.5,599.8L424.9,600.3L425.3,600.5L425.7,600.5L426.1,601.5L426.5,601.4L426.9,600.9L427.3,601L427.7,600.1L428.1,600.2L428.5,600.4L428.9,600.2L429.3,600.3L429.7,599.6L430.1,600.6L430.5,600.1L430.9,600.5L431.3,601.5L431.7,601.2L432.1,601.8L432.5,602.8L432.9,602.9L433.3,600.4L433.7,592.7L434.1,595.4L434.5,603.8L434.9,606.5L435.3,603.9L435.7,601.7L436.1,601.6L436.5,600.7L436.9,601.2L437.3,601.4L437.7,601L438.1,601.1L438.5,600L438.9,599.6L439.3,599.8L439.7,598.8L440.1,598.6L440.5,598.5L440.9,598.9L441.3,599.7L441.7,599.6L442.1,599.8L442.5,600.7L442.9,601.4L443.3,600.7L443.7,600.7L444.1,600.7L444.5,601.4L444.9,601.1L445.3,601.2L445.7,600.7L446.1,600.7L446.5,599.9L446.9,599.4L447.3,599.6L447.7,599.3L448.1,599.9L448.5,600.2L448.9,599.7L449.3,600.7L449.7,601.4L450.1,600.9L450.5,600.7L450.9,601L451.3,601.7L451.7,602.2L452.1,600.2L452.5,591.9L452.9,596.7L453.3,603.2L453.7,605.6L454.1,602.5L454.5,600.7L454.9,601.1L455.3,601L455.7,601.5L456.1,600.8L456.5,601L456.9,600.1L457.3,600.3L457.7,599.5L458.1,599.4L458.5,599L458.9,598.1L459.3,598.8L459.7,599.1L460.1,598.8L460.5,599.6L460.9,599.9L461.3,600.4L461.7,601L462.1,601.5L462.5,601.6L462.9,602.3L463.3,602.2L463.7,601.9L464.1,602.4L464.5,601.5L464.9,601.5L465.3,601.3L465.7,601.2L466.1,599.9L466.5,600.7L466.9,600.1L467.3,600.3L467.7,601.4L468.1,601.1L468.5,601.7L468.9,601.3L469.3,600.8L469.7,600.9L470.1,601.3L470.5,601.8L470.9,601.5L471.3,594.3L471.7,593.7L472.1,602.3L472.5,606.6L472.9,604L473.3,602.8L473.7,601.4L474.1,601.9L474.5,601.9L474.9,602.1L475.3,601L475.7,601L476.1,600.8L476.5,599.9L476.9,599L477.3,599.2L477.7,598.1L478.1,598.3L478.5,598.5L478.9,598.8L479.3,599L479.7,598.9L480.1,599.6L480.5,600.2L480.9,600L481.3,600.7L481.7,601.6L482.1,601.1L482.5,601.4L482.9,601.2L483.3,600.6L483.7,600.7L484.1,600L484.5,600.6L484.9,599.8L485.3,600.7L485.7,600.3L486.1,600.6L486.5,601.6L486.9,601.4L487.3,601.6L487.7,602.2L488.1,602.9L488.5,603.3L488.9,603.6L489.3,603.9L489.7,599.9L490.1,595.1L490.5,601.6L490.9,606.2L491.3,606.6L491.7,603.3L492.1,602.9L492.5,602.7L492.9,602.5L493.3,602.3L493.7,601.3L494.1,601.1L494.5,600.8L494.9,600.7L495.3,599.9L495.7,600.2L496.1,599.8L496.5,599.1L496.9,599.2L497.3,599.9L497.7,600.2L498.1,600.2L498.5,600.2L498.9,600.5L499.3,601.4L499.7,601.1L500.1,601.4L500.5,602L500.9,602.5L501.3,602.3L501.7,602.4L502.1,602.1L502.5,601.8L502.9,601.3L503.3,600.6L503.7,600.2L504.1,600.6L504.5,600.4L504.9,601.1L505.3,601.1L505.7,602.1L506.1,602.8L506.5,603.2L506.9,602.4L507.3,602.9L507.7,603.1L508.1,604.3L508.5,602.6L508.9,596.1L509.3,596.6L509.7,604.3L510.1,606.6L510.5,604.1L510.9,602.6L511.3,602.7L511.7,602.2L512.1,601.3L512.5,601.7L512.9,601L513.3,601.2L513.7,600.9L514.1,599.4L514.5,599.3L514.9,598.9L515.3,598.8L515.7,598.6L516.1,598.8L516.5,599.8L516.9,600.1L517.3,601L517.7,601.5L518.1,601.3L518.5,601.8L518.9,602L519.3,601.5L519.7,601.3L520.1,602.2L520.5,602L520.9,602.5L521.3,602.4L521.7,602.1L522.1,601.4L522.5,600.6L522.9,600L523.3,600.7L523.7,600.3L524.1,600.5L524.5,600.8L524.9,601.5L525.3,601.9L525.7,601.8L526.1,601.7L526.5,602.9L526.9,603.8L527.3,602.7L527.7,597.2L528.1,593.7L528.5,602.1L528.9,608.7L529.3,606L529.7,603.3L530.1,602.6L530.5,602.6L530.9,601.9L531.3,601.6L531.7,601.5L532.1,600.9L532.5,600.1L532.9,599.3L533.3,598.9L533.7,599L534.1,598.6L534.5,598.5L534.9,598L535.3,599.1L535.7,599.1L536.1,599.8L536.5,599.5L536.9,600.1L537.3,600.6L537.7,600.7L538.1,601.8L538.5,601.2L538.9,601.3L539.3,601.7L539.7,601.1L540.1,601L540.5,601L540.9,600.5L541.3,599.7L541.7,599L542.1,599.3L542.5,599.8L542.9,600L543.3,601L543.7,601.3L544.1,601.1L544.5,601.4L544.9,602.2L545.3,601.5L545.7,603.3L546.1,602.7L546.5,601.5L546.9,595L547.3,599.2L547.7,603.8L548.1,605.3L548.5,603.1L548.9,601.8L549.3,601.7L549.7,601.8L550.1,601.6L550.5,601.5L550.9,601.1L551.3,600.7L551.7,599.9L552.1,599.2L552.5,599L552.9,599.3L553.3,598.6L553.7,599.2L554.1,599L554.5,599.6L554.9,600.1L555.3,600.6L555.7,600.6L556.1,601.2L556.5,602.2L556.9,601.9L557.3,602L557.7,602.2L558.1,601.1L558.5,601.4L558.9,600.9L559.3,600.2L559.7,600.1L560.1,600.2L560.5,599.5L560.9,599.3L561.3,599.4L561.7,599.9L562.1,600L562.5,600L562.9,600.3L563.3,601L563.7,601L564.1,600.7L564.5,601.2L564.9,601.2L565.3,597.1L565.7,591.5L566.1,598.1L566.5,603.6L566.9,604L567.3,601L567.7,600.8L568.1,600.7L568.5,600.3L568.9,600.1L569.3,600L569.7,600L570.1,599.4L570.5,599.1L570.9,598.8L571.3,598.5L571.7,597.7L572.1,597.7L572.5,598L572.9,597.2L573.3,597.4L573.7,598.6L574.1,599.1L574.5,599.1L574.9,599.8L575.3,599.6L575.7,599.8L576.1,600.7L576.5,600.3L576.9,600.6L577.3,600L577.7,600.5L578.1,600.4L578.5,599.6L578.9,599.6L579.3,599.2L579.7,599.1L580.1,599.8L580.5,600.1L580.9,600.7L581.3,601L581.7,601.3L582.1,601L582.5,601.9L582.9,602.7L583.3,602.4L583.7,601.6L584.1,594.3L584.5,596.8L584.9,604.5L585.3,607.2L585.7,604.2L586.1,602.2L586.5,601.8L586.9,601.8L587.3,601.3L587.7,601.2L588.1,601L588.5,601.1L588.9,600.3L589.3,600.3L589.7,599.6L590.1,599.3L590.5,598.8L590.9,599.4L591.3,599.3L591.7,600.5L592.1,600L592.5,600.9L592.9,601.6L593.3,601L593.7,602.1L594.1,601.9L594.5,602.2L594.9,602.7L595.3,602.9L595.7,603L596.1,603.5L596.5,602.4L596.9,602.1L597.3,601.6L597.7,601.2L598.1,600.9L598.5,600.3L598.9,601.4L599.3,601.1L599.7,601.6L600.1,602.3L600.5,602.8L600.9,602.3L601.3,602.6L601.7,603.2L602.1,603.6L602.5,603.6L602.9,600.2L603.3,593.1L603.7,599.8L604.1,607.6L604.5,608.5L604.9,603.3L605.3,603.4L605.7,602.1L606.1,603L606.5,602.3L606.9,601.7L607.3,601.1L607.7,601.1L608.1,601L608.5,600.7L608.9,599.8L609.3,599.9L609.7,599.2L610.1,599.8L610.5,599.5L610.9,599.5L611.3,600.2L611.7,601.3L612.1,601.1L612.5,601.6L612.9,602.2L613.3,602L613.7,602.4L614.1,602.9L614.5,602.4L614.9,602.7L615.3,602.4L615.7,602.2L616.1,600.9L616.5,600.8L616.9,600.8L617.3,600L617.7,600.2L618.1,600.5L618.5,600.8L618.9,600.9L619.3,601.2L619.7,602.1L620.1,602.1L620.5,602.2L620.9,602.1L621.3,603.2L621.7,601.8L622.1,595L622.5,594.1L622.9,603.2L623.3,608.4L623.7,604.9L624.1,602.7L624.5,601.6L624.9,601.8L625.3,602.5L625.7,602.4L626.1,602.1L626.5,601.3L626.9,600.7L627.3,600.4L627.7,600.4L628.1,599.5L628.5,599.1L628.9,599.9L629.3,600.1L629.7,600.4L630.1,600.7L630.5,601L630.9,601.8L631.3,601.6L631.7,602.4L632.1,602.8L632.5,603.3L632.9,603.3L633.3,603L633.7,603.4L634.1,602.8L634.5,603L634.9,602L635.3,602.1L635.7,601.8L636.1,601.5L636.5,600.7L636.9,602.1L637.3,602.2L637.7,602.5L638.1,603.1L638.5,602.2L638.9,602.4L639.3,603.2L639.7,603.4L640.1,604.9L640.5,603.6L640.9,596.6L641.3,594.3L641.7,603.3L642.1,606.5L642.5,604.7L642.9,602.4L643.3,602.2L643.7,602.1L644.1,601.5L644.5,601.7L644.9,601.7L645.3,601.4L645.7,600.7L646.1,600.3L646.5,600.3L646.9,599.6L647.3,598.8L647.7,599.3L648.1,598.8L648.5,599.3L648.9,600L649.3,601.1L649.7,601L650.1,601.9L650.5,602.2L650.9,601.8L651.3,602.1L651.7,602.2L652.1,603.4L652.5,602.3L652.9,601.6L653.3,601.6L653.7,601.5L654.1,601.2L654.5,600.6L654.9,600.4L655.3,600.7L655.7,600.8L656.1,601.2L656.5,601.8L656.9,601.7L657.3,601.6L657.7,602.6L658.1,601.8L658.5,603.5L658.9,603.4L659.3,598.7L659.7,593.5L660.1,600.4L660.5,606.6L660.9,606.5L661.3,602.5L661.7,601.9L662.1,601.8L662.5,601.5L662.9,601.8L663.3,601.8L663.7,600.8L664.1,600.7L664.5,600.3L664.9,599.3L665.3,599.2L665.7,597.9L666.1,598.4L666.5,598.3L666.9,598.8L667.3,599L667.7,599.9L668.1,600.3L668.5,601.1L668.9,601.2L669.3,601.9L669.7,601.7L670.1,602.2L670.5,601.7L670.9,601.4L671.3,602.1L671.7,601.8L672.1,601.3L672.5,601.1L672.9,600.3L673.3,600L673.7,600.2L674.1,599.8L674.5,600.5L674.9,600.8L675.3,601.3L675.7,601.5L676.1,601.3L676.5,601.3L676.9,602L677.3,602L677.7,603.4L678.1,603.5L678.5,598.8L678.9,592.9L679.3,600.2L679.7,605.4L680.1,604.9L680.5,602.1L680.9,601.5L681.3,601.7L681.7,601L682.1,601L682.5,600.5L682.9,600.4L683.3,600L683.7,600.2L684.1,599.2L684.5,598.6L684.9,598.9L685.3,598.3L685.7,598.2L686.1,598.6L686.5,598.9L686.9,598.7L687.3,599.6L687.7,600.2L688.1,601.6L688.5,601.2L688.9,601.3L689.3,601.2L689.7,601.4L690.1,601.1L690.5,600.7L690.9,601L691.3,600.2L691.7,599.4L692.1,598.9L692.5,599.5L692.9,600.5L693.3,601.1L693.7,601L694.1,601.2L694.5,601.8L694.9,601.8L695.3,602.8L695.7,603.5L696.1,604.1L696.5,603.3L696.9,598.3L697.3,595.8L697.7,602.2L698.1,605L698.5,604.4L698.9,602L699.3,601.6L699.7,601.8L700.1,602.5L700.5,601.8L700.9,602.3L701.3,601.2L701.7,601.4L702.1,601.1L702.5,600.3L702.9,600.4L703.3,599.1L703.7,599.1L704.1,599.6L704.5,599.8L704.9,600.2L705.3,601.2L705.7,601.2" fill="none" stroke="#8a48dc" stroke-width="0.9" stroke-linejoin="round"/>
<path d="M162.5,630.6L162.9,629.7L163.3,629.5L163.7,629.9L164.1,629.5L164.5,628.9L164.9,629.2L165.3,628.2L165.7,627.6L166.1,627.8L166.5,628.1L166.9,627.4L167.3,628.6L167.7,628.6L168.1,629.5L168.5,629.4L168.9,630L169.3,630L169.7,631.1L170.1,630.1L170.5,630.2L170.9,631L171.3,630.7L171.7,629.8L172.1,630.2L172.5,629.9L172.9,629.6L173.3,628.2L173.7,627.9L174.1,628.3L174.5,628.3L174.9,629.5L175.3,629.2L175.7,630L176.1,630L176.5,630.7L176.9,630.2L177.3,631.5L177.7,631.6L178.1,630.6L178.5,625.5L178.9,624.2L179.3,630.3L179.7,633.4L180.1,632.1L180.5,630L180.9,629.7L181.3,629.2L181.7,629.4L182.1,628.7L182.5,628.7L182.9,628.2L183.3,628.2L183.7,628.2L184.1,627.1L184.5,626.4L184.9,626.8L185.3,626.4L185.7,626.4L186.1,627.3L186.5,627.3L186.9,627.4L187.3,628.2L187.7,628.9L188.1,629L188.5,629.8L188.9,629.9L189.3,629.8L189.7,630.2L190.1,629.5L190.5,629.7L190.9,629.8L191.3,629.5L191.7,629.5L192.1,628.4L192.5,628.5L192.9,628.8L193.3,628.8L193.7,628.9L194.1,629.5L194.5,630.8L194.9,630.8L195.3,630.4L195.7,630.4L196.1,631.2L196.5,631.4L196.9,629L197.3,623.1L197.7,627.5L198.1,633L198.5,633.2L198.9,631.1L199.3,629.7L199.7,630.3L200.1,629.8L200.5,630.2L200.9,629.7L201.3,629.4L201.7,629L202.1,629.1L202.5,628.6L202.9,627L203.3,627.2L203.7,627.2L204.1,626.8L204.5,627.6L204.9,627.9L205.3,628L205.7,628.2L206.1,629.3L206.5,629.2L206.9,629.5L207.3,629L207.7,629.8L208.1,629L208.5,629L208.9,629.5L209.3,629L209.7,629.6L210.1,629.5L210.5,629.2L210.9,628.3L211.3,627.1L211.7,627.8L212.1,627.6L212.5,627.5L212.9,628L213.3,628.4L213.7,628.7L214.1,629.5L214.5,629.5L214.9,629.6L215.3,630.7L215.7,630.9L216.1,629.5L216.5,623.4L216.9,624.1L217.3,630.7L217.7,632.7L218.1,630.8L218.5,629.5L218.9,629.4L219.3,629.2L219.7,629.6L220.1,629.1L220.5,627.8L220.9,627.8L221.3,627.9L221.7,627.5L222.1,626.3L222.5,626.7L222.9,626L223.3,626.3L223.7,625.9L224.1,626.5L224.5,627.3L224.9,627.6L225.3,628L225.7,628.6L226.1,629.1L226.5,628.9L226.9,628.7L227.3,629.8L227.7,629.5L228.1,629.2L228.5,629.2L228.9,629.2L229.3,628.6L229.7,627.9L230.1,627.6L230.5,627.4L230.9,627L231.3,627.8L231.7,628.2L232.1,628.9L232.5,629.2L232.9,630.1L233.3,629.8L233.7,630.3L234.1,630.8L234.5,630.9L234.9,629.8L235.3,622.3L235.7,620.6L236.1,629.1L236.5,632.3L236.9,629.7L237.3,628.8L237.7,628.4L238.1,627.9L238.5,628.6L238.9,628.2L239.3,628L239.7,627L240.1,625.9L240.5,625.8L240.9,625.1L241.3,625.4L241.7,624.6L242.1,624.9L242.5,625.2L242.9,625.9L243.3,626.1L243.7,627.4L244.1,627.2L244.5,627.9L244.9,627.8L245.3,628.4L245.7,628.7L246.1,628.4L246.5,627.8L246.9,627.8L247.3,627.4L247.7,626.9L248.1,626.6L248.5,626.8L248.9,627L249.3,627.2L249.7,627.5L250.1,628.7L250.5,629L250.9,628.9L251.3,629.3L251.7,630.1L252.1,630L252.5,630.2L252.9,631.9L253.3,630.3L253.7,624.5L254.1,620.2L254.5,628.9L254.9,633.6L255.3,633L255.7,630L256.1,629.7L256.5,630L256.9,629.4L257.3,629.4L257.7,628.9L258.1,629.1L258.5,628.6L258.9,628.4L259.3,627.1L259.7,627.2L260.1,627.4L260.5,627L260.9,626.9L261.3,627L261.7,627.2L262.1,628.3L262.5,628.9L262.9,629.2L263.3,629L263.7,630.1L264.1,630.1L264.5,630.1L264.9,631L265.3,630.1L265.7,630.6L266.1,630.3L266.5,630L266.9,629.8L267.3,628.7L267.7,628.7L268.1,628.6L268.5,629.3L268.9,629.8L269.3,629.7L269.7,630.3L270.1,630.9L270.5,631.1L270.9,631.5L271.3,632L271.7,632L272.1,632.5L272.5,630L272.9,623.1L273.3,626.6L273.7,634.3L274.1,636.5L274.5,632.6L274.9,630.5L275.3,630.4L275.7,630.9L276.1,630.4L276.5,630.7L276.9,629.7L277.3,629.6L277.7,628.7L278.1,628.2L278.5,627.8L278.9,627.1L279.3,627.2L279.7,626.7L280.1,627.3L280.5,627.4L280.9,628.2L281.3,628.9L281.7,628.6L282.1,629.4L282.5,629.6L282.9,629.7L283.3,630.1L283.7,630L284.1,630.1L284.5,629.3L284.9,629.7L285.3,629.2L285.7,627.6L286.1,627.6L286.5,627.6L286.9,627.8L287.3,627.7L287.7,628.1L288.1,628.8L288.5,628.9L288.9,629.1L289.3,629.3L289.7,629.8L290.1,630L290.5,630.9L290.9,629.4L291.3,622.2L291.7,623.2L292.1,632.2L292.5,636.1L292.9,632.1L293.3,630.3L293.7,629.7L294.1,630.2L294.5,629.6L294.9,629.2L295.3,629.4L295.7,629.4L296.1,628.7L296.5,628.5L296.9,627.7L297.3,628.2L297.7,627.1L298.1,627.2L298.5,627.8L298.9,628L299.3,628.7L299.7,628.9L300.1,629.8L300.5,630.3L300.9,630L301.3,630.6L301.7,630.2L302.1,630.3L302.5,630.4L302.9,629.7L303.3,630.4L303.7,630L304.1,629.2L304.5,629.4L304.9,628.3L305.3,628.2L305.7,628.9L306.1,628.8L306.5,629.6L306.9,629.2L307.3,630L307.7,629.5L308.1,630.6L308.5,630.1L308.9,630.1L309.3,631.5L309.7,631.9L310.1,629L310.5,622.9L310.9,628.3L311.3,635.9L311.7,636.1L312.1,632.4L312.5,631L312.9,630.7L313.3,630.6L313.7,630.4L314.1,630.3L314.5,629.7L314.9,629.1L315.3,629.2L315.7,628.7L316.1,627.9L316.5,628L316.9,627.1L317.3,627.3L317.7,627L318.1,627.8L318.5,628.2L318.9,629.1L319.3,629.2L319.7,630.3L320.1,629.6L320.5,630.2L320.9,631L321.3,631.2L321.7,631.3L322.1,630.8L322.5,630.7L322.9,630.5L323.3,629.5L323.7,629.7L324.1,629.3L324.5,629.3L324.9,629.1L325.3,628.9L325.7,629.3L326.1,629.2L326.5,629.2L326.9,629.3L327.3,629.2L327.7,629.6L328.1,630.6L328.5,631.3L328.9,631.6L329.3,626.7L329.7,619.4L330.1,627.4L330.5,632.2L330.9,632.3L331.3,630.9L331.7,629.7L332.1,630L332.5,630.4L332.9,629.8L333.3,629.9L333.7,628.9L334.1,629.2L334.5,628.2L334.9,627.8L335.3,626.5L335.7,626.5L336.1,626.4L336.5,626.2L336.9,626.2L337.3,627.2L337.7,627.4L338.1,628.2L338.5,628.2L338.9,628.5L339.3,629.4L339.7,629.6L340.1,629.5L340.5,629L340.9,629.5L341.3,629.3L341.7,629.2L342.1,628.9L342.5,628L342.9,627.6L343.3,627.2L343.7,627.7L344.1,627.5L344.5,628.8L344.9,628.8L345.3,629.2L345.7,629.7L346.1,630L346.5,630L346.9,630.1L347.3,631.4L347.7,630.5L348.1,625.4L348.5,623.1L348.9,631.7L349.3,637.8L349.7,635.6L350.1,630.4L350.5,630.3L350.9,629.7L351.3,629.8L351.7,629.7L352.1,629L352.5,628.7L352.9,628.1L353.3,627.5L353.7,627L354.1,626.9L354.5,627L354.9,626.6L355.3,627.3L355.7,627.1L356.1,627.2L356.5,628.3L356.9,628.6L357.3,628.3L357.7,628.4L358.1,629.2L358.5,629L358.9,629L359.3,628.8L359.7,628.8L360.1,629.2L360.5,629L360.9,629.2L361.3,628.9L361.7,628.8L362.1,628.3L362.5,628L362.9,627.8L363.3,628.9L363.7,628.5L364.1,629.5L364.5,629.2L364.9,629.6L365.3,629.9L365.7,629.4L366.1,630.7L366.5,630.3L366.9,627.3L367.3,620.5L367.7,626.6L368.1,634.8L368.5,635.1L368.9,631.1L369.3,629.4L369.7,628.8L370.1,628.9L370.5,629.2L370.9,628.9L371.3,627.7L371.7,627.6L372.1,627L372.5,626.8L372.9,626.8L373.3,626L373.7,626.1L374.1,625.5L374.5,626.3L374.9,626.9L375.3,627.1L375.7,627.2L376.1,628.7L376.5,628.8L376.9,629.3L377.3,629.9L377.7,630.6L378.1,630.1L378.5,629.8L378.9,629.9L379.3,629.7L379.7,628.3L380.1,628.6L380.5,627.9L380.9,627.4L381.3,627.4L381.7,628.3L382.1,628.9L382.5,629.7L382.9,629.7L383.3,629.6L383.7,629.9L384.1,629.5L384.5,630.1L384.9,631.4L385.3,631.3L385.7,627.9L386.1,622.1L386.5,628.4L386.9,633.3L387.3,633.2L387.7,630.3L388.1,629.3L388.5,628.7L388.9,628.9L389.3,628.9L389.7,628.4L390.1,628.4L390.5,627.9L390.9,628.2L391.3,627.3L391.7,626.4L392.1,626.2L392.5,626.3L392.9,626L393.3,626.6L393.7,627.7L394.1,627.5L394.5,627.9L394.9,628.3L395.3,628.7L395.7,629.1L396.1,629.2L396.5,628.8L396.9,629.2L397.3,629.4L397.7,629.2L398.1,629L398.5,628.8L398.9,628.3L399.3,627.8L399.7,627L400.1,627.3L400.5,627.5L400.9,627.7L401.3,628.2L401.7,629.4L402.1,629.4L402.5,629.3L402.9,629.4L403.3,629.5L403.7,630.9L404.1,631.3L404.5,628.7L404.9,622.6L405.3,626.4L405.7,632.8L406.1,634.4L406.5,630.3L406.9,629.7L407.3,628.8L407.7,628.9L408.1,629.2L408.5,629.1L408.9,628.2L409.3,628.1L409.7,627.2L410.1,627.3L410.5,626.8L410.9,626L411.3,625.6L411.7,625.8L412.1,626L412.5,626.1L412.9,626.5L413.3,627.1L413.7,627.3L414.1,627.5L414.5,628.4L414.9,628.5L415.3,629.3L415.7,629.6L416.1,629.5L416.5,629.6L416.9,629.8L417.3,629.2L417.7,628.2L418.1,627.5L418.5,628.1L418.9,627.9L419.3,628.6L419.7,629.3L420.1,629.6L420.5,629.2L420.9,629.4L421.3,629.9L421.7,630.4L422.1,631L422.5,632.4L422.9,631.5L423.3,627L423.7,623.5L424.1,630.7L424.5,636.8L424.9,635.2L425.3,630.7L425.7,629.5L426.1,629.1L426.5,629.2L426.9,629L427.3,628.9L427.7,629.5L428.1,628.1L428.5,627.8L428.9,627L429.3,626.2L429.7,626.2L430.1,626.9L430.5,626.7L430.9,627.3L431.3,627.2L431.7,628.3L432.1,628.1L432.5,628.8L432.9,629.1L433.3,629L433.7,629.1L434.1,629.5L434.5,630.4L434.9,629.7L435.3,629.9L435.7,629.7L436.1,628.8L436.5,628.2L436.9,627.8L437.3,628L437.7,627.4L438.1,627.9L438.5,628.6L438.9,628.4L439.3,628.2L439.7,628.7L440.1,629.4L440.5,630.1L440.9,630.8L441.3,630.5L441.7,627.5L442.1,620.4L442.5,626.8L442.9,633.4L443.3,634.7L443.7,630.4L444.1,629.2L444.5,629.5L444.9,629.3L445.3,629L445.7,629.1L446.1,628.9L446.5,627.7L446.9,627.4L447.3,627.3L447.7,626L448.1,626L448.5,626.2L448.9,626.4L449.3,626.3L449.7,626.8L450.1,626.5L450.5,626.8L450.9,627.6L451.3,628.6L451.7,628.8L452.1,629.1L452.5,629.1L452.9,628.7L453.3,629.3L453.7,629.6L454.1,629.6L454.5,629L454.9,629L455.3,628.2L455.7,627.9L456.1,627.5L456.5,627.7L456.9,628.9L457.3,628.7L457.7,629L458.1,629.7L458.5,630.2L458.9,630L459.3,630.4L459.7,632.3L460.1,631.5L460.5,628L460.9,620.8L461.3,629.1L461.7,636.1L462.1,636.5L462.5,632L462.9,630.6L463.3,630.1L463.7,629.8L464.1,629.6L464.5,628.8L464.9,629.5L465.3,628.8L465.7,628.5L466.1,627.5L466.5,627.6L466.9,626.9L467.3,626.8L467.7,625.9L468.1,626.4L468.5,627.2L468.9,627.8L469.3,628L469.7,628.6L470.1,628.7L470.5,629.1L470.9,629.9L471.3,630.8L471.7,630.4L472.1,630.7L472.5,630.7L472.9,630.4L473.3,629.7L473.7,630L474.1,629L474.5,628.1L474.9,628.3L475.3,628.4L475.7,629.1L476.1,629.5L476.5,629.7L476.9,630.1L477.3,630.8L477.7,630L478.1,630.3L478.5,630.6L478.9,630.7L479.3,631.9L479.7,629L480.1,623.9L480.5,626.7L480.9,633.9L481.3,636.2L481.7,631.7L482.1,630.7L482.5,630.5L482.9,630.7L483.3,630.6L483.7,629.7L484.1,629.8L484.5,628.9L484.9,628L485.3,627.9L485.7,627.5L486.1,627.6L486.5,627L486.9,627.3L487.3,627.8L487.7,627.9L488.1,628.8L488.5,628.7L488.9,629.6L489.3,629.6L489.7,630.4L490.1,630.1L490.5,630.4L490.9,630.3L491.3,630.1L491.7,630.2L492.1,630.2L492.5,629L492.9,629.6L493.3,628.3L493.7,628.4L494.1,628.8L494.5,628.7L494.9,629.2L495.3,630.4L495.7,630.2L496.1,630.7L496.5,630.7L496.9,630.2L497.3,630.8L497.7,631.1L498.1,629.8L498.5,622.3L498.9,625.3L499.3,633.8L499.7,636.1L500.1,632.6L500.5,631L500.9,630.1L501.3,629.9L501.7,629.8L502.1,630.5L502.5,630L502.9,629.2L503.3,628.7L503.7,628.4L504.1,627.5L504.5,627.3L504.9,627L505.3,626.7L505.7,627.4L506.1,627.4L506.5,627.9L506.9,628L507.3,628.5L507.7,628.9L508.1,628.6L508.5,628.8L508.9,629.8L509.3,629.3L509.7,629L510.1,629.8L510.5,629.7L510.9,629.9L511.3,629.3L511.7,629.1L512.1,628.3L512.5,628L512.9,627.4L513.3,627.7L513.7,628L514.1,628.4L514.5,628.7L514.9,629.5L515.3,630.1L515.7,630L516.1,629.5L516.5,630.2L516.9,631.1L517.3,629.8L517.7,624.2L518.1,624.7L518.5,631.2L518.9,633.6L519.3,631.9L519.7,629.7L520.1,629.6L520.5,629L520.9,629.2L521.3,629.2L521.7,628.3L522.1,628.1L522.5,627.2L522.9,626.1L523.3,626.6L523.7,625.6L524.1,625.5L524.5,625.1L524.9,626L525.3,626.2L525.7,626.6L526.1,626.3L526.5,627.3L526.9,627.4L527.3,627L527.7,628L528.1,627.9L528.5,628L528.9,627.9L529.3,627.3L529.7,627.2L530.1,627.7L530.5,626.6L530.9,626.5L531.3,626.8L531.7,626.7L532.1,626.9L532.5,627.2L532.9,627.4L533.3,628L533.7,627.9L534.1,628.5L534.5,629.2L534.9,629.6L535.3,629.6L535.7,627.9L536.1,619L536.5,623.3L536.9,631.9L537.3,634.2L537.7,630.9L538.1,628.9L538.5,629L538.9,629.2L539.3,628.8L539.7,628L540.1,628.2L540.5,627.8L540.9,627.8L541.3,627.8L541.7,627.1L542.1,626.6L542.5,626.2L542.9,626.1L543.3,626.5L543.7,626.6L544.1,627.9L544.5,628.6L544.9,628.9L545.3,629.5L545.7,629.6L546.1,630.5L546.5,630.1L546.9,630.6L547.3,630.6L547.7,629.7L548.1,630.2L548.5,629.9L548.9,629L549.3,628.4L549.7,627.8L550.1,628.3L550.5,628.1L550.9,629L551.3,629.3L551.7,629.6L552.1,629.7L552.5,630L552.9,629.7L553.3,629.6L553.7,630.6L554.1,631.3L554.5,629.1L554.9,621.8L555.3,622.9L555.7,630.8L556.1,634.7L556.5,631.9L556.9,629.9L557.3,629.5L557.7,629.6L558.1,629.5L558.5,629.5L558.9,629.5L559.3,629L559.7,628.9L560.1,628.1L560.5,628L560.9,627.6L561.3,627.2L561.7,627.7L562.1,627.7L562.5,628L562.9,628L563.3,628.8L563.7,628.8L564.1,629.7L564.5,630.4L564.9,630.5L565.3,630.5L565.7,630.1L566.1,630.5L566.5,630.4L566.9,630.4L567.3,629.4L567.7,629.1L568.1,628.3L568.5,628.8L568.9,628L569.3,627.6L569.7,628.2L570.1,628.5L570.5,628.9L570.9,629.2L571.3,628.7L571.7,629.4L572.1,628.9L572.5,629.2L572.9,630.1L573.3,630.8L573.7,625.3L574.1,619.5L574.5,626.9L574.9,634.8L575.3,634.4L575.7,630.4L576.1,629.9L576.5,629.1L576.9,629L577.3,629.6L577.7,629.4L578.1,628.1L578.5,628.1L578.9,627.7L579.3,627.7L579.7,627.1L580.1,626.1L580.5,626.2L580.9,626.2L581.3,625.9L581.7,626.9L582.1,626.8L582.5,628.1L582.9,627.8L583.3,629L583.7,629.2L584.1,629L584.5,629.2L584.9,630.1L585.3,630L585.7,629.7L586.1,629L586.5,629.6L586.9,628.4L587.3,627.4L587.7,627.9L588.1,627.7L588.5,627.9L588.9,628.6L589.3,629.8L589.7,630.4L590.1,630.2L590.5,630L590.9,630.5L591.3,631.1L591.7,631.6L592.1,632.1L592.5,628.1L592.9,622.3L593.3,627.8L593.7,632.9L594.1,633.7L594.5,630.7L594.9,629.9L595.3,630.1L595.7,630.9L596.1,630.7L596.5,629.8L596.9,630L597.3,629L597.7,629.6L598.1,628.4L598.5,627.7L598.9,627.6L599.3,627.3L599.7,628L600.1,628.1L600.5,629L600.9,629.7L601.3,629.6L601.7,629.6L602.1,629.8L602.5,630.2L602.9,630.5L603.3,630L603.7,630.2L604.1,629.8L604.5,629.7L604.9,629.9L605.3,629.1L605.7,629.3L606.1,629.1L606.5,628.3L606.9,629.2L607.3,629L607.7,629.7L608.1,629.7L608.5,629.6L608.9,630.6L609.3,630.4L609.7,630L610.1,631.2L610.5,632.5L610.9,631.7L611.3,628.9L611.7,623.3L612.1,628.5L612.5,633.9L612.9,633.7L613.3,631.3L613.7,630.6L614.1,631.1L614.5,630.9L614.9,629.9L615.3,629.8L615.7,629.7L616.1,629.4L616.5,629.3L616.9,628.7L617.3,627.6L617.7,627.6L618.1,627.3L618.5,627L618.9,627.7L619.3,627.6L619.7,628.3L620.1,628.4L620.5,629.5L620.9,629.4L621.3,629.9L621.7,630.8L622.1,629.9L622.5,630.2L622.9,629.9L623.3,630.7L623.7,630L624.1,629.7L624.5,629.5L624.9,629L625.3,628.9L625.7,629.2L626.1,628.8L626.5,629.9L626.9,630.2L627.3,629.9L627.7,629.9L628.1,630.4L628.5,630.6L628.9,631.2L629.3,632.5L629.7,632L630.1,630.2L630.5,622.4L630.9,625.1L631.3,633.1L631.7,636.2L632.1,632.2L632.5,630.7L632.9,630.1L633.3,630.4L633.7,630.5L634.1,630.1L634.5,630.5L634.9,629.8L635.3,629.2L635.7,629.5L636.1,628.3L636.5,627.8L636.9,627.9L637.3,627.7L637.7,628.2L638.1,628.8L638.5,629.3L638.9,629.4L639.3,630.1L639.7,630.5L640.1,630.4L640.5,630.5L640.9,631.2L641.3,631.8L641.7,631.5L642.1,631.6L642.5,630.8L642.9,630.8L643.3,630.4L643.7,630.1L644.1,630.3L644.5,629.9L644.9,629.9L645.3,630.6L645.7,631.1L646.1,631.1L646.5,631L646.9,631.8L647.3,632.5L647.7,632.6L648.1,632.9L648.5,632.9L648.9,630.9L649.3,625.4L649.7,629.4L650.1,636.6L650.5,638.7L650.9,632.8L651.3,630.8L651.7,631L652.1,629.9L652.5,629.8L652.9,629.4L653.3,629.2L653.7,629L654.1,628.2L654.5,628.2L654.9,627.2L655.3,627.7L655.7,627.3L656.1,627.4L656.5,627.9L656.9,627.5L657.3,628.5L657.7,629.4L658.1,629.9L658.5,629.6L658.9,629.8L659.3,630.2L659.7,629.9L660.1,630.1L660.5,629.3L660.9,629.2L661.3,629.3L661.7,628.5L662.1,628.7L662.5,627.6L662.9,627.2L663.3,627.1L663.7,627.6L664.1,628L664.5,627.9L664.9,629L665.3,628.7L665.7,628.4L666.1,628.6L666.5,628.8L666.9,629.8L667.3,629.6L667.7,627.7L668.1,621.3L668.5,626.4L668.9,634L669.3,634L669.7,629.4L670.1,628.2L670.5,628.1L670.9,628.2L671.3,628.1L671.7,628L672.1,628.4L672.5,627.5L672.9,626.7L673.3,627L673.7,626.1L674.1,625.8L674.5,626.3L674.9,626.3L675.3,626.5L675.7,626.3L676.1,626.9L676.5,627.9L676.9,627.4L677.3,628L677.7,628.5L678.1,629.3L678.5,629.6L678.9,629.8L679.3,629.6L679.7,629.5L680.1,629.4L680.5,628.9L680.9,628.6L681.3,628.3L681.7,628.6L682.1,628.2L682.5,628.6L682.9,628.9L683.3,628.8L683.7,629.6L684.1,630L684.5,630.3L684.9,631L685.3,630.8L685.7,630.8L686.1,631.7L686.5,631.9L686.9,628.7L687.3,623L687.7,628.3L688.1,633.4L688.5,633.4L688.9,631.5L689.3,630.7L689.7,630.8L690.1,629.9L690.5,630.1L690.9,630.4L691.3,630.5L691.7,629L692.1,628.7L692.5,628.3L692.9,628.1L693.3,627.3L693.7,626.7L694.1,626.5L694.5,626.4L694.9,627L695.3,627.2L695.7,627.5L696.1,628.2L696.5,628.8L696.9,629.1L697.3,629.1L697.7,629.2L698.1,629.5L698.5,629.3L698.9,629L699.3,628.4L699.7,627.9L700.1,628.4L700.5,627.8L700.9,627.5L701.3,628.3L701.7,629L702.1,629.1L702.5,630.2L702.9,630.9L703.3,630.6L703.7,631.3L704.1,631.7L704.5,631.8L704.9,631.8L705.3,628L705.7,620.4" fill="none" stroke="#3b9a5c" stroke-width="0.9" stroke-linejoin="round"/>
<rect x="161" y="386.5" width="546" height="255.7" fill="none" stroke="#333" stroke-width="1.4"/>
<g font-family='"Liberation Sans", sans-serif' font-size="18" text-anchor="end"><text x="153.2" y="407.2">5 km (174bpm)</text><text x="153.2" y="436.6">10 km (174bpm)</text><text x="153.2" y="464.7">15 km (168bpm)</text><text x="153.2" y="492.5">20 km (150bpm)</text><text x="153.2" y="519.7">halfway (162bpm)</text><text x="153.2" y="548.5">25 km (180bpm)</text><text x="153.2" y="576.3">30 km (180bpm)</text><text x="153.2" y="605">35 km (180bpm)</text><text x="153.2" y="633.2">40 km (126bpm)</text></g>
<line x1="169.8" y1="650.7" x2="699.2" y2="650.7" stroke="#000" stroke-width="1.6"/><path d="M162,650.7L170.8,646.4L170.8,655Z"/><path d="M707,650.7L698.2,646.4L698.2,655Z"/>
<text x="382.6" y="668.1" font-family='"Liberation Sans", sans-serif' font-size="17.7">10 seconds</text>
<g transform="translate(-0.6,690.4) scale(1.08,1)"><text font-family='"Liberation Sans", sans-serif' font-weight="bold" font-size="21">(c)</text></g>
<g font-family='"Liberation Sans", sans-serif' font-size="18"><path d="M96.8,713.4V781.5H691.6" fill="none" stroke="#000" stroke-width="1.5"/><line x1="91.1" y1="781.5" x2="96.8" y2="781.5" stroke="#000" stroke-width="1.4"/><text x="75.8" y="787.7" text-anchor="end" font-size="17.5">0</text><line x1="91.1" y1="747.8" x2="96.8" y2="747.8" stroke="#000" stroke-width="1.4"/><text x="75.8" y="754" text-anchor="end" font-size="17.5">50</text><line x1="91.1" y1="714" x2="96.8" y2="714" stroke="#000" stroke-width="1.4"/><text x="75.8" y="720.2" text-anchor="end" font-size="17.5">100</text><line x1="96.8" y1="781.5" x2="96.8" y2="787.7" stroke="#000" stroke-width="1.4"/><text x="96.8" y="808.7" text-anchor="middle">0</text><line x1="162.9" y1="781.5" x2="162.9" y2="787.7" stroke="#000" stroke-width="1.4"/><text x="162.9" y="808.7" text-anchor="middle">20</text><line x1="228.9" y1="781.5" x2="228.9" y2="787.7" stroke="#000" stroke-width="1.4"/><text x="228.9" y="808.7" text-anchor="middle">40</text><line x1="294.9" y1="781.5" x2="294.9" y2="787.7" stroke="#000" stroke-width="1.4"/><text x="294.9" y="808.7" text-anchor="middle">60</text><line x1="360.9" y1="781.5" x2="360.9" y2="787.7" stroke="#000" stroke-width="1.4"/><text x="360.9" y="808.7" text-anchor="middle">80</text><line x1="427" y1="781.5" x2="427" y2="787.7" stroke="#000" stroke-width="1.4"/><text x="427" y="808.7" text-anchor="middle">100</text><line x1="493" y1="781.5" x2="493" y2="787.7" stroke="#000" stroke-width="1.4"/><text x="493" y="808.7" text-anchor="middle">120</text><line x1="559" y1="781.5" x2="559" y2="787.7" stroke="#000" stroke-width="1.4"/><text x="559" y="808.7" text-anchor="middle">140</text><line x1="625" y1="781.5" x2="625" y2="787.7" stroke="#000" stroke-width="1.4"/><text x="625" y="808.7" text-anchor="middle">160</text><line x1="691" y1="781.5" x2="691" y2="787.7" stroke="#000" stroke-width="1.4"/><text x="691" y="808.7" text-anchor="middle">180</text><path d="M96.8,766.6L106.8,759.2L116.7,781.5L126.6,781.5L136.5,774.1L146.4,714L156.3,714L166.2,714L176.1,714L186,714L195.9,714L205.8,714L215.7,714L225.6,714L235.5,714L245.4,714L255.3,714L265.2,714L275.1,714L285,714L294.9,714L304.8,714L314.7,714L324.6,714L334.5,714L344.4,714L354.3,714L364.2,714L374.1,714L384,714L393.9,714L403.8,714L413.7,714L423.6,714L433.6,714L443.5,714L453.4,714L463.3,714L473.2,714L483.1,714L493,714L502.9,714L512.8,714L522.7,714L532.6,714L542.5,714L552.4,714L562.3,714L572.2,714L582.1,714L592,714L601.9,714L611.8,714L621.7,714L631.6,714L641.5,714L651.4,714L661.3,714L671.2,714L681.1,714L691,714" fill="none" stroke="#000" stroke-width="2"/><circle cx="96.8" cy="766.6" r="4.5"/><circle cx="106.8" cy="759.2" r="4.5"/><circle cx="116.7" cy="781.5" r="4.5"/><circle cx="126.6" cy="781.5" r="4.5"/><circle cx="136.5" cy="774.1" r="4.5"/><circle cx="146.4" cy="714" r="4.5"/><circle cx="156.3" cy="714" r="4.5"/><circle cx="166.2" cy="714" r="4.5"/><circle cx="176.1" cy="714" r="4.5"/><circle cx="186" cy="714" r="4.5"/><circle cx="195.9" cy="714" r="4.5"/><circle cx="205.8" cy="714" r="4.5"/><circle cx="215.7" cy="714" r="4.5"/><circle cx="225.6" cy="714" r="4.5"/><circle cx="235.5" cy="714" r="4.5"/><circle cx="245.4" cy="714" r="4.5"/><circle cx="255.3" cy="714" r="4.5"/><circle cx="265.2" cy="714" r="4.5"/><circle cx="275.1" cy="714" r="4.5"/><circle cx="285" cy="714" r="4.5"/><circle cx="294.9" cy="714" r="4.5"/><circle cx="304.8" cy="714" r="4.5"/><circle cx="314.7" cy="714" r="4.5"/><circle cx="324.6" cy="714" r="4.5"/><circle cx="334.5" cy="714" r="4.5"/><circle cx="344.4" cy="714" r="4.5"/><circle cx="354.3" cy="714" r="4.5"/><circle cx="364.2" cy="714" r="4.5"/><circle cx="374.1" cy="714" r="4.5"/><circle cx="384" cy="714" r="4.5"/><circle cx="393.9" cy="714" r="4.5"/><circle cx="403.8" cy="714" r="4.5"/><circle cx="413.7" cy="714" r="4.5"/><circle cx="423.6" cy="714" r="4.5"/><circle cx="433.6" cy="714" r="4.5"/><circle cx="443.5" cy="714" r="4.5"/><circle cx="453.4" cy="714" r="4.5"/><circle cx="463.3" cy="714" r="4.5"/><circle cx="473.2" cy="714" r="4.5"/><circle cx="483.1" cy="714" r="4.5"/><circle cx="493" cy="714" r="4.5"/><circle cx="502.9" cy="714" r="4.5"/><circle cx="512.8" cy="714" r="4.5"/><circle cx="522.7" cy="714" r="4.5"/><circle cx="532.6" cy="714" r="4.5"/><circle cx="542.5" cy="714" r="4.5"/><circle cx="552.4" cy="714" r="4.5"/><circle cx="562.3" cy="714" r="4.5"/><circle cx="572.2" cy="714" r="4.5"/><circle cx="582.1" cy="714" r="4.5"/><circle cx="592" cy="714" r="4.5"/><circle cx="601.9" cy="714" r="4.5"/><circle cx="611.8" cy="714" r="4.5"/><circle cx="621.7" cy="714" r="4.5"/><circle cx="631.6" cy="714" r="4.5"/><circle cx="641.5" cy="714" r="4.5"/><circle cx="651.4" cy="714" r="4.5"/><circle cx="661.3" cy="714" r="4.5"/><circle cx="671.2" cy="714" r="4.5"/><circle cx="681.1" cy="714" r="4.5"/><circle cx="691" cy="714" r="4.5"/><text x="99.4" y="693.7" font-size="17.75">Runner No.1</text></g>
<g font-family='"Liberation Sans", sans-serif' font-size="18"><path d="M96.6,852.3V925.8H694.5" fill="none" stroke="#000" stroke-width="1.5"/><line x1="90.9" y1="925.8" x2="96.6" y2="925.8" stroke="#000" stroke-width="1.4"/><text x="75.8" y="932" text-anchor="end" font-size="17.5">0</text><line x1="90.9" y1="889.3" x2="96.6" y2="889.3" stroke="#000" stroke-width="1.4"/><text x="75.8" y="895.5" text-anchor="end" font-size="17.5">50</text><line x1="90.9" y1="852.9" x2="96.6" y2="852.9" stroke="#000" stroke-width="1.4"/><text x="75.8" y="859.1" text-anchor="end" font-size="17.5">100</text><line x1="96.6" y1="925.8" x2="96.6" y2="932" stroke="#000" stroke-width="1.4"/><text x="96.6" y="953" text-anchor="middle">0</text><line x1="181.9" y1="925.8" x2="181.9" y2="932" stroke="#000" stroke-width="1.4"/><text x="181.9" y="953" text-anchor="middle">50</text><line x1="267.3" y1="925.8" x2="267.3" y2="932" stroke="#000" stroke-width="1.4"/><text x="267.3" y="953" text-anchor="middle">100</text><line x1="352.6" y1="925.8" x2="352.6" y2="932" stroke="#000" stroke-width="1.4"/><text x="352.6" y="953" text-anchor="middle">150</text><line x1="437.9" y1="925.8" x2="437.9" y2="932" stroke="#000" stroke-width="1.4"/><text x="437.9" y="953" text-anchor="middle">200</text><line x1="523.2" y1="925.8" x2="523.2" y2="932" stroke="#000" stroke-width="1.4"/><text x="523.2" y="953" text-anchor="middle">250</text><line x1="608.6" y1="925.8" x2="608.6" y2="932" stroke="#000" stroke-width="1.4"/><text x="608.6" y="953" text-anchor="middle">300</text><line x1="693.9" y1="925.8" x2="693.9" y2="932" stroke="#000" stroke-width="1.4"/><text x="693.9" y="953" text-anchor="middle">350</text><path d="M101.7,852.9L106.8,857.3L112,852.9L117.1,852.9L122.2,873.3L127.3,852.9L132.4,852.9L137.6,852.9L142.7,852.9L147.8,852.9L152.9,852.9L158,852.9L163.2,852.9L168.3,852.9L173.4,852.9L178.5,852.9L183.6,852.9L188.8,852.9L193.9,852.9L199,852.9L204.1,852.9L209.2,852.9L214.4,852.9L219.5,852.9L224.6,852.9L229.7,852.9L234.8,852.9L240,852.9L245.1,852.9L250.2,852.9L255.3,852.9L260.4,852.9L265.6,852.9L270.7,852.9L275.8,852.9L280.9,905.4L286,909L291.2,909L296.3,913.4L301.4,921.4L306.5,925.8L311.6,925.8L316.8,913.4L321.9,925.8L327,925.8L332.1,925.8L337.2,925.8L342.4,917.8L347.5,901.7L352.6,925.8L357.7,925.8L362.8,925.8L367.9,925.8L373.1,921.4L378.2,925.8L383.3,925.8L388.4,925.8L393.5,925.8L398.7,913.4L403.8,913.4L408.9,925.8L414,925.8L419.1,925.8L424.3,917.8L429.4,913.4L434.5,905.4L439.6,925.8L444.7,901.7L449.9,913.4L455,925.8L460.1,925.8L465.2,913.4L470.3,889.3L475.5,913.4L480.6,925.8L485.7,901.7L490.8,917.8L495.9,877L501.1,865.3L506.2,877L511.3,913.4L516.4,865.3L521.5,877L526.7,884.2L531.8,905.4L536.9,925.8L542,925.8L547.1,925.8L552.3,925.8L557.4,905.4L562.5,925.8L567.6,925.8L572.7,925.8L577.9,925.8L583,925.8L588.1,925.8L593.2,925.8L598.3,925.8L603.5,925.8L608.6,913.4L613.7,925.8L618.8,925.8L623.9,925.8L629.1,925.8L634.2,925.8L639.3,925.8L644.4,925.8L649.5,925.8L654.7,925.8L659.8,925.8L664.9,925.8L670,925.8L675.1,913.4L680.3,925.8L685.4,889.3" fill="none" stroke="#000" stroke-width="2"/><circle cx="101.7" cy="852.9" r="4.5"/><circle cx="106.8" cy="857.3" r="4.5"/><circle cx="112" cy="852.9" r="4.5"/><circle cx="117.1" cy="852.9" r="4.5"/><circle cx="122.2" cy="873.3" r="4.5"/><circle cx="127.3" cy="852.9" r="4.5"/><circle cx="132.4" cy="852.9" r="4.5"/><circle cx="137.6" cy="852.9" r="4.5"/><circle cx="142.7" cy="852.9" r="4.5"/><circle cx="147.8" cy="852.9" r="4.5"/><circle cx="152.9" cy="852.9" r="4.5"/><circle cx="158" cy="852.9" r="4.5"/><circle cx="163.2" cy="852.9" r="4.5"/><circle cx="168.3" cy="852.9" r="4.5"/><circle cx="173.4" cy="852.9" r="4.5"/><circle cx="178.5" cy="852.9" r="4.5"/><circle cx="183.6" cy="852.9" r="4.5"/><circle cx="188.8" cy="852.9" r="4.5"/><circle cx="193.9" cy="852.9" r="4.5"/><circle cx="199" cy="852.9" r="4.5"/><circle cx="204.1" cy="852.9" r="4.5"/><circle cx="209.2" cy="852.9" r="4.5"/><circle cx="214.4" cy="852.9" r="4.5"/><circle cx="219.5" cy="852.9" r="4.5"/><circle cx="224.6" cy="852.9" r="4.5"/><circle cx="229.7" cy="852.9" r="4.5"/><circle cx="234.8" cy="852.9" r="4.5"/><circle cx="240" cy="852.9" r="4.5"/><circle cx="245.1" cy="852.9" r="4.5"/><circle cx="250.2" cy="852.9" r="4.5"/><circle cx="255.3" cy="852.9" r="4.5"/><circle cx="260.4" cy="852.9" r="4.5"/><circle cx="265.6" cy="852.9" r="4.5"/><circle cx="270.7" cy="852.9" r="4.5"/><circle cx="275.8" cy="852.9" r="4.5"/><circle cx="280.9" cy="905.4" r="4.5"/><circle cx="286" cy="909" r="4.5"/><circle cx="291.2" cy="909" r="4.5"/><circle cx="296.3" cy="913.4" r="4.5"/><circle cx="301.4" cy="921.4" r="4.5"/><circle cx="306.5" cy="925.8" r="4.5"/><circle cx="311.6" cy="925.8" r="4.5"/><circle cx="316.8" cy="913.4" r="4.5"/><circle cx="321.9" cy="925.8" r="4.5"/><circle cx="327" cy="925.8" r="4.5"/><circle cx="332.1" cy="925.8" r="4.5"/><circle cx="337.2" cy="925.8" r="4.5"/><circle cx="342.4" cy="917.8" r="4.5"/><circle cx="347.5" cy="901.7" r="4.5"/><circle cx="352.6" cy="925.8" r="4.5"/><circle cx="357.7" cy="925.8" r="4.5"/><circle cx="362.8" cy="925.8" r="4.5"/><circle cx="367.9" cy="925.8" r="4.5"/><circle cx="373.1" cy="921.4" r="4.5"/><circle cx="378.2" cy="925.8" r="4.5"/><circle cx="383.3" cy="925.8" r="4.5"/><circle cx="388.4" cy="925.8" r="4.5"/><circle cx="393.5" cy="925.8" r="4.5"/><circle cx="398.7" cy="913.4" r="4.5"/><circle cx="403.8" cy="913.4" r="4.5"/><circle cx="408.9" cy="925.8" r="4.5"/><circle cx="414" cy="925.8" r="4.5"/><circle cx="419.1" cy="925.8" r="4.5"/><circle cx="424.3" cy="917.8" r="4.5"/><circle cx="429.4" cy="913.4" r="4.5"/><circle cx="434.5" cy="905.4" r="4.5"/><circle cx="439.6" cy="925.8" r="4.5"/><circle cx="444.7" cy="901.7" r="4.5"/><circle cx="449.9" cy="913.4" r="4.5"/><circle cx="455" cy="925.8" r="4.5"/><circle cx="460.1" cy="925.8" r="4.5"/><circle cx="465.2" cy="913.4" r="4.5"/><circle cx="470.3" cy="889.3" r="4.5"/><circle cx="475.5" cy="913.4" r="4.5"/><circle cx="480.6" cy="925.8" r="4.5"/><circle cx="485.7" cy="901.7" r="4.5"/><circle cx="490.8" cy="917.8" r="4.5"/><circle cx="495.9" cy="877" r="4.5"/><circle cx="501.1" cy="865.3" r="4.5"/><circle cx="506.2" cy="877" r="4.5"/><circle cx="511.3" cy="913.4" r="4.5"/><circle cx="516.4" cy="865.3" r="4.5"/><circle cx="521.5" cy="877" r="4.5"/><circle cx="526.7" cy="884.2" r="4.5"/><circle cx="531.8" cy="905.4" r="4.5"/><circle cx="536.9" cy="925.8" r="4.5"/><circle cx="542" cy="925.8" r="4.5"/><circle cx="547.1" cy="925.8" r="4.5"/><circle cx="552.3" cy="925.8" r="4.5"/><circle cx="557.4" cy="905.4" r="4.5"/><circle cx="562.5" cy="925.8" r="4.5"/><circle cx="567.6" cy="925.8" r="4.5"/><circle cx="572.7" cy="925.8" r="4.5"/><circle cx="577.9" cy="925.8" r="4.5"/><circle cx="583" cy="925.8" r="4.5"/><circle cx="588.1" cy="925.8" r="4.5"/><circle cx="593.2" cy="925.8" r="4.5"/><circle cx="598.3" cy="925.8" r="4.5"/><circle cx="603.5" cy="925.8" r="4.5"/><circle cx="608.6" cy="913.4" r="4.5"/><circle cx="613.7" cy="925.8" r="4.5"/><circle cx="618.8" cy="925.8" r="4.5"/><circle cx="623.9" cy="925.8" r="4.5"/><circle cx="629.1" cy="925.8" r="4.5"/><circle cx="634.2" cy="925.8" r="4.5"/><circle cx="639.3" cy="925.8" r="4.5"/><circle cx="644.4" cy="925.8" r="4.5"/><circle cx="649.5" cy="925.8" r="4.5"/><circle cx="654.7" cy="925.8" r="4.5"/><circle cx="659.8" cy="925.8" r="4.5"/><circle cx="664.9" cy="925.8" r="4.5"/><circle cx="670" cy="925.8" r="4.5"/><circle cx="675.1" cy="913.4" r="4.5"/><circle cx="680.3" cy="925.8" r="4.5"/><circle cx="685.4" cy="889.3" r="4.5"/><text x="99.4" y="837.6" font-size="17.75">Runner No.11</text></g>
<g font-family='"Liberation Sans", sans-serif' font-size="17.7" text-anchor="middle"><text transform="translate(17.6,820.2) rotate(-90)">Adequate data</text><text transform="translate(38.8,821) rotate(-90)">acquisition rate (%)</text></g>
<text x="301.8" y="977.3" font-family='"Liberation Sans", sans-serif' font-size="18">Running time (minutes)</text>
</svg>
</body></html>
